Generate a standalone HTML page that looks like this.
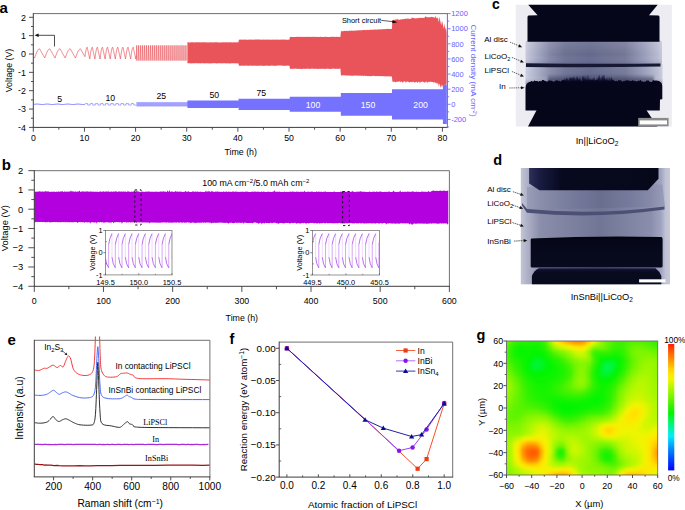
<!DOCTYPE html>
<html><head><meta charset="utf-8"><style>
html,body{margin:0;padding:0;background:#fff;}
svg{display:block;font-family:"Liberation Sans",sans-serif;}
</style></head><body>
<svg width="685" height="510" viewBox="0 0 685 510">
<rect width="685" height="510" fill="#fff"/>
<text x="-0.6" y="13.4" font-size="15" text-anchor="start" fill="#000" font-weight="bold">a</text>
<path d="M34 57.12 L34.26 57.58 L34.51 58.04 L34.77 57.32 L35.02 56.6 L35.28 55.9 L35.53 55.2 L35.79 54.53 L36.05 53.87 L36.3 53.24 L36.56 52.64 L36.81 52.08 L37.07 51.55 L37.32 51.06 L37.58 50.61 L37.84 50.21 L38.09 49.86 L38.35 49.56 L38.6 49.31 L38.86 49.12 L39.11 48.97 L39.37 48.89 L39.63 48.86 L39.88 49.32 L40.14 49.78 L40.39 50.24 L40.65 50.7 L40.9 51.16 L41.16 51.61 L41.42 52.07 L41.67 52.53 L41.93 52.99 L42.18 53.45 L42.44 53.91 L42.69 54.37 L42.95 54.83 L43.21 55.28 L43.46 55.74 L43.72 56.2 L43.97 56.66 L44.23 57.12 L44.48 57.58 L44.74 58.04 L45 57.32 L45.25 56.6 L45.51 55.9 L45.76 55.2 L46.02 54.53 L46.27 53.87 L46.53 53.24 L46.78 52.64 L47.04 52.08 L47.3 51.55 L47.55 51.06 L47.81 50.61 L48.06 50.21 L48.32 49.86 L48.57 49.56 L48.83 49.31 L49.09 49.12 L49.34 48.97 L49.6 48.89 L49.85 48.86 L50.11 49.32 L50.36 49.78 L50.62 50.24 L50.88 50.7 L51.13 51.16 L51.39 51.61 L51.64 52.07 L51.9 52.53 L52.15 52.99 L52.41 53.45 L52.67 53.91 L52.92 54.37 L53.18 54.83 L53.43 55.28 L53.69 55.74 L53.94 56.2 L54.2 56.66 L54.46 57.12 L54.71 57.58 L54.97 58.04 L55.22 57.32 L55.48 56.6 L55.73 55.9 L55.99 55.2 L56.25 54.53 L56.5 53.87 L56.76 53.24 L57.01 52.64 L57.27 52.08 L57.52 51.55 L57.78 51.06 L58.04 50.61 L58.29 50.21 L58.55 49.86 L58.8 49.56 L59.06 49.31 L59.31 49.12 L59.57 48.97 L59.83 48.89 L60.08 48.86 L60.34 49.32 L60.59 49.78 L60.85 50.24 L61.1 50.7 L61.36 51.16 L61.62 51.61 L61.87 52.07 L62.13 52.53 L62.38 52.99 L62.64 53.45 L62.89 53.91 L63.15 54.37 L63.41 54.83 L63.66 55.28 L63.92 55.74 L64.17 56.2 L64.43 56.66 L64.68 57.12 L64.94 57.58 L65.2 58.04 L65.45 57.32 L65.71 56.6 L65.96 55.9 L66.22 55.2 L66.47 54.53 L66.73 53.87 L66.99 53.24 L67.24 52.64 L67.5 52.08 L67.75 51.55 L68.01 51.06 L68.26 50.61 L68.52 50.21 L68.78 49.86 L69.03 49.56 L69.29 49.31 L69.54 49.12 L69.8 48.97 L70.05 48.89 L70.31 48.86 L70.57 49.32 L70.82 49.78 L71.08 50.24 L71.33 50.7 L71.59 51.16 L71.84 51.61 L72.1 52.07 L72.35 52.53 L72.61 52.99 L72.87 53.45 L73.12 53.91 L73.38 54.37 L73.63 54.83 L73.89 55.28 L74.14 55.74 L74.4 56.2 L74.66 56.66 L74.91 57.12 L75.17 57.58 L75.42 58.04 L75.68 57.32 L75.93 56.6 L76.19 55.9 L76.45 55.2 L76.7 54.53 L76.96 53.87 L77.21 53.24 L77.47 52.64 L77.72 52.08 L77.98 51.55 L78.24 51.06 L78.49 50.61 L78.75 50.21 L79 49.86 L79.26 49.56 L79.51 49.31 L79.77 49.12 L80.03 48.97 L80.28 48.89 L80.54 48.86 L80.79 49.32 L81.05 49.78 L81.3 50.24 L81.56 50.7 L81.82 51.16 L82.07 51.61 L82.33 52.07 L82.58 52.53 L82.84 52.99 L83.09 53.45 L83.35 53.91 L83.61 54.37 L83.86 54.83 L84.12 55.28 L84.37 55.74 L84.63 56.2 L84.88 56.66 L85.14 55.33 L85.27 54.46 L85.4 53.62 L85.52 52.82 L85.65 52.05 L85.78 51.33 L85.91 50.65 L86.03 50.02 L86.16 49.45 L86.29 48.94 L86.42 48.49 L86.55 48.1 L86.67 47.79 L86.8 47.53 L86.93 47.36 L87.06 47.25 L87.19 47.21 L87.31 47.8 L87.44 48.38 L87.57 48.97 L87.7 49.56 L87.82 50.15 L87.95 50.73 L88.08 51.32 L88.21 51.91 L88.34 52.5 L88.46 53.08 L88.59 53.67 L88.72 54.26 L88.85 54.84 L88.98 55.43 L89.1 56.02 L89.23 56.61 L89.36 57.19 L89.49 57.78 L89.61 58.37 L89.74 58.95 L89.87 58.03 L90 57.12 L90.13 56.21 L90.25 55.33 L90.38 54.46 L90.51 53.62 L90.64 52.82 L90.77 52.05 L90.89 51.33 L91.02 50.65 L91.15 50.02 L91.28 49.45 L91.4 48.94 L91.53 48.49 L91.66 48.1 L91.79 47.79 L91.92 47.53 L92.04 47.36 L92.17 47.25 L92.3 47.21 L92.43 47.8 L92.56 48.38 L92.68 48.97 L92.81 49.56 L92.94 50.15 L93.07 50.73 L93.19 51.32 L93.32 51.91 L93.45 52.5 L93.58 53.08 L93.71 53.67 L93.83 54.26 L93.96 54.84 L94.09 55.43 L94.22 56.02 L94.35 56.61 L94.47 57.19 L94.6 57.78 L94.73 58.37 L94.86 58.95 L94.98 58.03 L95.11 57.12 L95.24 56.21 L95.37 55.33 L95.5 54.46 L95.62 53.62 L95.75 52.82 L95.88 52.05 L96.01 51.33 L96.14 50.65 L96.26 50.02 L96.39 49.45 L96.52 48.94 L96.65 48.49 L96.77 48.1 L96.9 47.79 L97.03 47.53 L97.16 47.36 L97.29 47.25 L97.41 47.21 L97.54 47.8 L97.67 48.38 L97.8 48.97 L97.93 49.56 L98.05 50.15 L98.18 50.73 L98.31 51.32 L98.44 51.91 L98.56 52.5 L98.69 53.08 L98.82 53.67 L98.95 54.26 L99.08 54.84 L99.2 55.43 L99.33 56.02 L99.46 56.61 L99.59 57.19 L99.71 57.78 L99.84 58.37 L99.97 58.95 L100.1 58.03 L100.23 57.12 L100.35 56.21 L100.48 55.33 L100.61 54.46 L100.74 53.62 L100.87 52.82 L100.99 52.05 L101.12 51.33 L101.25 50.65 L101.38 50.02 L101.5 49.45 L101.63 48.94 L101.76 48.49 L101.89 48.1 L102.02 47.79 L102.14 47.53 L102.27 47.36 L102.4 47.25 L102.53 47.21 L102.66 47.8 L102.78 48.38 L102.91 48.97 L103.04 49.56 L103.17 50.15 L103.29 50.73 L103.42 51.32 L103.55 51.91 L103.68 52.5 L103.81 53.08 L103.93 53.67 L104.06 54.26 L104.19 54.84 L104.32 55.43 L104.45 56.02 L104.57 56.61 L104.7 57.19 L104.83 57.78 L104.96 58.37 L105.08 58.95 L105.21 58.03 L105.34 57.12 L105.47 56.21 L105.6 55.33 L105.72 54.46 L105.85 53.62 L105.98 52.82 L106.11 52.05 L106.24 51.33 L106.36 50.65 L106.49 50.02 L106.62 49.45 L106.75 48.94 L106.87 48.49 L107 48.1 L107.13 47.79 L107.26 47.53 L107.39 47.36 L107.51 47.25 L107.64 47.21 L107.77 47.8 L107.9 48.38 L108.03 48.97 L108.15 49.56 L108.28 50.15 L108.41 50.73 L108.54 51.32 L108.66 51.91 L108.79 52.5 L108.92 53.08 L109.05 53.67 L109.18 54.26 L109.3 54.84 L109.43 55.43 L109.56 56.02 L109.69 56.61 L109.82 57.19 L109.94 57.78 L110.07 58.37 L110.2 58.95 L110.33 58.03 L110.45 57.12 L110.58 56.21 L110.71 55.33 L110.84 54.46 L110.97 53.62 L111.09 52.82 L111.22 52.05 L111.35 51.33 L111.48 50.65 L111.6 50.02 L111.73 49.45 L111.86 48.94 L111.99 48.49 L112.12 48.1 L112.24 47.79 L112.37 47.53 L112.5 47.36 L112.63 47.25 L112.76 47.21 L112.88 47.8 L113.01 48.38 L113.14 48.97 L113.27 49.56 L113.39 50.15 L113.52 50.73 L113.65 51.32 L113.78 51.91 L113.91 52.5 L114.03 53.08 L114.16 53.67 L114.29 54.26 L114.42 54.84 L114.55 55.43 L114.67 56.02 L114.8 56.61 L114.93 57.19 L115.06 57.78 L115.18 58.37 L115.31 58.95 L115.44 58.03 L115.57 57.12 L115.7 56.21 L115.82 55.33 L115.95 54.46 L116.08 53.62 L116.21 52.82 L116.34 52.05 L116.46 51.33 L116.59 50.65 L116.72 50.02 L116.85 49.45 L116.97 48.94 L117.1 48.49 L117.23 48.1 L117.36 47.79 L117.49 47.53 L117.61 47.36 L117.74 47.25 L117.87 47.21 L118 47.8 L118.13 48.38 L118.25 48.97 L118.38 49.56 L118.51 50.15 L118.64 50.73 L118.76 51.32 L118.89 51.91 L119.02 52.5 L119.15 53.08 L119.28 53.67 L119.4 54.26 L119.53 54.84 L119.66 55.43 L119.79 56.02 L119.92 56.61 L120.04 57.19 L120.17 57.78 L120.3 58.37 L120.43 58.95 L120.55 58.03 L120.68 57.12 L120.81 56.21 L120.94 55.33 L121.07 54.46 L121.19 53.62 L121.32 52.82 L121.45 52.05 L121.58 51.33 L121.71 50.65 L121.83 50.02 L121.96 49.45 L122.09 48.94 L122.22 48.49 L122.34 48.1 L122.47 47.79 L122.6 47.53 L122.73 47.36 L122.86 47.25 L122.98 47.21 L123.11 47.8 L123.24 48.38 L123.37 48.97 L123.5 49.56 L123.62 50.15 L123.75 50.73 L123.88 51.32 L124.01 51.91 L124.13 52.5 L124.26 53.08 L124.39 53.67 L124.52 54.26 L124.65 54.84 L124.77 55.43 L124.9 56.02 L125.03 56.61 L125.16 57.19 L125.28 57.78 L125.41 58.37 L125.54 58.95 L125.67 58.03 L125.8 57.12 L125.92 56.21 L126.05 55.33 L126.18 54.46 L126.31 53.62 L126.44 52.82 L126.56 52.05 L126.69 51.33 L126.82 50.65 L126.95 50.02 L127.07 49.45 L127.2 48.94 L127.33 48.49 L127.46 48.1 L127.59 47.79 L127.71 47.53 L127.84 47.36 L127.97 47.25 L128.1 47.21 L128.23 47.8 L128.35 48.38 L128.48 48.97 L128.61 49.56 L128.74 50.15 L128.86 50.73 L128.99 51.32 L129.12 51.91 L129.25 52.5 L129.38 53.08 L129.5 53.67 L129.63 54.26 L129.76 54.84 L129.89 55.43 L130.02 56.02 L130.14 56.61 L130.27 57.19 L130.4 57.78 L130.53 58.37 L130.65 58.95 L130.78 58.03 L130.91 57.12 L131.04 56.21 L131.17 55.33 L131.29 54.46 L131.42 53.62 L131.55 52.82 L131.68 52.05 L131.81 51.33 L131.93 50.65 L132.06 50.02 L132.19 49.45 L132.32 48.94 L132.44 48.49 L132.57 48.1 L132.7 47.79 L132.83 47.53 L132.96 47.36 L133.08 47.25 L133.21 47.21 L133.34 47.8 L133.47 48.38 L133.6 48.97 L133.72 49.56 L133.85 50.15 L133.98 50.73 L134.11 51.32 L134.23 51.91 L134.36 52.5 L134.49 53.08 L134.62 53.67 L134.75 54.26 L134.87 54.84 L135 55.43 L135.13 56.02 L135.26 56.61 L135.39 57.19 L135.51 57.78 L135.64 58.37 L135.77 58.95 L135.9 58.03 L136.02 57.12 L136.15 56.21 L136.28 55.33" stroke="#e9545b" stroke-width="0.75" fill="none" stroke-linejoin="round"/>
<path d="M136.3 60.61 L136.65 45.38 L137.05 60.61 M138.27 60.61 L138.62 45.38 L139.02 60.61 M140.24 60.61 L140.59 45.38 L140.99 60.61 M142.21 60.61 L142.56 45.38 L142.96 60.61 M144.18 60.61 L144.53 45.38 L144.93 60.61 M146.15 60.61 L146.5 45.38 L146.9 60.61 M148.12 60.61 L148.47 45.38 L148.87 60.61 M150.09 60.61 L150.44 45.38 L150.84 60.61 M152.06 60.61 L152.41 45.38 L152.81 60.61 M154.03 60.61 L154.38 45.38 L154.78 60.61 M156 60.61 L156.35 45.38 L156.75 60.61 M157.97 60.61 L158.32 45.38 L158.72 60.61 M159.94 60.61 L160.29 45.38 L160.69 60.61 M161.91 60.61 L162.26 45.38 L162.66 60.61 M163.88 60.61 L164.23 45.38 L164.63 60.61 M165.85 60.61 L166.2 45.38 L166.6 60.61 M167.82 60.61 L168.17 45.38 L168.57 60.61 M169.79 60.61 L170.14 45.38 L170.54 60.61 M171.76 60.61 L172.11 45.38 L172.51 60.61 M173.73 60.61 L174.08 45.38 L174.48 60.61 M175.7 60.61 L176.05 45.38 L176.45 60.61 M177.67 60.61 L178.02 45.38 L178.42 60.61 M179.64 60.61 L179.99 45.38 L180.39 60.61 M181.61 60.61 L181.96 45.38 L182.36 60.61 M183.58 60.61 L183.93 45.38 L184.33 60.61 M185.55 60.61 L185.9 45.38 L186.3 60.61 " stroke="#e9545b" stroke-width="0.62" fill="none" opacity="0.9" stroke-linejoin="round"/>
<rect x="136.3" y="45.38" width="51.12" height="15.23" fill="#e9545b" opacity="0.12"/>
<path d="M187.42 54 L187.42 42.36 L187.92 42.25 L188.42 42.29 L188.92 42.45 L189.42 42.46 L189.92 42.45 L190.42 42.33 L190.92 42.43 L191.42 42.26 L191.92 42.27 L192.42 42.13 L192.92 42.17 L193.42 42.42 L193.92 42.37 L194.42 42.41 L194.92 42.25 L195.42 42.28 L195.92 42.45 L196.42 42.24 L196.92 42.37 L197.42 42.32 L197.92 42.2 L198.42 42.39 L198.92 42.29 L199.42 42.22 L199.92 42.13 L200.42 42.33 L200.92 42.42 L201.42 42.46 L201.92 42.21 L202.42 42.17 L202.92 42.23 L203.42 42.27 L203.92 42.18 L204.42 42.31 L204.92 42.45 L205.42 42.25 L205.92 42.19 L206.42 42.34 L206.92 42.47 L207.42 42.42 L207.92 42.45 L208.42 42.43 L208.92 42.34 L209.42 42.45 L209.92 42.28 L210.42 42.19 L210.92 42.38 L211.42 42.35 L211.92 42.14 L212.42 42.41 L212.92 42.39 L213.42 42.27 L213.92 42.47 L214.42 42.35 L214.92 42.14 L215.42 42.29 L215.92 42.24 L216.42 42.16 L216.92 42.17 L217.42 42.34 L217.92 42.44 L218.42 42.45 L218.92 42.4 L219.42 42.36 L219.92 42.47 L220.42 42.44 L220.92 42.47 L221.42 42.26 L221.92 42.39 L222.42 42.35 L222.92 42.18 L223.42 42.31 L223.92 42.44 L224.42 42.36 L224.92 42.18 L225.42 42.47 L225.92 42.29 L226.42 42.28 L226.92 42.29 L227.42 42.17 L227.92 42.38 L228.42 42.42 L228.92 42.29 L229.42 42.36 L229.92 42.19 L230.42 42.18 L230.92 42.19 L231.42 42.4 L231.92 42.35 L232.42 42.47 L232.92 42.38 L233.42 42.14 L233.92 42.15 L234.42 42.14 L234.92 42.4 L235.42 42.41 L235.92 42.26 L236.42 42.18 L236.92 42.25 L237.42 42.45 L237.92 42.16 L238.42 42.21 L238.92 39.73 L239.42 39.67 L239.92 39.41 L240.42 39.64 L240.92 39.51 L241.42 39.75 L241.92 39.44 L242.42 39.74 L242.92 39.41 L243.42 39.66 L243.92 39.75 L244.42 39.41 L244.92 39.59 L245.42 39.63 L245.92 39.47 L246.42 39.7 L246.92 39.7 L247.42 39.7 L247.92 39.75 L248.42 39.66 L248.92 39.57 L249.42 39.63 L249.92 39.6 L250.42 39.59 L250.92 39.62 L251.42 39.8 L251.92 39.73 L252.42 39.51 L252.92 39.67 L253.42 39.58 L253.92 39.76 L254.42 39.7 L254.92 39.49 L255.42 39.58 L255.92 39.44 L256.42 39.55 L256.92 39.6 L257.42 39.62 L257.92 39.61 L258.42 39.52 L258.92 39.42 L259.42 39.58 L259.92 39.46 L260.42 39.75 L260.92 39.77 L261.42 39.77 L261.92 39.49 L262.42 39.74 L262.92 39.54 L263.42 39.45 L263.92 39.71 L264.42 39.64 L264.92 39.4 L265.42 39.74 L265.92 39.59 L266.42 39.72 L266.92 39.51 L267.42 39.58 L267.92 39.79 L268.42 39.55 L268.92 39.77 L269.42 39.48 L269.92 39.76 L270.42 39.78 L270.92 39.69 L271.42 39.63 L271.92 39.47 L272.42 39.74 L272.92 39.57 L273.42 39.76 L273.92 39.52 L274.42 39.77 L274.92 39.55 L275.42 39.77 L275.92 39.77 L276.42 39.62 L276.92 39.58 L277.42 39.69 L277.92 39.59 L278.42 39.76 L278.92 39.78 L279.42 39.68 L279.92 39.5 L280.42 39.6 L280.92 39.66 L281.42 39.7 L281.92 39.51 L282.42 39.72 L282.92 39.43 L283.42 39.47 L283.92 39.6 L284.42 39.64 L284.92 39.52 L285.42 39.66 L285.92 39.52 L286.42 39.64 L286.92 39.78 L287.42 39.77 L287.92 39.7 L288.42 39.77 L288.92 39.45 L289.42 39.69 L289.92 36.99 L290.42 37.05 L290.92 37.01 L291.42 36.69 L291.92 37.01 L292.42 36.99 L292.92 37.12 L293.42 36.91 L293.92 37.03 L294.42 37.12 L294.92 37.08 L295.42 37.11 L295.92 36.99 L296.42 36.86 L296.92 36.79 L297.42 36.8 L297.92 36.95 L298.42 36.68 L298.92 36.8 L299.42 37.11 L299.92 36.72 L300.42 36.79 L300.92 37.06 L301.42 36.9 L301.92 36.76 L302.42 36.86 L302.92 36.82 L303.42 37.02 L303.92 37.07 L304.42 37.08 L304.92 36.87 L305.42 36.84 L305.92 36.9 L306.42 36.77 L306.92 36.9 L307.42 36.83 L307.92 36.79 L308.42 37.09 L308.92 36.8 L309.42 36.79 L309.92 36.9 L310.42 36.91 L310.92 36.78 L311.42 36.84 L311.92 37.06 L312.42 36.79 L312.92 36.87 L313.42 37.1 L313.92 36.82 L314.42 36.82 L314.92 36.89 L315.42 36.92 L315.92 36.72 L316.42 36.68 L316.92 37.12 L317.42 36.76 L317.92 36.92 L318.42 37.03 L318.92 37.03 L319.42 37.06 L319.92 36.7 L320.42 36.76 L320.92 36.73 L321.42 37.02 L321.92 36.91 L322.42 37.12 L322.92 36.92 L323.42 37.06 L323.92 36.98 L324.42 37.12 L324.92 36.75 L325.42 36.71 L325.92 36.72 L326.42 36.96 L326.92 36.68 L327.42 36.96 L327.92 37 L328.42 37.08 L328.92 37 L329.42 37.01 L329.92 36.9 L330.42 36.96 L330.92 36.73 L331.42 36.84 L331.92 36.7 L332.42 36.8 L332.92 36.8 L333.42 36.79 L333.92 37 L334.42 36.71 L334.92 36.91 L335.42 36.99 L335.92 36.69 L336.42 36.83 L336.92 36.87 L337.42 37.05 L337.92 37.03 L338.42 36.9 L338.92 36.72 L339.42 36.92 L339.92 37.04 L340.42 36.97 L340.92 31.33 L341.42 31.14 L341.92 31.02 L342.42 31.17 L342.92 31.16 L343.42 31.3 L343.92 30.82 L344.42 31.03 L344.92 30.83 L345.42 31.1 L345.92 31.01 L346.42 30.71 L346.92 30.73 L347.42 31.13 L347.92 30.67 L348.42 30.8 L348.92 30.88 L349.42 30.63 L349.92 30.54 L350.42 30.95 L350.92 30.72 L351.42 30.48 L351.92 30.61 L352.42 30.68 L352.92 30.86 L353.42 30.74 L353.92 30.51 L354.42 30.75 L354.92 30.47 L355.42 30.71 L355.92 30.48 L356.42 30.52 L356.92 30.39 L357.42 30.52 L357.92 30.17 L358.42 30.18 L358.92 30.48 L359.42 30.1 L359.92 30.4 L360.42 30.28 L360.92 30.3 L361.42 30.15 L361.92 30.35 L362.42 30.27 L362.92 30.07 L363.42 29.99 L363.92 30.11 L364.42 29.86 L364.92 29.91 L365.42 30.19 L365.92 30.13 L366.42 30 L366.92 30.11 L367.42 29.87 L367.92 30.11 L368.42 30.05 L368.92 30.06 L369.42 30.08 L369.92 29.64 L370.42 29.7 L370.92 29.57 L371.42 29.92 L371.92 29.62 L372.42 29.64 L372.92 29.76 L373.42 29.84 L373.92 29.76 L374.42 29.4 L374.92 29.37 L375.42 29.65 L375.92 29.39 L376.42 29.76 L376.92 29.57 L377.42 29.64 L377.92 29.26 L378.42 29.48 L378.92 29.28 L379.42 29.62 L379.92 29.16 L380.42 29.22 L380.92 29.4 L381.42 29.07 L381.92 29.39 L382.42 29.34 L382.92 29.47 L383.42 28.99 L383.92 28.96 L384.42 29.29 L384.92 28.9 L385.42 29.16 L385.92 29.12 L386.42 28.85 L386.92 28.89 L387.42 28.85 L387.92 28.94 L388.42 29.06 L388.92 28.8 L389.42 29.07 L389.92 29.02 L390.42 29.11 L390.92 28.94 L391.42 28.63 L391.92 28.92 L392.42 20.53 L392.92 20.36 L393.42 19.86 L393.92 19.73 L394.42 19.78 L394.92 20.27 L395.42 20.01 L395.92 18.74 L396.42 19.01 L396.92 20.13 L397.42 19.36 L397.92 18.85 L398.42 19.55 L398.92 19.88 L399.42 19.84 L399.92 19.82 L400.42 19.45 L400.92 19.33 L401.42 19.49 L401.92 19.54 L402.42 19 L402.92 19.08 L403.42 18.95 L403.92 19.5 L404.42 18.79 L404.92 19.11 L405.42 18.69 L405.92 18.61 L406.42 19.01 L406.92 18.58 L407.42 18.65 L407.92 18.57 L408.42 18.81 L408.92 18.42 L409.42 19.15 L409.92 18.58 L410.42 18.72 L410.92 19.04 L411.42 18.33 L411.92 17.76 L412.42 17.16 L412.92 18.2 L413.42 18 L413.92 18.15 L414.42 18.33 L414.92 18.02 L415.42 18.54 L415.92 18.51 L416.42 18.04 L416.92 18.41 L417.42 18.37 L417.92 18.15 L418.42 17.64 L418.92 18.04 L419.42 17.83 L419.92 18.15 L420.42 17.69 L420.92 17.94 L421.42 17.79 L421.92 17.94 L422.42 18 L422.92 17.53 L423.42 17.89 L423.92 17.89 L424.42 17.57 L424.92 17.57 L425.42 16.23 L425.92 16.45 L426.42 16.92 L426.92 17.27 L427.42 17.4 L427.92 17.01 L428.42 17.23 L428.92 17.56 L429.42 17.02 L429.92 17.15 L430.42 17.41 L430.92 16.86 L431.42 16.98 L431.92 16.86 L432.42 17.08 L432.92 17.23 L433.42 17.26 L433.92 17.46 L434.42 17.63 L434.92 17.52 L435.42 17.02 L435.92 15.35 L436 17.4 L437 18.6 L438 17.6 L438.8 22.5 L439.6 16.4 L440.4 21.5 L441.2 25.5 L442 20.5 L442.8 24 L443.6 28.8 L444.4 23.5 L445.2 30 L446 27 L446.6 33 L446.6 40 L446.6 84.7 L446 84.2 L445.2 85.5 L444.4 84.4 L443.6 86 L442.8 84.7 L442 87.5 L441.2 84.5 L440.4 88 L439.6 83.2 L438.8 86.5 L438 82.4 L437 84.2 L436 82.3 L435.92 82.09 L435.42 83.19 L434.92 82.76 L434.42 81.45 L433.92 83.73 L433.42 82 L432.92 82.11 L432.42 81.97 L431.92 81.65 L431.42 82.2 L430.92 81.36 L430.42 81.93 L429.92 81.74 L429.42 82.11 L428.92 82.23 L428.42 82.02 L427.92 81.36 L427.42 83.4 L426.92 81.93 L426.42 81.48 L425.92 83.12 L425.42 81.57 L424.92 81.93 L424.42 82.88 L423.92 81.92 L423.42 82.19 L422.92 81.53 L422.42 81.67 L421.92 81.94 L421.42 81.81 L420.92 81.65 L420.42 82.24 L419.92 83.66 L419.42 81.67 L418.92 82.07 L418.42 81.44 L417.92 82.14 L417.42 83.12 L416.92 82.19 L416.42 81.81 L415.92 81.8 L415.42 82.16 L414.92 82.89 L414.42 82.21 L413.92 82.08 L413.42 81.47 L412.92 82.82 L412.42 81.39 L411.92 82.31 L411.42 82.05 L410.92 81.91 L410.42 81.94 L409.92 81.63 L409.42 83.3 L408.92 81.39 L408.42 82.19 L407.92 81.51 L407.42 81.55 L406.92 81.91 L406.42 81.4 L405.92 83.41 L405.42 81.45 L404.92 81.48 L404.42 81.43 L403.92 81.36 L403.42 81.72 L402.92 83.34 L402.42 82.25 L401.92 81.86 L401.42 81.6 L400.92 81.43 L400.42 82.2 L399.92 81.63 L399.42 81.36 L398.92 81.58 L398.42 81.55 L397.92 82.05 L397.42 81.69 L396.92 81.52 L396.42 82.11 L395.92 81.94 L395.42 82.24 L394.92 82.15 L394.42 81.53 L393.92 81.61 L393.42 82.11 L392.92 81.73 L392.42 81.8 L391.92 76.19 L391.42 76.63 L390.92 76.62 L390.42 76.4 L389.92 76.14 L389.42 76.48 L388.92 76.13 L388.42 76.26 L387.92 76.23 L387.42 76.45 L386.92 76.42 L386.42 76.13 L385.92 76.28 L385.42 76.15 L384.92 76.49 L384.42 76.24 L383.92 76 L383.42 76.3 L382.92 76.35 L382.42 76.1 L381.92 76.31 L381.42 76.25 L380.92 76.07 L380.42 76.37 L379.92 76.04 L379.42 75.94 L378.92 75.91 L378.42 76.29 L377.92 75.89 L377.42 76.05 L376.92 76.32 L376.42 76.08 L375.92 76.05 L375.42 76.24 L374.92 75.92 L374.42 75.87 L373.92 75.97 L373.42 75.79 L372.92 75.94 L372.42 75.96 L371.92 75.77 L371.42 76.22 L370.92 75.9 L370.42 76.23 L369.92 76.16 L369.42 75.91 L368.92 75.73 L368.42 76.18 L367.92 75.88 L367.42 76.14 L366.92 75.87 L366.42 75.74 L365.92 76.12 L365.42 76.01 L364.92 75.74 L364.42 75.77 L363.92 75.7 L363.42 75.96 L362.92 75.68 L362.42 75.78 L361.92 75.58 L361.42 76.02 L360.92 75.67 L360.42 75.87 L359.92 75.53 L359.42 75.87 L358.92 75.63 L358.42 75.73 L357.92 75.81 L357.42 75.7 L356.92 75.47 L356.42 75.57 L355.92 75.74 L355.42 75.47 L354.92 75.77 L354.42 75.54 L353.92 75.56 L353.42 75.86 L352.92 75.78 L352.42 75.65 L351.92 75.75 L351.42 75.72 L350.92 75.69 L350.42 75.41 L349.92 75.45 L349.42 75.75 L348.92 75.77 L348.42 75.3 L347.92 75.53 L347.42 75.63 L346.92 75.28 L346.42 75.68 L345.92 75.47 L345.42 75.36 L344.92 75.34 L344.42 75.53 L343.92 75.27 L343.42 75.34 L342.92 75.36 L342.42 75.44 L341.92 75.38 L341.42 75.6 L340.92 75.28 L340.42 68.62 L339.92 68.62 L339.42 68.64 L338.92 69.02 L338.42 68.67 L337.92 68.98 L337.42 68.65 L336.92 68.75 L336.42 68.71 L335.92 68.69 L335.42 68.91 L334.92 68.73 L334.42 68.63 L333.92 68.6 L333.42 68.87 L332.92 68.78 L332.42 68.6 L331.92 68.82 L331.42 68.99 L330.92 68.94 L330.42 69.01 L329.92 68.66 L329.42 68.69 L328.92 69 L328.42 68.95 L327.92 68.6 L327.42 68.77 L326.92 68.84 L326.42 68.75 L325.92 68.71 L325.42 68.9 L324.92 68.63 L324.42 68.91 L323.92 68.95 L323.42 68.73 L322.92 68.71 L322.42 68.8 L321.92 68.59 L321.42 68.98 L320.92 68.89 L320.42 68.8 L319.92 68.63 L319.42 68.81 L318.92 68.84 L318.42 69 L317.92 68.7 L317.42 69.01 L316.92 68.78 L316.42 69 L315.92 68.66 L315.42 68.63 L314.92 68.78 L314.42 68.71 L313.92 68.89 L313.42 68.7 L312.92 68.58 L312.42 68.71 L311.92 68.69 L311.42 68.61 L310.92 68.85 L310.42 68.88 L309.92 68.75 L309.42 69.01 L308.92 68.67 L308.42 68.69 L307.92 68.69 L307.42 68.6 L306.92 68.82 L306.42 68.91 L305.92 68.58 L305.42 68.88 L304.92 68.86 L304.42 68.95 L303.92 68.74 L303.42 68.59 L302.92 68.89 L302.42 68.98 L301.92 68.95 L301.42 68.95 L300.92 68.81 L300.42 68.94 L299.92 68.86 L299.42 68.95 L298.92 68.86 L298.42 68.64 L297.92 68.72 L297.42 68.97 L296.92 68.87 L296.42 68.81 L295.92 68.68 L295.42 68.59 L294.92 68.75 L294.42 68.69 L293.92 68.8 L293.42 68.8 L292.92 68.75 L292.42 68.74 L291.92 69.01 L291.42 68.82 L290.92 69.01 L290.42 68.78 L289.92 68.78 L289.42 65.6 L288.92 65.77 L288.42 65.84 L287.92 65.57 L287.42 65.8 L286.92 65.55 L286.42 65.64 L285.92 65.75 L285.42 65.83 L284.92 65.89 L284.42 65.7 L283.92 65.83 L283.42 65.67 L282.92 65.54 L282.42 65.69 L281.92 65.72 L281.42 65.51 L280.92 65.51 L280.42 65.57 L279.92 65.62 L279.42 65.62 L278.92 65.58 L278.42 65.56 L277.92 65.6 L277.42 65.55 L276.92 65.87 L276.42 65.64 L275.92 65.85 L275.42 65.84 L274.92 65.82 L274.42 65.88 L273.92 65.67 L273.42 65.52 L272.92 65.78 L272.42 65.87 L271.92 65.6 L271.42 65.86 L270.92 65.55 L270.42 65.81 L269.92 65.61 L269.42 65.89 L268.92 65.89 L268.42 65.7 L267.92 65.63 L267.42 65.68 L266.92 65.51 L266.42 65.63 L265.92 65.64 L265.42 65.67 L264.92 65.83 L264.42 65.69 L263.92 65.88 L263.42 65.89 L262.92 65.56 L262.42 65.79 L261.92 65.86 L261.42 65.77 L260.92 65.6 L260.42 65.68 L259.92 65.55 L259.42 65.88 L258.92 65.6 L258.42 65.85 L257.92 65.88 L257.42 65.71 L256.92 65.78 L256.42 65.7 L255.92 65.68 L255.42 65.8 L254.92 65.7 L254.42 65.61 L253.92 65.72 L253.42 65.81 L252.92 65.71 L252.42 65.72 L251.92 65.69 L251.42 65.82 L250.92 65.57 L250.42 65.51 L249.92 65.71 L249.42 65.87 L248.92 65.86 L248.42 65.68 L247.92 65.86 L247.42 65.67 L246.92 65.73 L246.42 65.62 L245.92 65.58 L245.42 65.85 L244.92 65.87 L244.42 65.76 L243.92 65.51 L243.42 65.72 L242.92 65.76 L242.42 65.83 L241.92 65.82 L241.42 65.56 L240.92 65.57 L240.42 65.88 L239.92 65.66 L239.42 65.82 L238.92 65.82 L238.42 63.29 L237.92 63.4 L237.42 63.36 L236.92 63.4 L236.42 63.29 L235.92 63.44 L235.42 63.2 L234.92 63.2 L234.42 63.25 L233.92 63.47 L233.42 63.28 L232.92 63.37 L232.42 63.22 L231.92 63.14 L231.42 63.31 L230.92 63.38 L230.42 63.41 L229.92 63.47 L229.42 63.2 L228.92 63.4 L228.42 63.4 L227.92 63.25 L227.42 63.37 L226.92 63.47 L226.42 63.13 L225.92 63.18 L225.42 63.46 L224.92 63.18 L224.42 63.22 L223.92 63.16 L223.42 63.29 L222.92 63.47 L222.42 63.17 L221.92 63.25 L221.42 63.18 L220.92 63.43 L220.42 63.25 L219.92 63.18 L219.42 63.14 L218.92 63.18 L218.42 63.15 L217.92 63.35 L217.42 63.26 L216.92 63.4 L216.42 63.4 L215.92 63.14 L215.42 63.34 L214.92 63.37 L214.42 63.32 L213.92 63.27 L213.42 63.22 L212.92 63.29 L212.42 63.21 L211.92 63.18 L211.42 63.43 L210.92 63.27 L210.42 63.43 L209.92 63.43 L209.42 63.28 L208.92 63.43 L208.42 63.21 L207.92 63.39 L207.42 63.17 L206.92 63.29 L206.42 63.36 L205.92 63.22 L205.42 63.47 L204.92 63.37 L204.42 63.36 L203.92 63.46 L203.42 63.28 L202.92 63.33 L202.42 63.23 L201.92 63.33 L201.42 63.36 L200.92 63.3 L200.42 63.39 L199.92 63.17 L199.42 63.23 L198.92 63.43 L198.42 63.33 L197.92 63.37 L197.42 63.23 L196.92 63.33 L196.42 63.27 L195.92 63.2 L195.42 63.15 L194.92 63.26 L194.42 63.33 L193.92 63.41 L193.42 63.17 L192.92 63.23 L192.42 63.14 L191.92 63.26 L191.42 63.46 L190.92 63.2 L190.42 63.41 L189.92 63.16 L189.42 63.28 L188.92 63.3 L188.42 63.25 L187.92 63.15 L187.42 63.18Z" stroke="none" stroke-width="1" fill="#e9545b"/>
<path d="M34 104.37 L34.51 104.3 L35.02 104.23 L35.53 104.17 L36.05 104.12 L36.56 104.08 L37.07 104.07 L37.58 104.08 L38.09 104.12 L38.6 104.17 L39.11 104.23 L39.63 104.3 L40.14 104.37 L40.65 104.43 L41.16 104.48 L41.67 104.52 L42.18 104.53 L42.69 104.52 L43.21 104.48 L43.72 104.43 L44.23 104.37 L44.74 104.3 L45.25 104.23 L45.76 104.17 L46.27 104.12 L46.79 104.08 L47.3 104.07 L47.81 104.08 L48.32 104.12 L48.83 104.17 L49.34 104.23 L49.85 104.3 L50.36 104.37 L50.88 104.43 L51.39 104.48 L51.9 104.52 L52.41 104.53 L52.92 104.52 L53.43 104.48 L53.94 104.43 L54.46 104.37 L54.97 104.3 L55.48 104.23 L55.99 104.17 L56.5 104.12 L57.01 104.08 L57.52 104.07 L58.04 104.08 L58.55 104.12 L59.06 104.17 L59.57 104.23 L60.08 104.3 L60.59 104.37 L61.1 104.43 L61.62 104.48 L62.13 104.52 L62.64 104.53 L63.15 104.52 L63.66 104.48 L64.17 104.43 L64.68 104.37 L65.2 104.3 L65.71 104.23 L66.22 104.17 L66.73 104.12 L67.24 104.08 L67.75 104.07 L68.26 104.08 L68.78 104.12 L69.29 104.17 L69.8 104.23 L70.31 104.3 L70.82 104.37 L71.33 104.43 L71.84 104.48 L72.35 104.52 L72.87 104.53 L73.38 104.52 L73.89 104.48 L74.4 104.43 L74.91 104.37 L75.42 104.3 L75.93 104.23 L76.45 104.17 L76.96 104.12 L77.47 104.08 L77.98 104.07 L78.49 104.08 L79 104.12 L79.51 104.17 L80.03 104.23 L80.54 104.3 L81.05 104.37 L81.56 104.43 L82.07 104.48 L82.58 104.52 L83.09 104.53 L83.61 104.52 L84.12 104.48 L84.63 104.43 L85.14 104.37" stroke="#6a6aff" stroke-width="0.9" fill="none"/>
<path d="M85.14 103.54 L87.7 103.54 L87.7 105.06 L90.25 105.06 L90.25 103.54 L92.81 103.54 L92.81 105.06 L95.37 105.06 L95.37 103.54 L97.92 103.54 L97.92 105.06 L100.48 105.06 L100.48 103.54 L103.04 103.54 L103.04 105.06 L105.6 105.06 L105.6 103.54 L108.15 103.54 L108.15 105.06 L110.71 105.06 L110.71 103.54 L113.27 103.54 L113.27 105.06 L115.82 105.06 L115.82 103.54 L118.38 103.54 L118.38 105.06 L120.94 105.06 L120.94 103.54 L123.5 103.54 L123.5 105.06 L126.05 105.06 L126.05 103.54 L128.61 103.54 L128.61 105.06 L131.17 105.06 L131.17 103.54 L133.72 103.54 L133.72 105.06 L136.28 105.06" stroke="#7472ff" stroke-width="0.7" fill="none" opacity="0.85"/>
<path d="M136.28 102.41 L136.79 102.41 L136.79 106.19 L137.3 106.19 L137.3 102.41 L137.81 102.41 L137.81 106.19 L138.33 106.19 L138.33 102.41 L138.84 102.41 L138.84 106.19 L139.35 106.19 L139.35 102.41 L139.86 102.41 L139.86 106.19 L140.37 106.19 L140.37 102.41 L140.88 102.41 L140.88 106.19 L141.39 106.19 L141.39 102.41 L141.91 102.41 L141.91 106.19 L142.42 106.19 L142.42 102.41 L142.93 102.41 L142.93 106.19 L143.44 106.19 L143.44 102.41 L143.95 102.41 L143.95 106.19 L144.46 106.19 L144.46 102.41 L144.97 102.41 L144.97 106.19 L145.49 106.19 L145.49 102.41 L146 102.41 L146 106.19 L146.51 106.19 L146.51 102.41 L147.02 102.41 L147.02 106.19 L147.53 106.19 L147.53 102.41 L148.04 102.41 L148.04 106.19 L148.55 106.19 L148.55 102.41 L149.06 102.41 L149.06 106.19 L149.58 106.19 L149.58 102.41 L150.09 102.41 L150.09 106.19 L150.6 106.19 L150.6 102.41 L151.11 102.41 L151.11 106.19 L151.62 106.19 L151.62 102.41 L152.13 102.41 L152.13 106.19 L152.64 106.19 L152.64 102.41 L153.16 102.41 L153.16 106.19 L153.67 106.19 L153.67 102.41 L154.18 102.41 L154.18 106.19 L154.69 106.19 L154.69 102.41 L155.2 102.41 L155.2 106.19 L155.71 106.19 L155.71 102.41 L156.22 102.41 L156.22 106.19 L156.74 106.19 L156.74 102.41 L157.25 102.41 L157.25 106.19 L157.76 106.19 L157.76 102.41 L158.27 102.41 L158.27 106.19 L158.78 106.19 L158.78 102.41 L159.29 102.41 L159.29 106.19 L159.8 106.19 L159.8 102.41 L160.32 102.41 L160.32 106.19 L160.83 106.19 L160.83 102.41 L161.34 102.41 L161.34 106.19 L161.85 106.19 L161.85 102.41 L162.36 102.41 L162.36 106.19 L162.87 106.19 L162.87 102.41 L163.38 102.41 L163.38 106.19 L163.9 106.19 L163.9 102.41 L164.41 102.41 L164.41 106.19 L164.92 106.19 L164.92 102.41 L165.43 102.41 L165.43 106.19 L165.94 106.19 L165.94 102.41 L166.45 102.41 L166.45 106.19 L166.96 106.19 L166.96 102.41 L167.48 102.41 L167.48 106.19 L167.99 106.19 L167.99 102.41 L168.5 102.41 L168.5 106.19 L169.01 106.19 L169.01 102.41 L169.52 102.41 L169.52 106.19 L170.03 106.19 L170.03 102.41 L170.54 102.41 L170.54 106.19 L171.06 106.19 L171.06 102.41 L171.57 102.41 L171.57 106.19 L172.08 106.19 L172.08 102.41 L172.59 102.41 L172.59 106.19 L173.1 106.19 L173.1 102.41 L173.61 102.41 L173.61 106.19 L174.12 106.19 L174.12 102.41 L174.63 102.41 L174.63 106.19 L175.15 106.19 L175.15 102.41 L175.66 102.41 L175.66 106.19 L176.17 106.19 L176.17 102.41 L176.68 102.41 L176.68 106.19 L177.19 106.19 L177.19 102.41 L177.7 102.41 L177.7 106.19 L178.21 106.19 L178.21 102.41 L178.73 102.41 L178.73 106.19 L179.24 106.19 L179.24 102.41 L179.75 102.41 L179.75 106.19 L180.26 106.19 L180.26 102.41 L180.77 102.41 L180.77 106.19 L181.28 106.19 L181.28 102.41 L181.79 102.41 L181.79 106.19 L182.31 106.19 L182.31 102.41 L182.82 102.41 L182.82 106.19 L183.33 106.19 L183.33 102.41 L183.84 102.41 L183.84 106.19 L184.35 106.19 L184.35 102.41 L184.86 102.41 L184.86 106.19 L185.37 106.19 L185.37 102.41 L185.89 102.41 L185.89 106.19 L186.4 106.19 L186.4 102.41 L186.91 102.41 L186.91 106.19 L187.42 106.19 L187.42 102.41 L187.93 102.41 L187.93 106.19 L188.44 106.19" stroke="#7472ff" stroke-width="0.5" fill="none" opacity="0.9"/>
<path d="M187.42 100.52 H238.56 V108.08 H187.42 Z M238.56 98.63 H289.7 V109.97 H238.56 Z M289.7 96.74 H340.84 V111.86 H289.7 Z M340.84 92.96 H391.98 V115.64 H340.84 Z M391.98 89.18 H445.17 V119.42 H391.98 Z M442.9 84.7 H446.8 V124 H442.9 Z" stroke="none" stroke-width="1" fill="#7472ff"/>
<text x="59.7" y="101.5" font-size="8.7" text-anchor="middle" fill="#000">5</text>
<text x="110.3" y="101.2" font-size="8.7" text-anchor="middle" fill="#000">10</text>
<text x="161.3" y="99" font-size="8.7" text-anchor="middle" fill="#000">25</text>
<text x="214.3" y="98.2" font-size="8.7" text-anchor="middle" fill="#000">50</text>
<text x="261.3" y="96.3" font-size="8.7" text-anchor="middle" fill="#000">75</text>
<text x="313" y="107.6" font-size="8.7" text-anchor="middle" fill="#ffffff">100</text>
<text x="368" y="107.6" font-size="8.7" text-anchor="middle" fill="#ffffff">150</text>
<text x="420.6" y="107.6" font-size="8.7" text-anchor="middle" fill="#ffffff">200</text>
<text x="341.9" y="22.6" font-size="7.45" text-anchor="start" fill="#000">Short circuit</text>
<line x1="381.3" y1="20.4" x2="393.5" y2="21.7" stroke="#000" stroke-width="0.65"/>
<path d="M397.4 22.2 L392.6 20.3 L392.3 23.3 Z" stroke="none" stroke-width="1" fill="#000"/>
<path d="M54.5 46.5 V35.3 H37.5" stroke="#222" stroke-width="0.8" fill="none"/>
<path d="M34.5 35.3 L38.6 33.6 L38.6 37.0 Z" stroke="none" stroke-width="1" fill="#111"/>
<path d="M33.3 13.6 H447.4" stroke="#707070" stroke-width="1.0" fill="none"/>
<line x1="33.3" y1="13.1" x2="33.3" y2="127.4" stroke="#3c3c3c" stroke-width="1.0"/>
<line x1="32.8" y1="127.4" x2="447.4" y2="127.4" stroke="#3c3c3c" stroke-width="1.0"/>
<line x1="447.4" y1="13.1" x2="447.4" y2="127.9" stroke="#6262ff" stroke-width="1.0"/>
<line x1="29" y1="127.4" x2="33.3" y2="127.4" stroke="#3c3c3c" stroke-width="0.9"/>
<text x="26" y="130.6" font-size="8.9" text-anchor="end" fill="#000"><tspan dy="-0.5">-</tspan><tspan dy="0.5">4</tspan></text>
<line x1="29" y1="109.05" x2="33.3" y2="109.05" stroke="#3c3c3c" stroke-width="0.9"/>
<text x="26" y="112.25" font-size="8.9" text-anchor="end" fill="#000"><tspan dy="-0.5">-</tspan><tspan dy="0.5">3</tspan></text>
<line x1="29" y1="90.7" x2="33.3" y2="90.7" stroke="#3c3c3c" stroke-width="0.9"/>
<text x="26" y="93.9" font-size="8.9" text-anchor="end" fill="#000"><tspan dy="-0.5">-</tspan><tspan dy="0.5">2</tspan></text>
<line x1="29" y1="72.35" x2="33.3" y2="72.35" stroke="#3c3c3c" stroke-width="0.9"/>
<text x="26" y="75.55" font-size="8.9" text-anchor="end" fill="#000"><tspan dy="-0.5">-</tspan><tspan dy="0.5">1</tspan></text>
<line x1="29" y1="54" x2="33.3" y2="54" stroke="#3c3c3c" stroke-width="0.9"/>
<text x="26" y="57.2" font-size="8.9" text-anchor="end" fill="#000">0</text>
<line x1="29" y1="35.65" x2="33.3" y2="35.65" stroke="#3c3c3c" stroke-width="0.9"/>
<text x="26" y="38.85" font-size="8.9" text-anchor="end" fill="#000">1</text>
<line x1="29" y1="17.3" x2="33.3" y2="17.3" stroke="#3c3c3c" stroke-width="0.9"/>
<text x="26" y="20.5" font-size="8.9" text-anchor="end" fill="#000">2</text>
<line x1="31" y1="118.23" x2="33.3" y2="118.23" stroke="#3c3c3c" stroke-width="0.9"/>
<line x1="31" y1="99.88" x2="33.3" y2="99.88" stroke="#3c3c3c" stroke-width="0.9"/>
<line x1="31" y1="81.53" x2="33.3" y2="81.53" stroke="#3c3c3c" stroke-width="0.9"/>
<line x1="31" y1="63.17" x2="33.3" y2="63.17" stroke="#3c3c3c" stroke-width="0.9"/>
<line x1="31" y1="44.83" x2="33.3" y2="44.83" stroke="#3c3c3c" stroke-width="0.9"/>
<line x1="31" y1="26.47" x2="33.3" y2="26.47" stroke="#3c3c3c" stroke-width="0.9"/>
<line x1="33.3" y1="127.4" x2="33.3" y2="131.7" stroke="#3c3c3c" stroke-width="0.9"/>
<text x="33.3" y="141.4" font-size="8.7" text-anchor="middle" fill="#000">0</text>
<line x1="84.44" y1="127.4" x2="84.44" y2="131.7" stroke="#3c3c3c" stroke-width="0.9"/>
<text x="84.44" y="141.4" font-size="8.7" text-anchor="middle" fill="#000">10</text>
<line x1="135.58" y1="127.4" x2="135.58" y2="131.7" stroke="#3c3c3c" stroke-width="0.9"/>
<text x="135.58" y="141.4" font-size="8.7" text-anchor="middle" fill="#000">20</text>
<line x1="186.72" y1="127.4" x2="186.72" y2="131.7" stroke="#3c3c3c" stroke-width="0.9"/>
<text x="186.72" y="141.4" font-size="8.7" text-anchor="middle" fill="#000">30</text>
<line x1="237.86" y1="127.4" x2="237.86" y2="131.7" stroke="#3c3c3c" stroke-width="0.9"/>
<text x="237.86" y="141.4" font-size="8.7" text-anchor="middle" fill="#000">40</text>
<line x1="289" y1="127.4" x2="289" y2="131.7" stroke="#3c3c3c" stroke-width="0.9"/>
<text x="289" y="141.4" font-size="8.7" text-anchor="middle" fill="#000">50</text>
<line x1="340.14" y1="127.4" x2="340.14" y2="131.7" stroke="#3c3c3c" stroke-width="0.9"/>
<text x="340.14" y="141.4" font-size="8.7" text-anchor="middle" fill="#000">60</text>
<line x1="391.28" y1="127.4" x2="391.28" y2="131.7" stroke="#3c3c3c" stroke-width="0.9"/>
<text x="391.28" y="141.4" font-size="8.7" text-anchor="middle" fill="#000">70</text>
<line x1="442.42" y1="127.4" x2="442.42" y2="131.7" stroke="#3c3c3c" stroke-width="0.9"/>
<text x="442.42" y="141.4" font-size="8.7" text-anchor="middle" fill="#000">80</text>
<line x1="58.87" y1="127.4" x2="58.87" y2="129.7" stroke="#3c3c3c" stroke-width="0.9"/>
<line x1="110.01" y1="127.4" x2="110.01" y2="129.7" stroke="#3c3c3c" stroke-width="0.9"/>
<line x1="161.15" y1="127.4" x2="161.15" y2="129.7" stroke="#3c3c3c" stroke-width="0.9"/>
<line x1="212.29" y1="127.4" x2="212.29" y2="129.7" stroke="#3c3c3c" stroke-width="0.9"/>
<line x1="263.43" y1="127.4" x2="263.43" y2="129.7" stroke="#3c3c3c" stroke-width="0.9"/>
<line x1="314.57" y1="127.4" x2="314.57" y2="129.7" stroke="#3c3c3c" stroke-width="0.9"/>
<line x1="365.71" y1="127.4" x2="365.71" y2="129.7" stroke="#3c3c3c" stroke-width="0.9"/>
<line x1="416.85" y1="127.4" x2="416.85" y2="129.7" stroke="#3c3c3c" stroke-width="0.9"/>
<text x="240.7" y="154.6" font-size="8.8" text-anchor="middle" fill="#000">Time (h)</text>
<line x1="447.4" y1="119.42" x2="450.6" y2="119.42" stroke="#6262ff" stroke-width="0.8"/>
<text x="451.2" y="122.12" font-size="7.5" text-anchor="start" fill="#6262ff"><tspan dy="-0.5">-</tspan><tspan dy="0.5">200</tspan></text>
<line x1="447.4" y1="104.3" x2="450.6" y2="104.3" stroke="#6262ff" stroke-width="0.8"/>
<text x="451.2" y="107" font-size="7.5" text-anchor="start" fill="#6262ff">0</text>
<line x1="447.4" y1="89.18" x2="450.6" y2="89.18" stroke="#6262ff" stroke-width="0.8"/>
<text x="451.2" y="91.88" font-size="7.5" text-anchor="start" fill="#6262ff">200</text>
<line x1="447.4" y1="74.06" x2="450.6" y2="74.06" stroke="#6262ff" stroke-width="0.8"/>
<text x="451.2" y="76.76" font-size="7.5" text-anchor="start" fill="#6262ff">400</text>
<line x1="447.4" y1="58.94" x2="450.6" y2="58.94" stroke="#6262ff" stroke-width="0.8"/>
<text x="451.2" y="61.64" font-size="7.5" text-anchor="start" fill="#6262ff">600</text>
<line x1="447.4" y1="43.82" x2="450.6" y2="43.82" stroke="#6262ff" stroke-width="0.8"/>
<text x="451.2" y="46.52" font-size="7.5" text-anchor="start" fill="#6262ff">800</text>
<line x1="447.4" y1="28.7" x2="450.6" y2="28.7" stroke="#6262ff" stroke-width="0.8"/>
<text x="451.2" y="31.4" font-size="7.5" text-anchor="start" fill="#6262ff">1000</text>
<line x1="447.4" y1="13.58" x2="450.6" y2="13.58" stroke="#6262ff" stroke-width="0.8"/>
<text x="451.2" y="16.28" font-size="7.5" text-anchor="start" fill="#6262ff">1200</text>
<line x1="447.4" y1="126.98" x2="449.2" y2="126.98" stroke="#6262ff" stroke-width="0.8"/>
<line x1="447.4" y1="111.86" x2="449.2" y2="111.86" stroke="#6262ff" stroke-width="0.8"/>
<line x1="447.4" y1="96.74" x2="449.2" y2="96.74" stroke="#6262ff" stroke-width="0.8"/>
<line x1="447.4" y1="81.62" x2="449.2" y2="81.62" stroke="#6262ff" stroke-width="0.8"/>
<line x1="447.4" y1="66.5" x2="449.2" y2="66.5" stroke="#6262ff" stroke-width="0.8"/>
<line x1="447.4" y1="51.38" x2="449.2" y2="51.38" stroke="#6262ff" stroke-width="0.8"/>
<line x1="447.4" y1="36.26" x2="449.2" y2="36.26" stroke="#6262ff" stroke-width="0.8"/>
<line x1="447.4" y1="21.14" x2="449.2" y2="21.14" stroke="#6262ff" stroke-width="0.8"/>
<text transform="translate(11.9 70.5) rotate(-90)" font-size="8.8" text-anchor="middle">Voltage (V)</text>
<text transform="translate(470.6 70.5) rotate(90)" font-size="8.1" text-anchor="middle" fill="#6262ff">Current density (mA cm<tspan font-size="5.5" dy="-2.8">-2</tspan><tspan dy="2.8">)</tspan></text>
<text x="1.8" y="169.6" font-size="15" text-anchor="start" fill="#000" font-weight="bold">b</text>
<path d="M34.3 191.64 L34.9 191.62 L35.5 191.72 L36.1 191.81 L36.7 191.81 L37.3 191.46 L37.9 191.67 L38.5 191.64 L39.1 191.06 L39.7 191.49 L40.3 191.82 L40.9 191.36 L41.5 191.65 L42.1 191.44 L42.7 191.52 L43.3 191.85 L43.9 191.53 L44.5 191.53 L45.1 191.8 L45.7 190.64 L46.3 191.44 L46.9 191.56 L47.5 191.53 L48.1 191.34 L48.7 191.45 L49.3 191.88 L49.9 191.66 L50.5 191.78 L51.1 191.78 L51.7 191.84 L52.3 191.63 L52.9 191.7 L53.5 191.63 L54.1 191.41 L54.7 191.69 L55.3 191.91 L55.9 191.73 L56.5 191.52 L57.1 191.88 L57.7 191.83 L58.3 191.35 L58.9 191.83 L59.5 191.83 L60.1 191.38 L60.7 191.38 L61.3 191.5 L61.9 191.39 L62.5 191 L63.1 191.63 L63.7 191.92 L64.3 191.52 L64.9 191.35 L65.5 191.91 L66.1 191.72 L66.7 191.38 L67.3 191.72 L67.9 191.61 L68.5 191.67 L69.1 191.43 L69.7 191.62 L70.3 191.73 L70.9 190.24 L71.5 191.6 L72.1 191.37 L72.7 191.38 L73.3 191.51 L73.9 191.53 L74.5 191.82 L75.1 191.54 L75.7 191.59 L76.3 191.74 L76.9 191.68 L77.5 191.59 L78.1 191.58 L78.7 191.68 L79.3 190.61 L79.9 191.35 L80.5 191.92 L81.1 191.82 L81.7 191.42 L82.3 191.51 L82.9 191.33 L83.5 191.45 L84.1 191.84 L84.7 191.59 L85.3 191.46 L85.9 191.69 L86.5 191.47 L87.1 191.35 L87.7 191.58 L88.3 191.75 L88.9 191.53 L89.5 191.77 L90.1 191.59 L90.7 191.45 L91.3 191.43 L91.9 191.73 L92.5 191.82 L93.1 191.58 L93.7 191.79 L94.3 191.89 L94.9 191.6 L95.5 191.66 L96.1 191.84 L96.7 191.7 L97.3 191.72 L97.9 191.85 L98.5 191.93 L99.1 191.66 L99.7 191.69 L100.3 191.01 L100.9 191.9 L101.5 191.67 L102.1 191.59 L102.7 191.8 L103.3 191.55 L103.9 191.37 L104.5 191.74 L105.1 191.92 L105.7 191.36 L106.3 191.39 L106.9 191.5 L107.5 191.88 L108.1 190.58 L108.7 191.93 L109.3 191.43 L109.9 191.9 L110.5 191.68 L111.1 191.58 L111.7 191.62 L112.3 191.71 L112.9 191.76 L113.5 191.42 L114.1 191.56 L114.7 191.8 L115.3 191.36 L115.9 191.42 L116.5 191.37 L117.1 191.88 L117.7 191.85 L118.3 191.62 L118.9 191.53 L119.5 191.6 L120.1 191.59 L120.7 191.84 L121.3 191.53 L121.9 191.46 L122.5 191.68 L123.1 191.47 L123.7 191.61 L124.3 191.66 L124.9 191.45 L125.5 191.52 L126.1 191.67 L126.7 191.95 L127.3 191.91 L127.9 190.47 L128.5 191.65 L129.1 191.54 L129.7 191.67 L130.3 191.89 L130.9 191.63 L131.5 191.41 L132.1 191.66 L132.7 191.77 L133.3 191.38 L133.9 191.46 L134.5 191.41 L135.1 191.75 L135.7 191.67 L136.3 191.51 L136.9 190.29 L137.5 191.57 L138.1 191.6 L138.7 191.41 L139.3 191.9 L139.9 191.82 L140.5 191.9 L141.1 191.8 L141.7 191.47 L142.3 191.86 L142.9 191.61 L143.5 191.85 L144.1 191.97 L144.7 191.65 L145.3 191.8 L145.9 191.46 L146.5 191.72 L147.1 191.41 L147.7 191.77 L148.3 191.49 L148.9 191.53 L149.5 191.43 L150.1 191.63 L150.7 191.73 L151.3 191.76 L151.9 191.81 L152.5 191.79 L153.1 191.72 L153.7 191.64 L154.3 191.79 L154.9 191.86 L155.5 191.65 L156.1 191.67 L156.7 191.58 L157.3 191.78 L157.9 191.93 L158.5 191.65 L159.1 191.73 L159.7 191.67 L160.3 191.4 L160.9 191.45 L161.5 191.46 L162.1 191.69 L162.7 191.61 L163.3 191.61 L163.9 191.26 L164.5 191.64 L165.1 191.66 L165.7 191.4 L166.3 191.9 L166.9 191.89 L167.5 190.13 L168.1 191.57 L168.7 191.94 L169.3 190.12 L169.9 191.42 L170.5 191.97 L171.1 191.46 L171.7 191.42 L172.3 191.77 L172.9 191.48 L173.5 191.9 L174.1 191.83 L174.7 191.77 L175.3 191.51 L175.9 190.64 L176.5 191.91 L177.1 191.5 L177.7 191.52 L178.3 191.78 L178.9 191.7 L179.5 191.58 L180.1 191.78 L180.7 191.48 L181.3 191.84 L181.9 191.67 L182.5 191.9 L183.1 191.94 L183.7 191.83 L184.3 191.93 L184.9 191.46 L185.5 190.71 L186.1 191.8 L186.7 191.86 L187.3 191.9 L187.9 191.29 L188.5 191.27 L189.1 191.9 L189.7 191.86 L190.3 192.01 L190.9 191.99 L191.5 191.95 L192.1 191.56 L192.7 191.57 L193.3 191.45 L193.9 191.57 L194.5 191.98 L195.1 191.46 L195.7 191.53 L196.3 191.63 L196.9 191.77 L197.5 191.59 L198.1 191.71 L198.7 191.84 L199.3 191.82 L199.9 191.92 L200.5 191.56 L201.1 191.8 L201.7 191.9 L202.3 191.83 L202.9 191.98 L203.5 191.97 L204.1 191.96 L204.7 191.7 L205.3 191.65 L205.9 190.48 L206.5 191.85 L207.1 191.47 L207.7 191.58 L208.3 191.83 L208.9 190.51 L209.5 191.53 L210.1 191.73 L210.7 191.68 L211.3 191.76 L211.9 190.4 L212.5 191.56 L213.1 191.72 L213.7 191.63 L214.3 191.85 L214.9 191.91 L215.5 191.45 L216.1 191.45 L216.7 191.63 L217.3 191.46 L217.9 191.49 L218.5 191.76 L219.1 191.69 L219.7 191.8 L220.3 191.71 L220.9 191.98 L221.5 191.7 L222.1 191.73 L222.7 191.99 L223.3 191.61 L223.9 191.6 L224.5 191.93 L225.1 191.53 L225.7 192.03 L226.3 191.61 L226.9 191.52 L227.5 191.94 L228.1 191.63 L228.7 191.6 L229.3 191.98 L229.9 191.49 L230.5 191.77 L231.1 192.03 L231.7 191.71 L232.3 191.96 L232.9 190.94 L233.5 191.74 L234.1 191.55 L234.7 191.95 L235.3 191.68 L235.9 191.2 L236.5 191.77 L237.1 192.04 L237.7 191.46 L238.3 191.88 L238.9 191.71 L239.5 192.03 L240.1 191.58 L240.7 191.88 L241.3 191.64 L241.9 191.74 L242.5 191.81 L243.1 191.46 L243.7 191.91 L244.3 191.78 L244.9 191.95 L245.5 191.62 L246.1 191.5 L246.7 191.71 L247.3 191.8 L247.9 191.52 L248.5 191.89 L249.1 191.94 L249.7 191.94 L250.3 192.01 L250.9 191.97 L251.5 191.67 L252.1 191.61 L252.7 191.86 L253.3 191.86 L253.9 191.78 L254.5 191.47 L255.1 191.86 L255.7 191.6 L256.3 191.74 L256.9 191.7 L257.5 191.63 L258.1 191.6 L258.7 191.75 L259.3 191.67 L259.9 191.93 L260.5 192.03 L261.1 191.5 L261.7 191.62 L262.3 191.92 L262.9 191.86 L263.5 191.52 L264.1 191.68 L264.7 191.82 L265.3 191.93 L265.9 191.93 L266.5 191.89 L267.1 191.97 L267.7 191.62 L268.3 191.78 L268.9 191.71 L269.5 191.94 L270.1 191.55 L270.7 191.89 L271.3 192.07 L271.9 192.01 L272.5 191.87 L273.1 191.49 L273.7 191.66 L274.3 190.03 L274.9 191.55 L275.5 191.82 L276.1 191.63 L276.7 191.78 L277.3 191.5 L277.9 191.97 L278.5 191.83 L279.1 191.69 L279.7 191.49 L280.3 191.89 L280.9 191.85 L281.5 192.08 L282.1 191.71 L282.7 192.01 L283.3 192.05 L283.9 191.75 L284.5 191.57 L285.1 191.94 L285.7 191.65 L286.3 191.68 L286.9 191.95 L287.5 191.8 L288.1 191.95 L288.7 191.77 L289.3 191.98 L289.9 191.59 L290.5 191.59 L291.1 191.93 L291.7 191.77 L292.3 191.49 L292.9 191.61 L293.5 191.87 L294.1 191.52 L294.7 192.05 L295.3 191.89 L295.9 191.71 L296.5 191.61 L297.1 191.87 L297.7 191.7 L298.3 191.74 L298.9 191.66 L299.5 192.05 L300.1 191.79 L300.7 191.82 L301.3 191.81 L301.9 191.79 L302.5 191.85 L303.1 191.63 L303.7 192.05 L304.3 190.42 L304.9 191.81 L305.5 191.75 L306.1 192.01 L306.7 191.93 L307.3 191.58 L307.9 192.07 L308.5 191.58 L309.1 191.87 L309.7 191.88 L310.3 191.77 L310.9 191.85 L311.5 191.62 L312.1 191.75 L312.7 191.57 L313.3 192.07 L313.9 191.99 L314.5 191.8 L315.1 191.98 L315.7 191.98 L316.3 191.53 L316.9 191.56 L317.5 192.08 L318.1 191.76 L318.7 191.56 L319.3 191.63 L319.9 191.72 L320.5 191.83 L321.1 192.04 L321.7 191.51 L322.3 191.9 L322.9 192.05 L323.5 191.78 L324.1 191.57 L324.7 192.09 L325.3 190.94 L325.9 191.96 L326.5 191.93 L327.1 191.78 L327.7 192.09 L328.3 192.03 L328.9 191.72 L329.5 191.91 L330.1 192.02 L330.7 191.82 L331.3 192.02 L331.9 192 L332.5 191.97 L333.1 192.11 L333.7 191.77 L334.3 191.32 L334.9 191.94 L335.5 191.98 L336.1 192.08 L336.7 192.09 L337.3 191.91 L337.9 192.11 L338.5 192.07 L339.1 192.03 L339.7 191.99 L340.3 191.65 L340.9 191.58 L341.5 191.75 L342.1 191.69 L342.7 191.72 L343.3 191.56 L343.9 191.64 L344.5 191.65 L345.1 191.81 L345.7 191.65 L346.3 192.01 L346.9 191.58 L347.5 191.66 L348.1 191.63 L348.7 191.63 L349.3 191.65 L349.9 191.64 L350.5 191.93 L351.1 191.76 L351.7 191.71 L352.3 190.58 L352.9 191.97 L353.5 191.6 L354.1 191.83 L354.7 192.02 L355.3 192.13 L355.9 191.65 L356.5 191.8 L357.1 191.58 L357.7 191.76 L358.3 191.74 L358.9 191.73 L359.5 191.55 L360.1 191.8 L360.7 191.11 L361.3 191.56 L361.9 191.79 L362.5 191.75 L363.1 191.81 L363.7 191.66 L364.3 191.71 L364.9 191.79 L365.5 192.06 L366.1 191.7 L366.7 191.91 L367.3 191.96 L367.9 191.88 L368.5 191.91 L369.1 191.6 L369.7 191.68 L370.3 191.86 L370.9 191.98 L371.5 191.97 L372.1 192.12 L372.7 191.58 L373.3 191.82 L373.9 191.66 L374.5 191.57 L375.1 191.91 L375.7 191.91 L376.3 191.62 L376.9 191.61 L377.5 191.9 L378.1 191.8 L378.7 191.64 L379.3 191.75 L379.9 191.61 L380.5 191.62 L381.1 191.78 L381.7 191.66 L382.3 192.1 L382.9 191.94 L383.5 191.96 L384.1 191.99 L384.7 191.67 L385.3 192.02 L385.9 191.81 L386.5 191.65 L387.1 192.14 L387.7 191.78 L388.3 191.85 L388.9 191.56 L389.5 191.57 L390.1 191.89 L390.7 191.95 L391.3 192.04 L391.9 192.04 L392.5 191.82 L393.1 191.59 L393.7 190.57 L394.3 191.78 L394.9 191.78 L395.5 191.95 L396.1 192.1 L396.7 191.88 L397.3 191.88 L397.9 191.83 L398.5 192.15 L399.1 191.58 L399.7 191.68 L400.3 190.32 L400.9 191.89 L401.5 192.12 L402.1 191.88 L402.7 191.62 L403.3 192.09 L403.9 191.79 L404.5 191.73 L405.1 191.76 L405.7 191.75 L406.3 191.81 L406.9 192.03 L407.5 191.62 L408.1 191.26 L408.7 192.04 L409.3 191.62 L409.9 192.11 L410.5 191.69 L411.1 191.7 L411.7 191.84 L412.3 191.82 L412.9 190.66 L413.5 191.69 L414.1 192.05 L414.7 191.85 L415.3 191.67 L415.9 191.99 L416.5 191.45 L417.1 191.76 L417.7 191.93 L418.3 191.74 L418.9 191.75 L419.5 191.92 L420.1 191.91 L420.7 191.97 L421.3 191.59 L421.9 191.68 L422.5 191.62 L423.1 191.63 L423.7 191.65 L424.3 191.69 L424.9 191.86 L425.5 191.79 L426.1 191.64 L426.7 192.06 L427.3 191.75 L427.9 191.77 L428.5 190.79 L429.1 192.03 L429.7 191.79 L430.3 191.5 L430.9 192.12 L431.5 190.92 L432.1 190.91 L432.7 190.65 L433.3 190.59 L433.9 190.58 L434.5 191.08 L435.1 190.69 L435.7 191 L436.3 190.7 L436.9 191.08 L437.5 190.87 L438.1 190.94 L438.7 190.94 L439.3 190.63 L439.9 190.86 L440.5 190.57 L441.1 190.95 L441.7 190.82 L442.3 190.81 L442.9 191.02 L443.5 190.53 L444.1 190.65 L444.7 190.58 L445.3 190.95 L445.9 191.05 L446.5 190.66 L447.1 190.98 L447.7 190.51 L448.3 190.79 L448.3 223.31 L447.7 224.63 L447.1 223.69 L446.5 223.34 L445.9 223.45 L445.3 223.39 L444.7 223.35 L444.1 223.62 L443.5 223.61 L442.9 223.32 L442.3 223.38 L441.7 223.7 L441.1 223.29 L440.5 223.3 L439.9 223.48 L439.3 223.4 L438.7 223.74 L438.1 223.48 L437.5 223.69 L436.9 223.77 L436.3 223.59 L435.7 223.31 L435.1 223.6 L434.5 223.36 L433.9 223.72 L433.3 223.26 L432.7 223.29 L432.1 223.48 L431.5 223.69 L430.9 223.53 L430.3 223.27 L429.7 223.58 L429.1 223.8 L428.5 223.38 L427.9 223.63 L427.3 223.81 L426.7 223.8 L426.1 223.63 L425.5 223.53 L424.9 223.79 L424.3 223.39 L423.7 223.68 L423.1 223.4 L422.5 223.45 L421.9 223.79 L421.3 223.59 L420.7 223.39 L420.1 223.61 L419.5 223.71 L418.9 223.2 L418.3 223.66 L417.7 223.55 L417.1 223.54 L416.5 223.64 L415.9 223.63 L415.3 223.68 L414.7 223.38 L414.1 223.42 L413.5 223.44 L412.9 224.73 L412.3 224.51 L411.7 223.65 L411.1 225.05 L410.5 223.25 L409.9 223.73 L409.3 224.52 L408.7 223.55 L408.1 223.17 L407.5 223.59 L406.9 223.37 L406.3 223.17 L405.7 223.42 L405.1 223.56 L404.5 223.16 L403.9 223.55 L403.3 223.24 L402.7 223.35 L402.1 223.5 L401.5 223.31 L400.9 223.14 L400.3 223.34 L399.7 223.96 L399.1 223.37 L398.5 223.65 L397.9 223.41 L397.3 223.59 L396.7 223.69 L396.1 223.16 L395.5 223.63 L394.9 223.97 L394.3 223.25 L393.7 223.21 L393.1 223.64 L392.5 223.5 L391.9 223.5 L391.3 223.52 L390.7 223.19 L390.1 223.48 L389.5 223.11 L388.9 223.55 L388.3 223.42 L387.7 223.5 L387.1 223.36 L386.5 224.79 L385.9 223.19 L385.3 223.43 L384.7 223.08 L384.1 223.09 L383.5 223.05 L382.9 223.47 L382.3 223.45 L381.7 223.2 L381.1 223.2 L380.5 223.12 L379.9 223.48 L379.3 223.48 L378.7 223.5 L378.1 223.27 L377.5 223.33 L376.9 223.1 L376.3 223.34 L375.7 223.5 L375.1 223.58 L374.5 223.39 L373.9 223.08 L373.3 223.46 L372.7 223.17 L372.1 223.5 L371.5 223.38 L370.9 223.22 L370.3 223.33 L369.7 223.18 L369.1 223.26 L368.5 223.57 L367.9 223.05 L367.3 223.55 L366.7 223.56 L366.1 223.56 L365.5 223.29 L364.9 223.47 L364.3 223.39 L363.7 223.38 L363.1 223.22 L362.5 223.14 L361.9 222.99 L361.3 223.5 L360.7 223.41 L360.1 223.23 L359.5 222.99 L358.9 223.5 L358.3 223.33 L357.7 223.21 L357.1 223.48 L356.5 223.46 L355.9 223.09 L355.3 223.04 L354.7 223.44 L354.1 223.51 L353.5 223.3 L352.9 223.5 L352.3 223.34 L351.7 223.19 L351.1 223.1 L350.5 223.05 L349.9 223.17 L349.3 223.1 L348.7 223.12 L348.1 223.16 L347.5 223.39 L346.9 223.32 L346.3 223.18 L345.7 223.05 L345.1 223.47 L344.5 223.42 L343.9 223.25 L343.3 223.44 L342.7 223.34 L342.1 223.1 L341.5 223.39 L340.9 223.33 L340.3 223.17 L339.7 223.08 L339.1 223.08 L338.5 223.02 L337.9 223.44 L337.3 223.36 L336.7 223.24 L336.1 223.01 L335.5 223.22 L334.9 223.39 L334.3 223.02 L333.7 223.27 L333.1 223.42 L332.5 223.37 L331.9 223.09 L331.3 223.17 L330.7 223.17 L330.1 222.9 L329.5 223.34 L328.9 222.94 L328.3 223.18 L327.7 223.14 L327.1 223.3 L326.5 222.87 L325.9 223.27 L325.3 223.22 L324.7 223.18 L324.1 223.33 L323.5 222.87 L322.9 223.1 L322.3 223.26 L321.7 223.37 L321.1 223.3 L320.5 223.24 L319.9 222.94 L319.3 224 L318.7 222.99 L318.1 222.99 L317.5 223.29 L316.9 224.32 L316.3 223.04 L315.7 222.85 L315.1 223.29 L314.5 223.19 L313.9 223.33 L313.3 223.29 L312.7 222.81 L312.1 223.05 L311.5 222.94 L310.9 223.11 L310.3 222.8 L309.7 223.24 L309.1 223.04 L308.5 223.77 L307.9 222.94 L307.3 223.09 L306.7 222.91 L306.1 224.53 L305.5 223.35 L304.9 222.78 L304.3 223.08 L303.7 223.23 L303.1 223.2 L302.5 222.76 L301.9 223.23 L301.3 223.26 L300.7 223.01 L300.1 224.22 L299.5 223.18 L298.9 222.94 L298.3 223.27 L297.7 223.2 L297.1 223.14 L296.5 223.79 L295.9 223.23 L295.3 222.85 L294.7 222.81 L294.1 222.93 L293.5 223.01 L292.9 223.15 L292.3 223.11 L291.7 222.97 L291.1 222.75 L290.5 223.18 L289.9 223.83 L289.3 223.18 L288.7 223 L288.1 222.76 L287.5 223.11 L286.9 223.04 L286.3 222.87 L285.7 222.91 L285.1 223.05 L284.5 222.97 L283.9 224.05 L283.3 223.08 L282.7 223.16 L282.1 222.88 L281.5 223.02 L280.9 222.9 L280.3 222.9 L279.7 223.17 L279.1 222.97 L278.5 224.08 L277.9 223.61 L277.3 223.17 L276.7 223.19 L276.1 222.93 L275.5 222.74 L274.9 222.7 L274.3 222.69 L273.7 222.65 L273.1 222.64 L272.5 223.17 L271.9 222.72 L271.3 223.16 L270.7 222.63 L270.1 222.72 L269.5 223.14 L268.9 222.88 L268.3 223.14 L267.7 223.09 L267.1 223.12 L266.5 223.19 L265.9 222.72 L265.3 222.74 L264.7 223.14 L264.1 223.73 L263.5 222.65 L262.9 223.06 L262.3 223.17 L261.7 224.38 L261.1 222.79 L260.5 222.87 L259.9 223.24 L259.3 223.03 L258.7 223.89 L258.1 223.15 L257.5 223.02 L256.9 222.76 L256.3 222.91 L255.7 222.61 L255.1 222.61 L254.5 222.58 L253.9 222.56 L253.3 222.84 L252.7 223.58 L252.1 222.93 L251.5 223.09 L250.9 222.65 L250.3 223.02 L249.7 222.97 L249.1 222.89 L248.5 222.95 L247.9 222.95 L247.3 223.04 L246.7 223.11 L246.1 222.87 L245.5 222.85 L244.9 222.55 L244.3 222.78 L243.7 224.11 L243.1 222.79 L242.5 222.54 L241.9 222.88 L241.3 222.68 L240.7 222.97 L240.1 222.87 L239.5 222.83 L238.9 222.81 L238.3 222.65 L237.7 222.51 L237.1 223.57 L236.5 222.83 L235.9 222.83 L235.3 222.52 L234.7 222.98 L234.1 222.88 L233.5 223.28 L232.9 223.04 L232.3 222.99 L231.7 222.64 L231.1 222.53 L230.5 222.96 L229.9 222.86 L229.3 222.78 L228.7 223.99 L228.1 222.94 L227.5 222.89 L226.9 222.78 L226.3 222.7 L225.7 222.8 L225.1 222.9 L224.5 223.01 L223.9 222.49 L223.3 222.88 L222.7 222.69 L222.1 222.78 L221.5 222.56 L220.9 222.74 L220.3 222.49 L219.7 222.48 L219.1 222.66 L218.5 222.46 L217.9 222.94 L217.3 222.69 L216.7 222.77 L216.1 222.77 L215.5 222.94 L214.9 222.45 L214.3 222.66 L213.7 222.89 L213.1 222.64 L212.5 222.64 L211.9 222.82 L211.3 223.67 L210.7 222.43 L210.1 222.68 L209.5 222.8 L208.9 222.52 L208.3 222.59 L207.7 222.57 L207.1 222.47 L206.5 222.48 L205.9 222.45 L205.3 222.92 L204.7 222.36 L204.1 222.65 L203.5 222.78 L202.9 222.36 L202.3 222.63 L201.7 222.77 L201.1 222.47 L200.5 222.84 L199.9 222.74 L199.3 222.83 L198.7 222.87 L198.1 222.6 L197.5 222.73 L196.9 222.45 L196.3 223.22 L195.7 222.48 L195.1 223.52 L194.5 222.74 L193.9 222.81 L193.3 222.57 L192.7 222.81 L192.1 222.36 L191.5 222.78 L190.9 223.21 L190.3 222.8 L189.7 222.56 L189.1 222.8 L188.5 222.52 L187.9 222.32 L187.3 222.36 L186.7 222.8 L186.1 222.53 L185.5 222.45 L184.9 222.75 L184.3 222.71 L183.7 222.32 L183.1 222.61 L182.5 222.78 L181.9 222.46 L181.3 222.73 L180.7 222.34 L180.1 222.41 L179.5 222.42 L178.9 222.39 L178.3 222.83 L177.7 222.35 L177.1 222.33 L176.5 222.67 L175.9 222.39 L175.3 222.46 L174.7 222.48 L174.1 222.58 L173.5 222.45 L172.9 222.53 L172.3 222.66 L171.7 222.53 L171.1 222.72 L170.5 222.78 L169.9 222.49 L169.3 222.45 L168.7 222.76 L168.1 222.43 L167.5 222.25 L166.9 222.53 L166.3 222.67 L165.7 222.55 L165.1 222.36 L164.5 222.6 L163.9 222.61 L163.3 222.22 L162.7 222.56 L162.1 222.5 L161.5 222.44 L160.9 222.6 L160.3 222.68 L159.7 222.67 L159.1 222.56 L158.5 222.71 L157.9 222.4 L157.3 222.74 L156.7 222.41 L156.1 222.77 L155.5 222.47 L154.9 222.5 L154.3 222.67 L153.7 222.51 L153.1 222.27 L152.5 222.63 L151.9 222.39 L151.3 222.42 L150.7 222.62 L150.1 222.45 L149.5 223.45 L148.9 222.43 L148.3 222.45 L147.7 222.54 L147.1 222.58 L146.5 222.57 L145.9 222.39 L145.3 222.59 L144.7 222.42 L144.1 222.34 L143.5 222.43 L142.9 222.4 L142.3 222.54 L141.7 222.48 L141.1 222.26 L140.5 222.19 L139.9 222.39 L139.3 222.46 L138.7 222.28 L138.1 222.25 L137.5 222.26 L136.9 222.63 L136.3 222.66 L135.7 222.1 L135.1 222.41 L134.5 222.24 L133.9 222.12 L133.3 222.56 L132.7 222.22 L132.1 222.31 L131.5 222.31 L130.9 222.52 L130.3 222.43 L129.7 222.24 L129.1 222.09 L128.5 222.49 L127.9 222.18 L127.3 222.36 L126.7 222.64 L126.1 222.36 L125.5 222.09 L124.9 222.24 L124.3 222.12 L123.7 222.05 L123.1 222.26 L122.5 222.56 L121.9 224.01 L121.3 222.07 L120.7 222.07 L120.1 222.46 L119.5 222.33 L118.9 222.14 L118.3 222.11 L117.7 222.28 L117.1 222.02 L116.5 222.03 L115.9 222.05 L115.3 222.57 L114.7 222.13 L114.1 222.13 L113.5 223.51 L112.9 222.1 L112.3 222.09 L111.7 222.09 L111.1 223.22 L110.5 222.2 L109.9 222.55 L109.3 222.52 L108.7 222.54 L108.1 222.39 L107.5 222.27 L106.9 222.04 L106.3 222.38 L105.7 222.01 L105.1 222.45 L104.5 222.51 L103.9 222.97 L103.3 222.2 L102.7 222.3 L102.1 222.2 L101.5 222.53 L100.9 221.99 L100.3 222.11 L99.7 222.52 L99.1 222.29 L98.5 221.97 L97.9 222.3 L97.3 222.01 L96.7 223.85 L96.1 222.36 L95.5 222.29 L94.9 222.47 L94.3 222.42 L93.7 222.38 L93.1 222.33 L92.5 222.37 L91.9 221.97 L91.3 222.4 L90.7 222.44 L90.1 223.74 L89.5 221.91 L88.9 222.27 L88.3 222.17 L87.7 222.49 L87.1 222.33 L86.5 222.24 L85.9 222.13 L85.3 222.11 L84.7 222.16 L84.1 223 L83.5 221.94 L82.9 222.32 L82.3 222.16 L81.7 222.32 L81.1 221.91 L80.5 222.31 L79.9 221.93 L79.3 221.88 L78.7 221.93 L78.1 222.43 L77.5 223.04 L76.9 222.2 L76.3 222.12 L75.7 222.01 L75.1 222.08 L74.5 221.88 L73.9 222.13 L73.3 222.21 L72.7 222.22 L72.1 222.21 L71.5 222.18 L70.9 222.31 L70.3 222.03 L69.7 222.42 L69.1 222.08 L68.5 222.16 L67.9 222.29 L67.3 222.34 L66.7 221.85 L66.1 222.41 L65.5 222.19 L64.9 221.86 L64.3 222.32 L63.7 222.32 L63.1 222.11 L62.5 222.1 L61.9 222.14 L61.3 222.12 L60.7 222.27 L60.1 222.16 L59.5 222.34 L58.9 221.94 L58.3 222.19 L57.7 222.31 L57.1 222.28 L56.5 222 L55.9 222.07 L55.3 222.21 L54.7 221.93 L54.1 221.99 L53.5 221.95 L52.9 222.16 L52.3 222.11 L51.7 222.23 L51.1 222.25 L50.5 222.21 L49.9 222.18 L49.3 222.59 L48.7 221.83 L48.1 221.88 L47.5 222.25 L46.9 222.07 L46.3 222.31 L45.7 222.33 L45.1 222.13 L44.5 221.98 L43.9 221.89 L43.3 221.99 L42.7 222 L42.1 222.15 L41.5 221.86 L40.9 221.98 L40.3 222.09 L39.7 222.02 L39.1 221.95 L38.5 221.83 L37.9 222.3 L37.3 221.77 L36.7 221.91 L36.1 221.86 L35.5 222.13 L34.9 222.23 L34.3 222.16Z" stroke="none" stroke-width="1" fill="#b200de"/>
<rect x="134.8" y="189.9" width="6.3" height="35.1" fill="none" stroke="#1a1a1a" stroke-width="1.0" stroke-dasharray="2.3 2.7"/>
<rect x="342.6" y="191.5" width="6.8" height="34.1" fill="none" stroke="#1a1a1a" stroke-width="1.0" stroke-dasharray="2.3 2.7"/>
<clipPath id="clip105"><rect x="105.5" y="228.5" width="66.5" height="48.4"/></clipPath>
<rect x="105.5" y="230.5" width="66.5" height="44.4" fill="#fff"/>
<g clip-path="url(#clip105)">
<path d="M91.94 233.61 V257.14 M98.62 233.61 V257.14 M105.3 233.61 V257.14 M111.98 233.61 V257.14 M118.66 233.61 V257.14 M125.34 233.61 V257.14 M132.02 233.61 V257.14 M138.7 233.61 V257.14 M145.38 233.61 V257.14 M152.06 233.61 V257.14 M158.74 233.61 V257.14 M165.42 233.61 V257.14 M172.1 233.61 V257.14 " stroke="#d9a6f6" stroke-width="0.7" fill="none" opacity="0.6"/>
<path d="M95.29 267.8 V244.49 M101.97 267.8 V244.49 M108.65 267.8 V244.49 M115.33 267.8 V244.49 M122.01 267.8 V244.49 M128.69 267.8 V244.49 M135.37 267.8 V244.49 M142.05 267.8 V244.49 M148.73 267.8 V244.49 M155.41 267.8 V244.49 M162.09 267.8 V244.49 M168.77 267.8 V244.49 M175.45 267.8 V244.49 " stroke="#b868f0" stroke-width="0.7" fill="none" opacity="0.85"/>
<path d="M91.94 257.14 Q92.84 264.91 95.29 267.8 M95.29 244.49 Q96.29 237.6 98.62 233.61 M98.62 257.14 Q99.52 264.91 101.97 267.8 M101.97 244.49 Q102.97 237.6 105.3 233.61 M105.3 257.14 Q106.2 264.91 108.65 267.8 M108.65 244.49 Q109.65 237.6 111.98 233.61 M111.98 257.14 Q112.88 264.91 115.33 267.8 M115.33 244.49 Q116.33 237.6 118.66 233.61 M118.66 257.14 Q119.56 264.91 122.01 267.8 M122.01 244.49 Q123.01 237.6 125.34 233.61 M125.34 257.14 Q126.24 264.91 128.69 267.8 M128.69 244.49 Q129.69 237.6 132.02 233.61 M132.02 257.14 Q132.92 264.91 135.37 267.8 M135.37 244.49 Q136.37 237.6 138.7 233.61 M138.7 257.14 Q139.6 264.91 142.05 267.8 M142.05 244.49 Q143.05 237.6 145.38 233.61 M145.38 257.14 Q146.28 264.91 148.73 267.8 M148.73 244.49 Q149.73 237.6 152.06 233.61 M152.06 257.14 Q152.96 264.91 155.41 267.8 M155.41 244.49 Q156.41 237.6 158.74 233.61 M158.74 257.14 Q159.64 264.91 162.09 267.8 M162.09 244.49 Q163.09 237.6 165.42 233.61 M165.42 257.14 Q166.32 264.91 168.77 267.8 M168.77 244.49 Q169.77 237.6 172.1 233.61 M172.1 257.14 Q173 264.91 175.45 267.8 M175.45 244.49 Q176.45 237.6 178.78 233.61 " stroke="#a43ee8" stroke-width="0.75" fill="none"/>
</g>
<rect x="105.5" y="230.5" width="66.5" height="44.4" fill="none" stroke="#7a7a7a" stroke-width="0.8"/>
<line x1="103.3" y1="230.5" x2="105.5" y2="230.5" stroke="#555" stroke-width="0.7"/>
<text x="102.5" y="233.1" font-size="7.4" text-anchor="end" fill="#000">1</text>
<line x1="103.3" y1="252.7" x2="105.5" y2="252.7" stroke="#555" stroke-width="0.7"/>
<text x="102.5" y="255.3" font-size="7.4" text-anchor="end" fill="#000">0</text>
<line x1="103.3" y1="274.9" x2="105.5" y2="274.9" stroke="#555" stroke-width="0.7"/>
<text x="102.5" y="277.5" font-size="7.4" text-anchor="end" fill="#000"><tspan dy="-0.5">-</tspan><tspan dy="0.5">1</tspan></text>
<line x1="105.5" y1="241.6" x2="107" y2="241.6" stroke="#555" stroke-width="0.6"/>
<line x1="105.5" y1="263.8" x2="107" y2="263.8" stroke="#555" stroke-width="0.6"/>
<line x1="105.5" y1="274.9" x2="105.5" y2="273.1" stroke="#555" stroke-width="0.6"/>
<text x="105.5" y="284.6" font-size="7.4" text-anchor="middle" fill="#000">149.5</text>
<line x1="138.75" y1="274.9" x2="138.75" y2="273.1" stroke="#555" stroke-width="0.6"/>
<text x="138.75" y="284.6" font-size="7.4" text-anchor="middle" fill="#000">150.0</text>
<line x1="172" y1="274.9" x2="172" y2="273.1" stroke="#555" stroke-width="0.6"/>
<text x="172" y="284.6" font-size="7.4" text-anchor="middle" fill="#000">150.5</text>
<line x1="122.12" y1="274.9" x2="122.12" y2="273.7" stroke="#555" stroke-width="0.6"/>
<line x1="155.38" y1="274.9" x2="155.38" y2="273.7" stroke="#555" stroke-width="0.6"/>
<text transform="translate(95 252.7) rotate(-90)" font-size="7.3" text-anchor="middle">Voltage (V)</text>
<clipPath id="clip312"><rect x="312.4" y="228.5" width="67.1" height="48.5"/></clipPath>
<rect x="312.4" y="230.5" width="67.1" height="44.5" fill="#fff"/>
<g clip-path="url(#clip312)">
<path d="M295.56 233.62 V257.2 M302.24 233.62 V257.2 M308.92 233.62 V257.2 M315.6 233.62 V257.2 M322.28 233.62 V257.2 M328.96 233.62 V257.2 M335.64 233.62 V257.2 M342.32 233.62 V257.2 M349 233.62 V257.2 M355.68 233.62 V257.2 M362.36 233.62 V257.2 M369.04 233.62 V257.2 M375.72 233.62 V257.2 " stroke="#d9a6f6" stroke-width="0.7" fill="none" opacity="0.6"/>
<path d="M298.76 267.88 V244.52 M305.44 267.88 V244.52 M312.12 267.88 V244.52 M318.8 267.88 V244.52 M325.48 267.88 V244.52 M332.16 267.88 V244.52 M338.84 267.88 V244.52 M345.52 267.88 V244.52 M352.2 267.88 V244.52 M358.88 267.88 V244.52 M365.56 267.88 V244.52 M372.24 267.88 V244.52 M378.92 267.88 V244.52 " stroke="#b868f0" stroke-width="0.7" fill="none" opacity="0.85"/>
<path d="M295.56 257.2 Q296.46 264.99 298.76 267.88 M298.76 244.52 Q299.76 237.62 302.24 233.62 M302.24 257.2 Q303.14 264.99 305.44 267.88 M305.44 244.52 Q306.44 237.62 308.92 233.62 M308.92 257.2 Q309.82 264.99 312.12 267.88 M312.12 244.52 Q313.12 237.62 315.6 233.62 M315.6 257.2 Q316.5 264.99 318.8 267.88 M318.8 244.52 Q319.8 237.62 322.28 233.62 M322.28 257.2 Q323.18 264.99 325.48 267.88 M325.48 244.52 Q326.48 237.62 328.96 233.62 M328.96 257.2 Q329.86 264.99 332.16 267.88 M332.16 244.52 Q333.16 237.62 335.64 233.62 M335.64 257.2 Q336.54 264.99 338.84 267.88 M338.84 244.52 Q339.84 237.62 342.32 233.62 M342.32 257.2 Q343.22 264.99 345.52 267.88 M345.52 244.52 Q346.52 237.62 349 233.62 M349 257.2 Q349.9 264.99 352.2 267.88 M352.2 244.52 Q353.2 237.62 355.68 233.62 M355.68 257.2 Q356.58 264.99 358.88 267.88 M358.88 244.52 Q359.88 237.62 362.36 233.62 M362.36 257.2 Q363.26 264.99 365.56 267.88 M365.56 244.52 Q366.56 237.62 369.04 233.62 M369.04 257.2 Q369.94 264.99 372.24 267.88 M372.24 244.52 Q373.24 237.62 375.72 233.62 M375.72 257.2 Q376.62 264.99 378.92 267.88 M378.92 244.52 Q379.92 237.62 382.4 233.62 " stroke="#a43ee8" stroke-width="0.75" fill="none"/>
</g>
<rect x="312.4" y="230.5" width="67.1" height="44.5" fill="none" stroke="#7a7a7a" stroke-width="0.8"/>
<line x1="310.2" y1="230.5" x2="312.4" y2="230.5" stroke="#555" stroke-width="0.7"/>
<text x="309.4" y="233.1" font-size="7.4" text-anchor="end" fill="#000">1</text>
<line x1="310.2" y1="252.75" x2="312.4" y2="252.75" stroke="#555" stroke-width="0.7"/>
<text x="309.4" y="255.35" font-size="7.4" text-anchor="end" fill="#000">0</text>
<line x1="310.2" y1="275" x2="312.4" y2="275" stroke="#555" stroke-width="0.7"/>
<text x="309.4" y="277.6" font-size="7.4" text-anchor="end" fill="#000"><tspan dy="-0.5">-</tspan><tspan dy="0.5">1</tspan></text>
<line x1="312.4" y1="241.62" x2="313.9" y2="241.62" stroke="#555" stroke-width="0.6"/>
<line x1="312.4" y1="263.88" x2="313.9" y2="263.88" stroke="#555" stroke-width="0.6"/>
<line x1="312.4" y1="275" x2="312.4" y2="273.2" stroke="#555" stroke-width="0.6"/>
<text x="312.4" y="284.7" font-size="7.4" text-anchor="middle" fill="#000">449.5</text>
<line x1="345.95" y1="275" x2="345.95" y2="273.2" stroke="#555" stroke-width="0.6"/>
<text x="345.95" y="284.7" font-size="7.4" text-anchor="middle" fill="#000">450.0</text>
<line x1="379.5" y1="275" x2="379.5" y2="273.2" stroke="#555" stroke-width="0.6"/>
<text x="379.5" y="284.7" font-size="7.4" text-anchor="middle" fill="#000">450.5</text>
<line x1="329.17" y1="275" x2="329.17" y2="273.8" stroke="#555" stroke-width="0.6"/>
<line x1="362.73" y1="275" x2="362.73" y2="273.8" stroke="#555" stroke-width="0.6"/>
<text transform="translate(301.8 252.75) rotate(-90)" font-size="7.3" text-anchor="middle">Voltage (V)</text>
<text x="202.3" y="186.2" font-size="8.8">100 mA cm<tspan font-size="6" dy="-3.2">−2</tspan><tspan dy="3.2">/5.0 mAh cm</tspan><tspan font-size="6" dy="-3.2">−2</tspan></text>
<path d="M34.3 170.7 H449.4 V286.3" stroke="#707070" stroke-width="1.0" fill="none"/>
<line x1="34.3" y1="170.2" x2="34.3" y2="286.3" stroke="#3c3c3c" stroke-width="1.0"/>
<line x1="33.8" y1="286.3" x2="449.9" y2="286.3" stroke="#3c3c3c" stroke-width="1.0"/>
<line x1="28.3" y1="286.28" x2="34.3" y2="286.28" stroke="#3c3c3c" stroke-width="0.9"/>
<text x="23.2" y="289.68" font-size="9.4" text-anchor="end" fill="#000">−4</text>
<line x1="28.3" y1="267.01" x2="34.3" y2="267.01" stroke="#3c3c3c" stroke-width="0.9"/>
<text x="23.2" y="270.41" font-size="9.4" text-anchor="end" fill="#000">−3</text>
<line x1="28.3" y1="247.74" x2="34.3" y2="247.74" stroke="#3c3c3c" stroke-width="0.9"/>
<text x="23.2" y="251.14" font-size="9.4" text-anchor="end" fill="#000">−2</text>
<line x1="28.3" y1="228.47" x2="34.3" y2="228.47" stroke="#3c3c3c" stroke-width="0.9"/>
<text x="23.2" y="231.87" font-size="9.4" text-anchor="end" fill="#000">−1</text>
<line x1="28.3" y1="209.2" x2="34.3" y2="209.2" stroke="#3c3c3c" stroke-width="0.9"/>
<text x="23.2" y="212.6" font-size="9.4" text-anchor="end" fill="#000">0</text>
<line x1="28.3" y1="189.93" x2="34.3" y2="189.93" stroke="#3c3c3c" stroke-width="0.9"/>
<text x="23.2" y="193.33" font-size="9.4" text-anchor="end" fill="#000">1</text>
<line x1="28.3" y1="170.66" x2="34.3" y2="170.66" stroke="#3c3c3c" stroke-width="0.9"/>
<text x="23.2" y="174.06" font-size="9.4" text-anchor="end" fill="#000">2</text>
<line x1="31.3" y1="276.64" x2="34.3" y2="276.64" stroke="#3c3c3c" stroke-width="0.9"/>
<line x1="31.3" y1="257.38" x2="34.3" y2="257.38" stroke="#3c3c3c" stroke-width="0.9"/>
<line x1="31.3" y1="238.1" x2="34.3" y2="238.1" stroke="#3c3c3c" stroke-width="0.9"/>
<line x1="31.3" y1="218.83" x2="34.3" y2="218.83" stroke="#3c3c3c" stroke-width="0.9"/>
<line x1="31.3" y1="199.56" x2="34.3" y2="199.56" stroke="#3c3c3c" stroke-width="0.9"/>
<line x1="31.3" y1="180.29" x2="34.3" y2="180.29" stroke="#3c3c3c" stroke-width="0.9"/>
<line x1="34.3" y1="286.3" x2="34.3" y2="291.9" stroke="#3c3c3c" stroke-width="0.9"/>
<text x="34.3" y="304.3" font-size="8.8" text-anchor="middle" fill="#000">0</text>
<line x1="103.48" y1="286.3" x2="103.48" y2="291.9" stroke="#3c3c3c" stroke-width="0.9"/>
<text x="103.48" y="304.3" font-size="8.8" text-anchor="middle" fill="#000">100</text>
<line x1="172.66" y1="286.3" x2="172.66" y2="291.9" stroke="#3c3c3c" stroke-width="0.9"/>
<text x="172.66" y="304.3" font-size="8.8" text-anchor="middle" fill="#000">200</text>
<line x1="241.84" y1="286.3" x2="241.84" y2="291.9" stroke="#3c3c3c" stroke-width="0.9"/>
<text x="241.84" y="304.3" font-size="8.8" text-anchor="middle" fill="#000">300</text>
<line x1="311.02" y1="286.3" x2="311.02" y2="291.9" stroke="#3c3c3c" stroke-width="0.9"/>
<text x="311.02" y="304.3" font-size="8.8" text-anchor="middle" fill="#000">400</text>
<line x1="380.2" y1="286.3" x2="380.2" y2="291.9" stroke="#3c3c3c" stroke-width="0.9"/>
<text x="380.2" y="304.3" font-size="8.8" text-anchor="middle" fill="#000">500</text>
<line x1="449.38" y1="286.3" x2="449.38" y2="291.9" stroke="#3c3c3c" stroke-width="0.9"/>
<text x="449.38" y="304.3" font-size="8.8" text-anchor="middle" fill="#000">600</text>
<line x1="68.89" y1="286.3" x2="68.89" y2="289.2" stroke="#3c3c3c" stroke-width="0.9"/>
<line x1="138.07" y1="286.3" x2="138.07" y2="289.2" stroke="#3c3c3c" stroke-width="0.9"/>
<line x1="207.25" y1="286.3" x2="207.25" y2="289.2" stroke="#3c3c3c" stroke-width="0.9"/>
<line x1="276.43" y1="286.3" x2="276.43" y2="289.2" stroke="#3c3c3c" stroke-width="0.9"/>
<line x1="345.61" y1="286.3" x2="345.61" y2="289.2" stroke="#3c3c3c" stroke-width="0.9"/>
<line x1="414.79" y1="286.3" x2="414.79" y2="289.2" stroke="#3c3c3c" stroke-width="0.9"/>
<text x="241.8" y="320.6" font-size="8.8" text-anchor="middle" fill="#000">Time (h)</text>
<text transform="translate(8.3 228.2) rotate(-90)" font-size="9.3" text-anchor="middle">Voltage (V)</text>
<defs>
<linearGradient id="cal" x1="0" x2="1" y1="0" y2="0">
 <stop offset="0" stop-color="#c8cadc"/><stop offset="0.07" stop-color="#aaaec8"/><stop offset="0.18" stop-color="#8286a5"/><stop offset="0.29" stop-color="#6c7091"/><stop offset="0.47" stop-color="#64688c"/><stop offset="0.73" stop-color="#747896"/><stop offset="0.87" stop-color="#989cb8"/><stop offset="0.97" stop-color="#b9bbd0"/><stop offset="1" stop-color="#c8c8dc"/></linearGradient>
<linearGradient id="cps" x1="0" x2="1" y1="0" y2="0">
 <stop offset="0" stop-color="#ccceE0"/><stop offset="0.07" stop-color="#b0b4cc"/><stop offset="0.18" stop-color="#888caa"/><stop offset="0.29" stop-color="#707494"/><stop offset="0.47" stop-color="#64688c"/><stop offset="0.73" stop-color="#767a98"/><stop offset="0.87" stop-color="#9a9eba"/><stop offset="0.97" stop-color="#bcbed2"/><stop offset="1" stop-color="#ccccde"/></linearGradient>
<linearGradient id="cvert" x1="0" x2="0" y1="0" y2="1">
 <stop offset="0" stop-color="#ffffff" stop-opacity="0.12"/><stop offset="0.6" stop-color="#ffffff" stop-opacity="0"/><stop offset="1" stop-color="#404078" stop-opacity="0.18"/></linearGradient>
<linearGradient id="cvert2" x1="0" x2="0" y1="0" y2="1">
 <stop offset="0" stop-color="#ffffff" stop-opacity="0.05"/><stop offset="0.55" stop-color="#ffffff" stop-opacity="0"/><stop offset="1" stop-color="#30305e" stop-opacity="0.35"/></linearGradient>
<filter id="soft" x="-5%" y="-5%" width="110%" height="110%" color-interpolation-filters="sRGB"><feGaussianBlur stdDeviation="0.45"/></filter>
<filter id="soft2" x="-5%" y="-5%" width="110%" height="110%" color-interpolation-filters="sRGB"><feGaussianBlur stdDeviation="0.9"/></filter>
</defs>
<g filter="url(#soft)">
<rect x="515.8" y="4.8" width="156" height="121.7" fill="#ececf2"/>
<rect x="525.5" y="40.5" width="136.5" height="24" rx="2" fill="url(#cal)"/>
<rect x="525.5" y="40.5" width="136.5" height="24" rx="2" fill="url(#cvert)"/>
<rect x="525.5" y="64" width="137" height="22" fill="url(#cps)"/>
<rect x="525.5" y="66" width="137" height="18" fill="url(#cvert2)"/>
<path d="M526 63.2 Q595 64.2 660.5 63.6 L660.5 66.6 Q595 67.6 526 67.0 Z" fill="#161834"/>
<path d="M528.2 4.8 H657.7 L649 15.2 L658.4 15.6 Q659.5 15.8 659.5 17.2 V41.8 H527.5 V17.2 Q527.5 15.8 528.6 15.6 L537.6 15.2 Z" fill="#05061a"/>
<path d="M525.5 110.5 L525.5 87.5 Q525.6 82.6 531 81.6 L531 81.22 L531.7 81.06 L532.4 81.48 L533.1 81.5 L533.8 81.3 L534.5 80.33 L535.2 80.94 L535.9 81.05 L536.6 80.9 L537.3 81.31 L538 80.98 L538.7 81.91 L539.4 81.04 L540.1 80.97 L540.8 81.19 L541.5 81.27 L542.2 79.96 L542.9 80.06 L543.6 79.94 L544.3 80.73 L545 80.64 L545.7 80.93 L546.4 81.71 L547.1 81.37 L547.8 81.55 L548.5 80.54 L549.2 80.66 L549.9 79.72 L550.6 81.05 L551.3 80.38 L552 80.99 L552.7 81.25 L553.4 81.86 L554.1 81.12 L554.8 81.49 L555.5 80.68 L556.2 79.91 L556.9 80.64 L557.6 79.93 L558.3 81.22 L559 80.81 L559.7 80.71 L560.4 81.7 L561.1 80.72 L561.8 80.53 L562.5 80.12 L563.2 80.3 L563.9 79.38 L564.6 79.95 L565.3 79.93 L566 81.07 L566.7 80.19 L567.4 81.01 L568.1 80.39 L568.8 80.34 L569.5 80.15 L570.2 80.1 L570.9 79.28 L571.6 79.53 L572.3 79.63 L573 81 L573.7 80.14 L574.4 80.14 L575.1 80.47 L575.8 80.25 L576.5 80.32 L577.2 79 L577.9 79.17 L578.6 79.21 L579.3 80.01 L580 80.12 L580.7 80.26 L581.4 80.9 L582.1 80.45 L582.8 80.41 L583.5 80.22 L584.2 79.1 L584.9 79.92 L585.6 79.37 L586.3 79.18 L587 80.6 L587.7 79.75 L588.4 79.67 L589.1 79.86 L589.8 79.58 L590.5 80.16 L591.2 79.83 L591.9 79.21 L592.6 79.51 L593.3 80.22 L594 80.48 L594.7 80.49 L595.4 80.35 L596.1 79.69 L596.8 79.58 L597.5 79.83 L598.2 79.55 L598.9 79.82 L599.6 80.12 L600.3 80.51 L601 79.83 L601.7 79.9 L602.4 81.02 L603.1 80.45 L603.8 79.68 L604.5 80.07 L605.2 79.33 L605.9 79.3 L606.6 79.66 L607.3 80.18 L608 80.7 L608.7 80.14 L609.4 81.06 L610.1 80.76 L610.8 80.3 L611.5 80.29 L612.2 80.28 L612.9 79.26 L613.6 80.06 L614.3 80.64 L615 81.01 L615.7 81.14 L616.4 80.57 L617.1 81.44 L617.8 80.94 L618.5 79.95 L619.2 80.04 L619.9 80.73 L620.6 79.95 L621.3 80.52 L622 81.56 L622.7 81.68 L623.4 80.84 L624.1 81.34 L624.8 80.57 L625.5 80.69 L626.2 80.65 L626.9 79.83 L627.6 80.14 L628.3 80.44 L629 80.81 L629.7 80.71 L630.4 80.85 L631.1 81.04 L631.8 80.77 L632.5 80.04 L633.2 80.52 L633.9 81 L634.6 80.71 L635.3 80.72 L636 81.48 L636.7 81.32 L637.4 80.98 L638.1 81.2 L638.8 80.31 L639.5 80.88 L640.2 80.03 L640.9 80.31 L641.6 81.27 L642.3 81.32 L643 81.7 L643.7 81.63 L644.4 81.62 L645.1 81.53 L645.8 81.57 L646.5 80.28 L647.2 80.85 L647.9 80.25 L648.6 80.39 L649.3 81.42 L650 81.43 L650.7 81.92 L651.4 81.95 L652.1 81.38 L652.8 80.58 L653.5 80.05 L654.2 80.56 L654.9 80.82 L655.6 80.43 L656.3 80.46 Q662.3 81.2 662.3 86 L662.3 99.3 L660 99.6 L659.8 110.5 Z" stroke="none" stroke-width="1" fill="#05061a"/>
<linearGradient id="dendg" x1="0" x2="0" y1="0" y2="1"><stop offset="0" stop-color="#202244" stop-opacity="0.1"/><stop offset="0.5" stop-color="#14163a" stop-opacity="0.6"/><stop offset="1" stop-color="#0a0c24" stop-opacity="0.9"/></linearGradient>
<rect x="548" y="75" width="106" height="6.5" fill="url(#dendg)" opacity="0.6" filter="url(#soft2)"/>
<g>
<rect x="564.23" y="78.31" width="1.4" height="2.69" fill="url(#dendg)"/>
<rect x="564.19" y="78.24" width="0.97" height="2.76" fill="url(#dendg)"/>
<rect x="598.84" y="73.57" width="0.72" height="7.43" fill="url(#dendg)"/>
<rect x="569.6" y="76.68" width="1.67" height="4.32" fill="url(#dendg)"/>
<rect x="571.28" y="77.74" width="1.22" height="3.26" fill="url(#dendg)"/>
<rect x="579.69" y="76.82" width="1.18" height="4.18" fill="url(#dendg)"/>
<rect x="576.67" y="78.31" width="0.78" height="2.69" fill="url(#dendg)"/>
<rect x="571.96" y="78.28" width="1.32" height="2.72" fill="url(#dendg)"/>
<rect x="598.13" y="77.16" width="1.49" height="3.84" fill="url(#dendg)"/>
<rect x="599.71" y="76.84" width="1.19" height="4.16" fill="url(#dendg)"/>
<rect x="573.23" y="76.03" width="1.26" height="4.97" fill="url(#dendg)"/>
<rect x="566.51" y="78.28" width="1.39" height="2.72" fill="url(#dendg)"/>
<rect x="582.88" y="75.18" width="0.93" height="5.82" fill="url(#dendg)"/>
<rect x="603.06" y="75.07" width="0.79" height="5.93" fill="url(#dendg)"/>
<rect x="592.72" y="77.45" width="1.41" height="3.55" fill="url(#dendg)"/>
<rect x="603.4" y="75.17" width="0.93" height="5.83" fill="url(#dendg)"/>
<rect x="568.57" y="77.33" width="1.27" height="3.67" fill="url(#dendg)"/>
<rect x="570.77" y="78.08" width="1.28" height="2.92" fill="url(#dendg)"/>
<rect x="569.29" y="77.3" width="0.94" height="3.7" fill="url(#dendg)"/>
<rect x="576.67" y="77.07" width="1.23" height="3.93" fill="url(#dendg)"/>
<rect x="599.5" y="78.35" width="1.42" height="2.65" fill="url(#dendg)"/>
<rect x="574.83" y="77.63" width="1.34" height="3.37" fill="url(#dendg)"/>
<rect x="597.87" y="75.35" width="1.6" height="5.65" fill="url(#dendg)"/>
<rect x="574.03" y="77.62" width="1.36" height="3.38" fill="url(#dendg)"/>
<rect x="576.78" y="77.96" width="0.93" height="3.04" fill="url(#dendg)"/>
<rect x="601.79" y="74.77" width="1.42" height="6.23" fill="url(#dendg)"/>
<rect x="610.98" y="76.42" width="1.01" height="4.58" fill="url(#dendg)"/>
<rect x="579.46" y="75.63" width="0.76" height="5.37" fill="url(#dendg)"/>
<rect x="593.85" y="78.01" width="0.75" height="2.99" fill="url(#dendg)"/>
<rect x="589.17" y="77.68" width="1.63" height="3.32" fill="url(#dendg)"/>
<rect x="606.99" y="76.9" width="0.9" height="4.1" fill="url(#dendg)"/>
<rect x="569.86" y="77.49" width="1.22" height="3.51" fill="url(#dendg)"/>
<rect x="581.78" y="75.33" width="1.23" height="5.67" fill="url(#dendg)"/>
<rect x="602" y="78.02" width="0.77" height="2.98" fill="url(#dendg)"/>
<rect x="582.96" y="76.25" width="0.95" height="4.75" fill="url(#dendg)"/>
<rect x="596.76" y="77.34" width="1.02" height="3.66" fill="url(#dendg)"/>
<rect x="587.37" y="74.75" width="1.47" height="6.25" fill="url(#dendg)"/>
<rect x="582.21" y="76.48" width="1.63" height="4.52" fill="url(#dendg)"/>
<rect x="609.76" y="76.73" width="0.8" height="4.27" fill="url(#dendg)"/>
<rect x="586.33" y="75.22" width="0.98" height="5.78" fill="url(#dendg)"/>
<rect x="565.83" y="77.19" width="1.61" height="3.81" fill="url(#dendg)"/>
<rect x="570.32" y="77.53" width="1.32" height="3.47" fill="url(#dendg)"/>
<rect x="578.7" y="78.24" width="1.45" height="2.76" fill="url(#dendg)"/>
<rect x="601.77" y="76.52" width="0.79" height="4.48" fill="url(#dendg)"/>
<rect x="583.3" y="78.06" width="1.66" height="2.94" fill="url(#dendg)"/>
<rect x="566.51" y="78.09" width="1.47" height="2.91" fill="url(#dendg)"/>
<rect x="570.62" y="78.27" width="0.77" height="2.73" fill="url(#dendg)"/>
<rect x="572.04" y="77.22" width="1.53" height="3.78" fill="url(#dendg)"/>
<rect x="572.29" y="78.07" width="1.46" height="2.93" fill="url(#dendg)"/>
<rect x="584.86" y="76.83" width="0.82" height="4.17" fill="url(#dendg)"/>
<rect x="575.9" y="75.37" width="0.82" height="5.63" fill="url(#dendg)"/>
<rect x="576.72" y="75.99" width="1.59" height="5.01" fill="url(#dendg)"/>
<rect x="608.31" y="77" width="1.66" height="4" fill="url(#dendg)"/>
<rect x="593.6" y="76.92" width="1.17" height="4.08" fill="url(#dendg)"/>
<rect x="599.09" y="74.86" width="0.83" height="6.14" fill="url(#dendg)"/>
<rect x="573.49" y="75.9" width="0.81" height="5.1" fill="url(#dendg)"/>
<rect x="603.86" y="77.11" width="0.95" height="3.89" fill="url(#dendg)"/>
<rect x="576.5" y="76.93" width="1.69" height="4.07" fill="url(#dendg)"/>
<rect x="571.28" y="76.56" width="1.02" height="4.44" fill="url(#dendg)"/>
<rect x="572.47" y="76.64" width="1.04" height="4.36" fill="url(#dendg)"/>
<rect x="573.19" y="77.39" width="1.52" height="3.61" fill="url(#dendg)"/>
<rect x="606.29" y="76.43" width="0.71" height="4.57" fill="url(#dendg)"/>
<rect x="601.41" y="75.72" width="1.6" height="5.28" fill="url(#dendg)"/>
<rect x="610.65" y="77.62" width="1.55" height="3.38" fill="url(#dendg)"/>
<rect x="604.13" y="77.42" width="1.07" height="3.58" fill="url(#dendg)"/>
<rect x="582.36" y="76.9" width="1.08" height="4.1" fill="url(#dendg)"/>
<rect x="569.4" y="78.07" width="1.61" height="2.93" fill="url(#dendg)"/>
<rect x="584.12" y="75.42" width="1.59" height="5.58" fill="url(#dendg)"/>
<rect x="601.02" y="77.36" width="1.62" height="3.64" fill="url(#dendg)"/>
<rect x="603.4" y="74.34" width="1.43" height="6.66" fill="url(#dendg)"/>
</g>
<path d="M536.7 110 H646.3 L657.4 126.5 H528.0 Z" fill="#05061a"/>
</g>
<rect x="638.2" y="117.9" width="30.4" height="8.4" fill="#8a8a8a"/>
<rect x="639.7" y="120.4" width="27.3" height="4.0" fill="#ffffff"/>
<text x="492" y="8.6" font-size="14" text-anchor="start" fill="#000" font-weight="bold">c</text>
<text x="484.2" y="42.2" font-size="8.0" text-anchor="start" fill="#000">Al disc</text>
<line x1="510" y1="42.1" x2="518.78" y2="45.8" stroke="#111" stroke-width="0.65" stroke-dasharray="1.3 0.8"/>
<path d="M522.1 47.2 L518.16 47.28 L519.4 44.33 Z" stroke="none" stroke-width="1" fill="#111"/>
<text x="484.6" y="59.1" font-size="8.0">LiCoO<tspan font-size="5.6" dy="1.8">2</tspan></text>
<line x1="511.9" y1="57.4" x2="520.68" y2="61.1" stroke="#111" stroke-width="0.65" stroke-dasharray="1.3 0.8"/>
<path d="M524 62.5 L520.06 62.58 L521.3 59.63 Z" stroke="none" stroke-width="1" fill="#111"/>
<text x="484.6" y="72.7" font-size="8.0" text-anchor="start" fill="#000">LiPSCl</text>
<line x1="511.9" y1="71.5" x2="520.68" y2="75.2" stroke="#111" stroke-width="0.65" stroke-dasharray="1.3 0.8"/>
<path d="M524 76.6 L520.06 76.68 L521.3 73.73 Z" stroke="none" stroke-width="1" fill="#111"/>
<text x="499" y="89.3" font-size="8.0" text-anchor="start" fill="#000">In</text>
<line x1="509.3" y1="88" x2="521" y2="87.77" stroke="#111" stroke-width="0.65" stroke-dasharray="1.3 0.8"/>
<path d="M524.6 87.7 L521.03 89.37 L520.97 86.17 Z" stroke="none" stroke-width="1" fill="#111"/>
<text x="597" y="144" font-size="9.3" text-anchor="middle">In||LiCoO<tspan font-size="6.5" dy="2">2</tspan></text>
<defs>
<linearGradient id="dbg" x1="0" x2="1" y1="0" y2="0">
 <stop offset="0" stop-color="#c4c6d6"/><stop offset="0.04" stop-color="#b0b2c8"/><stop offset="0.13" stop-color="#8a8eaa"/><stop offset="0.53" stop-color="#727696"/><stop offset="0.87" stop-color="#8a8eac"/><stop offset="0.94" stop-color="#a0a4c0"/><stop offset="0.97" stop-color="#c0c2d4"/><stop offset="1" stop-color="#c8c8da"/></linearGradient>
<linearGradient id="dal" x1="0" x2="1" y1="0" y2="0">
 <stop offset="0" stop-color="#9a9eb8"/><stop offset="0.1" stop-color="#8a8eaa"/><stop offset="0.35" stop-color="#74789a"/><stop offset="0.53" stop-color="#6a6e8e"/><stop offset="0.75" stop-color="#767a9c"/><stop offset="0.89" stop-color="#868aa8"/><stop offset="1" stop-color="#9a9eba"/></linearGradient>
<linearGradient id="dtop" x1="0" x2="1" y1="0" y2="0">
 <stop offset="0" stop-color="#2e3058"/><stop offset="0.08" stop-color="#1a1c42"/><stop offset="0.25" stop-color="#07091e"/><stop offset="1" stop-color="#06081a"/></linearGradient>
<linearGradient id="dblk" x1="0" x2="0" y1="0" y2="1">
 <stop offset="0" stop-color="#030410"/><stop offset="0.15" stop-color="#06081a"/><stop offset="1" stop-color="#080a1e"/></linearGradient>
<linearGradient id="dbot" x1="0" x2="0" y1="0" y2="1">
 <stop offset="0" stop-color="#14163a"/><stop offset="0.25" stop-color="#080a1e"/><stop offset="1" stop-color="#080a1c"/></linearGradient>
</defs>
<g filter="url(#soft)">
<rect x="520.8" y="168" width="149.2" height="116.3" fill="url(#dbg)"/>
<path d="M527 187 L662.3 184.6 L665 206.5 L527 210 Z" fill="url(#dal)"/>
<path d="M522 203 L527 209.0 Q595 215.4 664.5 206.4 L664.5 209.6 Q595 219.4 527 212.8 L522 205.5 Z" fill="#4c5074"/>
<path d="M529.1 168 H658.5 V178.8 L647.8 190.3 H539.5 L529.1 183.4 Z" fill="url(#dtop)"/>
<path d="M531.5 238.5 Q597 235.5 661.5 237 Q662.8 237.5 662.6 240 V266.3 Q662.6 267.6 661 267.6 H532 Q530.7 267.6 530.7 266.3 V240 Q530.7 238.6 531.5 238.5 Z" fill="url(#dblk)"/>
<path d="M539 268.2 H655.5 Q659.5 271 661.3 276 V284.3 H531.9 V276 Q534 270.5 539 268.2 Z" fill="url(#dbot)"/>
</g>
<rect x="639.1" y="279.3" width="26.4" height="3.1" fill="#ffffff"/>
<text x="493.2" y="165.4" font-size="14.5" text-anchor="start" fill="#000" font-weight="bold">d</text>
<text x="487.2" y="192.1" font-size="8.0" text-anchor="start" fill="#000">Al disc</text>
<line x1="512.9" y1="191.7" x2="520.49" y2="194.25" stroke="#111" stroke-width="0.65" stroke-dasharray="1.6 0.6"/>
<path d="M523.9 195.4 L519.98 195.77 L521 192.74 Z" stroke="none" stroke-width="1" fill="#111"/>
<text x="487.2" y="205.8" font-size="8.0">LiCoO<tspan font-size="5.6" dy="1.8">2</tspan></text>
<line x1="512.5" y1="205" x2="519.81" y2="207.6" stroke="#111" stroke-width="0.65" stroke-dasharray="1.6 0.6"/>
<path d="M523.2 208.8 L519.27 209.1 L520.34 206.09 Z" stroke="none" stroke-width="1" fill="#111"/>
<text x="487.2" y="223.7" font-size="8.0" text-anchor="start" fill="#000">LiPSCl</text>
<line x1="512.5" y1="222.6" x2="520.48" y2="225.26" stroke="#111" stroke-width="0.65" stroke-dasharray="1.6 0.6"/>
<path d="M523.9 226.4 L519.98 226.78 L520.99 223.74 Z" stroke="none" stroke-width="1" fill="#111"/>
<text x="487.2" y="243.5" font-size="8.0" text-anchor="start" fill="#000">InSnBi</text>
<line x1="513.9" y1="241.1" x2="523.7" y2="240.59" stroke="#111" stroke-width="0.65" stroke-dasharray="1.6 0.6"/>
<path d="M527.3 240.4 L523.79 242.19 L523.62 238.99 Z" stroke="none" stroke-width="1" fill="#111"/>
<text x="601.8" y="300.3" font-size="9.3" text-anchor="middle">InSnBi||LiCoO<tspan font-size="6.5" dy="2">2</tspan></text>
<text x="7.6" y="345.4" font-size="15" text-anchor="start" fill="#000" font-weight="bold">e</text>
<clipPath id="eclip"><rect x="34.3" y="336.6" width="175.6" height="140.3"/></clipPath>
<g clip-path="url(#eclip)">
<path d="M34.4 444.48 L35.9 444.49 L37.4 444.33 L38.9 444.45 L40.4 444.36 L41.9 444.5 L43.4 444.29 L44.9 444.41 L46.4 444.35 L47.9 444.5 L49.4 444.35 L50.9 444.5 L52.4 444.5 L53.9 444.51 L55.4 444.29 L56.9 444.53 L58.4 444.47 L59.9 444.45 L61.4 444.45 L62.9 444.26 L64.4 444.51 L65.9 444.41 L67.4 444.39 L68.9 444.35 L70.4 444.48 L71.9 444.48 L73.4 444.51 L74.9 444.31 L76.4 444.35 L77.9 444.32 L79.4 444.28 L80.9 444.35 L82.4 444.26 L83.9 444.49 L85.4 444.32 L86.9 444.27 L88.4 444.27 L89.9 444.47 L91.4 444.31 L92.9 444.39 L94.4 444.37 L95.9 444.49 L97.4 444.54 L98.9 444.34 L100.4 444.44 L101.9 444.52 L103.4 444.39 L104.9 444.52 L106.4 444.47 L107.9 444.34 L109.4 444.51 L110.9 444.42 L112.4 444.28 L113.9 444.43 L115.4 444.5 L116.9 444.41 L118.4 444.4 L119.9 444.37 L121.4 444.51 L122.9 444.45 L124.4 444.31 L125.9 444.36 L127.4 444.36 L128.9 444.54 L130.4 444.46 L131.9 444.29 L133.4 444.52 L134.9 444.26 L136.4 444.43 L137.9 444.38 L139.4 444.47 L140.9 444.38 L142.4 444.28 L143.9 444.41 L145.4 444.5 L146.9 444.49 L148.4 444.36 L149.9 444.32 L151.4 444.47 L152.9 444.49 L154.4 444.32 L155.9 444.51 L157.4 444.55 L158.9 444.38 L160.4 444.36 L161.9 444.46 L163.4 444.53 L164.9 444.31 L166.4 444.34 L167.9 444.35 L169.4 444.47 L170.9 444.31 L172.4 444.41 L173.9 444.4 L175.4 444.45 L176.9 444.29 L178.4 444.54 L179.9 444.55 L181.4 444.42 L182.9 444.49 L184.4 444.31 L185.9 444.52 L187.4 444.42 L188.9 444.48 L190.4 444.51 L191.9 444.36 L193.4 444.53 L194.9 444.31 L196.4 444.26 L197.9 444.4 L199.4 444.52 L200.9 444.52 L202.4 444.54 L203.9 444.4 L205.4 444.53 L206.9 444.42 L208.4 444.29" stroke="#a82ad8" stroke-width="1.25" fill="none"/>
<path d="M34.4 464.04 L34.9 464.15 L35.56 464.11 L36.34 464.25 L37.22 464.25 L38.15 464.35 L39.12 464.5 L40.08 464.62 L41 464.69 L41.82 464.65 L42.53 464.69 L43.21 464.85 L43.93 465.02 L44.77 465.09 L45.79 464.99 L47.08 465.06 L48.7 465.21 L50.52 465.18 L52.4 465.39 L54.43 465.58 L56.71 465.46 L59.31 465.66 L62.34 465.78 L65.87 465.84 L70 465.86 L74.6 465.87 L79.55 465.72 L84.9 465.86 L90.72 465.84 L97.07 465.53 L104.03 465.74 L111.65 465.53 L120 465.38 L129.93 465.32 L141.76 465.49 L154.71 465.39 L168.03 465.17 L180.95 465.21 L192.73 465.22 L202.6 465.28 L209.8 465.05" stroke="#9a1414" stroke-width="1.25" fill="none"/>
<path d="M34.4 395.1 L35.15 395.15 L36.21 395.23 L37.46 395.32 L38.78 395.39 L40.06 395.43 L41.2 395.4 L42.21 395.31 L43.19 395.18 L44.14 395.01 L45.04 394.81 L45.9 394.57 L46.7 394.3 L47.44 393.98 L48.12 393.6 L48.75 393.19 L49.35 392.77 L49.93 392.36 L50.5 392 L51.06 391.64 L51.59 391.24 L52.11 390.87 L52.61 390.56 L53.1 390.35 L53.6 390.3 L54.1 390.45 L54.59 390.76 L55.08 391.18 L55.56 391.65 L56.04 392.11 L56.5 392.5 L56.94 392.86 L57.36 393.25 L57.77 393.63 L58.19 393.96 L58.62 394.2 L59.1 394.3 L59.62 394.23 L60.17 394.02 L60.75 393.72 L61.34 393.38 L61.92 393.05 L62.5 392.8 L63.06 392.59 L63.63 392.36 L64.19 392.16 L64.75 391.99 L65.32 391.9 L65.9 391.9 L66.49 392.02 L67.1 392.24 L67.71 392.52 L68.31 392.85 L68.92 393.19 L69.5 393.5 L70.01 393.79 L70.44 394.09 L70.86 394.4 L71.35 394.72 L71.97 395.05 L72.8 395.4 L73.87 395.8 L75.12 396.27 L76.51 396.74 L77.98 397.19 L79.5 397.56 L81 397.8 L82.59 397.93 L84.33 397.99 L86.1 397.96 L87.81 397.86 L89.34 397.67 L90.6 397.4 L91.55 397.07 L92.26 396.7 L92.8 396.24 L93.23 395.66 L93.61 394.93 L94 394 L94.38 392.99 L94.69 391.93 L94.94 390.73 L95.17 389.24 L95.38 387.38 L95.6 385 L95.81 381.89 L96 378.09 L96.18 373.89 L96.35 369.61 L96.52 365.55 L96.7 362 L96.88 358.65 L97.07 355.2 L97.25 351.96 L97.43 349.25 L97.62 347.39 L97.8 346.7 L97.98 347.39 L98.17 349.25 L98.35 351.96 L98.53 355.2 L98.72 358.65 L98.9 362 L99.08 365.53 L99.25 369.56 L99.42 373.81 L99.6 377.98 L99.79 381.81 L100 385 L100.19 387.55 L100.35 389.67 L100.53 391.45 L100.76 392.95 L101.1 394.24 L101.6 395.4 L102.23 396.36 L102.94 397.04 L103.77 397.52 L104.72 397.87 L105.83 398.14 L107.1 398.4 L108.68 398.63 L110.59 398.77 L112.64 398.84 L114.68 398.85 L116.52 398.83 L118 398.8 L119.08 398.74 L119.9 398.65 L120.53 398.52 L121.03 398.36 L121.5 398.19 L122 398 L122.5 397.79 L122.94 397.55 L123.34 397.29 L123.72 397.02 L124.1 396.75 L124.5 396.5 L124.92 396.23 L125.35 395.92 L125.78 395.61 L126.2 395.35 L126.61 395.16 L127 395.1 L127.36 395.19 L127.7 395.42 L128.03 395.73 L128.34 396.06 L128.67 396.37 L129 396.6 L129.32 396.74 L129.62 396.82 L129.92 396.88 L130.25 396.94 L130.63 397.04 L131.1 397.2 L131.56 397.46 L131.96 397.79 L132.42 398.16 L133.04 398.53 L133.93 398.86 L135.2 399.1 L136.39 399.26 L137.34 399.36 L138.56 399.41 L140.56 399.44 L143.87 399.47 L149 399.5 L157.12 399.54 L168.04 399.56 L180.26 399.57 L192.3 399.59 L202.64 399.59 L209.8 399.6" stroke="#3a5cf0" stroke-width="0.9" fill="none" stroke-linejoin="round"/>
<path d="M34.6 422.7 L35.27 422.77 L36.2 422.89 L37.31 423.03 L38.5 423.14 L39.69 423.21 L40.8 423.2 L41.88 423.12 L43 422.99 L44.12 422.82 L45.21 422.6 L46.22 422.32 L47.1 422 L47.84 421.6 L48.48 421.11 L49.03 420.58 L49.53 420.03 L50.01 419.49 L50.5 419 L50.98 418.49 L51.42 417.92 L51.84 417.37 L52.26 416.9 L52.67 416.59 L53.1 416.5 L53.54 416.71 L53.98 417.16 L54.42 417.77 L54.87 418.45 L55.33 419.09 L55.8 419.6 L56.29 420.03 L56.79 420.46 L57.29 420.85 L57.81 421.18 L58.35 421.41 L58.9 421.5 L59.47 421.42 L60.07 421.17 L60.68 420.83 L61.3 420.45 L61.91 420.08 L62.5 419.8 L63.07 419.56 L63.63 419.31 L64.18 419.09 L64.74 418.91 L65.31 418.8 L65.9 418.8 L66.52 418.92 L67.16 419.15 L67.81 419.45 L68.47 419.8 L69.14 420.16 L69.8 420.5 L70.44 420.84 L71.04 421.2 L71.66 421.58 L72.3 421.96 L73 422.33 L73.8 422.7 L74.65 423.08 L75.53 423.47 L76.46 423.87 L77.5 424.24 L78.66 424.56 L80 424.8 L81.65 424.99 L83.6 425.13 L85.69 425.23 L87.74 425.27 L89.57 425.23 L91 425.1 L91.99 424.95 L92.68 424.81 L93.14 424.59 L93.48 424.21 L93.77 423.61 L94.1 422.7 L94.45 421.59 L94.73 420.35 L94.97 418.89 L95.18 417.08 L95.39 414.82 L95.6 412 L95.82 408.39 L96.03 404.04 L96.23 399.24 L96.43 394.28 L96.62 389.43 L96.8 385 L96.98 380.46 L97.15 375.47 L97.31 370.6 L97.47 366.42 L97.64 363.5 L97.8 362.4 L97.96 363.5 L98.13 366.42 L98.29 370.6 L98.45 375.47 L98.62 380.46 L98.8 385 L98.98 389.42 L99.16 394.25 L99.34 399.19 L99.53 403.99 L99.75 408.35 L100 412 L100.2 414.92 L100.33 417.32 L100.49 419.29 L100.76 420.91 L101.23 422.29 L102 423.5 L103.16 424.44 L104.64 425.01 L106.34 425.32 L108.11 425.5 L109.84 425.66 L111.4 425.9 L112.85 426.24 L114.3 426.57 L115.71 426.89 L117.03 427.15 L118.21 427.33 L119.2 427.4 L119.96 427.34 L120.51 427.18 L120.93 426.94 L121.27 426.64 L121.61 426.32 L122 426 L122.43 425.67 L122.84 425.29 L123.24 424.89 L123.64 424.48 L124.06 424.08 L124.5 423.7 L124.98 423.3 L125.5 422.86 L126.04 422.43 L126.56 422.06 L127.06 421.8 L127.5 421.7 L127.87 421.82 L128.19 422.11 L128.48 422.53 L128.76 422.97 L129.06 423.39 L129.4 423.7 L129.79 423.9 L130.22 424.04 L130.67 424.16 L131.11 424.26 L131.53 424.36 L131.9 424.5 L132.22 424.66 L132.5 424.84 L132.75 425.02 L132.99 425.21 L133.24 425.4 L133.5 425.6 L133.63 425.81 L133.57 426.04 L133.52 426.28 L133.66 426.51 L134.16 426.72 L135.2 426.9 L136.39 427.04 L137.5 427.16 L138.97 427.26 L141.25 427.35 L144.78 427.43 L150 427.5 L158.05 427.57 L168.81 427.63 L180.82 427.69 L192.63 427.73 L202.77 427.77 L209.8 427.8" stroke="#1a1a1a" stroke-width="0.9" fill="none" stroke-linejoin="round"/>
<path d="M34.4 370 L34.92 370.07 L35.64 370.2 L36.5 370.33 L37.42 370.44 L38.34 370.47 L39.2 370.4 L40.02 370.17 L40.85 369.81 L41.69 369.38 L42.5 368.94 L43.28 368.56 L44 368.3 L44.62 368.2 L45.16 368.23 L45.66 368.31 L46.16 368.37 L46.73 368.36 L47.4 368.2 L48.21 367.81 L49.13 367.22 L50.11 366.55 L51.09 365.91 L52.04 365.43 L52.9 365.2 L53.67 365.33 L54.4 365.73 L55.08 366.29 L55.74 366.86 L56.37 367.3 L57 367.5 L57.61 367.38 L58.21 367.03 L58.78 366.56 L59.34 366.08 L59.88 365.69 L60.4 365.5 L60.9 365.61 L61.38 365.97 L61.84 366.43 L62.3 366.81 L62.75 366.99 L63.2 366.8 L63.66 366.16 L64.11 365.17 L64.57 363.96 L65.02 362.68 L65.46 361.45 L65.9 360.4 L66.33 359.45 L66.76 358.48 L67.18 357.56 L67.59 356.77 L68 356.19 L68.4 355.9 L68.79 355.89 L69.16 356.1 L69.53 356.52 L69.9 357.15 L70.29 357.98 L70.7 359 L71.11 360.36 L71.52 362.1 L71.94 364.04 L72.4 366.01 L72.91 367.82 L73.5 369.3 L74.16 370.46 L74.88 371.43 L75.65 372.26 L76.48 372.96 L77.36 373.56 L78.3 374.1 L79.33 374.56 L80.47 374.92 L81.66 375.19 L82.86 375.37 L84.02 375.47 L85.1 375.5 L86.12 375.47 L87.13 375.37 L88.1 375.19 L89.01 374.92 L89.85 374.56 L90.6 374.1 L91.24 373.57 L91.79 372.99 L92.27 372.32 L92.69 371.51 L93.06 370.52 L93.4 369.3 L93.7 367.92 L93.93 366.41 L94.12 364.72 L94.29 362.8 L94.44 360.58 L94.6 358 L94.76 355.11 L94.89 351.98 L95.02 348.54 L95.14 344.77 L95.27 340.6 L95.4 336 L95.54 330.63 L95.68 324.44 L95.83 317.88 L95.97 311.33 L96.13 305.24 L96.3 300 L96.48 295.28 L96.68 290.67 L96.88 286.5 L97.09 283.11 L97.3 280.83 L97.5 280 L97.7 280.83 L97.91 283.11 L98.12 286.5 L98.32 290.67 L98.52 295.28 L98.7 300 L98.87 305.24 L99.03 311.33 L99.18 317.88 L99.33 324.44 L99.47 330.62 L99.6 336 L99.73 340.6 L99.84 344.77 L99.95 348.54 L100.06 351.98 L100.17 355.11 L100.3 358 L100.41 360.56 L100.5 362.75 L100.6 364.64 L100.73 366.31 L100.92 367.84 L101.2 369.3 L101.58 370.68 L102.04 371.91 L102.56 373.01 L103.13 373.96 L103.71 374.79 L104.3 375.5 L104.85 376.06 L105.38 376.45 L105.93 376.71 L106.55 376.89 L107.29 377 L108.2 377.1 L109.37 377.18 L110.77 377.21 L112.29 377.18 L113.82 377.09 L115.23 376.93 L116.4 376.7 L117.33 376.33 L118.1 375.83 L118.76 375.26 L119.33 374.68 L119.87 374.17 L120.4 373.8 L120.88 373.58 L121.29 373.45 L121.64 373.39 L122 373.36 L122.41 373.34 L122.9 373.3 L123.5 373.22 L124.18 373.13 L124.91 373.04 L125.64 372.97 L126.35 372.96 L127 373 L127.58 373.13 L128.13 373.32 L128.65 373.56 L129.16 373.82 L129.67 374.08 L130.2 374.3 L130.76 374.48 L131.35 374.64 L131.94 374.79 L132.51 374.96 L133.04 375.16 L133.5 375.4 L133.81 375.72 L133.98 376.09 L134.1 376.5 L134.28 376.91 L134.61 377.28 L135.2 377.6 L135.91 377.86 L136.64 378.09 L137.52 378.29 L138.7 378.46 L140.32 378.59 L142.5 378.7 L145.49 378.76 L149.22 378.76 L153.38 378.74 L157.67 378.7 L161.78 378.68 L165.4 378.7 L168.38 378.75 L170.92 378.82 L173.28 378.9 L175.71 378.99 L178.47 379.09 L181.8 379.2 L186.12 379.33 L191.31 379.47 L196.83 379.63 L202.11 379.78 L206.62 379.91 L209.8 380" stroke="#f52222" stroke-width="0.9" fill="none" stroke-linejoin="round"/>
</g>
<text x="44.2" y="350.4" font-size="8.4">In<tspan font-size="5.8" dy="1.8">2</tspan><tspan dy="-1.8">S</tspan><tspan font-size="5.8" dy="1.8">3</tspan></text>
<line x1="62.3" y1="350.8" x2="65.45" y2="353.58" stroke="#000" stroke-width="0.6"/>
<path d="M67.4 355.3 L64.59 354.55 L66.31 352.6 Z" stroke="none" stroke-width="1" fill="#000"/>
<text x="115.4" y="368.9" font-size="8.35" text-anchor="start" fill="#000">In contacting LiPSCl</text>
<text x="108.5" y="392.9" font-size="8.35" text-anchor="start" fill="#000">InSnBi contacting LiPSCl</text>
<text x="143.3" y="425.4" font-size="8.1" text-anchor="start" fill="#000" font-family="Liberation Serif">LiPSCl</text>
<text x="152.2" y="441.7" font-size="8.2" text-anchor="start" fill="#000" font-family="Liberation Serif">In</text>
<text x="145.1" y="461.4" font-size="8.2" text-anchor="start" fill="#000" font-family="Liberation Serif">InSnBi</text>
<path d="M34.3 340.3 H209.9 V476.9" stroke="#707070" stroke-width="1.0" fill="none"/>
<line x1="34.3" y1="339.8" x2="34.3" y2="476.9" stroke="#3c3c3c" stroke-width="1.0"/>
<line x1="33.8" y1="476.9" x2="210.4" y2="476.9" stroke="#3c3c3c" stroke-width="1.0"/>
<line x1="53.59" y1="476.9" x2="53.59" y2="480.4" stroke="#3c3c3c" stroke-width="0.9"/>
<text x="53.59" y="490.3" font-size="10.1" text-anchor="middle" fill="#000">200</text>
<line x1="92.65" y1="476.9" x2="92.65" y2="480.4" stroke="#3c3c3c" stroke-width="0.9"/>
<text x="92.65" y="490.3" font-size="10.1" text-anchor="middle" fill="#000">400</text>
<line x1="131.69" y1="476.9" x2="131.69" y2="480.4" stroke="#3c3c3c" stroke-width="0.9"/>
<text x="131.69" y="490.3" font-size="10.1" text-anchor="middle" fill="#000">600</text>
<line x1="170.75" y1="476.9" x2="170.75" y2="480.4" stroke="#3c3c3c" stroke-width="0.9"/>
<text x="170.75" y="490.3" font-size="10.1" text-anchor="middle" fill="#000">800</text>
<line x1="209.79" y1="476.9" x2="209.79" y2="480.4" stroke="#3c3c3c" stroke-width="0.9"/>
<text x="209.79" y="490.3" font-size="10.1" text-anchor="middle" fill="#000">1000</text>
<line x1="73.12" y1="476.9" x2="73.12" y2="478.9" stroke="#3c3c3c" stroke-width="0.9"/>
<line x1="112.17" y1="476.9" x2="112.17" y2="478.9" stroke="#3c3c3c" stroke-width="0.9"/>
<line x1="151.22" y1="476.9" x2="151.22" y2="478.9" stroke="#3c3c3c" stroke-width="0.9"/>
<line x1="190.27" y1="476.9" x2="190.27" y2="478.9" stroke="#3c3c3c" stroke-width="0.9"/>
<text x="120.2" y="507.4" font-size="10.2" text-anchor="middle">Raman shift (cm<tspan font-size="7" dy="-3.6">−1</tspan><tspan dy="3.6">)</tspan></text>
<text transform="translate(22.6 408) rotate(-90)" font-size="10.5" text-anchor="middle">Intensity (a.u)</text>
<text x="229.6" y="343.7" font-size="14.5" text-anchor="start" fill="#000" font-weight="bold">f</text>
<path d="M286.9 348.3 L365.55 419.78 L398.58 450.7 L417.62 468.73 L426.58 459.07 L444.2 403.68" stroke="#f4502a" stroke-width="1.0" fill="none"/>
<rect x="284.8" y="346.2" width="4.2" height="4.2" fill="#f03a10"/>
<rect x="415.52" y="466.63" width="4.2" height="4.2" fill="#f03a10"/>
<rect x="424.48" y="456.97" width="4.2" height="4.2" fill="#f03a10"/>
<rect x="442.1" y="401.58" width="4.2" height="4.2" fill="#f03a10"/>
<path d="M286.9 348.3 L365.55 419.78 L399.05 450.7 L412.58 447.48 L426.58 429.44 L444.2 403.04" stroke="#9b3cf5" stroke-width="1.0" fill="none"/>
<circle cx="286.9" cy="348.3" r="2.2" fill="#8a10f0"/>
<circle cx="399.05" cy="450.7" r="2.2" fill="#8a10f0"/>
<circle cx="412.58" cy="447.48" r="2.2" fill="#8a10f0"/>
<circle cx="426.58" cy="429.44" r="2.2" fill="#8a10f0"/>
<circle cx="444.2" cy="403.04" r="2.2" fill="#8a10f0"/>
<path d="M286.9 348.3 L365.08 419.78 L383.32 428.16 L411.64 436.53 L421.55 434.6 L444.2 403.68" stroke="#2020a8" stroke-width="1.0" fill="none"/>
<path d="M286.9 345.7 L289.5 350.2 L284.3 350.2 Z" fill="#0c0c8c"/>
<path d="M365.08 417.18 L367.68 421.68 L362.48 421.68 Z" fill="#0c0c8c"/>
<path d="M383.32 425.56 L385.92 430.06 L380.72 430.06 Z" fill="#0c0c8c"/>
<path d="M411.64 433.93 L414.24 438.43 L409.04 438.43 Z" fill="#0c0c8c"/>
<path d="M421.55 432 L424.15 436.5 L418.95 436.5 Z" fill="#0c0c8c"/>
<path d="M444.2 401.08 L446.8 405.58 L441.6 405.58 Z" fill="#0c0c8c"/>
<line x1="396" y1="350.5" x2="415.4" y2="350.5" stroke="#f4502a" stroke-width="0.9"/>
<rect x="403.5" y="348.4" width="4.2" height="4.2" fill="#f03a10"/>
<line x1="396" y1="360.8" x2="415.4" y2="360.8" stroke="#a860ff" stroke-width="0.9"/>
<circle cx="405.6" cy="360.8" r="2.2" fill="#8a10f0"/>
<line x1="396" y1="371.1" x2="415.4" y2="371.1" stroke="#2020a8" stroke-width="0.9"/>
<path d="M405.6 368.6 L408.2 373 L403 373 Z" fill="#0c0c8c"/>
<text x="417.6" y="353.7" font-size="8.6" text-anchor="start" fill="#000">In</text>
<text x="417.6" y="364" font-size="8.6" text-anchor="start" fill="#000">InBi</text>
<text x="417.6" y="374.3" font-size="8.6">InSn<tspan font-size="6" dy="2">4</tspan></text>
<path d="M279.2 342.1 H452.7 V477.1" stroke="#707070" stroke-width="1.0" fill="none"/>
<line x1="279.2" y1="341.6" x2="279.2" y2="477.1" stroke="#3c3c3c" stroke-width="1.0"/>
<line x1="278.7" y1="477.1" x2="453.2" y2="477.1" stroke="#3c3c3c" stroke-width="1.0"/>
<line x1="275.9" y1="348.3" x2="279.2" y2="348.3" stroke="#3c3c3c" stroke-width="0.9"/>
<text x="275.6" y="351.8" font-size="9.8" text-anchor="end" fill="#000">0.00</text>
<line x1="275.9" y1="380.5" x2="279.2" y2="380.5" stroke="#3c3c3c" stroke-width="0.9"/>
<text x="275.6" y="384" font-size="9.8" text-anchor="end" fill="#000">−0.05</text>
<line x1="275.9" y1="412.7" x2="279.2" y2="412.7" stroke="#3c3c3c" stroke-width="0.9"/>
<text x="275.6" y="416.2" font-size="9.8" text-anchor="end" fill="#000">−0.10</text>
<line x1="275.9" y1="444.9" x2="279.2" y2="444.9" stroke="#3c3c3c" stroke-width="0.9"/>
<text x="275.6" y="448.4" font-size="9.8" text-anchor="end" fill="#000">−0.15</text>
<line x1="275.9" y1="477.1" x2="279.2" y2="477.1" stroke="#3c3c3c" stroke-width="0.9"/>
<text x="275.6" y="480.6" font-size="9.8" text-anchor="end" fill="#000">−0.20</text>
<line x1="279.2" y1="364.4" x2="281.2" y2="364.4" stroke="#3c3c3c" stroke-width="0.8"/>
<line x1="279.2" y1="396.6" x2="281.2" y2="396.6" stroke="#3c3c3c" stroke-width="0.8"/>
<line x1="279.2" y1="428.8" x2="281.2" y2="428.8" stroke="#3c3c3c" stroke-width="0.8"/>
<line x1="279.2" y1="461" x2="281.2" y2="461" stroke="#3c3c3c" stroke-width="0.8"/>
<line x1="286.9" y1="477.1" x2="286.9" y2="474.3" stroke="#3c3c3c" stroke-width="0.9"/>
<text x="286.9" y="489.4" font-size="10.0" text-anchor="middle" fill="#000">0.0</text>
<line x1="318.36" y1="477.1" x2="318.36" y2="474.3" stroke="#3c3c3c" stroke-width="0.9"/>
<text x="318.36" y="489.4" font-size="10.0" text-anchor="middle" fill="#000">0.2</text>
<line x1="349.82" y1="477.1" x2="349.82" y2="474.3" stroke="#3c3c3c" stroke-width="0.9"/>
<text x="349.82" y="489.4" font-size="10.0" text-anchor="middle" fill="#000">0.4</text>
<line x1="381.28" y1="477.1" x2="381.28" y2="474.3" stroke="#3c3c3c" stroke-width="0.9"/>
<text x="381.28" y="489.4" font-size="10.0" text-anchor="middle" fill="#000">0.6</text>
<line x1="412.74" y1="477.1" x2="412.74" y2="474.3" stroke="#3c3c3c" stroke-width="0.9"/>
<text x="412.74" y="489.4" font-size="10.0" text-anchor="middle" fill="#000">0.8</text>
<line x1="444.2" y1="477.1" x2="444.2" y2="474.3" stroke="#3c3c3c" stroke-width="0.9"/>
<text x="444.2" y="489.4" font-size="10.0" text-anchor="middle" fill="#000">1.0</text>
<line x1="302.63" y1="477.1" x2="302.63" y2="475.3" stroke="#3c3c3c" stroke-width="0.8"/>
<line x1="334.09" y1="477.1" x2="334.09" y2="475.3" stroke="#3c3c3c" stroke-width="0.8"/>
<line x1="365.55" y1="477.1" x2="365.55" y2="475.3" stroke="#3c3c3c" stroke-width="0.8"/>
<line x1="397.01" y1="477.1" x2="397.01" y2="475.3" stroke="#3c3c3c" stroke-width="0.8"/>
<line x1="428.47" y1="477.1" x2="428.47" y2="475.3" stroke="#3c3c3c" stroke-width="0.8"/>
<text x="362.6" y="508" font-size="9.9" text-anchor="middle" fill="#000">Atomic fraction of LiPSCl</text>
<text transform="translate(246.9 409.5) rotate(-90)" font-size="9.7" text-anchor="middle">Reaction energy (eV atom<tspan font-size="6.8" dy="-3.4">−1</tspan><tspan dy="3.4">)</tspan></text>
<text x="476.6" y="340.3" font-size="14.5" text-anchor="start" fill="#000" font-weight="bold">g</text>
<clipPath id="gclip"><rect x="506.5" y="341.0" width="151.2" height="134"/></clipPath>
<filter id="gblur" x="-10%" y="-10%" width="120%" height="120%" color-interpolation-filters="sRGB"><feGaussianBlur stdDeviation="1.3"/></filter>
<g clip-path="url(#gclip)"><g filter="url(#gblur)" shape-rendering="crispEdges">
<path d="M498.7 333.2h2.9v2.9h-2.9z" fill="#8cf600"/>
<path d="M501.3 333.2h2.9v2.9h-2.9z" fill="#88f600"/>
<path d="M503.9 333.2h2.9v2.9h-2.9z" fill="#83f600"/>
<path d="M506.5 333.2h2.9v2.9h-2.9z" fill="#7cf500"/>
<path d="M509.1 333.2h2.9v2.9h-2.9z" fill="#74f500"/>
<path d="M511.7 333.2h2.9v2.9h-2.9z" fill="#6af400"/>
<path d="M514.3 333.2h2.9v2.9h-2.9z" fill="#61f400"/>
<path d="M516.9 333.2h2.9v2.9h-2.9z" fill="#59f300"/>
<path d="M519.5 333.2h2.9v2.9h-2.9z" fill="#53f300"/>
<path d="M522.1 333.2h2.9v2.9h-2.9z" fill="#4ef300"/>
<path d="M524.7 333.2h2.9v2.9h-2.9z" fill="#4af300"/>
<path d="M527.3 333.2h2.9v2.9h-2.9z" fill="#48f300"/>
<path d="M529.9 333.2h2.9v2.9h-2.9z" fill="#47f300"/>
<path d="M532.5 333.2h2.9v2.9h-2.9z" fill="#48f300"/>
<path d="M535.1 333.2h2.9v2.9h-2.9z" fill="#4df300"/>
<path d="M537.7 333.2h2.9v2.9h-2.9z" fill="#56f300"/>
<path d="M540.3 333.2h2.9v2.9h-2.9z" fill="#67f400"/>
<path d="M542.9 333.2h2.9v2.9h-2.9z" fill="#7ef500"/>
<path d="M545.5 333.2h2.9v2.9h-2.9z" fill="#99f700"/>
<path d="M548.1 333.2h2.9v2.9h-2.9z" fill="#baf800"/>
<path d="M550.7 333.2h2.9v2.9h-2.9z" fill="#e2f600"/>
<path d="M553.3 333.2h2.9v2.9h-2.9z" fill="#fbea00"/>
<path d="M555.9 333.2h2.9v2.9h-2.9z" fill="#ffd600"/>
<path d="M558.5 333.2h2.9v2.9h-2.9z" fill="#ffb800"/>
<path d="M561.1 333.2h2.9v2.9h-2.9z" fill="#ff9b00"/>
<path d="M563.7 333.2h2.9v2.9h-2.9z" fill="#ff8400"/>
<path d="M566.3 333.2h2.9v2.9h-2.9z" fill="#ff7200"/>
<path d="M568.9 333.2h2.9v2.9h-2.9z" fill="#ff6500"/>
<path d="M571.5 333.2h2.9v2.9h-2.9z" fill="#ff5a00"/>
<path d="M574.1 333.2h2.9v2.9h-2.9z" fill="#ff5500"/>
<path d="M576.7 333.2h2.9v2.9h-2.9z" fill="#ff5800"/>
<path d="M579.3 333.2h2.9v2.9h-2.9z" fill="#ff6300"/>
<path d="M581.9 333.2h2.9v2.9h-2.9z" fill="#ff7300"/>
<path d="M584.5 333.2h2.9v2.9h-2.9z" fill="#ff8900"/>
<path d="M587.1 333.2h2.9v2.9h-2.9z" fill="#ffa800"/>
<path d="M589.7 333.2h2.9v2.9h-2.9z" fill="#ffcd00"/>
<path d="M592.3 333.2h2.9v2.9h-2.9z" fill="#ffe600"/>
<path d="M594.9 333.2h2.9v2.9h-2.9z" fill="#e9f500"/>
<path d="M597.5 333.2h2.9v2.9h-2.9z" fill="#c1f700"/>
<path d="M600.1 333.2h2.9v2.9h-2.9z" fill="#a1f700"/>
<path d="M602.7 333.2h2.9v2.9h-2.9z" fill="#89f600"/>
<path d="M605.3 333.2h2.9v2.9h-2.9z" fill="#78f500"/>
<path d="M607.9 333.2h2.9v2.9h-2.9z" fill="#68f400"/>
<path d="M610.5 333.2h2.9v2.9h-2.9z" fill="#5bf400"/>
<path d="M613.1 333.2h2.9v2.9h-2.9z" fill="#52f300"/>
<path d="M615.7 333.2h2.9v2.9h-2.9z" fill="#4bf300"/>
<path d="M618.3 333.2h2.9v2.9h-2.9z" fill="#47f300"/>
<path d="M620.9 333.2h2.9v2.9h-2.9z" fill="#44f200"/>
<path d="M623.5 333.2h2.9v2.9h-2.9z" fill="#44f200"/>
<path d="M626.1 333.2h2.9v2.9h-2.9z" fill="#44f200"/>
<path d="M628.7 333.2h2.9v2.9h-2.9z" fill="#45f200"/>
<path d="M631.3 333.2h2.9v2.9h-2.9z" fill="#45f200"/>
<path d="M633.9 333.2h2.9v2.9h-2.9z" fill="#45f200"/>
<path d="M636.5 333.2h2.9v2.9h-2.9z" fill="#43f200"/>
<path d="M639.1 333.2h2.9v2.9h-2.9z" fill="#40f200"/>
<path d="M641.7 333.2h2.9v2.9h-2.9z" fill="#3cf200"/>
<path d="M644.3 333.2h2.9v2.9h-2.9z" fill="#37f200"/>
<path d="M646.9 333.2h2.9v2.9h-2.9z" fill="#32f300"/>
<path d="M649.5 333.2h2.9v2.9h-2.9z" fill="#2cf300"/>
<path d="M652.1 333.2h2.9v2.9h-2.9z" fill="#27f300"/>
<path d="M654.7 333.2h2.9v2.9h-2.9z" fill="#23f300"/>
<path d="M657.3 333.2h2.9v2.9h-2.9z" fill="#1ff300"/>
<path d="M659.9 333.2h2.9v2.9h-2.9z" fill="#1ef400"/>
<path d="M662.5 333.2h2.9v2.9h-2.9z" fill="#1df400"/>
<path d="M665.1 333.2h2.9v2.9h-2.9z" fill="#1ef400"/>
<path d="M498.7 335.8h2.9v2.9h-2.9z" fill="#89f600"/>
<path d="M501.3 335.8h2.9v2.9h-2.9z" fill="#85f600"/>
<path d="M503.9 335.8h2.9v2.9h-2.9z" fill="#7ef500"/>
<path d="M506.5 335.8h2.9v2.9h-2.9z" fill="#76f500"/>
<path d="M509.1 335.8h2.9v2.9h-2.9z" fill="#6bf400"/>
<path d="M511.7 335.8h2.9v2.9h-2.9z" fill="#5ff400"/>
<path d="M514.3 335.8h2.9v2.9h-2.9z" fill="#54f300"/>
<path d="M516.9 335.8h2.9v2.9h-2.9z" fill="#4bf300"/>
<path d="M519.5 335.8h2.9v2.9h-2.9z" fill="#44f200"/>
<path d="M522.1 335.8h2.9v2.9h-2.9z" fill="#3ef200"/>
<path d="M524.7 335.8h2.9v2.9h-2.9z" fill="#3bf200"/>
<path d="M527.3 335.8h2.9v2.9h-2.9z" fill="#38f200"/>
<path d="M529.9 335.8h2.9v2.9h-2.9z" fill="#36f200"/>
<path d="M532.5 335.8h2.9v2.9h-2.9z" fill="#36f200"/>
<path d="M535.1 335.8h2.9v2.9h-2.9z" fill="#38f200"/>
<path d="M537.7 335.8h2.9v2.9h-2.9z" fill="#3ef200"/>
<path d="M540.3 335.8h2.9v2.9h-2.9z" fill="#4df300"/>
<path d="M542.9 335.8h2.9v2.9h-2.9z" fill="#66f400"/>
<path d="M545.5 335.8h2.9v2.9h-2.9z" fill="#86f600"/>
<path d="M548.1 335.8h2.9v2.9h-2.9z" fill="#a9f800"/>
<path d="M550.7 335.8h2.9v2.9h-2.9z" fill="#d4f600"/>
<path d="M553.3 335.8h2.9v2.9h-2.9z" fill="#f6ef00"/>
<path d="M555.9 335.8h2.9v2.9h-2.9z" fill="#ffdb00"/>
<path d="M558.5 335.8h2.9v2.9h-2.9z" fill="#ffc000"/>
<path d="M561.1 335.8h2.9v2.9h-2.9z" fill="#ffa400"/>
<path d="M563.7 335.8h2.9v2.9h-2.9z" fill="#ff8d00"/>
<path d="M566.3 335.8h2.9v2.9h-2.9z" fill="#ff7b00"/>
<path d="M568.9 335.8h2.9v2.9h-2.9z" fill="#ff6e00"/>
<path d="M571.5 335.8h2.9v2.9h-2.9z" fill="#ff6500"/>
<path d="M574.1 335.8h2.9v2.9h-2.9z" fill="#ff5f00"/>
<path d="M576.7 335.8h2.9v2.9h-2.9z" fill="#ff6000"/>
<path d="M579.3 335.8h2.9v2.9h-2.9z" fill="#ff6800"/>
<path d="M581.9 335.8h2.9v2.9h-2.9z" fill="#ff7600"/>
<path d="M584.5 335.8h2.9v2.9h-2.9z" fill="#ff8c00"/>
<path d="M587.1 335.8h2.9v2.9h-2.9z" fill="#ffac00"/>
<path d="M589.7 335.8h2.9v2.9h-2.9z" fill="#ffd200"/>
<path d="M592.3 335.8h2.9v2.9h-2.9z" fill="#fce900"/>
<path d="M594.9 335.8h2.9v2.9h-2.9z" fill="#e0f600"/>
<path d="M597.5 335.8h2.9v2.9h-2.9z" fill="#b7f800"/>
<path d="M600.1 335.8h2.9v2.9h-2.9z" fill="#98f700"/>
<path d="M602.7 335.8h2.9v2.9h-2.9z" fill="#81f500"/>
<path d="M605.3 335.8h2.9v2.9h-2.9z" fill="#6ff500"/>
<path d="M607.9 335.8h2.9v2.9h-2.9z" fill="#5ff400"/>
<path d="M610.5 335.8h2.9v2.9h-2.9z" fill="#54f300"/>
<path d="M613.1 335.8h2.9v2.9h-2.9z" fill="#4bf300"/>
<path d="M615.7 335.8h2.9v2.9h-2.9z" fill="#45f200"/>
<path d="M618.3 335.8h2.9v2.9h-2.9z" fill="#41f200"/>
<path d="M620.9 335.8h2.9v2.9h-2.9z" fill="#40f200"/>
<path d="M623.5 335.8h2.9v2.9h-2.9z" fill="#42f200"/>
<path d="M626.1 335.8h2.9v2.9h-2.9z" fill="#44f200"/>
<path d="M628.7 335.8h2.9v2.9h-2.9z" fill="#47f300"/>
<path d="M631.3 335.8h2.9v2.9h-2.9z" fill="#49f300"/>
<path d="M633.9 335.8h2.9v2.9h-2.9z" fill="#4af300"/>
<path d="M636.5 335.8h2.9v2.9h-2.9z" fill="#49f300"/>
<path d="M639.1 335.8h2.9v2.9h-2.9z" fill="#46f200"/>
<path d="M641.7 335.8h2.9v2.9h-2.9z" fill="#41f200"/>
<path d="M644.3 335.8h2.9v2.9h-2.9z" fill="#3cf200"/>
<path d="M646.9 335.8h2.9v2.9h-2.9z" fill="#36f200"/>
<path d="M649.5 335.8h2.9v2.9h-2.9z" fill="#30f300"/>
<path d="M652.1 335.8h2.9v2.9h-2.9z" fill="#2af300"/>
<path d="M654.7 335.8h2.9v2.9h-2.9z" fill="#25f300"/>
<path d="M657.3 335.8h2.9v2.9h-2.9z" fill="#22f300"/>
<path d="M659.9 335.8h2.9v2.9h-2.9z" fill="#20f300"/>
<path d="M662.5 335.8h2.9v2.9h-2.9z" fill="#20f300"/>
<path d="M665.1 335.8h2.9v2.9h-2.9z" fill="#20f300"/>
<path d="M498.7 338.4h2.9v2.9h-2.9z" fill="#85f600"/>
<path d="M501.3 338.4h2.9v2.9h-2.9z" fill="#80f500"/>
<path d="M503.9 338.4h2.9v2.9h-2.9z" fill="#78f500"/>
<path d="M506.5 338.4h2.9v2.9h-2.9z" fill="#6df400"/>
<path d="M509.1 338.4h2.9v2.9h-2.9z" fill="#5ff400"/>
<path d="M511.7 338.4h2.9v2.9h-2.9z" fill="#52f300"/>
<path d="M514.3 338.4h2.9v2.9h-2.9z" fill="#45f200"/>
<path d="M516.9 338.4h2.9v2.9h-2.9z" fill="#3bf200"/>
<path d="M519.5 338.4h2.9v2.9h-2.9z" fill="#35f200"/>
<path d="M522.1 338.4h2.9v2.9h-2.9z" fill="#31f300"/>
<path d="M524.7 338.4h2.9v2.9h-2.9z" fill="#2ef300"/>
<path d="M527.3 338.4h2.9v2.9h-2.9z" fill="#2bf300"/>
<path d="M529.9 338.4h2.9v2.9h-2.9z" fill="#29f300"/>
<path d="M532.5 338.4h2.9v2.9h-2.9z" fill="#27f300"/>
<path d="M535.1 338.4h2.9v2.9h-2.9z" fill="#28f300"/>
<path d="M537.7 338.4h2.9v2.9h-2.9z" fill="#2cf300"/>
<path d="M540.3 338.4h2.9v2.9h-2.9z" fill="#37f200"/>
<path d="M542.9 338.4h2.9v2.9h-2.9z" fill="#4ff300"/>
<path d="M545.5 338.4h2.9v2.9h-2.9z" fill="#73f500"/>
<path d="M548.1 338.4h2.9v2.9h-2.9z" fill="#98f700"/>
<path d="M550.7 338.4h2.9v2.9h-2.9z" fill="#c3f700"/>
<path d="M553.3 338.4h2.9v2.9h-2.9z" fill="#f0f500"/>
<path d="M555.9 338.4h2.9v2.9h-2.9z" fill="#ffe400"/>
<path d="M558.5 338.4h2.9v2.9h-2.9z" fill="#ffd100"/>
<path d="M561.1 338.4h2.9v2.9h-2.9z" fill="#ffb700"/>
<path d="M563.7 338.4h2.9v2.9h-2.9z" fill="#ffa200"/>
<path d="M566.3 338.4h2.9v2.9h-2.9z" fill="#ff9100"/>
<path d="M568.9 338.4h2.9v2.9h-2.9z" fill="#ff8500"/>
<path d="M571.5 338.4h2.9v2.9h-2.9z" fill="#ff7c00"/>
<path d="M574.1 338.4h2.9v2.9h-2.9z" fill="#ff7600"/>
<path d="M576.7 338.4h2.9v2.9h-2.9z" fill="#ff7500"/>
<path d="M579.3 338.4h2.9v2.9h-2.9z" fill="#ff7a00"/>
<path d="M581.9 338.4h2.9v2.9h-2.9z" fill="#ff8600"/>
<path d="M584.5 338.4h2.9v2.9h-2.9z" fill="#ff9b00"/>
<path d="M587.1 338.4h2.9v2.9h-2.9z" fill="#ffba00"/>
<path d="M589.7 338.4h2.9v2.9h-2.9z" fill="#ffda00"/>
<path d="M592.3 338.4h2.9v2.9h-2.9z" fill="#f7ee00"/>
<path d="M594.9 338.4h2.9v2.9h-2.9z" fill="#d5f600"/>
<path d="M597.5 338.4h2.9v2.9h-2.9z" fill="#aff800"/>
<path d="M600.1 338.4h2.9v2.9h-2.9z" fill="#92f600"/>
<path d="M602.7 338.4h2.9v2.9h-2.9z" fill="#7df500"/>
<path d="M605.3 338.4h2.9v2.9h-2.9z" fill="#6bf400"/>
<path d="M607.9 338.4h2.9v2.9h-2.9z" fill="#5cf400"/>
<path d="M610.5 338.4h2.9v2.9h-2.9z" fill="#4ff300"/>
<path d="M613.1 338.4h2.9v2.9h-2.9z" fill="#46f300"/>
<path d="M615.7 338.4h2.9v2.9h-2.9z" fill="#40f200"/>
<path d="M618.3 338.4h2.9v2.9h-2.9z" fill="#3df200"/>
<path d="M620.9 338.4h2.9v2.9h-2.9z" fill="#3ef200"/>
<path d="M623.5 338.4h2.9v2.9h-2.9z" fill="#41f200"/>
<path d="M626.1 338.4h2.9v2.9h-2.9z" fill="#46f200"/>
<path d="M628.7 338.4h2.9v2.9h-2.9z" fill="#4bf300"/>
<path d="M631.3 338.4h2.9v2.9h-2.9z" fill="#4ff300"/>
<path d="M633.9 338.4h2.9v2.9h-2.9z" fill="#51f300"/>
<path d="M636.5 338.4h2.9v2.9h-2.9z" fill="#50f300"/>
<path d="M639.1 338.4h2.9v2.9h-2.9z" fill="#4ef300"/>
<path d="M641.7 338.4h2.9v2.9h-2.9z" fill="#4af300"/>
<path d="M644.3 338.4h2.9v2.9h-2.9z" fill="#44f200"/>
<path d="M646.9 338.4h2.9v2.9h-2.9z" fill="#3df200"/>
<path d="M649.5 338.4h2.9v2.9h-2.9z" fill="#36f200"/>
<path d="M652.1 338.4h2.9v2.9h-2.9z" fill="#2ff300"/>
<path d="M654.7 338.4h2.9v2.9h-2.9z" fill="#2af300"/>
<path d="M657.3 338.4h2.9v2.9h-2.9z" fill="#26f300"/>
<path d="M659.9 338.4h2.9v2.9h-2.9z" fill="#24f300"/>
<path d="M662.5 338.4h2.9v2.9h-2.9z" fill="#24f300"/>
<path d="M665.1 338.4h2.9v2.9h-2.9z" fill="#25f300"/>
<path d="M498.7 341h2.9v2.9h-2.9z" fill="#80f500"/>
<path d="M501.3 341h2.9v2.9h-2.9z" fill="#79f500"/>
<path d="M503.9 341h2.9v2.9h-2.9z" fill="#6ff500"/>
<path d="M506.5 341h2.9v2.9h-2.9z" fill="#61f400"/>
<path d="M509.1 341h2.9v2.9h-2.9z" fill="#52f300"/>
<path d="M511.7 341h2.9v2.9h-2.9z" fill="#42f200"/>
<path d="M514.3 341h2.9v2.9h-2.9z" fill="#35f200"/>
<path d="M516.9 341h2.9v2.9h-2.9z" fill="#2cf300"/>
<path d="M519.5 341h2.9v2.9h-2.9z" fill="#27f300"/>
<path d="M522.1 341h2.9v2.9h-2.9z" fill="#24f300"/>
<path d="M524.7 341h2.9v2.9h-2.9z" fill="#22f300"/>
<path d="M527.3 341h2.9v2.9h-2.9z" fill="#21f300"/>
<path d="M529.9 341h2.9v2.9h-2.9z" fill="#1ef300"/>
<path d="M532.5 341h2.9v2.9h-2.9z" fill="#1cf400"/>
<path d="M535.1 341h2.9v2.9h-2.9z" fill="#1bf400"/>
<path d="M537.7 341h2.9v2.9h-2.9z" fill="#1ff300"/>
<path d="M540.3 341h2.9v2.9h-2.9z" fill="#29f300"/>
<path d="M542.9 341h2.9v2.9h-2.9z" fill="#3cf200"/>
<path d="M545.5 341h2.9v2.9h-2.9z" fill="#5ff400"/>
<path d="M548.1 341h2.9v2.9h-2.9z" fill="#88f600"/>
<path d="M550.7 341h2.9v2.9h-2.9z" fill="#aff800"/>
<path d="M553.3 341h2.9v2.9h-2.9z" fill="#daf600"/>
<path d="M555.9 341h2.9v2.9h-2.9z" fill="#f6ef00"/>
<path d="M558.5 341h2.9v2.9h-2.9z" fill="#ffe100"/>
<path d="M561.1 341h2.9v2.9h-2.9z" fill="#ffd500"/>
<path d="M563.7 341h2.9v2.9h-2.9z" fill="#ffc600"/>
<path d="M566.3 341h2.9v2.9h-2.9z" fill="#ffb800"/>
<path d="M568.9 341h2.9v2.9h-2.9z" fill="#ffac00"/>
<path d="M571.5 341h2.9v2.9h-2.9z" fill="#ffa200"/>
<path d="M574.1 341h2.9v2.9h-2.9z" fill="#ff9a00"/>
<path d="M576.7 341h2.9v2.9h-2.9z" fill="#ff9700"/>
<path d="M579.3 341h2.9v2.9h-2.9z" fill="#ff9900"/>
<path d="M581.9 341h2.9v2.9h-2.9z" fill="#ffa400"/>
<path d="M584.5 341h2.9v2.9h-2.9z" fill="#ffb900"/>
<path d="M587.1 341h2.9v2.9h-2.9z" fill="#ffd500"/>
<path d="M589.7 341h2.9v2.9h-2.9z" fill="#fde800"/>
<path d="M592.3 341h2.9v2.9h-2.9z" fill="#e8f500"/>
<path d="M594.9 341h2.9v2.9h-2.9z" fill="#c4f700"/>
<path d="M597.5 341h2.9v2.9h-2.9z" fill="#a6f700"/>
<path d="M600.1 341h2.9v2.9h-2.9z" fill="#8ff600"/>
<path d="M602.7 341h2.9v2.9h-2.9z" fill="#7df500"/>
<path d="M605.3 341h2.9v2.9h-2.9z" fill="#6bf400"/>
<path d="M607.9 341h2.9v2.9h-2.9z" fill="#5bf400"/>
<path d="M610.5 341h2.9v2.9h-2.9z" fill="#4df300"/>
<path d="M613.1 341h2.9v2.9h-2.9z" fill="#43f200"/>
<path d="M615.7 341h2.9v2.9h-2.9z" fill="#3df200"/>
<path d="M618.3 341h2.9v2.9h-2.9z" fill="#3bf200"/>
<path d="M620.9 341h2.9v2.9h-2.9z" fill="#3df200"/>
<path d="M623.5 341h2.9v2.9h-2.9z" fill="#42f200"/>
<path d="M626.1 341h2.9v2.9h-2.9z" fill="#49f300"/>
<path d="M628.7 341h2.9v2.9h-2.9z" fill="#50f300"/>
<path d="M631.3 341h2.9v2.9h-2.9z" fill="#56f300"/>
<path d="M633.9 341h2.9v2.9h-2.9z" fill="#59f300"/>
<path d="M636.5 341h2.9v2.9h-2.9z" fill="#5af400"/>
<path d="M639.1 341h2.9v2.9h-2.9z" fill="#58f300"/>
<path d="M641.7 341h2.9v2.9h-2.9z" fill="#54f300"/>
<path d="M644.3 341h2.9v2.9h-2.9z" fill="#4ef300"/>
<path d="M646.9 341h2.9v2.9h-2.9z" fill="#47f300"/>
<path d="M649.5 341h2.9v2.9h-2.9z" fill="#3ff200"/>
<path d="M652.1 341h2.9v2.9h-2.9z" fill="#38f200"/>
<path d="M654.7 341h2.9v2.9h-2.9z" fill="#32f200"/>
<path d="M657.3 341h2.9v2.9h-2.9z" fill="#2ef300"/>
<path d="M659.9 341h2.9v2.9h-2.9z" fill="#2cf300"/>
<path d="M662.5 341h2.9v2.9h-2.9z" fill="#2bf300"/>
<path d="M665.1 341h2.9v2.9h-2.9z" fill="#2bf300"/>
<path d="M498.7 343.6h2.9v2.9h-2.9z" fill="#7af500"/>
<path d="M501.3 343.6h2.9v2.9h-2.9z" fill="#71f500"/>
<path d="M503.9 343.6h2.9v2.9h-2.9z" fill="#64f400"/>
<path d="M506.5 343.6h2.9v2.9h-2.9z" fill="#55f300"/>
<path d="M509.1 343.6h2.9v2.9h-2.9z" fill="#44f200"/>
<path d="M511.7 343.6h2.9v2.9h-2.9z" fill="#34f200"/>
<path d="M514.3 343.6h2.9v2.9h-2.9z" fill="#26f300"/>
<path d="M516.9 343.6h2.9v2.9h-2.9z" fill="#1df400"/>
<path d="M519.5 343.6h2.9v2.9h-2.9z" fill="#18f400"/>
<path d="M522.1 343.6h2.9v2.9h-2.9z" fill="#17f400"/>
<path d="M524.7 343.6h2.9v2.9h-2.9z" fill="#18f400"/>
<path d="M527.3 343.6h2.9v2.9h-2.9z" fill="#17f400"/>
<path d="M529.9 343.6h2.9v2.9h-2.9z" fill="#16f400"/>
<path d="M532.5 343.6h2.9v2.9h-2.9z" fill="#13f400"/>
<path d="M535.1 343.6h2.9v2.9h-2.9z" fill="#13f400"/>
<path d="M537.7 343.6h2.9v2.9h-2.9z" fill="#16f400"/>
<path d="M540.3 343.6h2.9v2.9h-2.9z" fill="#1ff300"/>
<path d="M542.9 343.6h2.9v2.9h-2.9z" fill="#31f300"/>
<path d="M545.5 343.6h2.9v2.9h-2.9z" fill="#4ff300"/>
<path d="M548.1 343.6h2.9v2.9h-2.9z" fill="#76f500"/>
<path d="M550.7 343.6h2.9v2.9h-2.9z" fill="#99f700"/>
<path d="M553.3 343.6h2.9v2.9h-2.9z" fill="#bcf700"/>
<path d="M555.9 343.6h2.9v2.9h-2.9z" fill="#dcf600"/>
<path d="M558.5 343.6h2.9v2.9h-2.9z" fill="#f2f300"/>
<path d="M561.1 343.6h2.9v2.9h-2.9z" fill="#f9ec00"/>
<path d="M563.7 343.6h2.9v2.9h-2.9z" fill="#ffe600"/>
<path d="M566.3 343.6h2.9v2.9h-2.9z" fill="#ffdf00"/>
<path d="M568.9 343.6h2.9v2.9h-2.9z" fill="#ffd900"/>
<path d="M571.5 343.6h2.9v2.9h-2.9z" fill="#ffd200"/>
<path d="M574.1 343.6h2.9v2.9h-2.9z" fill="#ffc900"/>
<path d="M576.7 343.6h2.9v2.9h-2.9z" fill="#ffc300"/>
<path d="M579.3 343.6h2.9v2.9h-2.9z" fill="#ffc400"/>
<path d="M581.9 343.6h2.9v2.9h-2.9z" fill="#ffce00"/>
<path d="M584.5 343.6h2.9v2.9h-2.9z" fill="#ffdc00"/>
<path d="M587.1 343.6h2.9v2.9h-2.9z" fill="#faeb00"/>
<path d="M589.7 343.6h2.9v2.9h-2.9z" fill="#e3f600"/>
<path d="M592.3 343.6h2.9v2.9h-2.9z" fill="#c1f700"/>
<path d="M594.9 343.6h2.9v2.9h-2.9z" fill="#a7f800"/>
<path d="M597.5 343.6h2.9v2.9h-2.9z" fill="#96f700"/>
<path d="M600.1 343.6h2.9v2.9h-2.9z" fill="#88f600"/>
<path d="M602.7 343.6h2.9v2.9h-2.9z" fill="#7bf500"/>
<path d="M605.3 343.6h2.9v2.9h-2.9z" fill="#6af400"/>
<path d="M607.9 343.6h2.9v2.9h-2.9z" fill="#59f300"/>
<path d="M610.5 343.6h2.9v2.9h-2.9z" fill="#4bf300"/>
<path d="M613.1 343.6h2.9v2.9h-2.9z" fill="#40f200"/>
<path d="M615.7 343.6h2.9v2.9h-2.9z" fill="#3af200"/>
<path d="M618.3 343.6h2.9v2.9h-2.9z" fill="#39f200"/>
<path d="M620.9 343.6h2.9v2.9h-2.9z" fill="#3df200"/>
<path d="M623.5 343.6h2.9v2.9h-2.9z" fill="#44f200"/>
<path d="M626.1 343.6h2.9v2.9h-2.9z" fill="#4ef300"/>
<path d="M628.7 343.6h2.9v2.9h-2.9z" fill="#57f300"/>
<path d="M631.3 343.6h2.9v2.9h-2.9z" fill="#5ff400"/>
<path d="M633.9 343.6h2.9v2.9h-2.9z" fill="#63f400"/>
<path d="M636.5 343.6h2.9v2.9h-2.9z" fill="#65f400"/>
<path d="M639.1 343.6h2.9v2.9h-2.9z" fill="#64f400"/>
<path d="M641.7 343.6h2.9v2.9h-2.9z" fill="#60f400"/>
<path d="M644.3 343.6h2.9v2.9h-2.9z" fill="#5af400"/>
<path d="M646.9 343.6h2.9v2.9h-2.9z" fill="#53f300"/>
<path d="M649.5 343.6h2.9v2.9h-2.9z" fill="#4cf300"/>
<path d="M652.1 343.6h2.9v2.9h-2.9z" fill="#44f200"/>
<path d="M654.7 343.6h2.9v2.9h-2.9z" fill="#3ef200"/>
<path d="M657.3 343.6h2.9v2.9h-2.9z" fill="#39f200"/>
<path d="M659.9 343.6h2.9v2.9h-2.9z" fill="#36f200"/>
<path d="M662.5 343.6h2.9v2.9h-2.9z" fill="#35f200"/>
<path d="M665.1 343.6h2.9v2.9h-2.9z" fill="#34f200"/>
<path d="M498.7 346.2h2.9v2.9h-2.9z" fill="#74f500"/>
<path d="M501.3 346.2h2.9v2.9h-2.9z" fill="#68f400"/>
<path d="M503.9 346.2h2.9v2.9h-2.9z" fill="#5af400"/>
<path d="M506.5 346.2h2.9v2.9h-2.9z" fill="#49f300"/>
<path d="M509.1 346.2h2.9v2.9h-2.9z" fill="#38f200"/>
<path d="M511.7 346.2h2.9v2.9h-2.9z" fill="#28f300"/>
<path d="M514.3 346.2h2.9v2.9h-2.9z" fill="#19f400"/>
<path d="M516.9 346.2h2.9v2.9h-2.9z" fill="#0ff400"/>
<path d="M519.5 346.2h2.9v2.9h-2.9z" fill="#0bf400"/>
<path d="M522.1 346.2h2.9v2.9h-2.9z" fill="#0cf400"/>
<path d="M524.7 346.2h2.9v2.9h-2.9z" fill="#0ff400"/>
<path d="M527.3 346.2h2.9v2.9h-2.9z" fill="#10f400"/>
<path d="M529.9 346.2h2.9v2.9h-2.9z" fill="#0ff400"/>
<path d="M532.5 346.2h2.9v2.9h-2.9z" fill="#0df400"/>
<path d="M535.1 346.2h2.9v2.9h-2.9z" fill="#0df400"/>
<path d="M537.7 346.2h2.9v2.9h-2.9z" fill="#10f400"/>
<path d="M540.3 346.2h2.9v2.9h-2.9z" fill="#18f400"/>
<path d="M542.9 346.2h2.9v2.9h-2.9z" fill="#28f300"/>
<path d="M545.5 346.2h2.9v2.9h-2.9z" fill="#3ff200"/>
<path d="M548.1 346.2h2.9v2.9h-2.9z" fill="#60f400"/>
<path d="M550.7 346.2h2.9v2.9h-2.9z" fill="#81f500"/>
<path d="M553.3 346.2h2.9v2.9h-2.9z" fill="#9cf700"/>
<path d="M555.9 346.2h2.9v2.9h-2.9z" fill="#b2f800"/>
<path d="M558.5 346.2h2.9v2.9h-2.9z" fill="#c5f700"/>
<path d="M561.1 346.2h2.9v2.9h-2.9z" fill="#d3f600"/>
<path d="M563.7 346.2h2.9v2.9h-2.9z" fill="#def600"/>
<path d="M566.3 346.2h2.9v2.9h-2.9z" fill="#eaf500"/>
<path d="M568.9 346.2h2.9v2.9h-2.9z" fill="#f3f200"/>
<path d="M571.5 346.2h2.9v2.9h-2.9z" fill="#f9ec00"/>
<path d="M574.1 346.2h2.9v2.9h-2.9z" fill="#fee700"/>
<path d="M576.7 346.2h2.9v2.9h-2.9z" fill="#ffe300"/>
<path d="M579.3 346.2h2.9v2.9h-2.9z" fill="#ffe300"/>
<path d="M581.9 346.2h2.9v2.9h-2.9z" fill="#fde800"/>
<path d="M584.5 346.2h2.9v2.9h-2.9z" fill="#f3f200"/>
<path d="M587.1 346.2h2.9v2.9h-2.9z" fill="#d5f600"/>
<path d="M589.7 346.2h2.9v2.9h-2.9z" fill="#aff800"/>
<path d="M592.3 346.2h2.9v2.9h-2.9z" fill="#92f600"/>
<path d="M594.9 346.2h2.9v2.9h-2.9z" fill="#82f600"/>
<path d="M597.5 346.2h2.9v2.9h-2.9z" fill="#7df500"/>
<path d="M600.1 346.2h2.9v2.9h-2.9z" fill="#79f500"/>
<path d="M602.7 346.2h2.9v2.9h-2.9z" fill="#71f500"/>
<path d="M605.3 346.2h2.9v2.9h-2.9z" fill="#62f400"/>
<path d="M607.9 346.2h2.9v2.9h-2.9z" fill="#52f300"/>
<path d="M610.5 346.2h2.9v2.9h-2.9z" fill="#44f200"/>
<path d="M613.1 346.2h2.9v2.9h-2.9z" fill="#3af200"/>
<path d="M615.7 346.2h2.9v2.9h-2.9z" fill="#36f200"/>
<path d="M618.3 346.2h2.9v2.9h-2.9z" fill="#36f200"/>
<path d="M620.9 346.2h2.9v2.9h-2.9z" fill="#3bf200"/>
<path d="M623.5 346.2h2.9v2.9h-2.9z" fill="#45f200"/>
<path d="M626.1 346.2h2.9v2.9h-2.9z" fill="#51f300"/>
<path d="M628.7 346.2h2.9v2.9h-2.9z" fill="#5df400"/>
<path d="M631.3 346.2h2.9v2.9h-2.9z" fill="#67f400"/>
<path d="M633.9 346.2h2.9v2.9h-2.9z" fill="#6df400"/>
<path d="M636.5 346.2h2.9v2.9h-2.9z" fill="#70f500"/>
<path d="M639.1 346.2h2.9v2.9h-2.9z" fill="#6ff500"/>
<path d="M641.7 346.2h2.9v2.9h-2.9z" fill="#6cf400"/>
<path d="M644.3 346.2h2.9v2.9h-2.9z" fill="#67f400"/>
<path d="M646.9 346.2h2.9v2.9h-2.9z" fill="#61f400"/>
<path d="M649.5 346.2h2.9v2.9h-2.9z" fill="#5af400"/>
<path d="M652.1 346.2h2.9v2.9h-2.9z" fill="#53f300"/>
<path d="M654.7 346.2h2.9v2.9h-2.9z" fill="#4df300"/>
<path d="M657.3 346.2h2.9v2.9h-2.9z" fill="#48f300"/>
<path d="M659.9 346.2h2.9v2.9h-2.9z" fill="#43f200"/>
<path d="M662.5 346.2h2.9v2.9h-2.9z" fill="#40f200"/>
<path d="M665.1 346.2h2.9v2.9h-2.9z" fill="#3ef200"/>
<path d="M498.7 348.8h2.9v2.9h-2.9z" fill="#6ff500"/>
<path d="M501.3 348.8h2.9v2.9h-2.9z" fill="#62f400"/>
<path d="M503.9 348.8h2.9v2.9h-2.9z" fill="#53f300"/>
<path d="M506.5 348.8h2.9v2.9h-2.9z" fill="#41f200"/>
<path d="M509.1 348.8h2.9v2.9h-2.9z" fill="#30f300"/>
<path d="M511.7 348.8h2.9v2.9h-2.9z" fill="#20f300"/>
<path d="M514.3 348.8h2.9v2.9h-2.9z" fill="#12f400"/>
<path d="M516.9 348.8h2.9v2.9h-2.9z" fill="#08f500"/>
<path d="M519.5 348.8h2.9v2.9h-2.9z" fill="#04f500"/>
<path d="M522.1 348.8h2.9v2.9h-2.9z" fill="#05f500"/>
<path d="M524.7 348.8h2.9v2.9h-2.9z" fill="#09f500"/>
<path d="M527.3 348.8h2.9v2.9h-2.9z" fill="#0bf400"/>
<path d="M529.9 348.8h2.9v2.9h-2.9z" fill="#0af400"/>
<path d="M532.5 348.8h2.9v2.9h-2.9z" fill="#08f500"/>
<path d="M535.1 348.8h2.9v2.9h-2.9z" fill="#08f500"/>
<path d="M537.7 348.8h2.9v2.9h-2.9z" fill="#0af400"/>
<path d="M540.3 348.8h2.9v2.9h-2.9z" fill="#11f400"/>
<path d="M542.9 348.8h2.9v2.9h-2.9z" fill="#1ef300"/>
<path d="M545.5 348.8h2.9v2.9h-2.9z" fill="#30f300"/>
<path d="M548.1 348.8h2.9v2.9h-2.9z" fill="#48f300"/>
<path d="M550.7 348.8h2.9v2.9h-2.9z" fill="#63f400"/>
<path d="M553.3 348.8h2.9v2.9h-2.9z" fill="#7cf500"/>
<path d="M555.9 348.8h2.9v2.9h-2.9z" fill="#8df600"/>
<path d="M558.5 348.8h2.9v2.9h-2.9z" fill="#9af700"/>
<path d="M561.1 348.8h2.9v2.9h-2.9z" fill="#a4f700"/>
<path d="M563.7 348.8h2.9v2.9h-2.9z" fill="#adf800"/>
<path d="M566.3 348.8h2.9v2.9h-2.9z" fill="#baf800"/>
<path d="M568.9 348.8h2.9v2.9h-2.9z" fill="#caf700"/>
<path d="M571.5 348.8h2.9v2.9h-2.9z" fill="#dbf600"/>
<path d="M574.1 348.8h2.9v2.9h-2.9z" fill="#eaf500"/>
<path d="M576.7 348.8h2.9v2.9h-2.9z" fill="#f1f400"/>
<path d="M579.3 348.8h2.9v2.9h-2.9z" fill="#f2f300"/>
<path d="M581.9 348.8h2.9v2.9h-2.9z" fill="#ebf500"/>
<path d="M584.5 348.8h2.9v2.9h-2.9z" fill="#d2f600"/>
<path d="M587.1 348.8h2.9v2.9h-2.9z" fill="#adf800"/>
<path d="M589.7 348.8h2.9v2.9h-2.9z" fill="#86f600"/>
<path d="M592.3 348.8h2.9v2.9h-2.9z" fill="#63f400"/>
<path d="M594.9 348.8h2.9v2.9h-2.9z" fill="#52f300"/>
<path d="M597.5 348.8h2.9v2.9h-2.9z" fill="#55f300"/>
<path d="M600.1 348.8h2.9v2.9h-2.9z" fill="#5bf400"/>
<path d="M602.7 348.8h2.9v2.9h-2.9z" fill="#5af300"/>
<path d="M605.3 348.8h2.9v2.9h-2.9z" fill="#50f300"/>
<path d="M607.9 348.8h2.9v2.9h-2.9z" fill="#43f200"/>
<path d="M610.5 348.8h2.9v2.9h-2.9z" fill="#38f200"/>
<path d="M613.1 348.8h2.9v2.9h-2.9z" fill="#30f300"/>
<path d="M615.7 348.8h2.9v2.9h-2.9z" fill="#2df300"/>
<path d="M618.3 348.8h2.9v2.9h-2.9z" fill="#2ff300"/>
<path d="M620.9 348.8h2.9v2.9h-2.9z" fill="#36f200"/>
<path d="M623.5 348.8h2.9v2.9h-2.9z" fill="#42f200"/>
<path d="M626.1 348.8h2.9v2.9h-2.9z" fill="#52f300"/>
<path d="M628.7 348.8h2.9v2.9h-2.9z" fill="#61f400"/>
<path d="M631.3 348.8h2.9v2.9h-2.9z" fill="#6df400"/>
<path d="M633.9 348.8h2.9v2.9h-2.9z" fill="#75f500"/>
<path d="M636.5 348.8h2.9v2.9h-2.9z" fill="#78f500"/>
<path d="M639.1 348.8h2.9v2.9h-2.9z" fill="#78f500"/>
<path d="M641.7 348.8h2.9v2.9h-2.9z" fill="#77f500"/>
<path d="M644.3 348.8h2.9v2.9h-2.9z" fill="#73f500"/>
<path d="M646.9 348.8h2.9v2.9h-2.9z" fill="#6ff500"/>
<path d="M649.5 348.8h2.9v2.9h-2.9z" fill="#69f400"/>
<path d="M652.1 348.8h2.9v2.9h-2.9z" fill="#63f400"/>
<path d="M654.7 348.8h2.9v2.9h-2.9z" fill="#5df400"/>
<path d="M657.3 348.8h2.9v2.9h-2.9z" fill="#57f300"/>
<path d="M659.9 348.8h2.9v2.9h-2.9z" fill="#52f300"/>
<path d="M662.5 348.8h2.9v2.9h-2.9z" fill="#4ef300"/>
<path d="M665.1 348.8h2.9v2.9h-2.9z" fill="#4bf300"/>
<path d="M498.7 351.4h2.9v2.9h-2.9z" fill="#6cf400"/>
<path d="M501.3 351.4h2.9v2.9h-2.9z" fill="#5ef400"/>
<path d="M503.9 351.4h2.9v2.9h-2.9z" fill="#4ff300"/>
<path d="M506.5 351.4h2.9v2.9h-2.9z" fill="#3ef200"/>
<path d="M509.1 351.4h2.9v2.9h-2.9z" fill="#2ef300"/>
<path d="M511.7 351.4h2.9v2.9h-2.9z" fill="#1ef300"/>
<path d="M514.3 351.4h2.9v2.9h-2.9z" fill="#11f400"/>
<path d="M516.9 351.4h2.9v2.9h-2.9z" fill="#08f500"/>
<path d="M519.5 351.4h2.9v2.9h-2.9z" fill="#04f500"/>
<path d="M522.1 351.4h2.9v2.9h-2.9z" fill="#05f500"/>
<path d="M524.7 351.4h2.9v2.9h-2.9z" fill="#07f500"/>
<path d="M527.3 351.4h2.9v2.9h-2.9z" fill="#08f500"/>
<path d="M529.9 351.4h2.9v2.9h-2.9z" fill="#06f500"/>
<path d="M532.5 351.4h2.9v2.9h-2.9z" fill="#04f500"/>
<path d="M535.1 351.4h2.9v2.9h-2.9z" fill="#02f500"/>
<path d="M537.7 351.4h2.9v2.9h-2.9z" fill="#04f500"/>
<path d="M540.3 351.4h2.9v2.9h-2.9z" fill="#09f500"/>
<path d="M542.9 351.4h2.9v2.9h-2.9z" fill="#13f400"/>
<path d="M545.5 351.4h2.9v2.9h-2.9z" fill="#22f300"/>
<path d="M548.1 351.4h2.9v2.9h-2.9z" fill="#32f200"/>
<path d="M550.7 351.4h2.9v2.9h-2.9z" fill="#46f200"/>
<path d="M553.3 351.4h2.9v2.9h-2.9z" fill="#59f300"/>
<path d="M555.9 351.4h2.9v2.9h-2.9z" fill="#6af400"/>
<path d="M558.5 351.4h2.9v2.9h-2.9z" fill="#78f500"/>
<path d="M561.1 351.4h2.9v2.9h-2.9z" fill="#82f600"/>
<path d="M563.7 351.4h2.9v2.9h-2.9z" fill="#8cf600"/>
<path d="M566.3 351.4h2.9v2.9h-2.9z" fill="#98f700"/>
<path d="M568.9 351.4h2.9v2.9h-2.9z" fill="#a8f800"/>
<path d="M571.5 351.4h2.9v2.9h-2.9z" fill="#b9f800"/>
<path d="M574.1 351.4h2.9v2.9h-2.9z" fill="#c9f700"/>
<path d="M576.7 351.4h2.9v2.9h-2.9z" fill="#d4f600"/>
<path d="M579.3 351.4h2.9v2.9h-2.9z" fill="#d7f600"/>
<path d="M581.9 351.4h2.9v2.9h-2.9z" fill="#d1f600"/>
<path d="M584.5 351.4h2.9v2.9h-2.9z" fill="#bcf700"/>
<path d="M587.1 351.4h2.9v2.9h-2.9z" fill="#9bf700"/>
<path d="M589.7 351.4h2.9v2.9h-2.9z" fill="#71f500"/>
<path d="M592.3 351.4h2.9v2.9h-2.9z" fill="#44f200"/>
<path d="M594.9 351.4h2.9v2.9h-2.9z" fill="#30f300"/>
<path d="M597.5 351.4h2.9v2.9h-2.9z" fill="#31f300"/>
<path d="M600.1 351.4h2.9v2.9h-2.9z" fill="#38f200"/>
<path d="M602.7 351.4h2.9v2.9h-2.9z" fill="#3af200"/>
<path d="M605.3 351.4h2.9v2.9h-2.9z" fill="#36f200"/>
<path d="M607.9 351.4h2.9v2.9h-2.9z" fill="#2ff300"/>
<path d="M610.5 351.4h2.9v2.9h-2.9z" fill="#27f300"/>
<path d="M613.1 351.4h2.9v2.9h-2.9z" fill="#22f300"/>
<path d="M615.7 351.4h2.9v2.9h-2.9z" fill="#21f300"/>
<path d="M618.3 351.4h2.9v2.9h-2.9z" fill="#25f300"/>
<path d="M620.9 351.4h2.9v2.9h-2.9z" fill="#2ff300"/>
<path d="M623.5 351.4h2.9v2.9h-2.9z" fill="#3cf200"/>
<path d="M626.1 351.4h2.9v2.9h-2.9z" fill="#4ff300"/>
<path d="M628.7 351.4h2.9v2.9h-2.9z" fill="#60f400"/>
<path d="M631.3 351.4h2.9v2.9h-2.9z" fill="#6ef500"/>
<path d="M633.9 351.4h2.9v2.9h-2.9z" fill="#78f500"/>
<path d="M636.5 351.4h2.9v2.9h-2.9z" fill="#7cf500"/>
<path d="M639.1 351.4h2.9v2.9h-2.9z" fill="#7ef500"/>
<path d="M641.7 351.4h2.9v2.9h-2.9z" fill="#7ef500"/>
<path d="M644.3 351.4h2.9v2.9h-2.9z" fill="#7df500"/>
<path d="M646.9 351.4h2.9v2.9h-2.9z" fill="#7bf500"/>
<path d="M649.5 351.4h2.9v2.9h-2.9z" fill="#77f500"/>
<path d="M652.1 351.4h2.9v2.9h-2.9z" fill="#72f500"/>
<path d="M654.7 351.4h2.9v2.9h-2.9z" fill="#6df400"/>
<path d="M657.3 351.4h2.9v2.9h-2.9z" fill="#67f400"/>
<path d="M659.9 351.4h2.9v2.9h-2.9z" fill="#61f400"/>
<path d="M662.5 351.4h2.9v2.9h-2.9z" fill="#5bf400"/>
<path d="M665.1 351.4h2.9v2.9h-2.9z" fill="#57f300"/>
<path d="M498.7 354h2.9v2.9h-2.9z" fill="#6bf400"/>
<path d="M501.3 354h2.9v2.9h-2.9z" fill="#5ef400"/>
<path d="M503.9 354h2.9v2.9h-2.9z" fill="#4ff300"/>
<path d="M506.5 354h2.9v2.9h-2.9z" fill="#3ff200"/>
<path d="M509.1 354h2.9v2.9h-2.9z" fill="#30f300"/>
<path d="M511.7 354h2.9v2.9h-2.9z" fill="#22f300"/>
<path d="M514.3 354h2.9v2.9h-2.9z" fill="#16f400"/>
<path d="M516.9 354h2.9v2.9h-2.9z" fill="#0df400"/>
<path d="M519.5 354h2.9v2.9h-2.9z" fill="#09f500"/>
<path d="M522.1 354h2.9v2.9h-2.9z" fill="#09f500"/>
<path d="M524.7 354h2.9v2.9h-2.9z" fill="#09f500"/>
<path d="M527.3 354h2.9v2.9h-2.9z" fill="#07f500"/>
<path d="M529.9 354h2.9v2.9h-2.9z" fill="#03f500"/>
<path d="M532.5 354h2.9v2.9h-2.9z" fill="#00f504"/>
<path d="M535.1 354h2.9v2.9h-2.9z" fill="#00f509"/>
<path d="M537.7 354h2.9v2.9h-2.9z" fill="#00f508"/>
<path d="M540.3 354h2.9v2.9h-2.9z" fill="#00f500"/>
<path d="M542.9 354h2.9v2.9h-2.9z" fill="#09f500"/>
<path d="M545.5 354h2.9v2.9h-2.9z" fill="#14f400"/>
<path d="M548.1 354h2.9v2.9h-2.9z" fill="#21f300"/>
<path d="M550.7 354h2.9v2.9h-2.9z" fill="#2ff300"/>
<path d="M553.3 354h2.9v2.9h-2.9z" fill="#3cf200"/>
<path d="M555.9 354h2.9v2.9h-2.9z" fill="#4af300"/>
<path d="M558.5 354h2.9v2.9h-2.9z" fill="#57f300"/>
<path d="M561.1 354h2.9v2.9h-2.9z" fill="#64f400"/>
<path d="M563.7 354h2.9v2.9h-2.9z" fill="#73f500"/>
<path d="M566.3 354h2.9v2.9h-2.9z" fill="#81f600"/>
<path d="M568.9 354h2.9v2.9h-2.9z" fill="#91f600"/>
<path d="M571.5 354h2.9v2.9h-2.9z" fill="#a1f700"/>
<path d="M574.1 354h2.9v2.9h-2.9z" fill="#aff800"/>
<path d="M576.7 354h2.9v2.9h-2.9z" fill="#baf800"/>
<path d="M579.3 354h2.9v2.9h-2.9z" fill="#bff700"/>
<path d="M581.9 354h2.9v2.9h-2.9z" fill="#bef700"/>
<path d="M584.5 354h2.9v2.9h-2.9z" fill="#b1f800"/>
<path d="M587.1 354h2.9v2.9h-2.9z" fill="#98f700"/>
<path d="M589.7 354h2.9v2.9h-2.9z" fill="#71f500"/>
<path d="M592.3 354h2.9v2.9h-2.9z" fill="#42f200"/>
<path d="M594.9 354h2.9v2.9h-2.9z" fill="#27f300"/>
<path d="M597.5 354h2.9v2.9h-2.9z" fill="#1ef400"/>
<path d="M600.1 354h2.9v2.9h-2.9z" fill="#1ef300"/>
<path d="M602.7 354h2.9v2.9h-2.9z" fill="#1ff300"/>
<path d="M605.3 354h2.9v2.9h-2.9z" fill="#1cf400"/>
<path d="M607.9 354h2.9v2.9h-2.9z" fill="#18f400"/>
<path d="M610.5 354h2.9v2.9h-2.9z" fill="#14f400"/>
<path d="M613.1 354h2.9v2.9h-2.9z" fill="#11f400"/>
<path d="M615.7 354h2.9v2.9h-2.9z" fill="#13f400"/>
<path d="M618.3 354h2.9v2.9h-2.9z" fill="#1af400"/>
<path d="M620.9 354h2.9v2.9h-2.9z" fill="#25f300"/>
<path d="M623.5 354h2.9v2.9h-2.9z" fill="#35f200"/>
<path d="M626.1 354h2.9v2.9h-2.9z" fill="#48f300"/>
<path d="M628.7 354h2.9v2.9h-2.9z" fill="#5cf400"/>
<path d="M631.3 354h2.9v2.9h-2.9z" fill="#6cf400"/>
<path d="M633.9 354h2.9v2.9h-2.9z" fill="#77f500"/>
<path d="M636.5 354h2.9v2.9h-2.9z" fill="#7df500"/>
<path d="M639.1 354h2.9v2.9h-2.9z" fill="#81f500"/>
<path d="M641.7 354h2.9v2.9h-2.9z" fill="#83f600"/>
<path d="M644.3 354h2.9v2.9h-2.9z" fill="#84f600"/>
<path d="M646.9 354h2.9v2.9h-2.9z" fill="#84f600"/>
<path d="M649.5 354h2.9v2.9h-2.9z" fill="#82f600"/>
<path d="M652.1 354h2.9v2.9h-2.9z" fill="#7ff500"/>
<path d="M654.7 354h2.9v2.9h-2.9z" fill="#7af500"/>
<path d="M657.3 354h2.9v2.9h-2.9z" fill="#74f500"/>
<path d="M659.9 354h2.9v2.9h-2.9z" fill="#6ef400"/>
<path d="M662.5 354h2.9v2.9h-2.9z" fill="#67f400"/>
<path d="M665.1 354h2.9v2.9h-2.9z" fill="#62f400"/>
<path d="M498.7 356.6h2.9v2.9h-2.9z" fill="#6df400"/>
<path d="M501.3 356.6h2.9v2.9h-2.9z" fill="#61f400"/>
<path d="M503.9 356.6h2.9v2.9h-2.9z" fill="#53f300"/>
<path d="M506.5 356.6h2.9v2.9h-2.9z" fill="#43f200"/>
<path d="M509.1 356.6h2.9v2.9h-2.9z" fill="#35f200"/>
<path d="M511.7 356.6h2.9v2.9h-2.9z" fill="#28f300"/>
<path d="M514.3 356.6h2.9v2.9h-2.9z" fill="#1df400"/>
<path d="M516.9 356.6h2.9v2.9h-2.9z" fill="#15f400"/>
<path d="M519.5 356.6h2.9v2.9h-2.9z" fill="#10f400"/>
<path d="M522.1 356.6h2.9v2.9h-2.9z" fill="#0cf400"/>
<path d="M524.7 356.6h2.9v2.9h-2.9z" fill="#09f500"/>
<path d="M527.3 356.6h2.9v2.9h-2.9z" fill="#04f500"/>
<path d="M529.9 356.6h2.9v2.9h-2.9z" fill="#00f505"/>
<path d="M532.5 356.6h2.9v2.9h-2.9z" fill="#00f512"/>
<path d="M535.1 356.6h2.9v2.9h-2.9z" fill="#00f519"/>
<path d="M537.7 356.6h2.9v2.9h-2.9z" fill="#00f519"/>
<path d="M540.3 356.6h2.9v2.9h-2.9z" fill="#00f511"/>
<path d="M542.9 356.6h2.9v2.9h-2.9z" fill="#00f502"/>
<path d="M545.5 356.6h2.9v2.9h-2.9z" fill="#08f500"/>
<path d="M548.1 356.6h2.9v2.9h-2.9z" fill="#13f400"/>
<path d="M550.7 356.6h2.9v2.9h-2.9z" fill="#1ef400"/>
<path d="M553.3 356.6h2.9v2.9h-2.9z" fill="#29f300"/>
<path d="M555.9 356.6h2.9v2.9h-2.9z" fill="#34f200"/>
<path d="M558.5 356.6h2.9v2.9h-2.9z" fill="#3ff200"/>
<path d="M561.1 356.6h2.9v2.9h-2.9z" fill="#4df300"/>
<path d="M563.7 356.6h2.9v2.9h-2.9z" fill="#5cf400"/>
<path d="M566.3 356.6h2.9v2.9h-2.9z" fill="#6ef400"/>
<path d="M568.9 356.6h2.9v2.9h-2.9z" fill="#7ff500"/>
<path d="M571.5 356.6h2.9v2.9h-2.9z" fill="#8ef600"/>
<path d="M574.1 356.6h2.9v2.9h-2.9z" fill="#9af700"/>
<path d="M576.7 356.6h2.9v2.9h-2.9z" fill="#a3f700"/>
<path d="M579.3 356.6h2.9v2.9h-2.9z" fill="#a9f800"/>
<path d="M581.9 356.6h2.9v2.9h-2.9z" fill="#abf800"/>
<path d="M584.5 356.6h2.9v2.9h-2.9z" fill="#a6f700"/>
<path d="M587.1 356.6h2.9v2.9h-2.9z" fill="#95f700"/>
<path d="M589.7 356.6h2.9v2.9h-2.9z" fill="#77f500"/>
<path d="M592.3 356.6h2.9v2.9h-2.9z" fill="#4bf300"/>
<path d="M594.9 356.6h2.9v2.9h-2.9z" fill="#29f300"/>
<path d="M597.5 356.6h2.9v2.9h-2.9z" fill="#16f400"/>
<path d="M600.1 356.6h2.9v2.9h-2.9z" fill="#0df400"/>
<path d="M602.7 356.6h2.9v2.9h-2.9z" fill="#09f500"/>
<path d="M605.3 356.6h2.9v2.9h-2.9z" fill="#05f500"/>
<path d="M607.9 356.6h2.9v2.9h-2.9z" fill="#02f500"/>
<path d="M610.5 356.6h2.9v2.9h-2.9z" fill="#01f500"/>
<path d="M613.1 356.6h2.9v2.9h-2.9z" fill="#02f500"/>
<path d="M615.7 356.6h2.9v2.9h-2.9z" fill="#06f500"/>
<path d="M618.3 356.6h2.9v2.9h-2.9z" fill="#0ff400"/>
<path d="M620.9 356.6h2.9v2.9h-2.9z" fill="#1df400"/>
<path d="M623.5 356.6h2.9v2.9h-2.9z" fill="#2ef300"/>
<path d="M626.1 356.6h2.9v2.9h-2.9z" fill="#41f200"/>
<path d="M628.7 356.6h2.9v2.9h-2.9z" fill="#56f300"/>
<path d="M631.3 356.6h2.9v2.9h-2.9z" fill="#67f400"/>
<path d="M633.9 356.6h2.9v2.9h-2.9z" fill="#75f500"/>
<path d="M636.5 356.6h2.9v2.9h-2.9z" fill="#7ef500"/>
<path d="M639.1 356.6h2.9v2.9h-2.9z" fill="#83f600"/>
<path d="M641.7 356.6h2.9v2.9h-2.9z" fill="#88f600"/>
<path d="M644.3 356.6h2.9v2.9h-2.9z" fill="#8bf600"/>
<path d="M646.9 356.6h2.9v2.9h-2.9z" fill="#8cf600"/>
<path d="M649.5 356.6h2.9v2.9h-2.9z" fill="#8bf600"/>
<path d="M652.1 356.6h2.9v2.9h-2.9z" fill="#88f600"/>
<path d="M654.7 356.6h2.9v2.9h-2.9z" fill="#84f600"/>
<path d="M657.3 356.6h2.9v2.9h-2.9z" fill="#7ef500"/>
<path d="M659.9 356.6h2.9v2.9h-2.9z" fill="#79f500"/>
<path d="M662.5 356.6h2.9v2.9h-2.9z" fill="#72f500"/>
<path d="M665.1 356.6h2.9v2.9h-2.9z" fill="#6cf400"/>
<path d="M498.7 359.2h2.9v2.9h-2.9z" fill="#71f500"/>
<path d="M501.3 359.2h2.9v2.9h-2.9z" fill="#66f400"/>
<path d="M503.9 359.2h2.9v2.9h-2.9z" fill="#58f300"/>
<path d="M506.5 359.2h2.9v2.9h-2.9z" fill="#4af300"/>
<path d="M509.1 359.2h2.9v2.9h-2.9z" fill="#3cf200"/>
<path d="M511.7 359.2h2.9v2.9h-2.9z" fill="#30f300"/>
<path d="M514.3 359.2h2.9v2.9h-2.9z" fill="#25f300"/>
<path d="M516.9 359.2h2.9v2.9h-2.9z" fill="#1cf400"/>
<path d="M519.5 359.2h2.9v2.9h-2.9z" fill="#15f400"/>
<path d="M522.1 359.2h2.9v2.9h-2.9z" fill="#0ef400"/>
<path d="M524.7 359.2h2.9v2.9h-2.9z" fill="#08f500"/>
<path d="M527.3 359.2h2.9v2.9h-2.9z" fill="#00f500"/>
<path d="M529.9 359.2h2.9v2.9h-2.9z" fill="#00f512"/>
<path d="M532.5 359.2h2.9v2.9h-2.9z" fill="#00f521"/>
<path d="M535.1 359.2h2.9v2.9h-2.9z" fill="#00f529"/>
<path d="M537.7 359.2h2.9v2.9h-2.9z" fill="#00f529"/>
<path d="M540.3 359.2h2.9v2.9h-2.9z" fill="#00f520"/>
<path d="M542.9 359.2h2.9v2.9h-2.9z" fill="#00f512"/>
<path d="M545.5 359.2h2.9v2.9h-2.9z" fill="#00f501"/>
<path d="M548.1 359.2h2.9v2.9h-2.9z" fill="#09f500"/>
<path d="M550.7 359.2h2.9v2.9h-2.9z" fill="#12f400"/>
<path d="M553.3 359.2h2.9v2.9h-2.9z" fill="#1bf400"/>
<path d="M555.9 359.2h2.9v2.9h-2.9z" fill="#25f300"/>
<path d="M558.5 359.2h2.9v2.9h-2.9z" fill="#30f300"/>
<path d="M561.1 359.2h2.9v2.9h-2.9z" fill="#3bf200"/>
<path d="M563.7 359.2h2.9v2.9h-2.9z" fill="#4af300"/>
<path d="M566.3 359.2h2.9v2.9h-2.9z" fill="#5bf400"/>
<path d="M568.9 359.2h2.9v2.9h-2.9z" fill="#6df400"/>
<path d="M571.5 359.2h2.9v2.9h-2.9z" fill="#7cf500"/>
<path d="M574.1 359.2h2.9v2.9h-2.9z" fill="#87f600"/>
<path d="M576.7 359.2h2.9v2.9h-2.9z" fill="#8ff600"/>
<path d="M579.3 359.2h2.9v2.9h-2.9z" fill="#95f700"/>
<path d="M581.9 359.2h2.9v2.9h-2.9z" fill="#98f700"/>
<path d="M584.5 359.2h2.9v2.9h-2.9z" fill="#96f700"/>
<path d="M587.1 359.2h2.9v2.9h-2.9z" fill="#8bf600"/>
<path d="M589.7 359.2h2.9v2.9h-2.9z" fill="#72f500"/>
<path d="M592.3 359.2h2.9v2.9h-2.9z" fill="#4cf300"/>
<path d="M594.9 359.2h2.9v2.9h-2.9z" fill="#2af300"/>
<path d="M597.5 359.2h2.9v2.9h-2.9z" fill="#12f400"/>
<path d="M600.1 359.2h2.9v2.9h-2.9z" fill="#02f500"/>
<path d="M602.7 359.2h2.9v2.9h-2.9z" fill="#00f510"/>
<path d="M605.3 359.2h2.9v2.9h-2.9z" fill="#00f51b"/>
<path d="M607.9 359.2h2.9v2.9h-2.9z" fill="#00f520"/>
<path d="M610.5 359.2h2.9v2.9h-2.9z" fill="#00f51e"/>
<path d="M613.1 359.2h2.9v2.9h-2.9z" fill="#00f516"/>
<path d="M615.7 359.2h2.9v2.9h-2.9z" fill="#00f507"/>
<path d="M618.3 359.2h2.9v2.9h-2.9z" fill="#08f500"/>
<path d="M620.9 359.2h2.9v2.9h-2.9z" fill="#17f400"/>
<path d="M623.5 359.2h2.9v2.9h-2.9z" fill="#29f300"/>
<path d="M626.1 359.2h2.9v2.9h-2.9z" fill="#3df200"/>
<path d="M628.7 359.2h2.9v2.9h-2.9z" fill="#52f300"/>
<path d="M631.3 359.2h2.9v2.9h-2.9z" fill="#64f400"/>
<path d="M633.9 359.2h2.9v2.9h-2.9z" fill="#74f500"/>
<path d="M636.5 359.2h2.9v2.9h-2.9z" fill="#7ef500"/>
<path d="M639.1 359.2h2.9v2.9h-2.9z" fill="#86f600"/>
<path d="M641.7 359.2h2.9v2.9h-2.9z" fill="#8cf600"/>
<path d="M644.3 359.2h2.9v2.9h-2.9z" fill="#90f600"/>
<path d="M646.9 359.2h2.9v2.9h-2.9z" fill="#93f600"/>
<path d="M649.5 359.2h2.9v2.9h-2.9z" fill="#93f600"/>
<path d="M652.1 359.2h2.9v2.9h-2.9z" fill="#90f600"/>
<path d="M654.7 359.2h2.9v2.9h-2.9z" fill="#8bf600"/>
<path d="M657.3 359.2h2.9v2.9h-2.9z" fill="#86f600"/>
<path d="M659.9 359.2h2.9v2.9h-2.9z" fill="#80f500"/>
<path d="M662.5 359.2h2.9v2.9h-2.9z" fill="#7af500"/>
<path d="M665.1 359.2h2.9v2.9h-2.9z" fill="#73f500"/>
<path d="M498.7 361.8h2.9v2.9h-2.9z" fill="#77f500"/>
<path d="M501.3 361.8h2.9v2.9h-2.9z" fill="#6cf400"/>
<path d="M503.9 361.8h2.9v2.9h-2.9z" fill="#60f400"/>
<path d="M506.5 361.8h2.9v2.9h-2.9z" fill="#52f300"/>
<path d="M509.1 361.8h2.9v2.9h-2.9z" fill="#44f200"/>
<path d="M511.7 361.8h2.9v2.9h-2.9z" fill="#37f200"/>
<path d="M514.3 361.8h2.9v2.9h-2.9z" fill="#2cf300"/>
<path d="M516.9 361.8h2.9v2.9h-2.9z" fill="#22f300"/>
<path d="M519.5 361.8h2.9v2.9h-2.9z" fill="#18f400"/>
<path d="M522.1 361.8h2.9v2.9h-2.9z" fill="#0ff400"/>
<path d="M524.7 361.8h2.9v2.9h-2.9z" fill="#06f500"/>
<path d="M527.3 361.8h2.9v2.9h-2.9z" fill="#00f508"/>
<path d="M529.9 361.8h2.9v2.9h-2.9z" fill="#00f51c"/>
<path d="M532.5 361.8h2.9v2.9h-2.9z" fill="#00f52c"/>
<path d="M535.1 361.8h2.9v2.9h-2.9z" fill="#00f534"/>
<path d="M537.7 361.8h2.9v2.9h-2.9z" fill="#00f532"/>
<path d="M540.3 361.8h2.9v2.9h-2.9z" fill="#00f528"/>
<path d="M542.9 361.8h2.9v2.9h-2.9z" fill="#00f51a"/>
<path d="M545.5 361.8h2.9v2.9h-2.9z" fill="#00f50a"/>
<path d="M548.1 361.8h2.9v2.9h-2.9z" fill="#03f500"/>
<path d="M550.7 361.8h2.9v2.9h-2.9z" fill="#0bf400"/>
<path d="M553.3 361.8h2.9v2.9h-2.9z" fill="#13f400"/>
<path d="M555.9 361.8h2.9v2.9h-2.9z" fill="#1bf400"/>
<path d="M558.5 361.8h2.9v2.9h-2.9z" fill="#25f300"/>
<path d="M561.1 361.8h2.9v2.9h-2.9z" fill="#2ff300"/>
<path d="M563.7 361.8h2.9v2.9h-2.9z" fill="#3cf200"/>
<path d="M566.3 361.8h2.9v2.9h-2.9z" fill="#4bf300"/>
<path d="M568.9 361.8h2.9v2.9h-2.9z" fill="#5cf400"/>
<path d="M571.5 361.8h2.9v2.9h-2.9z" fill="#6cf400"/>
<path d="M574.1 361.8h2.9v2.9h-2.9z" fill="#7af500"/>
<path d="M576.7 361.8h2.9v2.9h-2.9z" fill="#82f600"/>
<path d="M579.3 361.8h2.9v2.9h-2.9z" fill="#87f600"/>
<path d="M581.9 361.8h2.9v2.9h-2.9z" fill="#89f600"/>
<path d="M584.5 361.8h2.9v2.9h-2.9z" fill="#87f600"/>
<path d="M587.1 361.8h2.9v2.9h-2.9z" fill="#7df500"/>
<path d="M589.7 361.8h2.9v2.9h-2.9z" fill="#66f400"/>
<path d="M592.3 361.8h2.9v2.9h-2.9z" fill="#44f200"/>
<path d="M594.9 361.8h2.9v2.9h-2.9z" fill="#26f300"/>
<path d="M597.5 361.8h2.9v2.9h-2.9z" fill="#0cf400"/>
<path d="M600.1 361.8h2.9v2.9h-2.9z" fill="#00f50e"/>
<path d="M602.7 361.8h2.9v2.9h-2.9z" fill="#00f529"/>
<path d="M605.3 361.8h2.9v2.9h-2.9z" fill="#00f537"/>
<path d="M607.9 361.8h2.9v2.9h-2.9z" fill="#00f53a"/>
<path d="M610.5 361.8h2.9v2.9h-2.9z" fill="#00f534"/>
<path d="M613.1 361.8h2.9v2.9h-2.9z" fill="#00f526"/>
<path d="M615.7 361.8h2.9v2.9h-2.9z" fill="#00f511"/>
<path d="M618.3 361.8h2.9v2.9h-2.9z" fill="#05f500"/>
<path d="M620.9 361.8h2.9v2.9h-2.9z" fill="#16f400"/>
<path d="M623.5 361.8h2.9v2.9h-2.9z" fill="#28f300"/>
<path d="M626.1 361.8h2.9v2.9h-2.9z" fill="#3cf200"/>
<path d="M628.7 361.8h2.9v2.9h-2.9z" fill="#51f300"/>
<path d="M631.3 361.8h2.9v2.9h-2.9z" fill="#65f400"/>
<path d="M633.9 361.8h2.9v2.9h-2.9z" fill="#75f500"/>
<path d="M636.5 361.8h2.9v2.9h-2.9z" fill="#81f500"/>
<path d="M639.1 361.8h2.9v2.9h-2.9z" fill="#8af600"/>
<path d="M641.7 361.8h2.9v2.9h-2.9z" fill="#91f600"/>
<path d="M644.3 361.8h2.9v2.9h-2.9z" fill="#95f700"/>
<path d="M646.9 361.8h2.9v2.9h-2.9z" fill="#98f700"/>
<path d="M649.5 361.8h2.9v2.9h-2.9z" fill="#98f700"/>
<path d="M652.1 361.8h2.9v2.9h-2.9z" fill="#95f700"/>
<path d="M654.7 361.8h2.9v2.9h-2.9z" fill="#91f600"/>
<path d="M657.3 361.8h2.9v2.9h-2.9z" fill="#8bf600"/>
<path d="M659.9 361.8h2.9v2.9h-2.9z" fill="#84f600"/>
<path d="M662.5 361.8h2.9v2.9h-2.9z" fill="#7ff500"/>
<path d="M665.1 361.8h2.9v2.9h-2.9z" fill="#79f500"/>
<path d="M498.7 364.4h2.9v2.9h-2.9z" fill="#7df500"/>
<path d="M501.3 364.4h2.9v2.9h-2.9z" fill="#74f500"/>
<path d="M503.9 364.4h2.9v2.9h-2.9z" fill="#68f400"/>
<path d="M506.5 364.4h2.9v2.9h-2.9z" fill="#5bf400"/>
<path d="M509.1 364.4h2.9v2.9h-2.9z" fill="#4ef300"/>
<path d="M511.7 364.4h2.9v2.9h-2.9z" fill="#40f200"/>
<path d="M514.3 364.4h2.9v2.9h-2.9z" fill="#33f200"/>
<path d="M516.9 364.4h2.9v2.9h-2.9z" fill="#27f300"/>
<path d="M519.5 364.4h2.9v2.9h-2.9z" fill="#1cf400"/>
<path d="M522.1 364.4h2.9v2.9h-2.9z" fill="#11f400"/>
<path d="M524.7 364.4h2.9v2.9h-2.9z" fill="#06f500"/>
<path d="M527.3 364.4h2.9v2.9h-2.9z" fill="#00f50b"/>
<path d="M529.9 364.4h2.9v2.9h-2.9z" fill="#00f51f"/>
<path d="M532.5 364.4h2.9v2.9h-2.9z" fill="#00f52e"/>
<path d="M535.1 364.4h2.9v2.9h-2.9z" fill="#00f535"/>
<path d="M537.7 364.4h2.9v2.9h-2.9z" fill="#00f532"/>
<path d="M540.3 364.4h2.9v2.9h-2.9z" fill="#00f527"/>
<path d="M542.9 364.4h2.9v2.9h-2.9z" fill="#00f51a"/>
<path d="M545.5 364.4h2.9v2.9h-2.9z" fill="#00f50c"/>
<path d="M548.1 364.4h2.9v2.9h-2.9z" fill="#01f500"/>
<path d="M550.7 364.4h2.9v2.9h-2.9z" fill="#07f500"/>
<path d="M553.3 364.4h2.9v2.9h-2.9z" fill="#0ef400"/>
<path d="M555.9 364.4h2.9v2.9h-2.9z" fill="#15f400"/>
<path d="M558.5 364.4h2.9v2.9h-2.9z" fill="#1df400"/>
<path d="M561.1 364.4h2.9v2.9h-2.9z" fill="#26f300"/>
<path d="M563.7 364.4h2.9v2.9h-2.9z" fill="#31f300"/>
<path d="M566.3 364.4h2.9v2.9h-2.9z" fill="#3ff200"/>
<path d="M568.9 364.4h2.9v2.9h-2.9z" fill="#50f300"/>
<path d="M571.5 364.4h2.9v2.9h-2.9z" fill="#61f400"/>
<path d="M574.1 364.4h2.9v2.9h-2.9z" fill="#71f500"/>
<path d="M576.7 364.4h2.9v2.9h-2.9z" fill="#7df500"/>
<path d="M579.3 364.4h2.9v2.9h-2.9z" fill="#83f600"/>
<path d="M581.9 364.4h2.9v2.9h-2.9z" fill="#84f600"/>
<path d="M584.5 364.4h2.9v2.9h-2.9z" fill="#7ff500"/>
<path d="M587.1 364.4h2.9v2.9h-2.9z" fill="#71f500"/>
<path d="M589.7 364.4h2.9v2.9h-2.9z" fill="#58f300"/>
<path d="M592.3 364.4h2.9v2.9h-2.9z" fill="#39f200"/>
<path d="M594.9 364.4h2.9v2.9h-2.9z" fill="#1ef400"/>
<path d="M597.5 364.4h2.9v2.9h-2.9z" fill="#05f500"/>
<path d="M600.1 364.4h2.9v2.9h-2.9z" fill="#00f51e"/>
<path d="M602.7 364.4h2.9v2.9h-2.9z" fill="#00f539"/>
<path d="M605.3 364.4h2.9v2.9h-2.9z" fill="#00f546"/>
<path d="M607.9 364.4h2.9v2.9h-2.9z" fill="#00f547"/>
<path d="M610.5 364.4h2.9v2.9h-2.9z" fill="#00f53e"/>
<path d="M613.1 364.4h2.9v2.9h-2.9z" fill="#00f52b"/>
<path d="M615.7 364.4h2.9v2.9h-2.9z" fill="#00f512"/>
<path d="M618.3 364.4h2.9v2.9h-2.9z" fill="#06f500"/>
<path d="M620.9 364.4h2.9v2.9h-2.9z" fill="#18f400"/>
<path d="M623.5 364.4h2.9v2.9h-2.9z" fill="#2bf300"/>
<path d="M626.1 364.4h2.9v2.9h-2.9z" fill="#3ff200"/>
<path d="M628.7 364.4h2.9v2.9h-2.9z" fill="#54f300"/>
<path d="M631.3 364.4h2.9v2.9h-2.9z" fill="#68f400"/>
<path d="M633.9 364.4h2.9v2.9h-2.9z" fill="#79f500"/>
<path d="M636.5 364.4h2.9v2.9h-2.9z" fill="#85f600"/>
<path d="M639.1 364.4h2.9v2.9h-2.9z" fill="#8ef600"/>
<path d="M641.7 364.4h2.9v2.9h-2.9z" fill="#95f700"/>
<path d="M644.3 364.4h2.9v2.9h-2.9z" fill="#9af700"/>
<path d="M646.9 364.4h2.9v2.9h-2.9z" fill="#9cf700"/>
<path d="M649.5 364.4h2.9v2.9h-2.9z" fill="#9bf700"/>
<path d="M652.1 364.4h2.9v2.9h-2.9z" fill="#98f700"/>
<path d="M654.7 364.4h2.9v2.9h-2.9z" fill="#93f600"/>
<path d="M657.3 364.4h2.9v2.9h-2.9z" fill="#8df600"/>
<path d="M659.9 364.4h2.9v2.9h-2.9z" fill="#87f600"/>
<path d="M662.5 364.4h2.9v2.9h-2.9z" fill="#82f600"/>
<path d="M665.1 364.4h2.9v2.9h-2.9z" fill="#7df500"/>
<path d="M498.7 367h2.9v2.9h-2.9z" fill="#83f600"/>
<path d="M501.3 367h2.9v2.9h-2.9z" fill="#7cf500"/>
<path d="M503.9 367h2.9v2.9h-2.9z" fill="#71f500"/>
<path d="M506.5 367h2.9v2.9h-2.9z" fill="#65f400"/>
<path d="M509.1 367h2.9v2.9h-2.9z" fill="#57f300"/>
<path d="M511.7 367h2.9v2.9h-2.9z" fill="#49f300"/>
<path d="M514.3 367h2.9v2.9h-2.9z" fill="#3af200"/>
<path d="M516.9 367h2.9v2.9h-2.9z" fill="#2ef300"/>
<path d="M519.5 367h2.9v2.9h-2.9z" fill="#21f300"/>
<path d="M522.1 367h2.9v2.9h-2.9z" fill="#14f400"/>
<path d="M524.7 367h2.9v2.9h-2.9z" fill="#08f500"/>
<path d="M527.3 367h2.9v2.9h-2.9z" fill="#00f506"/>
<path d="M529.9 367h2.9v2.9h-2.9z" fill="#00f519"/>
<path d="M532.5 367h2.9v2.9h-2.9z" fill="#00f526"/>
<path d="M535.1 367h2.9v2.9h-2.9z" fill="#00f52b"/>
<path d="M537.7 367h2.9v2.9h-2.9z" fill="#00f527"/>
<path d="M540.3 367h2.9v2.9h-2.9z" fill="#00f51e"/>
<path d="M542.9 367h2.9v2.9h-2.9z" fill="#00f512"/>
<path d="M545.5 367h2.9v2.9h-2.9z" fill="#00f507"/>
<path d="M548.1 367h2.9v2.9h-2.9z" fill="#02f500"/>
<path d="M550.7 367h2.9v2.9h-2.9z" fill="#06f500"/>
<path d="M553.3 367h2.9v2.9h-2.9z" fill="#0bf400"/>
<path d="M555.9 367h2.9v2.9h-2.9z" fill="#11f400"/>
<path d="M558.5 367h2.9v2.9h-2.9z" fill="#17f400"/>
<path d="M561.1 367h2.9v2.9h-2.9z" fill="#1ff300"/>
<path d="M563.7 367h2.9v2.9h-2.9z" fill="#29f300"/>
<path d="M566.3 367h2.9v2.9h-2.9z" fill="#36f200"/>
<path d="M568.9 367h2.9v2.9h-2.9z" fill="#47f300"/>
<path d="M571.5 367h2.9v2.9h-2.9z" fill="#5bf400"/>
<path d="M574.1 367h2.9v2.9h-2.9z" fill="#6ff500"/>
<path d="M576.7 367h2.9v2.9h-2.9z" fill="#7ef500"/>
<path d="M579.3 367h2.9v2.9h-2.9z" fill="#86f600"/>
<path d="M581.9 367h2.9v2.9h-2.9z" fill="#86f600"/>
<path d="M584.5 367h2.9v2.9h-2.9z" fill="#7df500"/>
<path d="M587.1 367h2.9v2.9h-2.9z" fill="#69f400"/>
<path d="M589.7 367h2.9v2.9h-2.9z" fill="#4df300"/>
<path d="M592.3 367h2.9v2.9h-2.9z" fill="#2ff300"/>
<path d="M594.9 367h2.9v2.9h-2.9z" fill="#15f400"/>
<path d="M597.5 367h2.9v2.9h-2.9z" fill="#00f503"/>
<path d="M600.1 367h2.9v2.9h-2.9z" fill="#00f527"/>
<path d="M602.7 367h2.9v2.9h-2.9z" fill="#00f53f"/>
<path d="M605.3 367h2.9v2.9h-2.9z" fill="#00f549"/>
<path d="M607.9 367h2.9v2.9h-2.9z" fill="#00f548"/>
<path d="M610.5 367h2.9v2.9h-2.9z" fill="#00f53c"/>
<path d="M613.1 367h2.9v2.9h-2.9z" fill="#00f527"/>
<path d="M615.7 367h2.9v2.9h-2.9z" fill="#00f50b"/>
<path d="M618.3 367h2.9v2.9h-2.9z" fill="#0bf400"/>
<path d="M620.9 367h2.9v2.9h-2.9z" fill="#1df400"/>
<path d="M623.5 367h2.9v2.9h-2.9z" fill="#30f300"/>
<path d="M626.1 367h2.9v2.9h-2.9z" fill="#45f200"/>
<path d="M628.7 367h2.9v2.9h-2.9z" fill="#5bf400"/>
<path d="M631.3 367h2.9v2.9h-2.9z" fill="#6ff500"/>
<path d="M633.9 367h2.9v2.9h-2.9z" fill="#7ff500"/>
<path d="M636.5 367h2.9v2.9h-2.9z" fill="#8af600"/>
<path d="M639.1 367h2.9v2.9h-2.9z" fill="#93f600"/>
<path d="M641.7 367h2.9v2.9h-2.9z" fill="#9af700"/>
<path d="M644.3 367h2.9v2.9h-2.9z" fill="#9df700"/>
<path d="M646.9 367h2.9v2.9h-2.9z" fill="#9ef700"/>
<path d="M649.5 367h2.9v2.9h-2.9z" fill="#9df700"/>
<path d="M652.1 367h2.9v2.9h-2.9z" fill="#99f700"/>
<path d="M654.7 367h2.9v2.9h-2.9z" fill="#94f600"/>
<path d="M657.3 367h2.9v2.9h-2.9z" fill="#8ef600"/>
<path d="M659.9 367h2.9v2.9h-2.9z" fill="#88f600"/>
<path d="M662.5 367h2.9v2.9h-2.9z" fill="#83f600"/>
<path d="M665.1 367h2.9v2.9h-2.9z" fill="#7ff500"/>
<path d="M498.7 369.6h2.9v2.9h-2.9z" fill="#8af600"/>
<path d="M501.3 369.6h2.9v2.9h-2.9z" fill="#83f600"/>
<path d="M503.9 369.6h2.9v2.9h-2.9z" fill="#7bf500"/>
<path d="M506.5 369.6h2.9v2.9h-2.9z" fill="#6ff500"/>
<path d="M509.1 369.6h2.9v2.9h-2.9z" fill="#61f400"/>
<path d="M511.7 369.6h2.9v2.9h-2.9z" fill="#53f300"/>
<path d="M514.3 369.6h2.9v2.9h-2.9z" fill="#43f200"/>
<path d="M516.9 369.6h2.9v2.9h-2.9z" fill="#34f200"/>
<path d="M519.5 369.6h2.9v2.9h-2.9z" fill="#27f300"/>
<path d="M522.1 369.6h2.9v2.9h-2.9z" fill="#1af400"/>
<path d="M524.7 369.6h2.9v2.9h-2.9z" fill="#0df400"/>
<path d="M527.3 369.6h2.9v2.9h-2.9z" fill="#03f500"/>
<path d="M529.9 369.6h2.9v2.9h-2.9z" fill="#00f50c"/>
<path d="M532.5 369.6h2.9v2.9h-2.9z" fill="#00f517"/>
<path d="M535.1 369.6h2.9v2.9h-2.9z" fill="#00f51b"/>
<path d="M537.7 369.6h2.9v2.9h-2.9z" fill="#00f518"/>
<path d="M540.3 369.6h2.9v2.9h-2.9z" fill="#00f510"/>
<path d="M542.9 369.6h2.9v2.9h-2.9z" fill="#00f506"/>
<path d="M545.5 369.6h2.9v2.9h-2.9z" fill="#01f500"/>
<path d="M548.1 369.6h2.9v2.9h-2.9z" fill="#04f500"/>
<path d="M550.7 369.6h2.9v2.9h-2.9z" fill="#08f500"/>
<path d="M553.3 369.6h2.9v2.9h-2.9z" fill="#0bf400"/>
<path d="M555.9 369.6h2.9v2.9h-2.9z" fill="#0ff400"/>
<path d="M558.5 369.6h2.9v2.9h-2.9z" fill="#15f400"/>
<path d="M561.1 369.6h2.9v2.9h-2.9z" fill="#1bf400"/>
<path d="M563.7 369.6h2.9v2.9h-2.9z" fill="#24f300"/>
<path d="M566.3 369.6h2.9v2.9h-2.9z" fill="#30f300"/>
<path d="M568.9 369.6h2.9v2.9h-2.9z" fill="#41f200"/>
<path d="M571.5 369.6h2.9v2.9h-2.9z" fill="#58f300"/>
<path d="M574.1 369.6h2.9v2.9h-2.9z" fill="#6ff500"/>
<path d="M576.7 369.6h2.9v2.9h-2.9z" fill="#80f500"/>
<path d="M579.3 369.6h2.9v2.9h-2.9z" fill="#89f600"/>
<path d="M581.9 369.6h2.9v2.9h-2.9z" fill="#88f600"/>
<path d="M584.5 369.6h2.9v2.9h-2.9z" fill="#7df500"/>
<path d="M587.1 369.6h2.9v2.9h-2.9z" fill="#65f400"/>
<path d="M589.7 369.6h2.9v2.9h-2.9z" fill="#45f200"/>
<path d="M592.3 369.6h2.9v2.9h-2.9z" fill="#28f300"/>
<path d="M594.9 369.6h2.9v2.9h-2.9z" fill="#0ff400"/>
<path d="M597.5 369.6h2.9v2.9h-2.9z" fill="#00f50c"/>
<path d="M600.1 369.6h2.9v2.9h-2.9z" fill="#00f52a"/>
<path d="M602.7 369.6h2.9v2.9h-2.9z" fill="#00f53d"/>
<path d="M605.3 369.6h2.9v2.9h-2.9z" fill="#00f543"/>
<path d="M607.9 369.6h2.9v2.9h-2.9z" fill="#00f53f"/>
<path d="M610.5 369.6h2.9v2.9h-2.9z" fill="#00f531"/>
<path d="M613.1 369.6h2.9v2.9h-2.9z" fill="#00f51a"/>
<path d="M615.7 369.6h2.9v2.9h-2.9z" fill="#02f500"/>
<path d="M618.3 369.6h2.9v2.9h-2.9z" fill="#12f400"/>
<path d="M620.9 369.6h2.9v2.9h-2.9z" fill="#25f300"/>
<path d="M623.5 369.6h2.9v2.9h-2.9z" fill="#38f200"/>
<path d="M626.1 369.6h2.9v2.9h-2.9z" fill="#4ef300"/>
<path d="M628.7 369.6h2.9v2.9h-2.9z" fill="#64f400"/>
<path d="M631.3 369.6h2.9v2.9h-2.9z" fill="#78f500"/>
<path d="M633.9 369.6h2.9v2.9h-2.9z" fill="#86f600"/>
<path d="M636.5 369.6h2.9v2.9h-2.9z" fill="#91f600"/>
<path d="M639.1 369.6h2.9v2.9h-2.9z" fill="#9af700"/>
<path d="M641.7 369.6h2.9v2.9h-2.9z" fill="#9ff700"/>
<path d="M644.3 369.6h2.9v2.9h-2.9z" fill="#a1f700"/>
<path d="M646.9 369.6h2.9v2.9h-2.9z" fill="#a0f700"/>
<path d="M649.5 369.6h2.9v2.9h-2.9z" fill="#9ef700"/>
<path d="M652.1 369.6h2.9v2.9h-2.9z" fill="#99f700"/>
<path d="M654.7 369.6h2.9v2.9h-2.9z" fill="#93f600"/>
<path d="M657.3 369.6h2.9v2.9h-2.9z" fill="#8ef600"/>
<path d="M659.9 369.6h2.9v2.9h-2.9z" fill="#89f600"/>
<path d="M662.5 369.6h2.9v2.9h-2.9z" fill="#84f600"/>
<path d="M665.1 369.6h2.9v2.9h-2.9z" fill="#81f500"/>
<path d="M498.7 372.2h2.9v2.9h-2.9z" fill="#91f600"/>
<path d="M501.3 372.2h2.9v2.9h-2.9z" fill="#8bf600"/>
<path d="M503.9 372.2h2.9v2.9h-2.9z" fill="#83f600"/>
<path d="M506.5 372.2h2.9v2.9h-2.9z" fill="#7af500"/>
<path d="M509.1 372.2h2.9v2.9h-2.9z" fill="#6cf400"/>
<path d="M511.7 372.2h2.9v2.9h-2.9z" fill="#5df400"/>
<path d="M514.3 372.2h2.9v2.9h-2.9z" fill="#4df300"/>
<path d="M516.9 372.2h2.9v2.9h-2.9z" fill="#3cf200"/>
<path d="M519.5 372.2h2.9v2.9h-2.9z" fill="#2ef300"/>
<path d="M522.1 372.2h2.9v2.9h-2.9z" fill="#20f300"/>
<path d="M524.7 372.2h2.9v2.9h-2.9z" fill="#14f400"/>
<path d="M527.3 372.2h2.9v2.9h-2.9z" fill="#0af500"/>
<path d="M529.9 372.2h2.9v2.9h-2.9z" fill="#02f500"/>
<path d="M532.5 372.2h2.9v2.9h-2.9z" fill="#00f506"/>
<path d="M535.1 372.2h2.9v2.9h-2.9z" fill="#00f50a"/>
<path d="M537.7 372.2h2.9v2.9h-2.9z" fill="#00f508"/>
<path d="M540.3 372.2h2.9v2.9h-2.9z" fill="#00f502"/>
<path d="M542.9 372.2h2.9v2.9h-2.9z" fill="#02f500"/>
<path d="M545.5 372.2h2.9v2.9h-2.9z" fill="#05f500"/>
<path d="M548.1 372.2h2.9v2.9h-2.9z" fill="#07f500"/>
<path d="M550.7 372.2h2.9v2.9h-2.9z" fill="#0af500"/>
<path d="M553.3 372.2h2.9v2.9h-2.9z" fill="#0df400"/>
<path d="M555.9 372.2h2.9v2.9h-2.9z" fill="#10f400"/>
<path d="M558.5 372.2h2.9v2.9h-2.9z" fill="#15f400"/>
<path d="M561.1 372.2h2.9v2.9h-2.9z" fill="#1bf400"/>
<path d="M563.7 372.2h2.9v2.9h-2.9z" fill="#23f300"/>
<path d="M566.3 372.2h2.9v2.9h-2.9z" fill="#2ff300"/>
<path d="M568.9 372.2h2.9v2.9h-2.9z" fill="#40f200"/>
<path d="M571.5 372.2h2.9v2.9h-2.9z" fill="#58f300"/>
<path d="M574.1 372.2h2.9v2.9h-2.9z" fill="#71f500"/>
<path d="M576.7 372.2h2.9v2.9h-2.9z" fill="#83f600"/>
<path d="M579.3 372.2h2.9v2.9h-2.9z" fill="#8bf600"/>
<path d="M581.9 372.2h2.9v2.9h-2.9z" fill="#89f600"/>
<path d="M584.5 372.2h2.9v2.9h-2.9z" fill="#7cf500"/>
<path d="M587.1 372.2h2.9v2.9h-2.9z" fill="#62f400"/>
<path d="M589.7 372.2h2.9v2.9h-2.9z" fill="#41f200"/>
<path d="M592.3 372.2h2.9v2.9h-2.9z" fill="#24f300"/>
<path d="M594.9 372.2h2.9v2.9h-2.9z" fill="#0cf400"/>
<path d="M597.5 372.2h2.9v2.9h-2.9z" fill="#00f50c"/>
<path d="M600.1 372.2h2.9v2.9h-2.9z" fill="#00f525"/>
<path d="M602.7 372.2h2.9v2.9h-2.9z" fill="#00f533"/>
<path d="M605.3 372.2h2.9v2.9h-2.9z" fill="#00f536"/>
<path d="M607.9 372.2h2.9v2.9h-2.9z" fill="#00f52f"/>
<path d="M610.5 372.2h2.9v2.9h-2.9z" fill="#00f51f"/>
<path d="M613.1 372.2h2.9v2.9h-2.9z" fill="#00f507"/>
<path d="M615.7 372.2h2.9v2.9h-2.9z" fill="#0bf400"/>
<path d="M618.3 372.2h2.9v2.9h-2.9z" fill="#1cf400"/>
<path d="M620.9 372.2h2.9v2.9h-2.9z" fill="#2ff300"/>
<path d="M623.5 372.2h2.9v2.9h-2.9z" fill="#43f200"/>
<path d="M626.1 372.2h2.9v2.9h-2.9z" fill="#5af300"/>
<path d="M628.7 372.2h2.9v2.9h-2.9z" fill="#70f500"/>
<path d="M631.3 372.2h2.9v2.9h-2.9z" fill="#81f500"/>
<path d="M633.9 372.2h2.9v2.9h-2.9z" fill="#8ff600"/>
<path d="M636.5 372.2h2.9v2.9h-2.9z" fill="#99f700"/>
<path d="M639.1 372.2h2.9v2.9h-2.9z" fill="#a1f700"/>
<path d="M641.7 372.2h2.9v2.9h-2.9z" fill="#a4f700"/>
<path d="M644.3 372.2h2.9v2.9h-2.9z" fill="#a5f700"/>
<path d="M646.9 372.2h2.9v2.9h-2.9z" fill="#a3f700"/>
<path d="M649.5 372.2h2.9v2.9h-2.9z" fill="#9ff700"/>
<path d="M652.1 372.2h2.9v2.9h-2.9z" fill="#99f700"/>
<path d="M654.7 372.2h2.9v2.9h-2.9z" fill="#93f600"/>
<path d="M657.3 372.2h2.9v2.9h-2.9z" fill="#8ef600"/>
<path d="M659.9 372.2h2.9v2.9h-2.9z" fill="#89f600"/>
<path d="M662.5 372.2h2.9v2.9h-2.9z" fill="#85f600"/>
<path d="M665.1 372.2h2.9v2.9h-2.9z" fill="#82f600"/>
<path d="M498.7 374.8h2.9v2.9h-2.9z" fill="#99f700"/>
<path d="M501.3 374.8h2.9v2.9h-2.9z" fill="#93f600"/>
<path d="M503.9 374.8h2.9v2.9h-2.9z" fill="#8cf600"/>
<path d="M506.5 374.8h2.9v2.9h-2.9z" fill="#83f600"/>
<path d="M509.1 374.8h2.9v2.9h-2.9z" fill="#77f500"/>
<path d="M511.7 374.8h2.9v2.9h-2.9z" fill="#68f400"/>
<path d="M514.3 374.8h2.9v2.9h-2.9z" fill="#57f300"/>
<path d="M516.9 374.8h2.9v2.9h-2.9z" fill="#46f200"/>
<path d="M519.5 374.8h2.9v2.9h-2.9z" fill="#36f200"/>
<path d="M522.1 374.8h2.9v2.9h-2.9z" fill="#28f300"/>
<path d="M524.7 374.8h2.9v2.9h-2.9z" fill="#1cf400"/>
<path d="M527.3 374.8h2.9v2.9h-2.9z" fill="#12f400"/>
<path d="M529.9 374.8h2.9v2.9h-2.9z" fill="#0af400"/>
<path d="M532.5 374.8h2.9v2.9h-2.9z" fill="#05f500"/>
<path d="M535.1 374.8h2.9v2.9h-2.9z" fill="#03f500"/>
<path d="M537.7 374.8h2.9v2.9h-2.9z" fill="#03f500"/>
<path d="M540.3 374.8h2.9v2.9h-2.9z" fill="#04f500"/>
<path d="M542.9 374.8h2.9v2.9h-2.9z" fill="#06f500"/>
<path d="M545.5 374.8h2.9v2.9h-2.9z" fill="#08f500"/>
<path d="M548.1 374.8h2.9v2.9h-2.9z" fill="#0af400"/>
<path d="M550.7 374.8h2.9v2.9h-2.9z" fill="#0df400"/>
<path d="M553.3 374.8h2.9v2.9h-2.9z" fill="#10f400"/>
<path d="M555.9 374.8h2.9v2.9h-2.9z" fill="#14f400"/>
<path d="M558.5 374.8h2.9v2.9h-2.9z" fill="#19f400"/>
<path d="M561.1 374.8h2.9v2.9h-2.9z" fill="#1ff300"/>
<path d="M563.7 374.8h2.9v2.9h-2.9z" fill="#28f300"/>
<path d="M566.3 374.8h2.9v2.9h-2.9z" fill="#34f200"/>
<path d="M568.9 374.8h2.9v2.9h-2.9z" fill="#46f200"/>
<path d="M571.5 374.8h2.9v2.9h-2.9z" fill="#5df400"/>
<path d="M574.1 374.8h2.9v2.9h-2.9z" fill="#75f500"/>
<path d="M576.7 374.8h2.9v2.9h-2.9z" fill="#86f600"/>
<path d="M579.3 374.8h2.9v2.9h-2.9z" fill="#8ef600"/>
<path d="M581.9 374.8h2.9v2.9h-2.9z" fill="#8bf600"/>
<path d="M584.5 374.8h2.9v2.9h-2.9z" fill="#7df500"/>
<path d="M587.1 374.8h2.9v2.9h-2.9z" fill="#63f400"/>
<path d="M589.7 374.8h2.9v2.9h-2.9z" fill="#43f200"/>
<path d="M592.3 374.8h2.9v2.9h-2.9z" fill="#26f300"/>
<path d="M594.9 374.8h2.9v2.9h-2.9z" fill="#0ff400"/>
<path d="M597.5 374.8h2.9v2.9h-2.9z" fill="#00f504"/>
<path d="M600.1 374.8h2.9v2.9h-2.9z" fill="#00f519"/>
<path d="M602.7 374.8h2.9v2.9h-2.9z" fill="#00f523"/>
<path d="M605.3 374.8h2.9v2.9h-2.9z" fill="#00f524"/>
<path d="M607.9 374.8h2.9v2.9h-2.9z" fill="#00f51b"/>
<path d="M610.5 374.8h2.9v2.9h-2.9z" fill="#00f509"/>
<path d="M613.1 374.8h2.9v2.9h-2.9z" fill="#07f500"/>
<path d="M615.7 374.8h2.9v2.9h-2.9z" fill="#16f400"/>
<path d="M618.3 374.8h2.9v2.9h-2.9z" fill="#27f300"/>
<path d="M620.9 374.8h2.9v2.9h-2.9z" fill="#3af200"/>
<path d="M623.5 374.8h2.9v2.9h-2.9z" fill="#50f300"/>
<path d="M626.1 374.8h2.9v2.9h-2.9z" fill="#67f400"/>
<path d="M628.7 374.8h2.9v2.9h-2.9z" fill="#7bf500"/>
<path d="M631.3 374.8h2.9v2.9h-2.9z" fill="#8bf600"/>
<path d="M633.9 374.8h2.9v2.9h-2.9z" fill="#98f700"/>
<path d="M636.5 374.8h2.9v2.9h-2.9z" fill="#a2f700"/>
<path d="M639.1 374.8h2.9v2.9h-2.9z" fill="#a8f800"/>
<path d="M641.7 374.8h2.9v2.9h-2.9z" fill="#abf800"/>
<path d="M644.3 374.8h2.9v2.9h-2.9z" fill="#aaf800"/>
<path d="M646.9 374.8h2.9v2.9h-2.9z" fill="#a6f700"/>
<path d="M649.5 374.8h2.9v2.9h-2.9z" fill="#a1f700"/>
<path d="M652.1 374.8h2.9v2.9h-2.9z" fill="#9bf700"/>
<path d="M654.7 374.8h2.9v2.9h-2.9z" fill="#95f700"/>
<path d="M657.3 374.8h2.9v2.9h-2.9z" fill="#8ff600"/>
<path d="M659.9 374.8h2.9v2.9h-2.9z" fill="#8bf600"/>
<path d="M662.5 374.8h2.9v2.9h-2.9z" fill="#87f600"/>
<path d="M665.1 374.8h2.9v2.9h-2.9z" fill="#84f600"/>
<path d="M498.7 377.4h2.9v2.9h-2.9z" fill="#a0f700"/>
<path d="M501.3 377.4h2.9v2.9h-2.9z" fill="#9bf700"/>
<path d="M503.9 377.4h2.9v2.9h-2.9z" fill="#94f700"/>
<path d="M506.5 377.4h2.9v2.9h-2.9z" fill="#8bf600"/>
<path d="M509.1 377.4h2.9v2.9h-2.9z" fill="#80f500"/>
<path d="M511.7 377.4h2.9v2.9h-2.9z" fill="#72f500"/>
<path d="M514.3 377.4h2.9v2.9h-2.9z" fill="#61f400"/>
<path d="M516.9 377.4h2.9v2.9h-2.9z" fill="#4ff300"/>
<path d="M519.5 377.4h2.9v2.9h-2.9z" fill="#3ef200"/>
<path d="M522.1 377.4h2.9v2.9h-2.9z" fill="#30f300"/>
<path d="M524.7 377.4h2.9v2.9h-2.9z" fill="#23f300"/>
<path d="M527.3 377.4h2.9v2.9h-2.9z" fill="#19f400"/>
<path d="M529.9 377.4h2.9v2.9h-2.9z" fill="#12f400"/>
<path d="M532.5 377.4h2.9v2.9h-2.9z" fill="#0cf400"/>
<path d="M535.1 377.4h2.9v2.9h-2.9z" fill="#09f500"/>
<path d="M537.7 377.4h2.9v2.9h-2.9z" fill="#08f500"/>
<path d="M540.3 377.4h2.9v2.9h-2.9z" fill="#09f500"/>
<path d="M542.9 377.4h2.9v2.9h-2.9z" fill="#0af500"/>
<path d="M545.5 377.4h2.9v2.9h-2.9z" fill="#0bf400"/>
<path d="M548.1 377.4h2.9v2.9h-2.9z" fill="#0ef400"/>
<path d="M550.7 377.4h2.9v2.9h-2.9z" fill="#11f400"/>
<path d="M553.3 377.4h2.9v2.9h-2.9z" fill="#15f400"/>
<path d="M555.9 377.4h2.9v2.9h-2.9z" fill="#1af400"/>
<path d="M558.5 377.4h2.9v2.9h-2.9z" fill="#20f300"/>
<path d="M561.1 377.4h2.9v2.9h-2.9z" fill="#27f300"/>
<path d="M563.7 377.4h2.9v2.9h-2.9z" fill="#30f300"/>
<path d="M566.3 377.4h2.9v2.9h-2.9z" fill="#3df200"/>
<path d="M568.9 377.4h2.9v2.9h-2.9z" fill="#4ff300"/>
<path d="M571.5 377.4h2.9v2.9h-2.9z" fill="#66f400"/>
<path d="M574.1 377.4h2.9v2.9h-2.9z" fill="#7bf500"/>
<path d="M576.7 377.4h2.9v2.9h-2.9z" fill="#8af600"/>
<path d="M579.3 377.4h2.9v2.9h-2.9z" fill="#91f600"/>
<path d="M581.9 377.4h2.9v2.9h-2.9z" fill="#8ef600"/>
<path d="M584.5 377.4h2.9v2.9h-2.9z" fill="#80f500"/>
<path d="M587.1 377.4h2.9v2.9h-2.9z" fill="#67f400"/>
<path d="M589.7 377.4h2.9v2.9h-2.9z" fill="#47f300"/>
<path d="M592.3 377.4h2.9v2.9h-2.9z" fill="#2bf300"/>
<path d="M594.9 377.4h2.9v2.9h-2.9z" fill="#15f400"/>
<path d="M597.5 377.4h2.9v2.9h-2.9z" fill="#06f500"/>
<path d="M600.1 377.4h2.9v2.9h-2.9z" fill="#00f508"/>
<path d="M602.7 377.4h2.9v2.9h-2.9z" fill="#00f511"/>
<path d="M605.3 377.4h2.9v2.9h-2.9z" fill="#00f50f"/>
<path d="M607.9 377.4h2.9v2.9h-2.9z" fill="#00f505"/>
<path d="M610.5 377.4h2.9v2.9h-2.9z" fill="#07f500"/>
<path d="M613.1 377.4h2.9v2.9h-2.9z" fill="#13f400"/>
<path d="M615.7 377.4h2.9v2.9h-2.9z" fill="#22f300"/>
<path d="M618.3 377.4h2.9v2.9h-2.9z" fill="#34f200"/>
<path d="M620.9 377.4h2.9v2.9h-2.9z" fill="#48f300"/>
<path d="M623.5 377.4h2.9v2.9h-2.9z" fill="#5ef400"/>
<path d="M626.1 377.4h2.9v2.9h-2.9z" fill="#74f500"/>
<path d="M628.7 377.4h2.9v2.9h-2.9z" fill="#86f600"/>
<path d="M631.3 377.4h2.9v2.9h-2.9z" fill="#95f700"/>
<path d="M633.9 377.4h2.9v2.9h-2.9z" fill="#a1f700"/>
<path d="M636.5 377.4h2.9v2.9h-2.9z" fill="#aaf800"/>
<path d="M639.1 377.4h2.9v2.9h-2.9z" fill="#aff800"/>
<path d="M641.7 377.4h2.9v2.9h-2.9z" fill="#b0f800"/>
<path d="M644.3 377.4h2.9v2.9h-2.9z" fill="#aef800"/>
<path d="M646.9 377.4h2.9v2.9h-2.9z" fill="#aaf800"/>
<path d="M649.5 377.4h2.9v2.9h-2.9z" fill="#a4f700"/>
<path d="M652.1 377.4h2.9v2.9h-2.9z" fill="#9df700"/>
<path d="M654.7 377.4h2.9v2.9h-2.9z" fill="#97f700"/>
<path d="M657.3 377.4h2.9v2.9h-2.9z" fill="#91f600"/>
<path d="M659.9 377.4h2.9v2.9h-2.9z" fill="#8df600"/>
<path d="M662.5 377.4h2.9v2.9h-2.9z" fill="#89f600"/>
<path d="M665.1 377.4h2.9v2.9h-2.9z" fill="#87f600"/>
<path d="M498.7 380h2.9v2.9h-2.9z" fill="#a6f700"/>
<path d="M501.3 380h2.9v2.9h-2.9z" fill="#a2f700"/>
<path d="M503.9 380h2.9v2.9h-2.9z" fill="#9cf700"/>
<path d="M506.5 380h2.9v2.9h-2.9z" fill="#93f600"/>
<path d="M509.1 380h2.9v2.9h-2.9z" fill="#88f600"/>
<path d="M511.7 380h2.9v2.9h-2.9z" fill="#7bf500"/>
<path d="M514.3 380h2.9v2.9h-2.9z" fill="#6af400"/>
<path d="M516.9 380h2.9v2.9h-2.9z" fill="#58f300"/>
<path d="M519.5 380h2.9v2.9h-2.9z" fill="#46f300"/>
<path d="M522.1 380h2.9v2.9h-2.9z" fill="#37f200"/>
<path d="M524.7 380h2.9v2.9h-2.9z" fill="#2af300"/>
<path d="M527.3 380h2.9v2.9h-2.9z" fill="#20f300"/>
<path d="M529.9 380h2.9v2.9h-2.9z" fill="#18f400"/>
<path d="M532.5 380h2.9v2.9h-2.9z" fill="#12f400"/>
<path d="M535.1 380h2.9v2.9h-2.9z" fill="#0ff400"/>
<path d="M537.7 380h2.9v2.9h-2.9z" fill="#0df400"/>
<path d="M540.3 380h2.9v2.9h-2.9z" fill="#0cf400"/>
<path d="M542.9 380h2.9v2.9h-2.9z" fill="#0df400"/>
<path d="M545.5 380h2.9v2.9h-2.9z" fill="#0ff400"/>
<path d="M548.1 380h2.9v2.9h-2.9z" fill="#12f400"/>
<path d="M550.7 380h2.9v2.9h-2.9z" fill="#16f400"/>
<path d="M553.3 380h2.9v2.9h-2.9z" fill="#1bf400"/>
<path d="M555.9 380h2.9v2.9h-2.9z" fill="#21f300"/>
<path d="M558.5 380h2.9v2.9h-2.9z" fill="#28f300"/>
<path d="M561.1 380h2.9v2.9h-2.9z" fill="#30f300"/>
<path d="M563.7 380h2.9v2.9h-2.9z" fill="#3af200"/>
<path d="M566.3 380h2.9v2.9h-2.9z" fill="#48f300"/>
<path d="M568.9 380h2.9v2.9h-2.9z" fill="#5af300"/>
<path d="M571.5 380h2.9v2.9h-2.9z" fill="#6ef400"/>
<path d="M574.1 380h2.9v2.9h-2.9z" fill="#80f500"/>
<path d="M576.7 380h2.9v2.9h-2.9z" fill="#8df600"/>
<path d="M579.3 380h2.9v2.9h-2.9z" fill="#93f600"/>
<path d="M581.9 380h2.9v2.9h-2.9z" fill="#8ff600"/>
<path d="M584.5 380h2.9v2.9h-2.9z" fill="#82f600"/>
<path d="M587.1 380h2.9v2.9h-2.9z" fill="#6af400"/>
<path d="M589.7 380h2.9v2.9h-2.9z" fill="#4cf300"/>
<path d="M592.3 380h2.9v2.9h-2.9z" fill="#31f300"/>
<path d="M594.9 380h2.9v2.9h-2.9z" fill="#1cf400"/>
<path d="M597.5 380h2.9v2.9h-2.9z" fill="#0df400"/>
<path d="M600.1 380h2.9v2.9h-2.9z" fill="#04f500"/>
<path d="M602.7 380h2.9v2.9h-2.9z" fill="#01f500"/>
<path d="M605.3 380h2.9v2.9h-2.9z" fill="#02f500"/>
<path d="M607.9 380h2.9v2.9h-2.9z" fill="#08f500"/>
<path d="M610.5 380h2.9v2.9h-2.9z" fill="#12f400"/>
<path d="M613.1 380h2.9v2.9h-2.9z" fill="#1ff300"/>
<path d="M615.7 380h2.9v2.9h-2.9z" fill="#2ff300"/>
<path d="M618.3 380h2.9v2.9h-2.9z" fill="#41f200"/>
<path d="M620.9 380h2.9v2.9h-2.9z" fill="#56f300"/>
<path d="M623.5 380h2.9v2.9h-2.9z" fill="#6cf400"/>
<path d="M626.1 380h2.9v2.9h-2.9z" fill="#7ff500"/>
<path d="M628.7 380h2.9v2.9h-2.9z" fill="#8ff600"/>
<path d="M631.3 380h2.9v2.9h-2.9z" fill="#9df700"/>
<path d="M633.9 380h2.9v2.9h-2.9z" fill="#a9f800"/>
<path d="M636.5 380h2.9v2.9h-2.9z" fill="#b1f800"/>
<path d="M639.1 380h2.9v2.9h-2.9z" fill="#b5f800"/>
<path d="M641.7 380h2.9v2.9h-2.9z" fill="#b5f800"/>
<path d="M644.3 380h2.9v2.9h-2.9z" fill="#b2f800"/>
<path d="M646.9 380h2.9v2.9h-2.9z" fill="#acf800"/>
<path d="M649.5 380h2.9v2.9h-2.9z" fill="#a6f700"/>
<path d="M652.1 380h2.9v2.9h-2.9z" fill="#a0f700"/>
<path d="M654.7 380h2.9v2.9h-2.9z" fill="#9af700"/>
<path d="M657.3 380h2.9v2.9h-2.9z" fill="#94f700"/>
<path d="M659.9 380h2.9v2.9h-2.9z" fill="#90f600"/>
<path d="M662.5 380h2.9v2.9h-2.9z" fill="#8cf600"/>
<path d="M665.1 380h2.9v2.9h-2.9z" fill="#8af600"/>
<path d="M498.7 382.6h2.9v2.9h-2.9z" fill="#aaf800"/>
<path d="M501.3 382.6h2.9v2.9h-2.9z" fill="#a7f800"/>
<path d="M503.9 382.6h2.9v2.9h-2.9z" fill="#a2f700"/>
<path d="M506.5 382.6h2.9v2.9h-2.9z" fill="#99f700"/>
<path d="M509.1 382.6h2.9v2.9h-2.9z" fill="#8ef600"/>
<path d="M511.7 382.6h2.9v2.9h-2.9z" fill="#81f500"/>
<path d="M514.3 382.6h2.9v2.9h-2.9z" fill="#71f500"/>
<path d="M516.9 382.6h2.9v2.9h-2.9z" fill="#5ef400"/>
<path d="M519.5 382.6h2.9v2.9h-2.9z" fill="#4df300"/>
<path d="M522.1 382.6h2.9v2.9h-2.9z" fill="#3cf200"/>
<path d="M524.7 382.6h2.9v2.9h-2.9z" fill="#30f300"/>
<path d="M527.3 382.6h2.9v2.9h-2.9z" fill="#26f300"/>
<path d="M529.9 382.6h2.9v2.9h-2.9z" fill="#1df400"/>
<path d="M532.5 382.6h2.9v2.9h-2.9z" fill="#17f400"/>
<path d="M535.1 382.6h2.9v2.9h-2.9z" fill="#13f400"/>
<path d="M537.7 382.6h2.9v2.9h-2.9z" fill="#11f400"/>
<path d="M540.3 382.6h2.9v2.9h-2.9z" fill="#10f400"/>
<path d="M542.9 382.6h2.9v2.9h-2.9z" fill="#10f400"/>
<path d="M545.5 382.6h2.9v2.9h-2.9z" fill="#12f400"/>
<path d="M548.1 382.6h2.9v2.9h-2.9z" fill="#16f400"/>
<path d="M550.7 382.6h2.9v2.9h-2.9z" fill="#1bf400"/>
<path d="M553.3 382.6h2.9v2.9h-2.9z" fill="#21f300"/>
<path d="M555.9 382.6h2.9v2.9h-2.9z" fill="#29f300"/>
<path d="M558.5 382.6h2.9v2.9h-2.9z" fill="#31f300"/>
<path d="M561.1 382.6h2.9v2.9h-2.9z" fill="#39f200"/>
<path d="M563.7 382.6h2.9v2.9h-2.9z" fill="#44f200"/>
<path d="M566.3 382.6h2.9v2.9h-2.9z" fill="#51f300"/>
<path d="M568.9 382.6h2.9v2.9h-2.9z" fill="#60f400"/>
<path d="M571.5 382.6h2.9v2.9h-2.9z" fill="#72f500"/>
<path d="M574.1 382.6h2.9v2.9h-2.9z" fill="#81f500"/>
<path d="M576.7 382.6h2.9v2.9h-2.9z" fill="#8cf600"/>
<path d="M579.3 382.6h2.9v2.9h-2.9z" fill="#90f600"/>
<path d="M581.9 382.6h2.9v2.9h-2.9z" fill="#8cf600"/>
<path d="M584.5 382.6h2.9v2.9h-2.9z" fill="#7ef500"/>
<path d="M587.1 382.6h2.9v2.9h-2.9z" fill="#67f400"/>
<path d="M589.7 382.6h2.9v2.9h-2.9z" fill="#4cf300"/>
<path d="M592.3 382.6h2.9v2.9h-2.9z" fill="#33f200"/>
<path d="M594.9 382.6h2.9v2.9h-2.9z" fill="#20f300"/>
<path d="M597.5 382.6h2.9v2.9h-2.9z" fill="#13f400"/>
<path d="M600.1 382.6h2.9v2.9h-2.9z" fill="#0bf400"/>
<path d="M602.7 382.6h2.9v2.9h-2.9z" fill="#08f500"/>
<path d="M605.3 382.6h2.9v2.9h-2.9z" fill="#0bf400"/>
<path d="M607.9 382.6h2.9v2.9h-2.9z" fill="#12f400"/>
<path d="M610.5 382.6h2.9v2.9h-2.9z" fill="#1cf400"/>
<path d="M613.1 382.6h2.9v2.9h-2.9z" fill="#2af300"/>
<path d="M615.7 382.6h2.9v2.9h-2.9z" fill="#3af200"/>
<path d="M618.3 382.6h2.9v2.9h-2.9z" fill="#4ff300"/>
<path d="M620.9 382.6h2.9v2.9h-2.9z" fill="#64f400"/>
<path d="M623.5 382.6h2.9v2.9h-2.9z" fill="#79f500"/>
<path d="M626.1 382.6h2.9v2.9h-2.9z" fill="#89f600"/>
<path d="M628.7 382.6h2.9v2.9h-2.9z" fill="#98f700"/>
<path d="M631.3 382.6h2.9v2.9h-2.9z" fill="#a5f700"/>
<path d="M633.9 382.6h2.9v2.9h-2.9z" fill="#aef800"/>
<path d="M636.5 382.6h2.9v2.9h-2.9z" fill="#b6f800"/>
<path d="M639.1 382.6h2.9v2.9h-2.9z" fill="#b9f800"/>
<path d="M641.7 382.6h2.9v2.9h-2.9z" fill="#b8f800"/>
<path d="M644.3 382.6h2.9v2.9h-2.9z" fill="#b4f800"/>
<path d="M646.9 382.6h2.9v2.9h-2.9z" fill="#aff800"/>
<path d="M649.5 382.6h2.9v2.9h-2.9z" fill="#a9f800"/>
<path d="M652.1 382.6h2.9v2.9h-2.9z" fill="#a2f700"/>
<path d="M654.7 382.6h2.9v2.9h-2.9z" fill="#9cf700"/>
<path d="M657.3 382.6h2.9v2.9h-2.9z" fill="#97f700"/>
<path d="M659.9 382.6h2.9v2.9h-2.9z" fill="#93f600"/>
<path d="M662.5 382.6h2.9v2.9h-2.9z" fill="#8ff600"/>
<path d="M665.1 382.6h2.9v2.9h-2.9z" fill="#8df600"/>
<path d="M498.7 385.2h2.9v2.9h-2.9z" fill="#acf800"/>
<path d="M501.3 385.2h2.9v2.9h-2.9z" fill="#a9f800"/>
<path d="M503.9 385.2h2.9v2.9h-2.9z" fill="#a4f700"/>
<path d="M506.5 385.2h2.9v2.9h-2.9z" fill="#9cf700"/>
<path d="M509.1 385.2h2.9v2.9h-2.9z" fill="#91f600"/>
<path d="M511.7 385.2h2.9v2.9h-2.9z" fill="#84f600"/>
<path d="M514.3 385.2h2.9v2.9h-2.9z" fill="#75f500"/>
<path d="M516.9 385.2h2.9v2.9h-2.9z" fill="#63f400"/>
<path d="M519.5 385.2h2.9v2.9h-2.9z" fill="#52f300"/>
<path d="M522.1 385.2h2.9v2.9h-2.9z" fill="#41f200"/>
<path d="M524.7 385.2h2.9v2.9h-2.9z" fill="#34f200"/>
<path d="M527.3 385.2h2.9v2.9h-2.9z" fill="#2af300"/>
<path d="M529.9 385.2h2.9v2.9h-2.9z" fill="#21f300"/>
<path d="M532.5 385.2h2.9v2.9h-2.9z" fill="#1bf400"/>
<path d="M535.1 385.2h2.9v2.9h-2.9z" fill="#16f400"/>
<path d="M537.7 385.2h2.9v2.9h-2.9z" fill="#14f400"/>
<path d="M540.3 385.2h2.9v2.9h-2.9z" fill="#13f400"/>
<path d="M542.9 385.2h2.9v2.9h-2.9z" fill="#13f400"/>
<path d="M545.5 385.2h2.9v2.9h-2.9z" fill="#16f400"/>
<path d="M548.1 385.2h2.9v2.9h-2.9z" fill="#1af400"/>
<path d="M550.7 385.2h2.9v2.9h-2.9z" fill="#1ff300"/>
<path d="M553.3 385.2h2.9v2.9h-2.9z" fill="#27f300"/>
<path d="M555.9 385.2h2.9v2.9h-2.9z" fill="#2ff300"/>
<path d="M558.5 385.2h2.9v2.9h-2.9z" fill="#37f200"/>
<path d="M561.1 385.2h2.9v2.9h-2.9z" fill="#3ff200"/>
<path d="M563.7 385.2h2.9v2.9h-2.9z" fill="#49f300"/>
<path d="M566.3 385.2h2.9v2.9h-2.9z" fill="#54f300"/>
<path d="M568.9 385.2h2.9v2.9h-2.9z" fill="#60f400"/>
<path d="M571.5 385.2h2.9v2.9h-2.9z" fill="#6ef500"/>
<path d="M574.1 385.2h2.9v2.9h-2.9z" fill="#7bf500"/>
<path d="M576.7 385.2h2.9v2.9h-2.9z" fill="#83f600"/>
<path d="M579.3 385.2h2.9v2.9h-2.9z" fill="#85f600"/>
<path d="M581.9 385.2h2.9v2.9h-2.9z" fill="#81f500"/>
<path d="M584.5 385.2h2.9v2.9h-2.9z" fill="#73f500"/>
<path d="M587.1 385.2h2.9v2.9h-2.9z" fill="#5ef400"/>
<path d="M589.7 385.2h2.9v2.9h-2.9z" fill="#45f200"/>
<path d="M592.3 385.2h2.9v2.9h-2.9z" fill="#30f300"/>
<path d="M594.9 385.2h2.9v2.9h-2.9z" fill="#20f300"/>
<path d="M597.5 385.2h2.9v2.9h-2.9z" fill="#15f400"/>
<path d="M600.1 385.2h2.9v2.9h-2.9z" fill="#0ff400"/>
<path d="M602.7 385.2h2.9v2.9h-2.9z" fill="#0ef400"/>
<path d="M605.3 385.2h2.9v2.9h-2.9z" fill="#11f400"/>
<path d="M607.9 385.2h2.9v2.9h-2.9z" fill="#19f400"/>
<path d="M610.5 385.2h2.9v2.9h-2.9z" fill="#25f300"/>
<path d="M613.1 385.2h2.9v2.9h-2.9z" fill="#34f200"/>
<path d="M615.7 385.2h2.9v2.9h-2.9z" fill="#46f300"/>
<path d="M618.3 385.2h2.9v2.9h-2.9z" fill="#5cf400"/>
<path d="M620.9 385.2h2.9v2.9h-2.9z" fill="#72f500"/>
<path d="M623.5 385.2h2.9v2.9h-2.9z" fill="#84f600"/>
<path d="M626.1 385.2h2.9v2.9h-2.9z" fill="#93f600"/>
<path d="M628.7 385.2h2.9v2.9h-2.9z" fill="#a0f700"/>
<path d="M631.3 385.2h2.9v2.9h-2.9z" fill="#abf800"/>
<path d="M633.9 385.2h2.9v2.9h-2.9z" fill="#b4f800"/>
<path d="M636.5 385.2h2.9v2.9h-2.9z" fill="#b9f800"/>
<path d="M639.1 385.2h2.9v2.9h-2.9z" fill="#bbf700"/>
<path d="M641.7 385.2h2.9v2.9h-2.9z" fill="#baf800"/>
<path d="M644.3 385.2h2.9v2.9h-2.9z" fill="#b6f800"/>
<path d="M646.9 385.2h2.9v2.9h-2.9z" fill="#b0f800"/>
<path d="M649.5 385.2h2.9v2.9h-2.9z" fill="#aaf800"/>
<path d="M652.1 385.2h2.9v2.9h-2.9z" fill="#a4f700"/>
<path d="M654.7 385.2h2.9v2.9h-2.9z" fill="#9ff700"/>
<path d="M657.3 385.2h2.9v2.9h-2.9z" fill="#9af700"/>
<path d="M659.9 385.2h2.9v2.9h-2.9z" fill="#96f700"/>
<path d="M662.5 385.2h2.9v2.9h-2.9z" fill="#92f600"/>
<path d="M665.1 385.2h2.9v2.9h-2.9z" fill="#90f600"/>
<path d="M498.7 387.8h2.9v2.9h-2.9z" fill="#aaf800"/>
<path d="M501.3 387.8h2.9v2.9h-2.9z" fill="#a8f800"/>
<path d="M503.9 387.8h2.9v2.9h-2.9z" fill="#a3f700"/>
<path d="M506.5 387.8h2.9v2.9h-2.9z" fill="#9bf700"/>
<path d="M509.1 387.8h2.9v2.9h-2.9z" fill="#90f600"/>
<path d="M511.7 387.8h2.9v2.9h-2.9z" fill="#84f600"/>
<path d="M514.3 387.8h2.9v2.9h-2.9z" fill="#76f500"/>
<path d="M516.9 387.8h2.9v2.9h-2.9z" fill="#65f400"/>
<path d="M519.5 387.8h2.9v2.9h-2.9z" fill="#54f300"/>
<path d="M522.1 387.8h2.9v2.9h-2.9z" fill="#45f200"/>
<path d="M524.7 387.8h2.9v2.9h-2.9z" fill="#37f200"/>
<path d="M527.3 387.8h2.9v2.9h-2.9z" fill="#2df300"/>
<path d="M529.9 387.8h2.9v2.9h-2.9z" fill="#24f300"/>
<path d="M532.5 387.8h2.9v2.9h-2.9z" fill="#1ef400"/>
<path d="M535.1 387.8h2.9v2.9h-2.9z" fill="#19f400"/>
<path d="M537.7 387.8h2.9v2.9h-2.9z" fill="#16f400"/>
<path d="M540.3 387.8h2.9v2.9h-2.9z" fill="#15f400"/>
<path d="M542.9 387.8h2.9v2.9h-2.9z" fill="#16f400"/>
<path d="M545.5 387.8h2.9v2.9h-2.9z" fill="#18f400"/>
<path d="M548.1 387.8h2.9v2.9h-2.9z" fill="#1cf400"/>
<path d="M550.7 387.8h2.9v2.9h-2.9z" fill="#21f300"/>
<path d="M553.3 387.8h2.9v2.9h-2.9z" fill="#28f300"/>
<path d="M555.9 387.8h2.9v2.9h-2.9z" fill="#30f300"/>
<path d="M558.5 387.8h2.9v2.9h-2.9z" fill="#38f200"/>
<path d="M561.1 387.8h2.9v2.9h-2.9z" fill="#40f200"/>
<path d="M563.7 387.8h2.9v2.9h-2.9z" fill="#48f300"/>
<path d="M566.3 387.8h2.9v2.9h-2.9z" fill="#50f300"/>
<path d="M568.9 387.8h2.9v2.9h-2.9z" fill="#5af300"/>
<path d="M571.5 387.8h2.9v2.9h-2.9z" fill="#64f400"/>
<path d="M574.1 387.8h2.9v2.9h-2.9z" fill="#6df400"/>
<path d="M576.7 387.8h2.9v2.9h-2.9z" fill="#73f500"/>
<path d="M579.3 387.8h2.9v2.9h-2.9z" fill="#74f500"/>
<path d="M581.9 387.8h2.9v2.9h-2.9z" fill="#6df400"/>
<path d="M584.5 387.8h2.9v2.9h-2.9z" fill="#60f400"/>
<path d="M587.1 387.8h2.9v2.9h-2.9z" fill="#4df300"/>
<path d="M589.7 387.8h2.9v2.9h-2.9z" fill="#39f200"/>
<path d="M592.3 387.8h2.9v2.9h-2.9z" fill="#29f300"/>
<path d="M594.9 387.8h2.9v2.9h-2.9z" fill="#1cf400"/>
<path d="M597.5 387.8h2.9v2.9h-2.9z" fill="#13f400"/>
<path d="M600.1 387.8h2.9v2.9h-2.9z" fill="#10f400"/>
<path d="M602.7 387.8h2.9v2.9h-2.9z" fill="#10f400"/>
<path d="M605.3 387.8h2.9v2.9h-2.9z" fill="#16f400"/>
<path d="M607.9 387.8h2.9v2.9h-2.9z" fill="#1ff300"/>
<path d="M610.5 387.8h2.9v2.9h-2.9z" fill="#2cf300"/>
<path d="M613.1 387.8h2.9v2.9h-2.9z" fill="#3cf200"/>
<path d="M615.7 387.8h2.9v2.9h-2.9z" fill="#51f300"/>
<path d="M618.3 387.8h2.9v2.9h-2.9z" fill="#68f400"/>
<path d="M620.9 387.8h2.9v2.9h-2.9z" fill="#7df500"/>
<path d="M623.5 387.8h2.9v2.9h-2.9z" fill="#8df600"/>
<path d="M626.1 387.8h2.9v2.9h-2.9z" fill="#9cf700"/>
<path d="M628.7 387.8h2.9v2.9h-2.9z" fill="#a8f800"/>
<path d="M631.3 387.8h2.9v2.9h-2.9z" fill="#b1f800"/>
<path d="M633.9 387.8h2.9v2.9h-2.9z" fill="#b9f800"/>
<path d="M636.5 387.8h2.9v2.9h-2.9z" fill="#bdf700"/>
<path d="M639.1 387.8h2.9v2.9h-2.9z" fill="#bef700"/>
<path d="M641.7 387.8h2.9v2.9h-2.9z" fill="#bcf700"/>
<path d="M644.3 387.8h2.9v2.9h-2.9z" fill="#b7f800"/>
<path d="M646.9 387.8h2.9v2.9h-2.9z" fill="#b1f800"/>
<path d="M649.5 387.8h2.9v2.9h-2.9z" fill="#abf800"/>
<path d="M652.1 387.8h2.9v2.9h-2.9z" fill="#a6f700"/>
<path d="M654.7 387.8h2.9v2.9h-2.9z" fill="#a0f700"/>
<path d="M657.3 387.8h2.9v2.9h-2.9z" fill="#9cf700"/>
<path d="M659.9 387.8h2.9v2.9h-2.9z" fill="#98f700"/>
<path d="M662.5 387.8h2.9v2.9h-2.9z" fill="#95f700"/>
<path d="M665.1 387.8h2.9v2.9h-2.9z" fill="#93f600"/>
<path d="M498.7 390.4h2.9v2.9h-2.9z" fill="#a7f800"/>
<path d="M501.3 390.4h2.9v2.9h-2.9z" fill="#a4f700"/>
<path d="M503.9 390.4h2.9v2.9h-2.9z" fill="#9ff700"/>
<path d="M506.5 390.4h2.9v2.9h-2.9z" fill="#97f700"/>
<path d="M509.1 390.4h2.9v2.9h-2.9z" fill="#8df600"/>
<path d="M511.7 390.4h2.9v2.9h-2.9z" fill="#82f600"/>
<path d="M514.3 390.4h2.9v2.9h-2.9z" fill="#75f500"/>
<path d="M516.9 390.4h2.9v2.9h-2.9z" fill="#65f400"/>
<path d="M519.5 390.4h2.9v2.9h-2.9z" fill="#55f300"/>
<path d="M522.1 390.4h2.9v2.9h-2.9z" fill="#46f300"/>
<path d="M524.7 390.4h2.9v2.9h-2.9z" fill="#39f200"/>
<path d="M527.3 390.4h2.9v2.9h-2.9z" fill="#2ff300"/>
<path d="M529.9 390.4h2.9v2.9h-2.9z" fill="#26f300"/>
<path d="M532.5 390.4h2.9v2.9h-2.9z" fill="#20f300"/>
<path d="M535.1 390.4h2.9v2.9h-2.9z" fill="#1bf400"/>
<path d="M537.7 390.4h2.9v2.9h-2.9z" fill="#18f400"/>
<path d="M540.3 390.4h2.9v2.9h-2.9z" fill="#17f400"/>
<path d="M542.9 390.4h2.9v2.9h-2.9z" fill="#17f400"/>
<path d="M545.5 390.4h2.9v2.9h-2.9z" fill="#19f400"/>
<path d="M548.1 390.4h2.9v2.9h-2.9z" fill="#1cf400"/>
<path d="M550.7 390.4h2.9v2.9h-2.9z" fill="#20f300"/>
<path d="M553.3 390.4h2.9v2.9h-2.9z" fill="#26f300"/>
<path d="M555.9 390.4h2.9v2.9h-2.9z" fill="#2df300"/>
<path d="M558.5 390.4h2.9v2.9h-2.9z" fill="#34f200"/>
<path d="M561.1 390.4h2.9v2.9h-2.9z" fill="#3af200"/>
<path d="M563.7 390.4h2.9v2.9h-2.9z" fill="#40f200"/>
<path d="M566.3 390.4h2.9v2.9h-2.9z" fill="#46f200"/>
<path d="M568.9 390.4h2.9v2.9h-2.9z" fill="#4df300"/>
<path d="M571.5 390.4h2.9v2.9h-2.9z" fill="#53f300"/>
<path d="M574.1 390.4h2.9v2.9h-2.9z" fill="#59f300"/>
<path d="M576.7 390.4h2.9v2.9h-2.9z" fill="#5cf400"/>
<path d="M579.3 390.4h2.9v2.9h-2.9z" fill="#5af400"/>
<path d="M581.9 390.4h2.9v2.9h-2.9z" fill="#54f300"/>
<path d="M584.5 390.4h2.9v2.9h-2.9z" fill="#48f300"/>
<path d="M587.1 390.4h2.9v2.9h-2.9z" fill="#39f200"/>
<path d="M589.7 390.4h2.9v2.9h-2.9z" fill="#2bf300"/>
<path d="M592.3 390.4h2.9v2.9h-2.9z" fill="#1ff300"/>
<path d="M594.9 390.4h2.9v2.9h-2.9z" fill="#15f400"/>
<path d="M597.5 390.4h2.9v2.9h-2.9z" fill="#0ff400"/>
<path d="M600.1 390.4h2.9v2.9h-2.9z" fill="#0ef400"/>
<path d="M602.7 390.4h2.9v2.9h-2.9z" fill="#11f400"/>
<path d="M605.3 390.4h2.9v2.9h-2.9z" fill="#18f400"/>
<path d="M607.9 390.4h2.9v2.9h-2.9z" fill="#23f300"/>
<path d="M610.5 390.4h2.9v2.9h-2.9z" fill="#31f300"/>
<path d="M613.1 390.4h2.9v2.9h-2.9z" fill="#43f200"/>
<path d="M615.7 390.4h2.9v2.9h-2.9z" fill="#5af300"/>
<path d="M618.3 390.4h2.9v2.9h-2.9z" fill="#72f500"/>
<path d="M620.9 390.4h2.9v2.9h-2.9z" fill="#85f600"/>
<path d="M623.5 390.4h2.9v2.9h-2.9z" fill="#96f700"/>
<path d="M626.1 390.4h2.9v2.9h-2.9z" fill="#a4f700"/>
<path d="M628.7 390.4h2.9v2.9h-2.9z" fill="#aff800"/>
<path d="M631.3 390.4h2.9v2.9h-2.9z" fill="#b8f800"/>
<path d="M633.9 390.4h2.9v2.9h-2.9z" fill="#bef700"/>
<path d="M636.5 390.4h2.9v2.9h-2.9z" fill="#c1f700"/>
<path d="M639.1 390.4h2.9v2.9h-2.9z" fill="#c1f700"/>
<path d="M641.7 390.4h2.9v2.9h-2.9z" fill="#bef700"/>
<path d="M644.3 390.4h2.9v2.9h-2.9z" fill="#b9f800"/>
<path d="M646.9 390.4h2.9v2.9h-2.9z" fill="#b3f800"/>
<path d="M649.5 390.4h2.9v2.9h-2.9z" fill="#adf800"/>
<path d="M652.1 390.4h2.9v2.9h-2.9z" fill="#a7f800"/>
<path d="M654.7 390.4h2.9v2.9h-2.9z" fill="#a2f700"/>
<path d="M657.3 390.4h2.9v2.9h-2.9z" fill="#9ef700"/>
<path d="M659.9 390.4h2.9v2.9h-2.9z" fill="#9af700"/>
<path d="M662.5 390.4h2.9v2.9h-2.9z" fill="#98f700"/>
<path d="M665.1 390.4h2.9v2.9h-2.9z" fill="#96f700"/>
<path d="M498.7 393h2.9v2.9h-2.9z" fill="#a2f700"/>
<path d="M501.3 393h2.9v2.9h-2.9z" fill="#9ef700"/>
<path d="M503.9 393h2.9v2.9h-2.9z" fill="#99f700"/>
<path d="M506.5 393h2.9v2.9h-2.9z" fill="#92f600"/>
<path d="M509.1 393h2.9v2.9h-2.9z" fill="#89f600"/>
<path d="M511.7 393h2.9v2.9h-2.9z" fill="#7ff500"/>
<path d="M514.3 393h2.9v2.9h-2.9z" fill="#72f500"/>
<path d="M516.9 393h2.9v2.9h-2.9z" fill="#64f400"/>
<path d="M519.5 393h2.9v2.9h-2.9z" fill="#55f300"/>
<path d="M522.1 393h2.9v2.9h-2.9z" fill="#47f300"/>
<path d="M524.7 393h2.9v2.9h-2.9z" fill="#3bf200"/>
<path d="M527.3 393h2.9v2.9h-2.9z" fill="#31f300"/>
<path d="M529.9 393h2.9v2.9h-2.9z" fill="#29f300"/>
<path d="M532.5 393h2.9v2.9h-2.9z" fill="#23f300"/>
<path d="M535.1 393h2.9v2.9h-2.9z" fill="#1ef400"/>
<path d="M537.7 393h2.9v2.9h-2.9z" fill="#1bf400"/>
<path d="M540.3 393h2.9v2.9h-2.9z" fill="#19f400"/>
<path d="M542.9 393h2.9v2.9h-2.9z" fill="#18f400"/>
<path d="M545.5 393h2.9v2.9h-2.9z" fill="#18f400"/>
<path d="M548.1 393h2.9v2.9h-2.9z" fill="#1af400"/>
<path d="M550.7 393h2.9v2.9h-2.9z" fill="#1cf400"/>
<path d="M553.3 393h2.9v2.9h-2.9z" fill="#20f300"/>
<path d="M555.9 393h2.9v2.9h-2.9z" fill="#25f300"/>
<path d="M558.5 393h2.9v2.9h-2.9z" fill="#2af300"/>
<path d="M561.1 393h2.9v2.9h-2.9z" fill="#2ff300"/>
<path d="M563.7 393h2.9v2.9h-2.9z" fill="#33f200"/>
<path d="M566.3 393h2.9v2.9h-2.9z" fill="#37f200"/>
<path d="M568.9 393h2.9v2.9h-2.9z" fill="#3bf200"/>
<path d="M571.5 393h2.9v2.9h-2.9z" fill="#3ff200"/>
<path d="M574.1 393h2.9v2.9h-2.9z" fill="#42f200"/>
<path d="M576.7 393h2.9v2.9h-2.9z" fill="#43f200"/>
<path d="M579.3 393h2.9v2.9h-2.9z" fill="#40f200"/>
<path d="M581.9 393h2.9v2.9h-2.9z" fill="#3af200"/>
<path d="M584.5 393h2.9v2.9h-2.9z" fill="#32f200"/>
<path d="M587.1 393h2.9v2.9h-2.9z" fill="#28f300"/>
<path d="M589.7 393h2.9v2.9h-2.9z" fill="#1df400"/>
<path d="M592.3 393h2.9v2.9h-2.9z" fill="#13f400"/>
<path d="M594.9 393h2.9v2.9h-2.9z" fill="#0df400"/>
<path d="M597.5 393h2.9v2.9h-2.9z" fill="#0af400"/>
<path d="M600.1 393h2.9v2.9h-2.9z" fill="#0cf400"/>
<path d="M602.7 393h2.9v2.9h-2.9z" fill="#11f400"/>
<path d="M605.3 393h2.9v2.9h-2.9z" fill="#19f400"/>
<path d="M607.9 393h2.9v2.9h-2.9z" fill="#25f300"/>
<path d="M610.5 393h2.9v2.9h-2.9z" fill="#34f200"/>
<path d="M613.1 393h2.9v2.9h-2.9z" fill="#48f300"/>
<path d="M615.7 393h2.9v2.9h-2.9z" fill="#60f400"/>
<path d="M618.3 393h2.9v2.9h-2.9z" fill="#79f500"/>
<path d="M620.9 393h2.9v2.9h-2.9z" fill="#8cf600"/>
<path d="M623.5 393h2.9v2.9h-2.9z" fill="#9df700"/>
<path d="M626.1 393h2.9v2.9h-2.9z" fill="#abf800"/>
<path d="M628.7 393h2.9v2.9h-2.9z" fill="#b6f800"/>
<path d="M631.3 393h2.9v2.9h-2.9z" fill="#bef700"/>
<path d="M633.9 393h2.9v2.9h-2.9z" fill="#c3f700"/>
<path d="M636.5 393h2.9v2.9h-2.9z" fill="#c5f700"/>
<path d="M639.1 393h2.9v2.9h-2.9z" fill="#c5f700"/>
<path d="M641.7 393h2.9v2.9h-2.9z" fill="#c1f700"/>
<path d="M644.3 393h2.9v2.9h-2.9z" fill="#bcf700"/>
<path d="M646.9 393h2.9v2.9h-2.9z" fill="#b5f800"/>
<path d="M649.5 393h2.9v2.9h-2.9z" fill="#aff800"/>
<path d="M652.1 393h2.9v2.9h-2.9z" fill="#a9f800"/>
<path d="M654.7 393h2.9v2.9h-2.9z" fill="#a4f700"/>
<path d="M657.3 393h2.9v2.9h-2.9z" fill="#a0f700"/>
<path d="M659.9 393h2.9v2.9h-2.9z" fill="#9df700"/>
<path d="M662.5 393h2.9v2.9h-2.9z" fill="#9af700"/>
<path d="M665.1 393h2.9v2.9h-2.9z" fill="#98f700"/>
<path d="M498.7 395.6h2.9v2.9h-2.9z" fill="#9cf700"/>
<path d="M501.3 395.6h2.9v2.9h-2.9z" fill="#98f700"/>
<path d="M503.9 395.6h2.9v2.9h-2.9z" fill="#93f600"/>
<path d="M506.5 395.6h2.9v2.9h-2.9z" fill="#8cf600"/>
<path d="M509.1 395.6h2.9v2.9h-2.9z" fill="#84f600"/>
<path d="M511.7 395.6h2.9v2.9h-2.9z" fill="#7bf500"/>
<path d="M514.3 395.6h2.9v2.9h-2.9z" fill="#6ff500"/>
<path d="M516.9 395.6h2.9v2.9h-2.9z" fill="#62f400"/>
<path d="M519.5 395.6h2.9v2.9h-2.9z" fill="#55f300"/>
<path d="M522.1 395.6h2.9v2.9h-2.9z" fill="#49f300"/>
<path d="M524.7 395.6h2.9v2.9h-2.9z" fill="#3df200"/>
<path d="M527.3 395.6h2.9v2.9h-2.9z" fill="#34f200"/>
<path d="M529.9 395.6h2.9v2.9h-2.9z" fill="#2cf300"/>
<path d="M532.5 395.6h2.9v2.9h-2.9z" fill="#26f300"/>
<path d="M535.1 395.6h2.9v2.9h-2.9z" fill="#22f300"/>
<path d="M537.7 395.6h2.9v2.9h-2.9z" fill="#1ef300"/>
<path d="M540.3 395.6h2.9v2.9h-2.9z" fill="#1cf400"/>
<path d="M542.9 395.6h2.9v2.9h-2.9z" fill="#19f400"/>
<path d="M545.5 395.6h2.9v2.9h-2.9z" fill="#18f400"/>
<path d="M548.1 395.6h2.9v2.9h-2.9z" fill="#17f400"/>
<path d="M550.7 395.6h2.9v2.9h-2.9z" fill="#17f400"/>
<path d="M553.3 395.6h2.9v2.9h-2.9z" fill="#18f400"/>
<path d="M555.9 395.6h2.9v2.9h-2.9z" fill="#1af400"/>
<path d="M558.5 395.6h2.9v2.9h-2.9z" fill="#1df400"/>
<path d="M561.1 395.6h2.9v2.9h-2.9z" fill="#21f300"/>
<path d="M563.7 395.6h2.9v2.9h-2.9z" fill="#24f300"/>
<path d="M566.3 395.6h2.9v2.9h-2.9z" fill="#28f300"/>
<path d="M568.9 395.6h2.9v2.9h-2.9z" fill="#2bf300"/>
<path d="M571.5 395.6h2.9v2.9h-2.9z" fill="#2df300"/>
<path d="M574.1 395.6h2.9v2.9h-2.9z" fill="#2ef300"/>
<path d="M576.7 395.6h2.9v2.9h-2.9z" fill="#2ef300"/>
<path d="M579.3 395.6h2.9v2.9h-2.9z" fill="#2bf300"/>
<path d="M581.9 395.6h2.9v2.9h-2.9z" fill="#27f300"/>
<path d="M584.5 395.6h2.9v2.9h-2.9z" fill="#20f300"/>
<path d="M587.1 395.6h2.9v2.9h-2.9z" fill="#19f400"/>
<path d="M589.7 395.6h2.9v2.9h-2.9z" fill="#11f400"/>
<path d="M592.3 395.6h2.9v2.9h-2.9z" fill="#0af400"/>
<path d="M594.9 395.6h2.9v2.9h-2.9z" fill="#07f500"/>
<path d="M597.5 395.6h2.9v2.9h-2.9z" fill="#07f500"/>
<path d="M600.1 395.6h2.9v2.9h-2.9z" fill="#0af500"/>
<path d="M602.7 395.6h2.9v2.9h-2.9z" fill="#10f400"/>
<path d="M605.3 395.6h2.9v2.9h-2.9z" fill="#1af400"/>
<path d="M607.9 395.6h2.9v2.9h-2.9z" fill="#27f300"/>
<path d="M610.5 395.6h2.9v2.9h-2.9z" fill="#37f200"/>
<path d="M613.1 395.6h2.9v2.9h-2.9z" fill="#4cf300"/>
<path d="M615.7 395.6h2.9v2.9h-2.9z" fill="#65f400"/>
<path d="M618.3 395.6h2.9v2.9h-2.9z" fill="#7ef500"/>
<path d="M620.9 395.6h2.9v2.9h-2.9z" fill="#92f600"/>
<path d="M623.5 395.6h2.9v2.9h-2.9z" fill="#a3f700"/>
<path d="M626.1 395.6h2.9v2.9h-2.9z" fill="#b1f800"/>
<path d="M628.7 395.6h2.9v2.9h-2.9z" fill="#bdf700"/>
<path d="M631.3 395.6h2.9v2.9h-2.9z" fill="#c5f700"/>
<path d="M633.9 395.6h2.9v2.9h-2.9z" fill="#caf700"/>
<path d="M636.5 395.6h2.9v2.9h-2.9z" fill="#cbf700"/>
<path d="M639.1 395.6h2.9v2.9h-2.9z" fill="#caf700"/>
<path d="M641.7 395.6h2.9v2.9h-2.9z" fill="#c7f700"/>
<path d="M644.3 395.6h2.9v2.9h-2.9z" fill="#c1f700"/>
<path d="M646.9 395.6h2.9v2.9h-2.9z" fill="#b9f800"/>
<path d="M649.5 395.6h2.9v2.9h-2.9z" fill="#b2f800"/>
<path d="M652.1 395.6h2.9v2.9h-2.9z" fill="#acf800"/>
<path d="M654.7 395.6h2.9v2.9h-2.9z" fill="#a7f700"/>
<path d="M657.3 395.6h2.9v2.9h-2.9z" fill="#a3f700"/>
<path d="M659.9 395.6h2.9v2.9h-2.9z" fill="#9ff700"/>
<path d="M662.5 395.6h2.9v2.9h-2.9z" fill="#9df700"/>
<path d="M665.1 395.6h2.9v2.9h-2.9z" fill="#9bf700"/>
<path d="M498.7 398.2h2.9v2.9h-2.9z" fill="#96f700"/>
<path d="M501.3 398.2h2.9v2.9h-2.9z" fill="#92f600"/>
<path d="M503.9 398.2h2.9v2.9h-2.9z" fill="#8df600"/>
<path d="M506.5 398.2h2.9v2.9h-2.9z" fill="#86f600"/>
<path d="M509.1 398.2h2.9v2.9h-2.9z" fill="#7ff500"/>
<path d="M511.7 398.2h2.9v2.9h-2.9z" fill="#76f500"/>
<path d="M514.3 398.2h2.9v2.9h-2.9z" fill="#6bf400"/>
<path d="M516.9 398.2h2.9v2.9h-2.9z" fill="#60f400"/>
<path d="M519.5 398.2h2.9v2.9h-2.9z" fill="#55f300"/>
<path d="M522.1 398.2h2.9v2.9h-2.9z" fill="#4af300"/>
<path d="M524.7 398.2h2.9v2.9h-2.9z" fill="#40f200"/>
<path d="M527.3 398.2h2.9v2.9h-2.9z" fill="#38f200"/>
<path d="M529.9 398.2h2.9v2.9h-2.9z" fill="#31f300"/>
<path d="M532.5 398.2h2.9v2.9h-2.9z" fill="#2cf300"/>
<path d="M535.1 398.2h2.9v2.9h-2.9z" fill="#27f300"/>
<path d="M537.7 398.2h2.9v2.9h-2.9z" fill="#23f300"/>
<path d="M540.3 398.2h2.9v2.9h-2.9z" fill="#20f300"/>
<path d="M542.9 398.2h2.9v2.9h-2.9z" fill="#1cf400"/>
<path d="M545.5 398.2h2.9v2.9h-2.9z" fill="#19f400"/>
<path d="M548.1 398.2h2.9v2.9h-2.9z" fill="#15f400"/>
<path d="M550.7 398.2h2.9v2.9h-2.9z" fill="#12f400"/>
<path d="M553.3 398.2h2.9v2.9h-2.9z" fill="#11f400"/>
<path d="M555.9 398.2h2.9v2.9h-2.9z" fill="#10f400"/>
<path d="M558.5 398.2h2.9v2.9h-2.9z" fill="#11f400"/>
<path d="M561.1 398.2h2.9v2.9h-2.9z" fill="#13f400"/>
<path d="M563.7 398.2h2.9v2.9h-2.9z" fill="#16f400"/>
<path d="M566.3 398.2h2.9v2.9h-2.9z" fill="#19f400"/>
<path d="M568.9 398.2h2.9v2.9h-2.9z" fill="#1bf400"/>
<path d="M571.5 398.2h2.9v2.9h-2.9z" fill="#1cf400"/>
<path d="M574.1 398.2h2.9v2.9h-2.9z" fill="#1df400"/>
<path d="M576.7 398.2h2.9v2.9h-2.9z" fill="#1cf400"/>
<path d="M579.3 398.2h2.9v2.9h-2.9z" fill="#1af400"/>
<path d="M581.9 398.2h2.9v2.9h-2.9z" fill="#17f400"/>
<path d="M584.5 398.2h2.9v2.9h-2.9z" fill="#12f400"/>
<path d="M587.1 398.2h2.9v2.9h-2.9z" fill="#0ef400"/>
<path d="M589.7 398.2h2.9v2.9h-2.9z" fill="#09f500"/>
<path d="M592.3 398.2h2.9v2.9h-2.9z" fill="#05f500"/>
<path d="M594.9 398.2h2.9v2.9h-2.9z" fill="#04f500"/>
<path d="M597.5 398.2h2.9v2.9h-2.9z" fill="#06f500"/>
<path d="M600.1 398.2h2.9v2.9h-2.9z" fill="#0bf400"/>
<path d="M602.7 398.2h2.9v2.9h-2.9z" fill="#12f400"/>
<path d="M605.3 398.2h2.9v2.9h-2.9z" fill="#1cf400"/>
<path d="M607.9 398.2h2.9v2.9h-2.9z" fill="#2af300"/>
<path d="M610.5 398.2h2.9v2.9h-2.9z" fill="#3af200"/>
<path d="M613.1 398.2h2.9v2.9h-2.9z" fill="#50f300"/>
<path d="M615.7 398.2h2.9v2.9h-2.9z" fill="#6af400"/>
<path d="M618.3 398.2h2.9v2.9h-2.9z" fill="#82f600"/>
<path d="M620.9 398.2h2.9v2.9h-2.9z" fill="#97f700"/>
<path d="M623.5 398.2h2.9v2.9h-2.9z" fill="#a8f800"/>
<path d="M626.1 398.2h2.9v2.9h-2.9z" fill="#b8f800"/>
<path d="M628.7 398.2h2.9v2.9h-2.9z" fill="#c4f700"/>
<path d="M631.3 398.2h2.9v2.9h-2.9z" fill="#cdf700"/>
<path d="M633.9 398.2h2.9v2.9h-2.9z" fill="#d2f600"/>
<path d="M636.5 398.2h2.9v2.9h-2.9z" fill="#d4f600"/>
<path d="M639.1 398.2h2.9v2.9h-2.9z" fill="#d3f600"/>
<path d="M641.7 398.2h2.9v2.9h-2.9z" fill="#cef700"/>
<path d="M644.3 398.2h2.9v2.9h-2.9z" fill="#c7f700"/>
<path d="M646.9 398.2h2.9v2.9h-2.9z" fill="#bff700"/>
<path d="M649.5 398.2h2.9v2.9h-2.9z" fill="#b7f800"/>
<path d="M652.1 398.2h2.9v2.9h-2.9z" fill="#aff800"/>
<path d="M654.7 398.2h2.9v2.9h-2.9z" fill="#aaf800"/>
<path d="M657.3 398.2h2.9v2.9h-2.9z" fill="#a6f700"/>
<path d="M659.9 398.2h2.9v2.9h-2.9z" fill="#a2f700"/>
<path d="M662.5 398.2h2.9v2.9h-2.9z" fill="#a0f700"/>
<path d="M665.1 398.2h2.9v2.9h-2.9z" fill="#9ef700"/>
<path d="M498.7 400.8h2.9v2.9h-2.9z" fill="#90f600"/>
<path d="M501.3 400.8h2.9v2.9h-2.9z" fill="#8cf600"/>
<path d="M503.9 400.8h2.9v2.9h-2.9z" fill="#87f600"/>
<path d="M506.5 400.8h2.9v2.9h-2.9z" fill="#80f500"/>
<path d="M509.1 400.8h2.9v2.9h-2.9z" fill="#7af500"/>
<path d="M511.7 400.8h2.9v2.9h-2.9z" fill="#71f500"/>
<path d="M514.3 400.8h2.9v2.9h-2.9z" fill="#67f400"/>
<path d="M516.9 400.8h2.9v2.9h-2.9z" fill="#5ef400"/>
<path d="M519.5 400.8h2.9v2.9h-2.9z" fill="#55f300"/>
<path d="M522.1 400.8h2.9v2.9h-2.9z" fill="#4df300"/>
<path d="M524.7 400.8h2.9v2.9h-2.9z" fill="#45f200"/>
<path d="M527.3 400.8h2.9v2.9h-2.9z" fill="#3ef200"/>
<path d="M529.9 400.8h2.9v2.9h-2.9z" fill="#38f200"/>
<path d="M532.5 400.8h2.9v2.9h-2.9z" fill="#33f200"/>
<path d="M535.1 400.8h2.9v2.9h-2.9z" fill="#2ff300"/>
<path d="M537.7 400.8h2.9v2.9h-2.9z" fill="#2bf300"/>
<path d="M540.3 400.8h2.9v2.9h-2.9z" fill="#26f300"/>
<path d="M542.9 400.8h2.9v2.9h-2.9z" fill="#21f300"/>
<path d="M545.5 400.8h2.9v2.9h-2.9z" fill="#1cf400"/>
<path d="M548.1 400.8h2.9v2.9h-2.9z" fill="#16f400"/>
<path d="M550.7 400.8h2.9v2.9h-2.9z" fill="#11f400"/>
<path d="M553.3 400.8h2.9v2.9h-2.9z" fill="#0cf400"/>
<path d="M555.9 400.8h2.9v2.9h-2.9z" fill="#09f500"/>
<path d="M558.5 400.8h2.9v2.9h-2.9z" fill="#08f500"/>
<path d="M561.1 400.8h2.9v2.9h-2.9z" fill="#08f500"/>
<path d="M563.7 400.8h2.9v2.9h-2.9z" fill="#0af500"/>
<path d="M566.3 400.8h2.9v2.9h-2.9z" fill="#0cf400"/>
<path d="M568.9 400.8h2.9v2.9h-2.9z" fill="#0df400"/>
<path d="M571.5 400.8h2.9v2.9h-2.9z" fill="#0ff400"/>
<path d="M574.1 400.8h2.9v2.9h-2.9z" fill="#0ff400"/>
<path d="M576.7 400.8h2.9v2.9h-2.9z" fill="#0ef400"/>
<path d="M579.3 400.8h2.9v2.9h-2.9z" fill="#0df400"/>
<path d="M581.9 400.8h2.9v2.9h-2.9z" fill="#0cf400"/>
<path d="M584.5 400.8h2.9v2.9h-2.9z" fill="#0af500"/>
<path d="M587.1 400.8h2.9v2.9h-2.9z" fill="#08f500"/>
<path d="M589.7 400.8h2.9v2.9h-2.9z" fill="#06f500"/>
<path d="M592.3 400.8h2.9v2.9h-2.9z" fill="#05f500"/>
<path d="M594.9 400.8h2.9v2.9h-2.9z" fill="#06f500"/>
<path d="M597.5 400.8h2.9v2.9h-2.9z" fill="#09f500"/>
<path d="M600.1 400.8h2.9v2.9h-2.9z" fill="#0ef400"/>
<path d="M602.7 400.8h2.9v2.9h-2.9z" fill="#16f400"/>
<path d="M605.3 400.8h2.9v2.9h-2.9z" fill="#21f300"/>
<path d="M607.9 400.8h2.9v2.9h-2.9z" fill="#2ef300"/>
<path d="M610.5 400.8h2.9v2.9h-2.9z" fill="#3ff200"/>
<path d="M613.1 400.8h2.9v2.9h-2.9z" fill="#57f300"/>
<path d="M615.7 400.8h2.9v2.9h-2.9z" fill="#71f500"/>
<path d="M618.3 400.8h2.9v2.9h-2.9z" fill="#88f600"/>
<path d="M620.9 400.8h2.9v2.9h-2.9z" fill="#9df700"/>
<path d="M623.5 400.8h2.9v2.9h-2.9z" fill="#aff800"/>
<path d="M626.1 400.8h2.9v2.9h-2.9z" fill="#c1f700"/>
<path d="M628.7 400.8h2.9v2.9h-2.9z" fill="#cef700"/>
<path d="M631.3 400.8h2.9v2.9h-2.9z" fill="#d8f600"/>
<path d="M633.9 400.8h2.9v2.9h-2.9z" fill="#def600"/>
<path d="M636.5 400.8h2.9v2.9h-2.9z" fill="#e0f600"/>
<path d="M639.1 400.8h2.9v2.9h-2.9z" fill="#def600"/>
<path d="M641.7 400.8h2.9v2.9h-2.9z" fill="#d8f600"/>
<path d="M644.3 400.8h2.9v2.9h-2.9z" fill="#d0f700"/>
<path d="M646.9 400.8h2.9v2.9h-2.9z" fill="#c6f700"/>
<path d="M649.5 400.8h2.9v2.9h-2.9z" fill="#bdf700"/>
<path d="M652.1 400.8h2.9v2.9h-2.9z" fill="#b4f800"/>
<path d="M654.7 400.8h2.9v2.9h-2.9z" fill="#aef800"/>
<path d="M657.3 400.8h2.9v2.9h-2.9z" fill="#a9f800"/>
<path d="M659.9 400.8h2.9v2.9h-2.9z" fill="#a5f700"/>
<path d="M662.5 400.8h2.9v2.9h-2.9z" fill="#a3f700"/>
<path d="M665.1 400.8h2.9v2.9h-2.9z" fill="#a1f700"/>
<path d="M498.7 403.4h2.9v2.9h-2.9z" fill="#8bf600"/>
<path d="M501.3 403.4h2.9v2.9h-2.9z" fill="#86f600"/>
<path d="M503.9 403.4h2.9v2.9h-2.9z" fill="#81f500"/>
<path d="M506.5 403.4h2.9v2.9h-2.9z" fill="#7bf500"/>
<path d="M509.1 403.4h2.9v2.9h-2.9z" fill="#74f500"/>
<path d="M511.7 403.4h2.9v2.9h-2.9z" fill="#6cf400"/>
<path d="M514.3 403.4h2.9v2.9h-2.9z" fill="#64f400"/>
<path d="M516.9 403.4h2.9v2.9h-2.9z" fill="#5df400"/>
<path d="M519.5 403.4h2.9v2.9h-2.9z" fill="#56f300"/>
<path d="M522.1 403.4h2.9v2.9h-2.9z" fill="#50f300"/>
<path d="M524.7 403.4h2.9v2.9h-2.9z" fill="#4bf300"/>
<path d="M527.3 403.4h2.9v2.9h-2.9z" fill="#46f300"/>
<path d="M529.9 403.4h2.9v2.9h-2.9z" fill="#42f200"/>
<path d="M532.5 403.4h2.9v2.9h-2.9z" fill="#3df200"/>
<path d="M535.1 403.4h2.9v2.9h-2.9z" fill="#39f200"/>
<path d="M537.7 403.4h2.9v2.9h-2.9z" fill="#35f200"/>
<path d="M540.3 403.4h2.9v2.9h-2.9z" fill="#30f300"/>
<path d="M542.9 403.4h2.9v2.9h-2.9z" fill="#2af300"/>
<path d="M545.5 403.4h2.9v2.9h-2.9z" fill="#23f300"/>
<path d="M548.1 403.4h2.9v2.9h-2.9z" fill="#1bf400"/>
<path d="M550.7 403.4h2.9v2.9h-2.9z" fill="#13f400"/>
<path d="M553.3 403.4h2.9v2.9h-2.9z" fill="#0cf400"/>
<path d="M555.9 403.4h2.9v2.9h-2.9z" fill="#06f500"/>
<path d="M558.5 403.4h2.9v2.9h-2.9z" fill="#03f500"/>
<path d="M561.1 403.4h2.9v2.9h-2.9z" fill="#02f500"/>
<path d="M563.7 403.4h2.9v2.9h-2.9z" fill="#02f500"/>
<path d="M566.3 403.4h2.9v2.9h-2.9z" fill="#03f500"/>
<path d="M568.9 403.4h2.9v2.9h-2.9z" fill="#04f500"/>
<path d="M571.5 403.4h2.9v2.9h-2.9z" fill="#05f500"/>
<path d="M574.1 403.4h2.9v2.9h-2.9z" fill="#06f500"/>
<path d="M576.7 403.4h2.9v2.9h-2.9z" fill="#06f500"/>
<path d="M579.3 403.4h2.9v2.9h-2.9z" fill="#06f500"/>
<path d="M581.9 403.4h2.9v2.9h-2.9z" fill="#06f500"/>
<path d="M584.5 403.4h2.9v2.9h-2.9z" fill="#07f500"/>
<path d="M587.1 403.4h2.9v2.9h-2.9z" fill="#08f500"/>
<path d="M589.7 403.4h2.9v2.9h-2.9z" fill="#09f500"/>
<path d="M592.3 403.4h2.9v2.9h-2.9z" fill="#0af500"/>
<path d="M594.9 403.4h2.9v2.9h-2.9z" fill="#0cf400"/>
<path d="M597.5 403.4h2.9v2.9h-2.9z" fill="#10f400"/>
<path d="M600.1 403.4h2.9v2.9h-2.9z" fill="#15f400"/>
<path d="M602.7 403.4h2.9v2.9h-2.9z" fill="#1df400"/>
<path d="M605.3 403.4h2.9v2.9h-2.9z" fill="#28f300"/>
<path d="M607.9 403.4h2.9v2.9h-2.9z" fill="#36f200"/>
<path d="M610.5 403.4h2.9v2.9h-2.9z" fill="#49f300"/>
<path d="M613.1 403.4h2.9v2.9h-2.9z" fill="#60f400"/>
<path d="M615.7 403.4h2.9v2.9h-2.9z" fill="#7af500"/>
<path d="M618.3 403.4h2.9v2.9h-2.9z" fill="#91f600"/>
<path d="M620.9 403.4h2.9v2.9h-2.9z" fill="#a6f700"/>
<path d="M623.5 403.4h2.9v2.9h-2.9z" fill="#bbf700"/>
<path d="M626.1 403.4h2.9v2.9h-2.9z" fill="#cef700"/>
<path d="M628.7 403.4h2.9v2.9h-2.9z" fill="#ddf600"/>
<path d="M631.3 403.4h2.9v2.9h-2.9z" fill="#e8f500"/>
<path d="M633.9 403.4h2.9v2.9h-2.9z" fill="#eef500"/>
<path d="M636.5 403.4h2.9v2.9h-2.9z" fill="#f0f500"/>
<path d="M639.1 403.4h2.9v2.9h-2.9z" fill="#ecf500"/>
<path d="M641.7 403.4h2.9v2.9h-2.9z" fill="#e4f600"/>
<path d="M644.3 403.4h2.9v2.9h-2.9z" fill="#d9f600"/>
<path d="M646.9 403.4h2.9v2.9h-2.9z" fill="#cef700"/>
<path d="M649.5 403.4h2.9v2.9h-2.9z" fill="#c3f700"/>
<path d="M652.1 403.4h2.9v2.9h-2.9z" fill="#b9f800"/>
<path d="M654.7 403.4h2.9v2.9h-2.9z" fill="#b1f800"/>
<path d="M657.3 403.4h2.9v2.9h-2.9z" fill="#acf800"/>
<path d="M659.9 403.4h2.9v2.9h-2.9z" fill="#a8f800"/>
<path d="M662.5 403.4h2.9v2.9h-2.9z" fill="#a6f700"/>
<path d="M665.1 403.4h2.9v2.9h-2.9z" fill="#a5f700"/>
<path d="M498.7 406h2.9v2.9h-2.9z" fill="#86f600"/>
<path d="M501.3 406h2.9v2.9h-2.9z" fill="#82f600"/>
<path d="M503.9 406h2.9v2.9h-2.9z" fill="#7cf500"/>
<path d="M506.5 406h2.9v2.9h-2.9z" fill="#76f500"/>
<path d="M509.1 406h2.9v2.9h-2.9z" fill="#6ef500"/>
<path d="M511.7 406h2.9v2.9h-2.9z" fill="#67f400"/>
<path d="M514.3 406h2.9v2.9h-2.9z" fill="#61f400"/>
<path d="M516.9 406h2.9v2.9h-2.9z" fill="#5cf400"/>
<path d="M519.5 406h2.9v2.9h-2.9z" fill="#58f300"/>
<path d="M522.1 406h2.9v2.9h-2.9z" fill="#55f300"/>
<path d="M524.7 406h2.9v2.9h-2.9z" fill="#52f300"/>
<path d="M527.3 406h2.9v2.9h-2.9z" fill="#50f300"/>
<path d="M529.9 406h2.9v2.9h-2.9z" fill="#4df300"/>
<path d="M532.5 406h2.9v2.9h-2.9z" fill="#4bf300"/>
<path d="M535.1 406h2.9v2.9h-2.9z" fill="#47f300"/>
<path d="M537.7 406h2.9v2.9h-2.9z" fill="#42f200"/>
<path d="M540.3 406h2.9v2.9h-2.9z" fill="#3cf200"/>
<path d="M542.9 406h2.9v2.9h-2.9z" fill="#35f200"/>
<path d="M545.5 406h2.9v2.9h-2.9z" fill="#2df300"/>
<path d="M548.1 406h2.9v2.9h-2.9z" fill="#24f300"/>
<path d="M550.7 406h2.9v2.9h-2.9z" fill="#1af400"/>
<path d="M553.3 406h2.9v2.9h-2.9z" fill="#11f400"/>
<path d="M555.9 406h2.9v2.9h-2.9z" fill="#09f500"/>
<path d="M558.5 406h2.9v2.9h-2.9z" fill="#03f500"/>
<path d="M561.1 406h2.9v2.9h-2.9z" fill="#00f500"/>
<path d="M563.7 406h2.9v2.9h-2.9z" fill="#00f503"/>
<path d="M566.3 406h2.9v2.9h-2.9z" fill="#00f502"/>
<path d="M568.9 406h2.9v2.9h-2.9z" fill="#00f500"/>
<path d="M571.5 406h2.9v2.9h-2.9z" fill="#02f500"/>
<path d="M574.1 406h2.9v2.9h-2.9z" fill="#03f500"/>
<path d="M576.7 406h2.9v2.9h-2.9z" fill="#05f500"/>
<path d="M579.3 406h2.9v2.9h-2.9z" fill="#06f500"/>
<path d="M581.9 406h2.9v2.9h-2.9z" fill="#08f500"/>
<path d="M584.5 406h2.9v2.9h-2.9z" fill="#0bf400"/>
<path d="M587.1 406h2.9v2.9h-2.9z" fill="#0ef400"/>
<path d="M589.7 406h2.9v2.9h-2.9z" fill="#11f400"/>
<path d="M592.3 406h2.9v2.9h-2.9z" fill="#13f400"/>
<path d="M594.9 406h2.9v2.9h-2.9z" fill="#16f400"/>
<path d="M597.5 406h2.9v2.9h-2.9z" fill="#1af400"/>
<path d="M600.1 406h2.9v2.9h-2.9z" fill="#20f300"/>
<path d="M602.7 406h2.9v2.9h-2.9z" fill="#27f300"/>
<path d="M605.3 406h2.9v2.9h-2.9z" fill="#32f300"/>
<path d="M607.9 406h2.9v2.9h-2.9z" fill="#41f200"/>
<path d="M610.5 406h2.9v2.9h-2.9z" fill="#55f300"/>
<path d="M613.1 406h2.9v2.9h-2.9z" fill="#6ef400"/>
<path d="M615.7 406h2.9v2.9h-2.9z" fill="#86f600"/>
<path d="M618.3 406h2.9v2.9h-2.9z" fill="#9cf700"/>
<path d="M620.9 406h2.9v2.9h-2.9z" fill="#b3f800"/>
<path d="M623.5 406h2.9v2.9h-2.9z" fill="#caf700"/>
<path d="M626.1 406h2.9v2.9h-2.9z" fill="#dff600"/>
<path d="M628.7 406h2.9v2.9h-2.9z" fill="#eff500"/>
<path d="M631.3 406h2.9v2.9h-2.9z" fill="#f5f000"/>
<path d="M633.9 406h2.9v2.9h-2.9z" fill="#f7ee00"/>
<path d="M636.5 406h2.9v2.9h-2.9z" fill="#f7ee00"/>
<path d="M639.1 406h2.9v2.9h-2.9z" fill="#f4f100"/>
<path d="M641.7 406h2.9v2.9h-2.9z" fill="#eff500"/>
<path d="M644.3 406h2.9v2.9h-2.9z" fill="#e2f600"/>
<path d="M646.9 406h2.9v2.9h-2.9z" fill="#d4f600"/>
<path d="M649.5 406h2.9v2.9h-2.9z" fill="#c7f700"/>
<path d="M652.1 406h2.9v2.9h-2.9z" fill="#bcf700"/>
<path d="M654.7 406h2.9v2.9h-2.9z" fill="#b4f800"/>
<path d="M657.3 406h2.9v2.9h-2.9z" fill="#aef800"/>
<path d="M659.9 406h2.9v2.9h-2.9z" fill="#aaf800"/>
<path d="M662.5 406h2.9v2.9h-2.9z" fill="#a8f800"/>
<path d="M665.1 406h2.9v2.9h-2.9z" fill="#a8f800"/>
<path d="M498.7 408.6h2.9v2.9h-2.9z" fill="#82f600"/>
<path d="M501.3 408.6h2.9v2.9h-2.9z" fill="#7df500"/>
<path d="M503.9 408.6h2.9v2.9h-2.9z" fill="#78f500"/>
<path d="M506.5 408.6h2.9v2.9h-2.9z" fill="#71f500"/>
<path d="M509.1 408.6h2.9v2.9h-2.9z" fill="#69f400"/>
<path d="M511.7 408.6h2.9v2.9h-2.9z" fill="#63f400"/>
<path d="M514.3 408.6h2.9v2.9h-2.9z" fill="#5ef400"/>
<path d="M516.9 408.6h2.9v2.9h-2.9z" fill="#5bf400"/>
<path d="M519.5 408.6h2.9v2.9h-2.9z" fill="#5af300"/>
<path d="M522.1 408.6h2.9v2.9h-2.9z" fill="#5af400"/>
<path d="M524.7 408.6h2.9v2.9h-2.9z" fill="#5bf400"/>
<path d="M527.3 408.6h2.9v2.9h-2.9z" fill="#5bf400"/>
<path d="M529.9 408.6h2.9v2.9h-2.9z" fill="#5bf400"/>
<path d="M532.5 408.6h2.9v2.9h-2.9z" fill="#5af400"/>
<path d="M535.1 408.6h2.9v2.9h-2.9z" fill="#58f300"/>
<path d="M537.7 408.6h2.9v2.9h-2.9z" fill="#54f300"/>
<path d="M540.3 408.6h2.9v2.9h-2.9z" fill="#4ef300"/>
<path d="M542.9 408.6h2.9v2.9h-2.9z" fill="#46f200"/>
<path d="M545.5 408.6h2.9v2.9h-2.9z" fill="#3cf200"/>
<path d="M548.1 408.6h2.9v2.9h-2.9z" fill="#31f300"/>
<path d="M550.7 408.6h2.9v2.9h-2.9z" fill="#26f300"/>
<path d="M553.3 408.6h2.9v2.9h-2.9z" fill="#1bf400"/>
<path d="M555.9 408.6h2.9v2.9h-2.9z" fill="#11f400"/>
<path d="M558.5 408.6h2.9v2.9h-2.9z" fill="#09f500"/>
<path d="M561.1 408.6h2.9v2.9h-2.9z" fill="#04f500"/>
<path d="M563.7 408.6h2.9v2.9h-2.9z" fill="#01f500"/>
<path d="M566.3 408.6h2.9v2.9h-2.9z" fill="#01f500"/>
<path d="M568.9 408.6h2.9v2.9h-2.9z" fill="#03f500"/>
<path d="M571.5 408.6h2.9v2.9h-2.9z" fill="#05f500"/>
<path d="M574.1 408.6h2.9v2.9h-2.9z" fill="#07f500"/>
<path d="M576.7 408.6h2.9v2.9h-2.9z" fill="#0af400"/>
<path d="M579.3 408.6h2.9v2.9h-2.9z" fill="#0df400"/>
<path d="M581.9 408.6h2.9v2.9h-2.9z" fill="#11f400"/>
<path d="M584.5 408.6h2.9v2.9h-2.9z" fill="#16f400"/>
<path d="M587.1 408.6h2.9v2.9h-2.9z" fill="#1bf400"/>
<path d="M589.7 408.6h2.9v2.9h-2.9z" fill="#1ff300"/>
<path d="M592.3 408.6h2.9v2.9h-2.9z" fill="#22f300"/>
<path d="M594.9 408.6h2.9v2.9h-2.9z" fill="#25f300"/>
<path d="M597.5 408.6h2.9v2.9h-2.9z" fill="#28f300"/>
<path d="M600.1 408.6h2.9v2.9h-2.9z" fill="#2df300"/>
<path d="M602.7 408.6h2.9v2.9h-2.9z" fill="#34f200"/>
<path d="M605.3 408.6h2.9v2.9h-2.9z" fill="#3ff200"/>
<path d="M607.9 408.6h2.9v2.9h-2.9z" fill="#50f300"/>
<path d="M610.5 408.6h2.9v2.9h-2.9z" fill="#65f400"/>
<path d="M613.1 408.6h2.9v2.9h-2.9z" fill="#7df500"/>
<path d="M615.7 408.6h2.9v2.9h-2.9z" fill="#93f600"/>
<path d="M618.3 408.6h2.9v2.9h-2.9z" fill="#aaf800"/>
<path d="M620.9 408.6h2.9v2.9h-2.9z" fill="#c3f700"/>
<path d="M623.5 408.6h2.9v2.9h-2.9z" fill="#dbf600"/>
<path d="M626.1 408.6h2.9v2.9h-2.9z" fill="#f0f500"/>
<path d="M628.7 408.6h2.9v2.9h-2.9z" fill="#f7ee00"/>
<path d="M631.3 408.6h2.9v2.9h-2.9z" fill="#fce900"/>
<path d="M633.9 408.6h2.9v2.9h-2.9z" fill="#ffe600"/>
<path d="M636.5 408.6h2.9v2.9h-2.9z" fill="#fde800"/>
<path d="M639.1 408.6h2.9v2.9h-2.9z" fill="#f9ec00"/>
<path d="M641.7 408.6h2.9v2.9h-2.9z" fill="#f3f200"/>
<path d="M644.3 408.6h2.9v2.9h-2.9z" fill="#e7f500"/>
<path d="M646.9 408.6h2.9v2.9h-2.9z" fill="#d7f600"/>
<path d="M649.5 408.6h2.9v2.9h-2.9z" fill="#caf700"/>
<path d="M652.1 408.6h2.9v2.9h-2.9z" fill="#bef700"/>
<path d="M654.7 408.6h2.9v2.9h-2.9z" fill="#b5f800"/>
<path d="M657.3 408.6h2.9v2.9h-2.9z" fill="#aff800"/>
<path d="M659.9 408.6h2.9v2.9h-2.9z" fill="#acf800"/>
<path d="M662.5 408.6h2.9v2.9h-2.9z" fill="#abf800"/>
<path d="M665.1 408.6h2.9v2.9h-2.9z" fill="#abf800"/>
<path d="M498.7 411.2h2.9v2.9h-2.9z" fill="#7ff500"/>
<path d="M501.3 411.2h2.9v2.9h-2.9z" fill="#7af500"/>
<path d="M503.9 411.2h2.9v2.9h-2.9z" fill="#74f500"/>
<path d="M506.5 411.2h2.9v2.9h-2.9z" fill="#6df400"/>
<path d="M509.1 411.2h2.9v2.9h-2.9z" fill="#66f400"/>
<path d="M511.7 411.2h2.9v2.9h-2.9z" fill="#60f400"/>
<path d="M514.3 411.2h2.9v2.9h-2.9z" fill="#5cf400"/>
<path d="M516.9 411.2h2.9v2.9h-2.9z" fill="#5bf400"/>
<path d="M519.5 411.2h2.9v2.9h-2.9z" fill="#5df400"/>
<path d="M522.1 411.2h2.9v2.9h-2.9z" fill="#61f400"/>
<path d="M524.7 411.2h2.9v2.9h-2.9z" fill="#65f400"/>
<path d="M527.3 411.2h2.9v2.9h-2.9z" fill="#69f400"/>
<path d="M529.9 411.2h2.9v2.9h-2.9z" fill="#6bf400"/>
<path d="M532.5 411.2h2.9v2.9h-2.9z" fill="#6cf400"/>
<path d="M535.1 411.2h2.9v2.9h-2.9z" fill="#6bf400"/>
<path d="M537.7 411.2h2.9v2.9h-2.9z" fill="#68f400"/>
<path d="M540.3 411.2h2.9v2.9h-2.9z" fill="#63f400"/>
<path d="M542.9 411.2h2.9v2.9h-2.9z" fill="#5bf400"/>
<path d="M545.5 411.2h2.9v2.9h-2.9z" fill="#51f300"/>
<path d="M548.1 411.2h2.9v2.9h-2.9z" fill="#44f200"/>
<path d="M550.7 411.2h2.9v2.9h-2.9z" fill="#37f200"/>
<path d="M553.3 411.2h2.9v2.9h-2.9z" fill="#2af300"/>
<path d="M555.9 411.2h2.9v2.9h-2.9z" fill="#1ef300"/>
<path d="M558.5 411.2h2.9v2.9h-2.9z" fill="#14f400"/>
<path d="M561.1 411.2h2.9v2.9h-2.9z" fill="#0df400"/>
<path d="M563.7 411.2h2.9v2.9h-2.9z" fill="#09f500"/>
<path d="M566.3 411.2h2.9v2.9h-2.9z" fill="#09f500"/>
<path d="M568.9 411.2h2.9v2.9h-2.9z" fill="#0bf400"/>
<path d="M571.5 411.2h2.9v2.9h-2.9z" fill="#0ef400"/>
<path d="M574.1 411.2h2.9v2.9h-2.9z" fill="#12f400"/>
<path d="M576.7 411.2h2.9v2.9h-2.9z" fill="#16f400"/>
<path d="M579.3 411.2h2.9v2.9h-2.9z" fill="#1bf400"/>
<path d="M581.9 411.2h2.9v2.9h-2.9z" fill="#21f300"/>
<path d="M584.5 411.2h2.9v2.9h-2.9z" fill="#27f300"/>
<path d="M587.1 411.2h2.9v2.9h-2.9z" fill="#2df300"/>
<path d="M589.7 411.2h2.9v2.9h-2.9z" fill="#32f300"/>
<path d="M592.3 411.2h2.9v2.9h-2.9z" fill="#35f200"/>
<path d="M594.9 411.2h2.9v2.9h-2.9z" fill="#38f200"/>
<path d="M597.5 411.2h2.9v2.9h-2.9z" fill="#3af200"/>
<path d="M600.1 411.2h2.9v2.9h-2.9z" fill="#3ff200"/>
<path d="M602.7 411.2h2.9v2.9h-2.9z" fill="#46f200"/>
<path d="M605.3 411.2h2.9v2.9h-2.9z" fill="#51f300"/>
<path d="M607.9 411.2h2.9v2.9h-2.9z" fill="#62f400"/>
<path d="M610.5 411.2h2.9v2.9h-2.9z" fill="#78f500"/>
<path d="M613.1 411.2h2.9v2.9h-2.9z" fill="#8cf600"/>
<path d="M615.7 411.2h2.9v2.9h-2.9z" fill="#a2f700"/>
<path d="M618.3 411.2h2.9v2.9h-2.9z" fill="#baf800"/>
<path d="M620.9 411.2h2.9v2.9h-2.9z" fill="#d3f600"/>
<path d="M623.5 411.2h2.9v2.9h-2.9z" fill="#ebf500"/>
<path d="M626.1 411.2h2.9v2.9h-2.9z" fill="#f6ef00"/>
<path d="M628.7 411.2h2.9v2.9h-2.9z" fill="#fde800"/>
<path d="M631.3 411.2h2.9v2.9h-2.9z" fill="#ffe200"/>
<path d="M633.9 411.2h2.9v2.9h-2.9z" fill="#ffe100"/>
<path d="M636.5 411.2h2.9v2.9h-2.9z" fill="#ffe400"/>
<path d="M639.1 411.2h2.9v2.9h-2.9z" fill="#fbea00"/>
<path d="M641.7 411.2h2.9v2.9h-2.9z" fill="#f4f100"/>
<path d="M644.3 411.2h2.9v2.9h-2.9z" fill="#e8f500"/>
<path d="M646.9 411.2h2.9v2.9h-2.9z" fill="#d7f600"/>
<path d="M649.5 411.2h2.9v2.9h-2.9z" fill="#c9f700"/>
<path d="M652.1 411.2h2.9v2.9h-2.9z" fill="#bef700"/>
<path d="M654.7 411.2h2.9v2.9h-2.9z" fill="#b6f800"/>
<path d="M657.3 411.2h2.9v2.9h-2.9z" fill="#b1f800"/>
<path d="M659.9 411.2h2.9v2.9h-2.9z" fill="#aef800"/>
<path d="M662.5 411.2h2.9v2.9h-2.9z" fill="#aef800"/>
<path d="M665.1 411.2h2.9v2.9h-2.9z" fill="#aff800"/>
<path d="M498.7 413.8h2.9v2.9h-2.9z" fill="#7ef500"/>
<path d="M501.3 413.8h2.9v2.9h-2.9z" fill="#79f500"/>
<path d="M503.9 413.8h2.9v2.9h-2.9z" fill="#72f500"/>
<path d="M506.5 413.8h2.9v2.9h-2.9z" fill="#6bf400"/>
<path d="M509.1 413.8h2.9v2.9h-2.9z" fill="#64f400"/>
<path d="M511.7 413.8h2.9v2.9h-2.9z" fill="#5ff400"/>
<path d="M514.3 413.8h2.9v2.9h-2.9z" fill="#5cf400"/>
<path d="M516.9 413.8h2.9v2.9h-2.9z" fill="#5ef400"/>
<path d="M519.5 413.8h2.9v2.9h-2.9z" fill="#63f400"/>
<path d="M522.1 413.8h2.9v2.9h-2.9z" fill="#6bf400"/>
<path d="M524.7 413.8h2.9v2.9h-2.9z" fill="#72f500"/>
<path d="M527.3 413.8h2.9v2.9h-2.9z" fill="#78f500"/>
<path d="M529.9 413.8h2.9v2.9h-2.9z" fill="#7cf500"/>
<path d="M532.5 413.8h2.9v2.9h-2.9z" fill="#7ef500"/>
<path d="M535.1 413.8h2.9v2.9h-2.9z" fill="#7ff500"/>
<path d="M537.7 413.8h2.9v2.9h-2.9z" fill="#7ef500"/>
<path d="M540.3 413.8h2.9v2.9h-2.9z" fill="#7af500"/>
<path d="M542.9 413.8h2.9v2.9h-2.9z" fill="#74f500"/>
<path d="M545.5 413.8h2.9v2.9h-2.9z" fill="#69f400"/>
<path d="M548.1 413.8h2.9v2.9h-2.9z" fill="#5cf400"/>
<path d="M550.7 413.8h2.9v2.9h-2.9z" fill="#4df300"/>
<path d="M553.3 413.8h2.9v2.9h-2.9z" fill="#3df200"/>
<path d="M555.9 413.8h2.9v2.9h-2.9z" fill="#30f300"/>
<path d="M558.5 413.8h2.9v2.9h-2.9z" fill="#25f300"/>
<path d="M561.1 413.8h2.9v2.9h-2.9z" fill="#1cf400"/>
<path d="M563.7 413.8h2.9v2.9h-2.9z" fill="#18f400"/>
<path d="M566.3 413.8h2.9v2.9h-2.9z" fill="#17f400"/>
<path d="M568.9 413.8h2.9v2.9h-2.9z" fill="#19f400"/>
<path d="M571.5 413.8h2.9v2.9h-2.9z" fill="#1cf400"/>
<path d="M574.1 413.8h2.9v2.9h-2.9z" fill="#21f300"/>
<path d="M576.7 413.8h2.9v2.9h-2.9z" fill="#27f300"/>
<path d="M579.3 413.8h2.9v2.9h-2.9z" fill="#2df300"/>
<path d="M581.9 413.8h2.9v2.9h-2.9z" fill="#35f200"/>
<path d="M584.5 413.8h2.9v2.9h-2.9z" fill="#3cf200"/>
<path d="M587.1 413.8h2.9v2.9h-2.9z" fill="#44f200"/>
<path d="M589.7 413.8h2.9v2.9h-2.9z" fill="#4af300"/>
<path d="M592.3 413.8h2.9v2.9h-2.9z" fill="#4ef300"/>
<path d="M594.9 413.8h2.9v2.9h-2.9z" fill="#51f300"/>
<path d="M597.5 413.8h2.9v2.9h-2.9z" fill="#54f300"/>
<path d="M600.1 413.8h2.9v2.9h-2.9z" fill="#58f300"/>
<path d="M602.7 413.8h2.9v2.9h-2.9z" fill="#5ef400"/>
<path d="M605.3 413.8h2.9v2.9h-2.9z" fill="#68f400"/>
<path d="M607.9 413.8h2.9v2.9h-2.9z" fill="#78f500"/>
<path d="M610.5 413.8h2.9v2.9h-2.9z" fill="#89f600"/>
<path d="M613.1 413.8h2.9v2.9h-2.9z" fill="#9df700"/>
<path d="M615.7 413.8h2.9v2.9h-2.9z" fill="#b3f800"/>
<path d="M618.3 413.8h2.9v2.9h-2.9z" fill="#ccf700"/>
<path d="M620.9 413.8h2.9v2.9h-2.9z" fill="#e3f600"/>
<path d="M623.5 413.8h2.9v2.9h-2.9z" fill="#f3f200"/>
<path d="M626.1 413.8h2.9v2.9h-2.9z" fill="#faeb00"/>
<path d="M628.7 413.8h2.9v2.9h-2.9z" fill="#ffe500"/>
<path d="M631.3 413.8h2.9v2.9h-2.9z" fill="#ffe100"/>
<path d="M633.9 413.8h2.9v2.9h-2.9z" fill="#ffe100"/>
<path d="M636.5 413.8h2.9v2.9h-2.9z" fill="#ffe600"/>
<path d="M639.1 413.8h2.9v2.9h-2.9z" fill="#f9ec00"/>
<path d="M641.7 413.8h2.9v2.9h-2.9z" fill="#f2f300"/>
<path d="M644.3 413.8h2.9v2.9h-2.9z" fill="#e3f600"/>
<path d="M646.9 413.8h2.9v2.9h-2.9z" fill="#d4f600"/>
<path d="M649.5 413.8h2.9v2.9h-2.9z" fill="#c7f700"/>
<path d="M652.1 413.8h2.9v2.9h-2.9z" fill="#bdf700"/>
<path d="M654.7 413.8h2.9v2.9h-2.9z" fill="#b6f800"/>
<path d="M657.3 413.8h2.9v2.9h-2.9z" fill="#b2f800"/>
<path d="M659.9 413.8h2.9v2.9h-2.9z" fill="#b1f800"/>
<path d="M662.5 413.8h2.9v2.9h-2.9z" fill="#b2f800"/>
<path d="M665.1 413.8h2.9v2.9h-2.9z" fill="#b4f800"/>
<path d="M498.7 416.4h2.9v2.9h-2.9z" fill="#7df500"/>
<path d="M501.3 416.4h2.9v2.9h-2.9z" fill="#79f500"/>
<path d="M503.9 416.4h2.9v2.9h-2.9z" fill="#73f500"/>
<path d="M506.5 416.4h2.9v2.9h-2.9z" fill="#6cf400"/>
<path d="M509.1 416.4h2.9v2.9h-2.9z" fill="#66f400"/>
<path d="M511.7 416.4h2.9v2.9h-2.9z" fill="#62f400"/>
<path d="M514.3 416.4h2.9v2.9h-2.9z" fill="#61f400"/>
<path d="M516.9 416.4h2.9v2.9h-2.9z" fill="#65f400"/>
<path d="M519.5 416.4h2.9v2.9h-2.9z" fill="#6df400"/>
<path d="M522.1 416.4h2.9v2.9h-2.9z" fill="#77f500"/>
<path d="M524.7 416.4h2.9v2.9h-2.9z" fill="#7ff500"/>
<path d="M527.3 416.4h2.9v2.9h-2.9z" fill="#85f600"/>
<path d="M529.9 416.4h2.9v2.9h-2.9z" fill="#8af600"/>
<path d="M532.5 416.4h2.9v2.9h-2.9z" fill="#8ef600"/>
<path d="M535.1 416.4h2.9v2.9h-2.9z" fill="#90f600"/>
<path d="M537.7 416.4h2.9v2.9h-2.9z" fill="#91f600"/>
<path d="M540.3 416.4h2.9v2.9h-2.9z" fill="#8ff600"/>
<path d="M542.9 416.4h2.9v2.9h-2.9z" fill="#8af600"/>
<path d="M545.5 416.4h2.9v2.9h-2.9z" fill="#82f600"/>
<path d="M548.1 416.4h2.9v2.9h-2.9z" fill="#76f500"/>
<path d="M550.7 416.4h2.9v2.9h-2.9z" fill="#67f400"/>
<path d="M553.3 416.4h2.9v2.9h-2.9z" fill="#56f300"/>
<path d="M555.9 416.4h2.9v2.9h-2.9z" fill="#46f300"/>
<path d="M558.5 416.4h2.9v2.9h-2.9z" fill="#39f200"/>
<path d="M561.1 416.4h2.9v2.9h-2.9z" fill="#30f300"/>
<path d="M563.7 416.4h2.9v2.9h-2.9z" fill="#2bf300"/>
<path d="M566.3 416.4h2.9v2.9h-2.9z" fill="#29f300"/>
<path d="M568.9 416.4h2.9v2.9h-2.9z" fill="#2af300"/>
<path d="M571.5 416.4h2.9v2.9h-2.9z" fill="#2ef300"/>
<path d="M574.1 416.4h2.9v2.9h-2.9z" fill="#33f200"/>
<path d="M576.7 416.4h2.9v2.9h-2.9z" fill="#3af200"/>
<path d="M579.3 416.4h2.9v2.9h-2.9z" fill="#42f200"/>
<path d="M581.9 416.4h2.9v2.9h-2.9z" fill="#4cf300"/>
<path d="M584.5 416.4h2.9v2.9h-2.9z" fill="#56f300"/>
<path d="M587.1 416.4h2.9v2.9h-2.9z" fill="#5ff400"/>
<path d="M589.7 416.4h2.9v2.9h-2.9z" fill="#66f400"/>
<path d="M592.3 416.4h2.9v2.9h-2.9z" fill="#6bf400"/>
<path d="M594.9 416.4h2.9v2.9h-2.9z" fill="#6ff500"/>
<path d="M597.5 416.4h2.9v2.9h-2.9z" fill="#73f500"/>
<path d="M600.1 416.4h2.9v2.9h-2.9z" fill="#77f500"/>
<path d="M602.7 416.4h2.9v2.9h-2.9z" fill="#7cf500"/>
<path d="M605.3 416.4h2.9v2.9h-2.9z" fill="#84f600"/>
<path d="M607.9 416.4h2.9v2.9h-2.9z" fill="#90f600"/>
<path d="M610.5 416.4h2.9v2.9h-2.9z" fill="#a0f700"/>
<path d="M613.1 416.4h2.9v2.9h-2.9z" fill="#b2f800"/>
<path d="M615.7 416.4h2.9v2.9h-2.9z" fill="#c7f700"/>
<path d="M618.3 416.4h2.9v2.9h-2.9z" fill="#dcf600"/>
<path d="M620.9 416.4h2.9v2.9h-2.9z" fill="#eff500"/>
<path d="M623.5 416.4h2.9v2.9h-2.9z" fill="#f6ef00"/>
<path d="M626.1 416.4h2.9v2.9h-2.9z" fill="#fce900"/>
<path d="M628.7 416.4h2.9v2.9h-2.9z" fill="#ffe600"/>
<path d="M631.3 416.4h2.9v2.9h-2.9z" fill="#ffe400"/>
<path d="M633.9 416.4h2.9v2.9h-2.9z" fill="#ffe600"/>
<path d="M636.5 416.4h2.9v2.9h-2.9z" fill="#fbea00"/>
<path d="M639.1 416.4h2.9v2.9h-2.9z" fill="#f5f000"/>
<path d="M641.7 416.4h2.9v2.9h-2.9z" fill="#ecf500"/>
<path d="M644.3 416.4h2.9v2.9h-2.9z" fill="#ddf600"/>
<path d="M646.9 416.4h2.9v2.9h-2.9z" fill="#d0f700"/>
<path d="M649.5 416.4h2.9v2.9h-2.9z" fill="#c5f700"/>
<path d="M652.1 416.4h2.9v2.9h-2.9z" fill="#bdf700"/>
<path d="M654.7 416.4h2.9v2.9h-2.9z" fill="#b8f800"/>
<path d="M657.3 416.4h2.9v2.9h-2.9z" fill="#b6f800"/>
<path d="M659.9 416.4h2.9v2.9h-2.9z" fill="#b6f800"/>
<path d="M662.5 416.4h2.9v2.9h-2.9z" fill="#b8f800"/>
<path d="M665.1 416.4h2.9v2.9h-2.9z" fill="#bcf700"/>
<path d="M498.7 419h2.9v2.9h-2.9z" fill="#7ef500"/>
<path d="M501.3 419h2.9v2.9h-2.9z" fill="#7bf500"/>
<path d="M503.9 419h2.9v2.9h-2.9z" fill="#76f500"/>
<path d="M506.5 419h2.9v2.9h-2.9z" fill="#71f500"/>
<path d="M509.1 419h2.9v2.9h-2.9z" fill="#6cf400"/>
<path d="M511.7 419h2.9v2.9h-2.9z" fill="#69f400"/>
<path d="M514.3 419h2.9v2.9h-2.9z" fill="#6af400"/>
<path d="M516.9 419h2.9v2.9h-2.9z" fill="#70f500"/>
<path d="M519.5 419h2.9v2.9h-2.9z" fill="#7af500"/>
<path d="M522.1 419h2.9v2.9h-2.9z" fill="#82f600"/>
<path d="M524.7 419h2.9v2.9h-2.9z" fill="#8af600"/>
<path d="M527.3 419h2.9v2.9h-2.9z" fill="#91f600"/>
<path d="M529.9 419h2.9v2.9h-2.9z" fill="#97f700"/>
<path d="M532.5 419h2.9v2.9h-2.9z" fill="#9df700"/>
<path d="M535.1 419h2.9v2.9h-2.9z" fill="#a1f700"/>
<path d="M537.7 419h2.9v2.9h-2.9z" fill="#a4f700"/>
<path d="M540.3 419h2.9v2.9h-2.9z" fill="#a4f700"/>
<path d="M542.9 419h2.9v2.9h-2.9z" fill="#a0f700"/>
<path d="M545.5 419h2.9v2.9h-2.9z" fill="#98f700"/>
<path d="M548.1 419h2.9v2.9h-2.9z" fill="#8df600"/>
<path d="M550.7 419h2.9v2.9h-2.9z" fill="#80f500"/>
<path d="M553.3 419h2.9v2.9h-2.9z" fill="#71f500"/>
<path d="M555.9 419h2.9v2.9h-2.9z" fill="#60f400"/>
<path d="M558.5 419h2.9v2.9h-2.9z" fill="#53f300"/>
<path d="M561.1 419h2.9v2.9h-2.9z" fill="#48f300"/>
<path d="M563.7 419h2.9v2.9h-2.9z" fill="#41f200"/>
<path d="M566.3 419h2.9v2.9h-2.9z" fill="#3ef200"/>
<path d="M568.9 419h2.9v2.9h-2.9z" fill="#3ff200"/>
<path d="M571.5 419h2.9v2.9h-2.9z" fill="#42f200"/>
<path d="M574.1 419h2.9v2.9h-2.9z" fill="#48f300"/>
<path d="M576.7 419h2.9v2.9h-2.9z" fill="#50f300"/>
<path d="M579.3 419h2.9v2.9h-2.9z" fill="#59f300"/>
<path d="M581.9 419h2.9v2.9h-2.9z" fill="#64f400"/>
<path d="M584.5 419h2.9v2.9h-2.9z" fill="#6ff500"/>
<path d="M587.1 419h2.9v2.9h-2.9z" fill="#79f500"/>
<path d="M589.7 419h2.9v2.9h-2.9z" fill="#7ff500"/>
<path d="M592.3 419h2.9v2.9h-2.9z" fill="#85f600"/>
<path d="M594.9 419h2.9v2.9h-2.9z" fill="#8bf600"/>
<path d="M597.5 419h2.9v2.9h-2.9z" fill="#90f600"/>
<path d="M600.1 419h2.9v2.9h-2.9z" fill="#96f700"/>
<path d="M602.7 419h2.9v2.9h-2.9z" fill="#9cf700"/>
<path d="M605.3 419h2.9v2.9h-2.9z" fill="#a5f700"/>
<path d="M607.9 419h2.9v2.9h-2.9z" fill="#aff800"/>
<path d="M610.5 419h2.9v2.9h-2.9z" fill="#bdf700"/>
<path d="M613.1 419h2.9v2.9h-2.9z" fill="#ccf700"/>
<path d="M615.7 419h2.9v2.9h-2.9z" fill="#dbf600"/>
<path d="M618.3 419h2.9v2.9h-2.9z" fill="#ebf500"/>
<path d="M620.9 419h2.9v2.9h-2.9z" fill="#f4f100"/>
<path d="M623.5 419h2.9v2.9h-2.9z" fill="#f8ed00"/>
<path d="M626.1 419h2.9v2.9h-2.9z" fill="#fbea00"/>
<path d="M628.7 419h2.9v2.9h-2.9z" fill="#fde800"/>
<path d="M631.3 419h2.9v2.9h-2.9z" fill="#fde800"/>
<path d="M633.9 419h2.9v2.9h-2.9z" fill="#faeb00"/>
<path d="M636.5 419h2.9v2.9h-2.9z" fill="#f6ef00"/>
<path d="M639.1 419h2.9v2.9h-2.9z" fill="#f0f500"/>
<path d="M641.7 419h2.9v2.9h-2.9z" fill="#e3f600"/>
<path d="M644.3 419h2.9v2.9h-2.9z" fill="#d7f600"/>
<path d="M646.9 419h2.9v2.9h-2.9z" fill="#cdf700"/>
<path d="M649.5 419h2.9v2.9h-2.9z" fill="#c5f700"/>
<path d="M652.1 419h2.9v2.9h-2.9z" fill="#c0f700"/>
<path d="M654.7 419h2.9v2.9h-2.9z" fill="#bdf700"/>
<path d="M657.3 419h2.9v2.9h-2.9z" fill="#bdf700"/>
<path d="M659.9 419h2.9v2.9h-2.9z" fill="#bff700"/>
<path d="M662.5 419h2.9v2.9h-2.9z" fill="#c2f700"/>
<path d="M665.1 419h2.9v2.9h-2.9z" fill="#c6f700"/>
<path d="M498.7 421.6h2.9v2.9h-2.9z" fill="#81f500"/>
<path d="M501.3 421.6h2.9v2.9h-2.9z" fill="#7ef500"/>
<path d="M503.9 421.6h2.9v2.9h-2.9z" fill="#7bf500"/>
<path d="M506.5 421.6h2.9v2.9h-2.9z" fill="#77f500"/>
<path d="M509.1 421.6h2.9v2.9h-2.9z" fill="#73f500"/>
<path d="M511.7 421.6h2.9v2.9h-2.9z" fill="#72f500"/>
<path d="M514.3 421.6h2.9v2.9h-2.9z" fill="#74f500"/>
<path d="M516.9 421.6h2.9v2.9h-2.9z" fill="#7af500"/>
<path d="M519.5 421.6h2.9v2.9h-2.9z" fill="#82f600"/>
<path d="M522.1 421.6h2.9v2.9h-2.9z" fill="#8bf600"/>
<path d="M524.7 421.6h2.9v2.9h-2.9z" fill="#93f600"/>
<path d="M527.3 421.6h2.9v2.9h-2.9z" fill="#9af700"/>
<path d="M529.9 421.6h2.9v2.9h-2.9z" fill="#a2f700"/>
<path d="M532.5 421.6h2.9v2.9h-2.9z" fill="#aaf800"/>
<path d="M535.1 421.6h2.9v2.9h-2.9z" fill="#b1f800"/>
<path d="M537.7 421.6h2.9v2.9h-2.9z" fill="#b6f800"/>
<path d="M540.3 421.6h2.9v2.9h-2.9z" fill="#b8f800"/>
<path d="M542.9 421.6h2.9v2.9h-2.9z" fill="#b4f800"/>
<path d="M545.5 421.6h2.9v2.9h-2.9z" fill="#acf800"/>
<path d="M548.1 421.6h2.9v2.9h-2.9z" fill="#a1f700"/>
<path d="M550.7 421.6h2.9v2.9h-2.9z" fill="#94f600"/>
<path d="M553.3 421.6h2.9v2.9h-2.9z" fill="#86f600"/>
<path d="M555.9 421.6h2.9v2.9h-2.9z" fill="#7af500"/>
<path d="M558.5 421.6h2.9v2.9h-2.9z" fill="#6cf400"/>
<path d="M561.1 421.6h2.9v2.9h-2.9z" fill="#62f400"/>
<path d="M563.7 421.6h2.9v2.9h-2.9z" fill="#5bf400"/>
<path d="M566.3 421.6h2.9v2.9h-2.9z" fill="#57f300"/>
<path d="M568.9 421.6h2.9v2.9h-2.9z" fill="#57f300"/>
<path d="M571.5 421.6h2.9v2.9h-2.9z" fill="#5af300"/>
<path d="M574.1 421.6h2.9v2.9h-2.9z" fill="#5ff400"/>
<path d="M576.7 421.6h2.9v2.9h-2.9z" fill="#66f400"/>
<path d="M579.3 421.6h2.9v2.9h-2.9z" fill="#6ff500"/>
<path d="M581.9 421.6h2.9v2.9h-2.9z" fill="#79f500"/>
<path d="M584.5 421.6h2.9v2.9h-2.9z" fill="#81f600"/>
<path d="M587.1 421.6h2.9v2.9h-2.9z" fill="#8af600"/>
<path d="M589.7 421.6h2.9v2.9h-2.9z" fill="#92f600"/>
<path d="M592.3 421.6h2.9v2.9h-2.9z" fill="#9bf700"/>
<path d="M594.9 421.6h2.9v2.9h-2.9z" fill="#a4f700"/>
<path d="M597.5 421.6h2.9v2.9h-2.9z" fill="#adf800"/>
<path d="M600.1 421.6h2.9v2.9h-2.9z" fill="#b9f800"/>
<path d="M602.7 421.6h2.9v2.9h-2.9z" fill="#c5f700"/>
<path d="M605.3 421.6h2.9v2.9h-2.9z" fill="#d0f600"/>
<path d="M607.9 421.6h2.9v2.9h-2.9z" fill="#daf600"/>
<path d="M610.5 421.6h2.9v2.9h-2.9z" fill="#e1f600"/>
<path d="M613.1 421.6h2.9v2.9h-2.9z" fill="#e7f500"/>
<path d="M615.7 421.6h2.9v2.9h-2.9z" fill="#edf500"/>
<path d="M618.3 421.6h2.9v2.9h-2.9z" fill="#f2f300"/>
<path d="M620.9 421.6h2.9v2.9h-2.9z" fill="#f5f000"/>
<path d="M623.5 421.6h2.9v2.9h-2.9z" fill="#f8ed00"/>
<path d="M626.1 421.6h2.9v2.9h-2.9z" fill="#faeb00"/>
<path d="M628.7 421.6h2.9v2.9h-2.9z" fill="#faeb00"/>
<path d="M631.3 421.6h2.9v2.9h-2.9z" fill="#f9ec00"/>
<path d="M633.9 421.6h2.9v2.9h-2.9z" fill="#f6ef00"/>
<path d="M636.5 421.6h2.9v2.9h-2.9z" fill="#f2f300"/>
<path d="M639.1 421.6h2.9v2.9h-2.9z" fill="#e8f500"/>
<path d="M641.7 421.6h2.9v2.9h-2.9z" fill="#ddf600"/>
<path d="M644.3 421.6h2.9v2.9h-2.9z" fill="#d3f600"/>
<path d="M646.9 421.6h2.9v2.9h-2.9z" fill="#ccf700"/>
<path d="M649.5 421.6h2.9v2.9h-2.9z" fill="#c8f700"/>
<path d="M652.1 421.6h2.9v2.9h-2.9z" fill="#c6f700"/>
<path d="M654.7 421.6h2.9v2.9h-2.9z" fill="#c6f700"/>
<path d="M657.3 421.6h2.9v2.9h-2.9z" fill="#c8f700"/>
<path d="M659.9 421.6h2.9v2.9h-2.9z" fill="#cbf700"/>
<path d="M662.5 421.6h2.9v2.9h-2.9z" fill="#cff700"/>
<path d="M665.1 421.6h2.9v2.9h-2.9z" fill="#d3f600"/>
<path d="M498.7 424.2h2.9v2.9h-2.9z" fill="#84f600"/>
<path d="M501.3 424.2h2.9v2.9h-2.9z" fill="#82f600"/>
<path d="M503.9 424.2h2.9v2.9h-2.9z" fill="#80f500"/>
<path d="M506.5 424.2h2.9v2.9h-2.9z" fill="#7df500"/>
<path d="M509.1 424.2h2.9v2.9h-2.9z" fill="#7bf500"/>
<path d="M511.7 424.2h2.9v2.9h-2.9z" fill="#7af500"/>
<path d="M514.3 424.2h2.9v2.9h-2.9z" fill="#7bf500"/>
<path d="M516.9 424.2h2.9v2.9h-2.9z" fill="#80f500"/>
<path d="M519.5 424.2h2.9v2.9h-2.9z" fill="#87f600"/>
<path d="M522.1 424.2h2.9v2.9h-2.9z" fill="#90f600"/>
<path d="M524.7 424.2h2.9v2.9h-2.9z" fill="#98f700"/>
<path d="M527.3 424.2h2.9v2.9h-2.9z" fill="#a1f700"/>
<path d="M529.9 424.2h2.9v2.9h-2.9z" fill="#aaf800"/>
<path d="M532.5 424.2h2.9v2.9h-2.9z" fill="#b5f800"/>
<path d="M535.1 424.2h2.9v2.9h-2.9z" fill="#bff700"/>
<path d="M537.7 424.2h2.9v2.9h-2.9z" fill="#c7f700"/>
<path d="M540.3 424.2h2.9v2.9h-2.9z" fill="#caf700"/>
<path d="M542.9 424.2h2.9v2.9h-2.9z" fill="#c8f700"/>
<path d="M545.5 424.2h2.9v2.9h-2.9z" fill="#bff700"/>
<path d="M548.1 424.2h2.9v2.9h-2.9z" fill="#b3f800"/>
<path d="M550.7 424.2h2.9v2.9h-2.9z" fill="#a6f700"/>
<path d="M553.3 424.2h2.9v2.9h-2.9z" fill="#98f700"/>
<path d="M555.9 424.2h2.9v2.9h-2.9z" fill="#8cf600"/>
<path d="M558.5 424.2h2.9v2.9h-2.9z" fill="#82f600"/>
<path d="M561.1 424.2h2.9v2.9h-2.9z" fill="#7af500"/>
<path d="M563.7 424.2h2.9v2.9h-2.9z" fill="#73f500"/>
<path d="M566.3 424.2h2.9v2.9h-2.9z" fill="#6ff500"/>
<path d="M568.9 424.2h2.9v2.9h-2.9z" fill="#6ef500"/>
<path d="M571.5 424.2h2.9v2.9h-2.9z" fill="#70f500"/>
<path d="M574.1 424.2h2.9v2.9h-2.9z" fill="#74f500"/>
<path d="M576.7 424.2h2.9v2.9h-2.9z" fill="#79f500"/>
<path d="M579.3 424.2h2.9v2.9h-2.9z" fill="#7ff500"/>
<path d="M581.9 424.2h2.9v2.9h-2.9z" fill="#87f600"/>
<path d="M584.5 424.2h2.9v2.9h-2.9z" fill="#8ff600"/>
<path d="M587.1 424.2h2.9v2.9h-2.9z" fill="#98f700"/>
<path d="M589.7 424.2h2.9v2.9h-2.9z" fill="#a1f700"/>
<path d="M592.3 424.2h2.9v2.9h-2.9z" fill="#acf800"/>
<path d="M594.9 424.2h2.9v2.9h-2.9z" fill="#baf800"/>
<path d="M597.5 424.2h2.9v2.9h-2.9z" fill="#cbf700"/>
<path d="M600.1 424.2h2.9v2.9h-2.9z" fill="#ddf600"/>
<path d="M602.7 424.2h2.9v2.9h-2.9z" fill="#eff500"/>
<path d="M605.3 424.2h2.9v2.9h-2.9z" fill="#f5f000"/>
<path d="M607.9 424.2h2.9v2.9h-2.9z" fill="#f8ed00"/>
<path d="M610.5 424.2h2.9v2.9h-2.9z" fill="#f8ed00"/>
<path d="M613.1 424.2h2.9v2.9h-2.9z" fill="#f6ef00"/>
<path d="M615.7 424.2h2.9v2.9h-2.9z" fill="#f5f000"/>
<path d="M618.3 424.2h2.9v2.9h-2.9z" fill="#f4f100"/>
<path d="M620.9 424.2h2.9v2.9h-2.9z" fill="#f5f000"/>
<path d="M623.5 424.2h2.9v2.9h-2.9z" fill="#f6ef00"/>
<path d="M626.1 424.2h2.9v2.9h-2.9z" fill="#f7ee00"/>
<path d="M628.7 424.2h2.9v2.9h-2.9z" fill="#f7ee00"/>
<path d="M631.3 424.2h2.9v2.9h-2.9z" fill="#f5f000"/>
<path d="M633.9 424.2h2.9v2.9h-2.9z" fill="#f3f200"/>
<path d="M636.5 424.2h2.9v2.9h-2.9z" fill="#eef500"/>
<path d="M639.1 424.2h2.9v2.9h-2.9z" fill="#e4f600"/>
<path d="M641.7 424.2h2.9v2.9h-2.9z" fill="#daf600"/>
<path d="M644.3 424.2h2.9v2.9h-2.9z" fill="#d3f600"/>
<path d="M646.9 424.2h2.9v2.9h-2.9z" fill="#cff700"/>
<path d="M649.5 424.2h2.9v2.9h-2.9z" fill="#cff700"/>
<path d="M652.1 424.2h2.9v2.9h-2.9z" fill="#d0f700"/>
<path d="M654.7 424.2h2.9v2.9h-2.9z" fill="#d3f600"/>
<path d="M657.3 424.2h2.9v2.9h-2.9z" fill="#d6f600"/>
<path d="M659.9 424.2h2.9v2.9h-2.9z" fill="#daf600"/>
<path d="M662.5 424.2h2.9v2.9h-2.9z" fill="#dff600"/>
<path d="M665.1 424.2h2.9v2.9h-2.9z" fill="#e3f600"/>
<path d="M498.7 426.8h2.9v2.9h-2.9z" fill="#86f600"/>
<path d="M501.3 426.8h2.9v2.9h-2.9z" fill="#86f600"/>
<path d="M503.9 426.8h2.9v2.9h-2.9z" fill="#85f600"/>
<path d="M506.5 426.8h2.9v2.9h-2.9z" fill="#83f600"/>
<path d="M509.1 426.8h2.9v2.9h-2.9z" fill="#81f500"/>
<path d="M511.7 426.8h2.9v2.9h-2.9z" fill="#80f500"/>
<path d="M514.3 426.8h2.9v2.9h-2.9z" fill="#80f500"/>
<path d="M516.9 426.8h2.9v2.9h-2.9z" fill="#84f600"/>
<path d="M519.5 426.8h2.9v2.9h-2.9z" fill="#8bf600"/>
<path d="M522.1 426.8h2.9v2.9h-2.9z" fill="#93f600"/>
<path d="M524.7 426.8h2.9v2.9h-2.9z" fill="#9cf700"/>
<path d="M527.3 426.8h2.9v2.9h-2.9z" fill="#a6f700"/>
<path d="M529.9 426.8h2.9v2.9h-2.9z" fill="#b1f800"/>
<path d="M532.5 426.8h2.9v2.9h-2.9z" fill="#bdf700"/>
<path d="M535.1 426.8h2.9v2.9h-2.9z" fill="#c9f700"/>
<path d="M537.7 426.8h2.9v2.9h-2.9z" fill="#d3f600"/>
<path d="M540.3 426.8h2.9v2.9h-2.9z" fill="#d7f600"/>
<path d="M542.9 426.8h2.9v2.9h-2.9z" fill="#d5f600"/>
<path d="M545.5 426.8h2.9v2.9h-2.9z" fill="#cef700"/>
<path d="M548.1 426.8h2.9v2.9h-2.9z" fill="#c2f700"/>
<path d="M550.7 426.8h2.9v2.9h-2.9z" fill="#b4f800"/>
<path d="M553.3 426.8h2.9v2.9h-2.9z" fill="#a7f800"/>
<path d="M555.9 426.8h2.9v2.9h-2.9z" fill="#9bf700"/>
<path d="M558.5 426.8h2.9v2.9h-2.9z" fill="#92f600"/>
<path d="M561.1 426.8h2.9v2.9h-2.9z" fill="#8bf600"/>
<path d="M563.7 426.8h2.9v2.9h-2.9z" fill="#86f600"/>
<path d="M566.3 426.8h2.9v2.9h-2.9z" fill="#83f600"/>
<path d="M568.9 426.8h2.9v2.9h-2.9z" fill="#82f600"/>
<path d="M571.5 426.8h2.9v2.9h-2.9z" fill="#83f600"/>
<path d="M574.1 426.8h2.9v2.9h-2.9z" fill="#84f600"/>
<path d="M576.7 426.8h2.9v2.9h-2.9z" fill="#87f600"/>
<path d="M579.3 426.8h2.9v2.9h-2.9z" fill="#8cf600"/>
<path d="M581.9 426.8h2.9v2.9h-2.9z" fill="#92f600"/>
<path d="M584.5 426.8h2.9v2.9h-2.9z" fill="#99f700"/>
<path d="M587.1 426.8h2.9v2.9h-2.9z" fill="#a1f700"/>
<path d="M589.7 426.8h2.9v2.9h-2.9z" fill="#acf800"/>
<path d="M592.3 426.8h2.9v2.9h-2.9z" fill="#baf800"/>
<path d="M594.9 426.8h2.9v2.9h-2.9z" fill="#cbf700"/>
<path d="M597.5 426.8h2.9v2.9h-2.9z" fill="#e0f600"/>
<path d="M600.1 426.8h2.9v2.9h-2.9z" fill="#f3f200"/>
<path d="M602.7 426.8h2.9v2.9h-2.9z" fill="#fce900"/>
<path d="M605.3 426.8h2.9v2.9h-2.9z" fill="#ffe000"/>
<path d="M607.9 426.8h2.9v2.9h-2.9z" fill="#ffdd00"/>
<path d="M610.5 426.8h2.9v2.9h-2.9z" fill="#ffe100"/>
<path d="M613.1 426.8h2.9v2.9h-2.9z" fill="#fee700"/>
<path d="M615.7 426.8h2.9v2.9h-2.9z" fill="#f8ed00"/>
<path d="M618.3 426.8h2.9v2.9h-2.9z" fill="#f5f000"/>
<path d="M620.9 426.8h2.9v2.9h-2.9z" fill="#f3f200"/>
<path d="M623.5 426.8h2.9v2.9h-2.9z" fill="#f3f200"/>
<path d="M626.1 426.8h2.9v2.9h-2.9z" fill="#f3f200"/>
<path d="M628.7 426.8h2.9v2.9h-2.9z" fill="#f3f200"/>
<path d="M631.3 426.8h2.9v2.9h-2.9z" fill="#f2f300"/>
<path d="M633.9 426.8h2.9v2.9h-2.9z" fill="#f0f500"/>
<path d="M636.5 426.8h2.9v2.9h-2.9z" fill="#ebf500"/>
<path d="M639.1 426.8h2.9v2.9h-2.9z" fill="#e3f600"/>
<path d="M641.7 426.8h2.9v2.9h-2.9z" fill="#dcf600"/>
<path d="M644.3 426.8h2.9v2.9h-2.9z" fill="#d7f600"/>
<path d="M646.9 426.8h2.9v2.9h-2.9z" fill="#d6f600"/>
<path d="M649.5 426.8h2.9v2.9h-2.9z" fill="#d8f600"/>
<path d="M652.1 426.8h2.9v2.9h-2.9z" fill="#dcf600"/>
<path d="M654.7 426.8h2.9v2.9h-2.9z" fill="#e2f600"/>
<path d="M657.3 426.8h2.9v2.9h-2.9z" fill="#e7f500"/>
<path d="M659.9 426.8h2.9v2.9h-2.9z" fill="#ecf500"/>
<path d="M662.5 426.8h2.9v2.9h-2.9z" fill="#f0f500"/>
<path d="M665.1 426.8h2.9v2.9h-2.9z" fill="#f1f400"/>
<path d="M498.7 429.4h2.9v2.9h-2.9z" fill="#89f600"/>
<path d="M501.3 429.4h2.9v2.9h-2.9z" fill="#89f600"/>
<path d="M503.9 429.4h2.9v2.9h-2.9z" fill="#89f600"/>
<path d="M506.5 429.4h2.9v2.9h-2.9z" fill="#88f600"/>
<path d="M509.1 429.4h2.9v2.9h-2.9z" fill="#86f600"/>
<path d="M511.7 429.4h2.9v2.9h-2.9z" fill="#85f600"/>
<path d="M514.3 429.4h2.9v2.9h-2.9z" fill="#86f600"/>
<path d="M516.9 429.4h2.9v2.9h-2.9z" fill="#89f600"/>
<path d="M519.5 429.4h2.9v2.9h-2.9z" fill="#8ff600"/>
<path d="M522.1 429.4h2.9v2.9h-2.9z" fill="#98f700"/>
<path d="M524.7 429.4h2.9v2.9h-2.9z" fill="#a1f700"/>
<path d="M527.3 429.4h2.9v2.9h-2.9z" fill="#acf800"/>
<path d="M529.9 429.4h2.9v2.9h-2.9z" fill="#b8f800"/>
<path d="M532.5 429.4h2.9v2.9h-2.9z" fill="#c5f700"/>
<path d="M535.1 429.4h2.9v2.9h-2.9z" fill="#d1f600"/>
<path d="M537.7 429.4h2.9v2.9h-2.9z" fill="#dbf600"/>
<path d="M540.3 429.4h2.9v2.9h-2.9z" fill="#e0f600"/>
<path d="M542.9 429.4h2.9v2.9h-2.9z" fill="#def600"/>
<path d="M545.5 429.4h2.9v2.9h-2.9z" fill="#d7f600"/>
<path d="M548.1 429.4h2.9v2.9h-2.9z" fill="#cbf700"/>
<path d="M550.7 429.4h2.9v2.9h-2.9z" fill="#bef700"/>
<path d="M553.3 429.4h2.9v2.9h-2.9z" fill="#b1f800"/>
<path d="M555.9 429.4h2.9v2.9h-2.9z" fill="#a7f700"/>
<path d="M558.5 429.4h2.9v2.9h-2.9z" fill="#9ef700"/>
<path d="M561.1 429.4h2.9v2.9h-2.9z" fill="#98f700"/>
<path d="M563.7 429.4h2.9v2.9h-2.9z" fill="#95f700"/>
<path d="M566.3 429.4h2.9v2.9h-2.9z" fill="#93f600"/>
<path d="M568.9 429.4h2.9v2.9h-2.9z" fill="#92f600"/>
<path d="M571.5 429.4h2.9v2.9h-2.9z" fill="#92f600"/>
<path d="M574.1 429.4h2.9v2.9h-2.9z" fill="#93f600"/>
<path d="M576.7 429.4h2.9v2.9h-2.9z" fill="#94f600"/>
<path d="M579.3 429.4h2.9v2.9h-2.9z" fill="#96f700"/>
<path d="M581.9 429.4h2.9v2.9h-2.9z" fill="#9af700"/>
<path d="M584.5 429.4h2.9v2.9h-2.9z" fill="#9ff700"/>
<path d="M587.1 429.4h2.9v2.9h-2.9z" fill="#a7f800"/>
<path d="M589.7 429.4h2.9v2.9h-2.9z" fill="#b1f800"/>
<path d="M592.3 429.4h2.9v2.9h-2.9z" fill="#c0f700"/>
<path d="M594.9 429.4h2.9v2.9h-2.9z" fill="#d2f600"/>
<path d="M597.5 429.4h2.9v2.9h-2.9z" fill="#e7f500"/>
<path d="M600.1 429.4h2.9v2.9h-2.9z" fill="#f7ee00"/>
<path d="M602.7 429.4h2.9v2.9h-2.9z" fill="#ffe400"/>
<path d="M605.3 429.4h2.9v2.9h-2.9z" fill="#ffda00"/>
<path d="M607.9 429.4h2.9v2.9h-2.9z" fill="#ffd700"/>
<path d="M610.5 429.4h2.9v2.9h-2.9z" fill="#ffdc00"/>
<path d="M613.1 429.4h2.9v2.9h-2.9z" fill="#ffe500"/>
<path d="M615.7 429.4h2.9v2.9h-2.9z" fill="#f9ec00"/>
<path d="M618.3 429.4h2.9v2.9h-2.9z" fill="#f4f100"/>
<path d="M620.9 429.4h2.9v2.9h-2.9z" fill="#f1f400"/>
<path d="M623.5 429.4h2.9v2.9h-2.9z" fill="#f0f500"/>
<path d="M626.1 429.4h2.9v2.9h-2.9z" fill="#f0f500"/>
<path d="M628.7 429.4h2.9v2.9h-2.9z" fill="#f0f500"/>
<path d="M631.3 429.4h2.9v2.9h-2.9z" fill="#f0f500"/>
<path d="M633.9 429.4h2.9v2.9h-2.9z" fill="#eff500"/>
<path d="M636.5 429.4h2.9v2.9h-2.9z" fill="#ebf500"/>
<path d="M639.1 429.4h2.9v2.9h-2.9z" fill="#e6f500"/>
<path d="M641.7 429.4h2.9v2.9h-2.9z" fill="#e1f600"/>
<path d="M644.3 429.4h2.9v2.9h-2.9z" fill="#dff600"/>
<path d="M646.9 429.4h2.9v2.9h-2.9z" fill="#e0f600"/>
<path d="M649.5 429.4h2.9v2.9h-2.9z" fill="#e4f600"/>
<path d="M652.1 429.4h2.9v2.9h-2.9z" fill="#ebf500"/>
<path d="M654.7 429.4h2.9v2.9h-2.9z" fill="#f1f400"/>
<path d="M657.3 429.4h2.9v2.9h-2.9z" fill="#f3f200"/>
<path d="M659.9 429.4h2.9v2.9h-2.9z" fill="#f6ef00"/>
<path d="M662.5 429.4h2.9v2.9h-2.9z" fill="#f7ee00"/>
<path d="M665.1 429.4h2.9v2.9h-2.9z" fill="#f9ec00"/>
<path d="M498.7 432h2.9v2.9h-2.9z" fill="#8af600"/>
<path d="M501.3 432h2.9v2.9h-2.9z" fill="#8bf600"/>
<path d="M503.9 432h2.9v2.9h-2.9z" fill="#8cf600"/>
<path d="M506.5 432h2.9v2.9h-2.9z" fill="#8cf600"/>
<path d="M509.1 432h2.9v2.9h-2.9z" fill="#8cf600"/>
<path d="M511.7 432h2.9v2.9h-2.9z" fill="#8cf600"/>
<path d="M514.3 432h2.9v2.9h-2.9z" fill="#8ef600"/>
<path d="M516.9 432h2.9v2.9h-2.9z" fill="#92f600"/>
<path d="M519.5 432h2.9v2.9h-2.9z" fill="#9af700"/>
<path d="M522.1 432h2.9v2.9h-2.9z" fill="#a3f700"/>
<path d="M524.7 432h2.9v2.9h-2.9z" fill="#adf800"/>
<path d="M527.3 432h2.9v2.9h-2.9z" fill="#b8f800"/>
<path d="M529.9 432h2.9v2.9h-2.9z" fill="#c3f700"/>
<path d="M532.5 432h2.9v2.9h-2.9z" fill="#cff700"/>
<path d="M535.1 432h2.9v2.9h-2.9z" fill="#dbf600"/>
<path d="M537.7 432h2.9v2.9h-2.9z" fill="#e3f600"/>
<path d="M540.3 432h2.9v2.9h-2.9z" fill="#e7f500"/>
<path d="M542.9 432h2.9v2.9h-2.9z" fill="#e4f600"/>
<path d="M545.5 432h2.9v2.9h-2.9z" fill="#dcf600"/>
<path d="M548.1 432h2.9v2.9h-2.9z" fill="#d1f600"/>
<path d="M550.7 432h2.9v2.9h-2.9z" fill="#c4f700"/>
<path d="M553.3 432h2.9v2.9h-2.9z" fill="#b8f800"/>
<path d="M555.9 432h2.9v2.9h-2.9z" fill="#aef800"/>
<path d="M558.5 432h2.9v2.9h-2.9z" fill="#a7f700"/>
<path d="M561.1 432h2.9v2.9h-2.9z" fill="#a2f700"/>
<path d="M563.7 432h2.9v2.9h-2.9z" fill="#a1f700"/>
<path d="M566.3 432h2.9v2.9h-2.9z" fill="#a1f700"/>
<path d="M568.9 432h2.9v2.9h-2.9z" fill="#a1f700"/>
<path d="M571.5 432h2.9v2.9h-2.9z" fill="#a0f700"/>
<path d="M574.1 432h2.9v2.9h-2.9z" fill="#9ff700"/>
<path d="M576.7 432h2.9v2.9h-2.9z" fill="#9ef700"/>
<path d="M579.3 432h2.9v2.9h-2.9z" fill="#9ef700"/>
<path d="M581.9 432h2.9v2.9h-2.9z" fill="#9ff700"/>
<path d="M584.5 432h2.9v2.9h-2.9z" fill="#a2f700"/>
<path d="M587.1 432h2.9v2.9h-2.9z" fill="#a8f800"/>
<path d="M589.7 432h2.9v2.9h-2.9z" fill="#b1f800"/>
<path d="M592.3 432h2.9v2.9h-2.9z" fill="#bdf700"/>
<path d="M594.9 432h2.9v2.9h-2.9z" fill="#cef700"/>
<path d="M597.5 432h2.9v2.9h-2.9z" fill="#e1f600"/>
<path d="M600.1 432h2.9v2.9h-2.9z" fill="#f3f200"/>
<path d="M602.7 432h2.9v2.9h-2.9z" fill="#fce900"/>
<path d="M605.3 432h2.9v2.9h-2.9z" fill="#ffe200"/>
<path d="M607.9 432h2.9v2.9h-2.9z" fill="#ffdf00"/>
<path d="M610.5 432h2.9v2.9h-2.9z" fill="#ffe200"/>
<path d="M613.1 432h2.9v2.9h-2.9z" fill="#fce900"/>
<path d="M615.7 432h2.9v2.9h-2.9z" fill="#f6ef00"/>
<path d="M618.3 432h2.9v2.9h-2.9z" fill="#f1f400"/>
<path d="M620.9 432h2.9v2.9h-2.9z" fill="#edf500"/>
<path d="M623.5 432h2.9v2.9h-2.9z" fill="#eaf500"/>
<path d="M626.1 432h2.9v2.9h-2.9z" fill="#e9f500"/>
<path d="M628.7 432h2.9v2.9h-2.9z" fill="#eaf500"/>
<path d="M631.3 432h2.9v2.9h-2.9z" fill="#ecf500"/>
<path d="M633.9 432h2.9v2.9h-2.9z" fill="#eef500"/>
<path d="M636.5 432h2.9v2.9h-2.9z" fill="#edf500"/>
<path d="M639.1 432h2.9v2.9h-2.9z" fill="#ecf500"/>
<path d="M641.7 432h2.9v2.9h-2.9z" fill="#e9f500"/>
<path d="M644.3 432h2.9v2.9h-2.9z" fill="#e9f500"/>
<path d="M646.9 432h2.9v2.9h-2.9z" fill="#ebf500"/>
<path d="M649.5 432h2.9v2.9h-2.9z" fill="#f0f500"/>
<path d="M652.1 432h2.9v2.9h-2.9z" fill="#f4f100"/>
<path d="M654.7 432h2.9v2.9h-2.9z" fill="#f7ee00"/>
<path d="M657.3 432h2.9v2.9h-2.9z" fill="#faeb00"/>
<path d="M659.9 432h2.9v2.9h-2.9z" fill="#fde800"/>
<path d="M662.5 432h2.9v2.9h-2.9z" fill="#ffe600"/>
<path d="M665.1 432h2.9v2.9h-2.9z" fill="#ffe500"/>
<path d="M498.7 434.6h2.9v2.9h-2.9z" fill="#8af600"/>
<path d="M501.3 434.6h2.9v2.9h-2.9z" fill="#8df600"/>
<path d="M503.9 434.6h2.9v2.9h-2.9z" fill="#8ff600"/>
<path d="M506.5 434.6h2.9v2.9h-2.9z" fill="#92f600"/>
<path d="M509.1 434.6h2.9v2.9h-2.9z" fill="#94f700"/>
<path d="M511.7 434.6h2.9v2.9h-2.9z" fill="#97f700"/>
<path d="M514.3 434.6h2.9v2.9h-2.9z" fill="#9df700"/>
<path d="M516.9 434.6h2.9v2.9h-2.9z" fill="#a4f700"/>
<path d="M519.5 434.6h2.9v2.9h-2.9z" fill="#aff800"/>
<path d="M522.1 434.6h2.9v2.9h-2.9z" fill="#bbf700"/>
<path d="M524.7 434.6h2.9v2.9h-2.9z" fill="#c7f700"/>
<path d="M527.3 434.6h2.9v2.9h-2.9z" fill="#d0f600"/>
<path d="M529.9 434.6h2.9v2.9h-2.9z" fill="#d9f600"/>
<path d="M532.5 434.6h2.9v2.9h-2.9z" fill="#e2f600"/>
<path d="M535.1 434.6h2.9v2.9h-2.9z" fill="#eaf500"/>
<path d="M537.7 434.6h2.9v2.9h-2.9z" fill="#eff500"/>
<path d="M540.3 434.6h2.9v2.9h-2.9z" fill="#eff500"/>
<path d="M542.9 434.6h2.9v2.9h-2.9z" fill="#eaf500"/>
<path d="M545.5 434.6h2.9v2.9h-2.9z" fill="#e1f600"/>
<path d="M548.1 434.6h2.9v2.9h-2.9z" fill="#d4f600"/>
<path d="M550.7 434.6h2.9v2.9h-2.9z" fill="#c7f700"/>
<path d="M553.3 434.6h2.9v2.9h-2.9z" fill="#baf800"/>
<path d="M555.9 434.6h2.9v2.9h-2.9z" fill="#aff800"/>
<path d="M558.5 434.6h2.9v2.9h-2.9z" fill="#aaf800"/>
<path d="M561.1 434.6h2.9v2.9h-2.9z" fill="#a7f800"/>
<path d="M563.7 434.6h2.9v2.9h-2.9z" fill="#a8f800"/>
<path d="M566.3 434.6h2.9v2.9h-2.9z" fill="#abf800"/>
<path d="M568.9 434.6h2.9v2.9h-2.9z" fill="#adf800"/>
<path d="M571.5 434.6h2.9v2.9h-2.9z" fill="#acf800"/>
<path d="M574.1 434.6h2.9v2.9h-2.9z" fill="#aaf800"/>
<path d="M576.7 434.6h2.9v2.9h-2.9z" fill="#a6f700"/>
<path d="M579.3 434.6h2.9v2.9h-2.9z" fill="#a3f700"/>
<path d="M581.9 434.6h2.9v2.9h-2.9z" fill="#a2f700"/>
<path d="M584.5 434.6h2.9v2.9h-2.9z" fill="#a3f700"/>
<path d="M587.1 434.6h2.9v2.9h-2.9z" fill="#a6f700"/>
<path d="M589.7 434.6h2.9v2.9h-2.9z" fill="#acf800"/>
<path d="M592.3 434.6h2.9v2.9h-2.9z" fill="#b5f800"/>
<path d="M594.9 434.6h2.9v2.9h-2.9z" fill="#c0f700"/>
<path d="M597.5 434.6h2.9v2.9h-2.9z" fill="#cff700"/>
<path d="M600.1 434.6h2.9v2.9h-2.9z" fill="#def600"/>
<path d="M602.7 434.6h2.9v2.9h-2.9z" fill="#edf500"/>
<path d="M605.3 434.6h2.9v2.9h-2.9z" fill="#f4f100"/>
<path d="M607.9 434.6h2.9v2.9h-2.9z" fill="#f6ef00"/>
<path d="M610.5 434.6h2.9v2.9h-2.9z" fill="#f5f000"/>
<path d="M613.1 434.6h2.9v2.9h-2.9z" fill="#f3f200"/>
<path d="M615.7 434.6h2.9v2.9h-2.9z" fill="#eff500"/>
<path d="M618.3 434.6h2.9v2.9h-2.9z" fill="#e8f500"/>
<path d="M620.9 434.6h2.9v2.9h-2.9z" fill="#e4f600"/>
<path d="M623.5 434.6h2.9v2.9h-2.9z" fill="#e2f600"/>
<path d="M626.1 434.6h2.9v2.9h-2.9z" fill="#e2f600"/>
<path d="M628.7 434.6h2.9v2.9h-2.9z" fill="#e4f600"/>
<path d="M631.3 434.6h2.9v2.9h-2.9z" fill="#e8f500"/>
<path d="M633.9 434.6h2.9v2.9h-2.9z" fill="#ecf500"/>
<path d="M636.5 434.6h2.9v2.9h-2.9z" fill="#eff500"/>
<path d="M639.1 434.6h2.9v2.9h-2.9z" fill="#f0f500"/>
<path d="M641.7 434.6h2.9v2.9h-2.9z" fill="#f0f500"/>
<path d="M644.3 434.6h2.9v2.9h-2.9z" fill="#f1f400"/>
<path d="M646.9 434.6h2.9v2.9h-2.9z" fill="#f3f200"/>
<path d="M649.5 434.6h2.9v2.9h-2.9z" fill="#f6ef00"/>
<path d="M652.1 434.6h2.9v2.9h-2.9z" fill="#faeb00"/>
<path d="M654.7 434.6h2.9v2.9h-2.9z" fill="#fde800"/>
<path d="M657.3 434.6h2.9v2.9h-2.9z" fill="#ffe300"/>
<path d="M659.9 434.6h2.9v2.9h-2.9z" fill="#ffdf00"/>
<path d="M662.5 434.6h2.9v2.9h-2.9z" fill="#ffdd00"/>
<path d="M665.1 434.6h2.9v2.9h-2.9z" fill="#ffdb00"/>
<path d="M498.7 437.2h2.9v2.9h-2.9z" fill="#8af600"/>
<path d="M501.3 437.2h2.9v2.9h-2.9z" fill="#8ef600"/>
<path d="M503.9 437.2h2.9v2.9h-2.9z" fill="#92f600"/>
<path d="M506.5 437.2h2.9v2.9h-2.9z" fill="#97f700"/>
<path d="M509.1 437.2h2.9v2.9h-2.9z" fill="#9ef700"/>
<path d="M511.7 437.2h2.9v2.9h-2.9z" fill="#a7f700"/>
<path d="M514.3 437.2h2.9v2.9h-2.9z" fill="#b2f800"/>
<path d="M516.9 437.2h2.9v2.9h-2.9z" fill="#c2f700"/>
<path d="M519.5 437.2h2.9v2.9h-2.9z" fill="#d3f600"/>
<path d="M522.1 437.2h2.9v2.9h-2.9z" fill="#e3f600"/>
<path d="M524.7 437.2h2.9v2.9h-2.9z" fill="#f0f500"/>
<path d="M527.3 437.2h2.9v2.9h-2.9z" fill="#f3f200"/>
<path d="M529.9 437.2h2.9v2.9h-2.9z" fill="#f6ef00"/>
<path d="M532.5 437.2h2.9v2.9h-2.9z" fill="#f8ed00"/>
<path d="M535.1 437.2h2.9v2.9h-2.9z" fill="#f9ec00"/>
<path d="M537.7 437.2h2.9v2.9h-2.9z" fill="#f8ed00"/>
<path d="M540.3 437.2h2.9v2.9h-2.9z" fill="#f5f000"/>
<path d="M542.9 437.2h2.9v2.9h-2.9z" fill="#f1f400"/>
<path d="M545.5 437.2h2.9v2.9h-2.9z" fill="#e5f600"/>
<path d="M548.1 437.2h2.9v2.9h-2.9z" fill="#d6f600"/>
<path d="M550.7 437.2h2.9v2.9h-2.9z" fill="#c6f700"/>
<path d="M553.3 437.2h2.9v2.9h-2.9z" fill="#b7f800"/>
<path d="M555.9 437.2h2.9v2.9h-2.9z" fill="#acf800"/>
<path d="M558.5 437.2h2.9v2.9h-2.9z" fill="#a6f700"/>
<path d="M561.1 437.2h2.9v2.9h-2.9z" fill="#a6f700"/>
<path d="M563.7 437.2h2.9v2.9h-2.9z" fill="#aaf800"/>
<path d="M566.3 437.2h2.9v2.9h-2.9z" fill="#b1f800"/>
<path d="M568.9 437.2h2.9v2.9h-2.9z" fill="#b6f800"/>
<path d="M571.5 437.2h2.9v2.9h-2.9z" fill="#b7f800"/>
<path d="M574.1 437.2h2.9v2.9h-2.9z" fill="#b4f800"/>
<path d="M576.7 437.2h2.9v2.9h-2.9z" fill="#adf800"/>
<path d="M579.3 437.2h2.9v2.9h-2.9z" fill="#a7f800"/>
<path d="M581.9 437.2h2.9v2.9h-2.9z" fill="#a3f700"/>
<path d="M584.5 437.2h2.9v2.9h-2.9z" fill="#a1f700"/>
<path d="M587.1 437.2h2.9v2.9h-2.9z" fill="#a2f700"/>
<path d="M589.7 437.2h2.9v2.9h-2.9z" fill="#a5f700"/>
<path d="M592.3 437.2h2.9v2.9h-2.9z" fill="#a9f800"/>
<path d="M594.9 437.2h2.9v2.9h-2.9z" fill="#aef800"/>
<path d="M597.5 437.2h2.9v2.9h-2.9z" fill="#b5f800"/>
<path d="M600.1 437.2h2.9v2.9h-2.9z" fill="#bdf700"/>
<path d="M602.7 437.2h2.9v2.9h-2.9z" fill="#c5f700"/>
<path d="M605.3 437.2h2.9v2.9h-2.9z" fill="#cdf700"/>
<path d="M607.9 437.2h2.9v2.9h-2.9z" fill="#d3f600"/>
<path d="M610.5 437.2h2.9v2.9h-2.9z" fill="#d7f600"/>
<path d="M613.1 437.2h2.9v2.9h-2.9z" fill="#d9f600"/>
<path d="M615.7 437.2h2.9v2.9h-2.9z" fill="#d9f600"/>
<path d="M618.3 437.2h2.9v2.9h-2.9z" fill="#d8f600"/>
<path d="M620.9 437.2h2.9v2.9h-2.9z" fill="#d9f600"/>
<path d="M623.5 437.2h2.9v2.9h-2.9z" fill="#daf600"/>
<path d="M626.1 437.2h2.9v2.9h-2.9z" fill="#dcf600"/>
<path d="M628.7 437.2h2.9v2.9h-2.9z" fill="#dff600"/>
<path d="M631.3 437.2h2.9v2.9h-2.9z" fill="#e4f600"/>
<path d="M633.9 437.2h2.9v2.9h-2.9z" fill="#eaf500"/>
<path d="M636.5 437.2h2.9v2.9h-2.9z" fill="#eff500"/>
<path d="M639.1 437.2h2.9v2.9h-2.9z" fill="#f1f400"/>
<path d="M641.7 437.2h2.9v2.9h-2.9z" fill="#f3f200"/>
<path d="M644.3 437.2h2.9v2.9h-2.9z" fill="#f4f100"/>
<path d="M646.9 437.2h2.9v2.9h-2.9z" fill="#f7ee00"/>
<path d="M649.5 437.2h2.9v2.9h-2.9z" fill="#fbea00"/>
<path d="M652.1 437.2h2.9v2.9h-2.9z" fill="#ffe600"/>
<path d="M654.7 437.2h2.9v2.9h-2.9z" fill="#ffe000"/>
<path d="M657.3 437.2h2.9v2.9h-2.9z" fill="#ffdb00"/>
<path d="M659.9 437.2h2.9v2.9h-2.9z" fill="#ffd600"/>
<path d="M662.5 437.2h2.9v2.9h-2.9z" fill="#ffd300"/>
<path d="M665.1 437.2h2.9v2.9h-2.9z" fill="#ffd100"/>
<path d="M498.7 439.8h2.9v2.9h-2.9z" fill="#8af600"/>
<path d="M501.3 439.8h2.9v2.9h-2.9z" fill="#8ff600"/>
<path d="M503.9 439.8h2.9v2.9h-2.9z" fill="#95f700"/>
<path d="M506.5 439.8h2.9v2.9h-2.9z" fill="#9df700"/>
<path d="M509.1 439.8h2.9v2.9h-2.9z" fill="#a8f800"/>
<path d="M511.7 439.8h2.9v2.9h-2.9z" fill="#b8f800"/>
<path d="M514.3 439.8h2.9v2.9h-2.9z" fill="#cdf700"/>
<path d="M516.9 439.8h2.9v2.9h-2.9z" fill="#e6f500"/>
<path d="M519.5 439.8h2.9v2.9h-2.9z" fill="#f6ef00"/>
<path d="M522.1 439.8h2.9v2.9h-2.9z" fill="#ffe600"/>
<path d="M524.7 439.8h2.9v2.9h-2.9z" fill="#ffde00"/>
<path d="M527.3 439.8h2.9v2.9h-2.9z" fill="#ffd900"/>
<path d="M529.9 439.8h2.9v2.9h-2.9z" fill="#ffd700"/>
<path d="M532.5 439.8h2.9v2.9h-2.9z" fill="#ffd700"/>
<path d="M535.1 439.8h2.9v2.9h-2.9z" fill="#ffda00"/>
<path d="M537.7 439.8h2.9v2.9h-2.9z" fill="#ffdf00"/>
<path d="M540.3 439.8h2.9v2.9h-2.9z" fill="#fde800"/>
<path d="M542.9 439.8h2.9v2.9h-2.9z" fill="#f6ef00"/>
<path d="M545.5 439.8h2.9v2.9h-2.9z" fill="#ebf500"/>
<path d="M548.1 439.8h2.9v2.9h-2.9z" fill="#d7f600"/>
<path d="M550.7 439.8h2.9v2.9h-2.9z" fill="#c3f700"/>
<path d="M553.3 439.8h2.9v2.9h-2.9z" fill="#b0f800"/>
<path d="M555.9 439.8h2.9v2.9h-2.9z" fill="#a1f700"/>
<path d="M558.5 439.8h2.9v2.9h-2.9z" fill="#9af700"/>
<path d="M561.1 439.8h2.9v2.9h-2.9z" fill="#9cf700"/>
<path d="M563.7 439.8h2.9v2.9h-2.9z" fill="#a4f700"/>
<path d="M566.3 439.8h2.9v2.9h-2.9z" fill="#b0f800"/>
<path d="M568.9 439.8h2.9v2.9h-2.9z" fill="#bbf700"/>
<path d="M571.5 439.8h2.9v2.9h-2.9z" fill="#bff700"/>
<path d="M574.1 439.8h2.9v2.9h-2.9z" fill="#bcf700"/>
<path d="M576.7 439.8h2.9v2.9h-2.9z" fill="#b4f800"/>
<path d="M579.3 439.8h2.9v2.9h-2.9z" fill="#acf800"/>
<path d="M581.9 439.8h2.9v2.9h-2.9z" fill="#a5f700"/>
<path d="M584.5 439.8h2.9v2.9h-2.9z" fill="#a0f700"/>
<path d="M587.1 439.8h2.9v2.9h-2.9z" fill="#9ef700"/>
<path d="M589.7 439.8h2.9v2.9h-2.9z" fill="#9df700"/>
<path d="M592.3 439.8h2.9v2.9h-2.9z" fill="#9cf700"/>
<path d="M594.9 439.8h2.9v2.9h-2.9z" fill="#9cf700"/>
<path d="M597.5 439.8h2.9v2.9h-2.9z" fill="#9df700"/>
<path d="M600.1 439.8h2.9v2.9h-2.9z" fill="#9ef700"/>
<path d="M602.7 439.8h2.9v2.9h-2.9z" fill="#a0f700"/>
<path d="M605.3 439.8h2.9v2.9h-2.9z" fill="#a4f700"/>
<path d="M607.9 439.8h2.9v2.9h-2.9z" fill="#aaf800"/>
<path d="M610.5 439.8h2.9v2.9h-2.9z" fill="#b1f800"/>
<path d="M613.1 439.8h2.9v2.9h-2.9z" fill="#baf800"/>
<path d="M615.7 439.8h2.9v2.9h-2.9z" fill="#c1f700"/>
<path d="M618.3 439.8h2.9v2.9h-2.9z" fill="#c8f700"/>
<path d="M620.9 439.8h2.9v2.9h-2.9z" fill="#cef700"/>
<path d="M623.5 439.8h2.9v2.9h-2.9z" fill="#d2f600"/>
<path d="M626.1 439.8h2.9v2.9h-2.9z" fill="#d7f600"/>
<path d="M628.7 439.8h2.9v2.9h-2.9z" fill="#dbf600"/>
<path d="M631.3 439.8h2.9v2.9h-2.9z" fill="#e1f600"/>
<path d="M633.9 439.8h2.9v2.9h-2.9z" fill="#e7f500"/>
<path d="M636.5 439.8h2.9v2.9h-2.9z" fill="#edf500"/>
<path d="M639.1 439.8h2.9v2.9h-2.9z" fill="#f1f400"/>
<path d="M641.7 439.8h2.9v2.9h-2.9z" fill="#f3f200"/>
<path d="M644.3 439.8h2.9v2.9h-2.9z" fill="#f6ef00"/>
<path d="M646.9 439.8h2.9v2.9h-2.9z" fill="#faeb00"/>
<path d="M649.5 439.8h2.9v2.9h-2.9z" fill="#ffe600"/>
<path d="M652.1 439.8h2.9v2.9h-2.9z" fill="#ffdf00"/>
<path d="M654.7 439.8h2.9v2.9h-2.9z" fill="#ffd800"/>
<path d="M657.3 439.8h2.9v2.9h-2.9z" fill="#ffd100"/>
<path d="M659.9 439.8h2.9v2.9h-2.9z" fill="#ffc800"/>
<path d="M662.5 439.8h2.9v2.9h-2.9z" fill="#ffc200"/>
<path d="M665.1 439.8h2.9v2.9h-2.9z" fill="#ffbf00"/>
<path d="M498.7 442.4h2.9v2.9h-2.9z" fill="#89f600"/>
<path d="M501.3 442.4h2.9v2.9h-2.9z" fill="#8ff600"/>
<path d="M503.9 442.4h2.9v2.9h-2.9z" fill="#97f700"/>
<path d="M506.5 442.4h2.9v2.9h-2.9z" fill="#a1f700"/>
<path d="M509.1 442.4h2.9v2.9h-2.9z" fill="#b0f800"/>
<path d="M511.7 442.4h2.9v2.9h-2.9z" fill="#c7f700"/>
<path d="M514.3 442.4h2.9v2.9h-2.9z" fill="#e4f600"/>
<path d="M516.9 442.4h2.9v2.9h-2.9z" fill="#f9ec00"/>
<path d="M519.5 442.4h2.9v2.9h-2.9z" fill="#ffdc00"/>
<path d="M522.1 442.4h2.9v2.9h-2.9z" fill="#ffca00"/>
<path d="M524.7 442.4h2.9v2.9h-2.9z" fill="#ffb800"/>
<path d="M527.3 442.4h2.9v2.9h-2.9z" fill="#ffad00"/>
<path d="M529.9 442.4h2.9v2.9h-2.9z" fill="#ffa900"/>
<path d="M532.5 442.4h2.9v2.9h-2.9z" fill="#ffab00"/>
<path d="M535.1 442.4h2.9v2.9h-2.9z" fill="#ffb600"/>
<path d="M537.7 442.4h2.9v2.9h-2.9z" fill="#ffc800"/>
<path d="M540.3 442.4h2.9v2.9h-2.9z" fill="#ffdb00"/>
<path d="M542.9 442.4h2.9v2.9h-2.9z" fill="#fbea00"/>
<path d="M545.5 442.4h2.9v2.9h-2.9z" fill="#f0f500"/>
<path d="M548.1 442.4h2.9v2.9h-2.9z" fill="#d8f600"/>
<path d="M550.7 442.4h2.9v2.9h-2.9z" fill="#bff700"/>
<path d="M553.3 442.4h2.9v2.9h-2.9z" fill="#a5f700"/>
<path d="M555.9 442.4h2.9v2.9h-2.9z" fill="#90f600"/>
<path d="M558.5 442.4h2.9v2.9h-2.9z" fill="#85f600"/>
<path d="M561.1 442.4h2.9v2.9h-2.9z" fill="#88f600"/>
<path d="M563.7 442.4h2.9v2.9h-2.9z" fill="#97f700"/>
<path d="M566.3 442.4h2.9v2.9h-2.9z" fill="#abf800"/>
<path d="M568.9 442.4h2.9v2.9h-2.9z" fill="#bcf700"/>
<path d="M571.5 442.4h2.9v2.9h-2.9z" fill="#c5f700"/>
<path d="M574.1 442.4h2.9v2.9h-2.9z" fill="#c3f700"/>
<path d="M576.7 442.4h2.9v2.9h-2.9z" fill="#bcf700"/>
<path d="M579.3 442.4h2.9v2.9h-2.9z" fill="#b1f800"/>
<path d="M581.9 442.4h2.9v2.9h-2.9z" fill="#a8f800"/>
<path d="M584.5 442.4h2.9v2.9h-2.9z" fill="#a0f700"/>
<path d="M587.1 442.4h2.9v2.9h-2.9z" fill="#9bf700"/>
<path d="M589.7 442.4h2.9v2.9h-2.9z" fill="#96f700"/>
<path d="M592.3 442.4h2.9v2.9h-2.9z" fill="#91f600"/>
<path d="M594.9 442.4h2.9v2.9h-2.9z" fill="#8cf600"/>
<path d="M597.5 442.4h2.9v2.9h-2.9z" fill="#87f600"/>
<path d="M600.1 442.4h2.9v2.9h-2.9z" fill="#83f600"/>
<path d="M602.7 442.4h2.9v2.9h-2.9z" fill="#82f600"/>
<path d="M605.3 442.4h2.9v2.9h-2.9z" fill="#84f600"/>
<path d="M607.9 442.4h2.9v2.9h-2.9z" fill="#8af600"/>
<path d="M610.5 442.4h2.9v2.9h-2.9z" fill="#94f600"/>
<path d="M613.1 442.4h2.9v2.9h-2.9z" fill="#a0f700"/>
<path d="M615.7 442.4h2.9v2.9h-2.9z" fill="#acf800"/>
<path d="M618.3 442.4h2.9v2.9h-2.9z" fill="#b9f800"/>
<path d="M620.9 442.4h2.9v2.9h-2.9z" fill="#c4f700"/>
<path d="M623.5 442.4h2.9v2.9h-2.9z" fill="#cdf700"/>
<path d="M626.1 442.4h2.9v2.9h-2.9z" fill="#d3f600"/>
<path d="M628.7 442.4h2.9v2.9h-2.9z" fill="#d9f600"/>
<path d="M631.3 442.4h2.9v2.9h-2.9z" fill="#def600"/>
<path d="M633.9 442.4h2.9v2.9h-2.9z" fill="#e3f600"/>
<path d="M636.5 442.4h2.9v2.9h-2.9z" fill="#e9f500"/>
<path d="M639.1 442.4h2.9v2.9h-2.9z" fill="#f0f500"/>
<path d="M641.7 442.4h2.9v2.9h-2.9z" fill="#f3f200"/>
<path d="M644.3 442.4h2.9v2.9h-2.9z" fill="#f7ee00"/>
<path d="M646.9 442.4h2.9v2.9h-2.9z" fill="#fce900"/>
<path d="M649.5 442.4h2.9v2.9h-2.9z" fill="#ffe100"/>
<path d="M652.1 442.4h2.9v2.9h-2.9z" fill="#ffd800"/>
<path d="M654.7 442.4h2.9v2.9h-2.9z" fill="#ffcc00"/>
<path d="M657.3 442.4h2.9v2.9h-2.9z" fill="#ffbf00"/>
<path d="M659.9 442.4h2.9v2.9h-2.9z" fill="#ffb500"/>
<path d="M662.5 442.4h2.9v2.9h-2.9z" fill="#ffb000"/>
<path d="M665.1 442.4h2.9v2.9h-2.9z" fill="#ffae00"/>
<path d="M498.7 445h2.9v2.9h-2.9z" fill="#88f600"/>
<path d="M501.3 445h2.9v2.9h-2.9z" fill="#8ef600"/>
<path d="M503.9 445h2.9v2.9h-2.9z" fill="#97f700"/>
<path d="M506.5 445h2.9v2.9h-2.9z" fill="#a3f700"/>
<path d="M509.1 445h2.9v2.9h-2.9z" fill="#b4f800"/>
<path d="M511.7 445h2.9v2.9h-2.9z" fill="#cef700"/>
<path d="M514.3 445h2.9v2.9h-2.9z" fill="#f0f500"/>
<path d="M516.9 445h2.9v2.9h-2.9z" fill="#ffe300"/>
<path d="M519.5 445h2.9v2.9h-2.9z" fill="#ffca00"/>
<path d="M522.1 445h2.9v2.9h-2.9z" fill="#ffa900"/>
<path d="M524.7 445h2.9v2.9h-2.9z" fill="#ff9300"/>
<path d="M527.3 445h2.9v2.9h-2.9z" fill="#ff8600"/>
<path d="M529.9 445h2.9v2.9h-2.9z" fill="#ff8100"/>
<path d="M532.5 445h2.9v2.9h-2.9z" fill="#ff8300"/>
<path d="M535.1 445h2.9v2.9h-2.9z" fill="#ff8e00"/>
<path d="M537.7 445h2.9v2.9h-2.9z" fill="#ffa700"/>
<path d="M540.3 445h2.9v2.9h-2.9z" fill="#ffcb00"/>
<path d="M542.9 445h2.9v2.9h-2.9z" fill="#ffe400"/>
<path d="M545.5 445h2.9v2.9h-2.9z" fill="#f2f300"/>
<path d="M548.1 445h2.9v2.9h-2.9z" fill="#daf600"/>
<path d="M550.7 445h2.9v2.9h-2.9z" fill="#bcf700"/>
<path d="M553.3 445h2.9v2.9h-2.9z" fill="#99f700"/>
<path d="M555.9 445h2.9v2.9h-2.9z" fill="#79f500"/>
<path d="M558.5 445h2.9v2.9h-2.9z" fill="#63f400"/>
<path d="M561.1 445h2.9v2.9h-2.9z" fill="#69f400"/>
<path d="M563.7 445h2.9v2.9h-2.9z" fill="#84f600"/>
<path d="M566.3 445h2.9v2.9h-2.9z" fill="#a2f700"/>
<path d="M568.9 445h2.9v2.9h-2.9z" fill="#bbf700"/>
<path d="M571.5 445h2.9v2.9h-2.9z" fill="#c9f700"/>
<path d="M574.1 445h2.9v2.9h-2.9z" fill="#caf700"/>
<path d="M576.7 445h2.9v2.9h-2.9z" fill="#c2f700"/>
<path d="M579.3 445h2.9v2.9h-2.9z" fill="#b7f800"/>
<path d="M581.9 445h2.9v2.9h-2.9z" fill="#abf800"/>
<path d="M584.5 445h2.9v2.9h-2.9z" fill="#a2f700"/>
<path d="M587.1 445h2.9v2.9h-2.9z" fill="#99f700"/>
<path d="M589.7 445h2.9v2.9h-2.9z" fill="#91f600"/>
<path d="M592.3 445h2.9v2.9h-2.9z" fill="#88f600"/>
<path d="M594.9 445h2.9v2.9h-2.9z" fill="#7ef500"/>
<path d="M597.5 445h2.9v2.9h-2.9z" fill="#74f500"/>
<path d="M600.1 445h2.9v2.9h-2.9z" fill="#69f400"/>
<path d="M602.7 445h2.9v2.9h-2.9z" fill="#63f400"/>
<path d="M605.3 445h2.9v2.9h-2.9z" fill="#63f400"/>
<path d="M607.9 445h2.9v2.9h-2.9z" fill="#6bf400"/>
<path d="M610.5 445h2.9v2.9h-2.9z" fill="#7af500"/>
<path d="M613.1 445h2.9v2.9h-2.9z" fill="#8af600"/>
<path d="M615.7 445h2.9v2.9h-2.9z" fill="#9cf700"/>
<path d="M618.3 445h2.9v2.9h-2.9z" fill="#acf800"/>
<path d="M620.9 445h2.9v2.9h-2.9z" fill="#bcf700"/>
<path d="M623.5 445h2.9v2.9h-2.9z" fill="#c8f700"/>
<path d="M626.1 445h2.9v2.9h-2.9z" fill="#d0f600"/>
<path d="M628.7 445h2.9v2.9h-2.9z" fill="#d6f600"/>
<path d="M631.3 445h2.9v2.9h-2.9z" fill="#dbf600"/>
<path d="M633.9 445h2.9v2.9h-2.9z" fill="#dff600"/>
<path d="M636.5 445h2.9v2.9h-2.9z" fill="#e5f600"/>
<path d="M639.1 445h2.9v2.9h-2.9z" fill="#ebf500"/>
<path d="M641.7 445h2.9v2.9h-2.9z" fill="#f2f300"/>
<path d="M644.3 445h2.9v2.9h-2.9z" fill="#f6ef00"/>
<path d="M646.9 445h2.9v2.9h-2.9z" fill="#fde800"/>
<path d="M649.5 445h2.9v2.9h-2.9z" fill="#ffde00"/>
<path d="M652.1 445h2.9v2.9h-2.9z" fill="#ffd100"/>
<path d="M654.7 445h2.9v2.9h-2.9z" fill="#ffbc00"/>
<path d="M657.3 445h2.9v2.9h-2.9z" fill="#ffac00"/>
<path d="M659.9 445h2.9v2.9h-2.9z" fill="#ffa200"/>
<path d="M662.5 445h2.9v2.9h-2.9z" fill="#ff9d00"/>
<path d="M665.1 445h2.9v2.9h-2.9z" fill="#ff9e00"/>
<path d="M498.7 447.6h2.9v2.9h-2.9z" fill="#86f600"/>
<path d="M501.3 447.6h2.9v2.9h-2.9z" fill="#8df600"/>
<path d="M503.9 447.6h2.9v2.9h-2.9z" fill="#95f700"/>
<path d="M506.5 447.6h2.9v2.9h-2.9z" fill="#a1f700"/>
<path d="M509.1 447.6h2.9v2.9h-2.9z" fill="#b3f800"/>
<path d="M511.7 447.6h2.9v2.9h-2.9z" fill="#cff700"/>
<path d="M514.3 447.6h2.9v2.9h-2.9z" fill="#f2f300"/>
<path d="M516.9 447.6h2.9v2.9h-2.9z" fill="#ffdf00"/>
<path d="M519.5 447.6h2.9v2.9h-2.9z" fill="#ffbb00"/>
<path d="M522.1 447.6h2.9v2.9h-2.9z" fill="#ff9600"/>
<path d="M524.7 447.6h2.9v2.9h-2.9z" fill="#ff7d00"/>
<path d="M527.3 447.6h2.9v2.9h-2.9z" fill="#ff7000"/>
<path d="M529.9 447.6h2.9v2.9h-2.9z" fill="#ff6900"/>
<path d="M532.5 447.6h2.9v2.9h-2.9z" fill="#ff6900"/>
<path d="M535.1 447.6h2.9v2.9h-2.9z" fill="#ff7200"/>
<path d="M537.7 447.6h2.9v2.9h-2.9z" fill="#ff8b00"/>
<path d="M540.3 447.6h2.9v2.9h-2.9z" fill="#ffb800"/>
<path d="M542.9 447.6h2.9v2.9h-2.9z" fill="#ffe100"/>
<path d="M545.5 447.6h2.9v2.9h-2.9z" fill="#f2f300"/>
<path d="M548.1 447.6h2.9v2.9h-2.9z" fill="#daf600"/>
<path d="M550.7 447.6h2.9v2.9h-2.9z" fill="#bbf800"/>
<path d="M553.3 447.6h2.9v2.9h-2.9z" fill="#8df600"/>
<path d="M555.9 447.6h2.9v2.9h-2.9z" fill="#57f300"/>
<path d="M558.5 447.6h2.9v2.9h-2.9z" fill="#37f200"/>
<path d="M561.1 447.6h2.9v2.9h-2.9z" fill="#41f200"/>
<path d="M563.7 447.6h2.9v2.9h-2.9z" fill="#6cf400"/>
<path d="M566.3 447.6h2.9v2.9h-2.9z" fill="#99f700"/>
<path d="M568.9 447.6h2.9v2.9h-2.9z" fill="#baf800"/>
<path d="M571.5 447.6h2.9v2.9h-2.9z" fill="#ccf700"/>
<path d="M574.1 447.6h2.9v2.9h-2.9z" fill="#cef700"/>
<path d="M576.7 447.6h2.9v2.9h-2.9z" fill="#c6f700"/>
<path d="M579.3 447.6h2.9v2.9h-2.9z" fill="#baf800"/>
<path d="M581.9 447.6h2.9v2.9h-2.9z" fill="#aef800"/>
<path d="M584.5 447.6h2.9v2.9h-2.9z" fill="#a3f700"/>
<path d="M587.1 447.6h2.9v2.9h-2.9z" fill="#98f700"/>
<path d="M589.7 447.6h2.9v2.9h-2.9z" fill="#8ef600"/>
<path d="M592.3 447.6h2.9v2.9h-2.9z" fill="#81f600"/>
<path d="M594.9 447.6h2.9v2.9h-2.9z" fill="#73f500"/>
<path d="M597.5 447.6h2.9v2.9h-2.9z" fill="#61f400"/>
<path d="M600.1 447.6h2.9v2.9h-2.9z" fill="#50f300"/>
<path d="M602.7 447.6h2.9v2.9h-2.9z" fill="#45f200"/>
<path d="M605.3 447.6h2.9v2.9h-2.9z" fill="#42f200"/>
<path d="M607.9 447.6h2.9v2.9h-2.9z" fill="#4bf300"/>
<path d="M610.5 447.6h2.9v2.9h-2.9z" fill="#5df400"/>
<path d="M613.1 447.6h2.9v2.9h-2.9z" fill="#77f500"/>
<path d="M615.7 447.6h2.9v2.9h-2.9z" fill="#8df600"/>
<path d="M618.3 447.6h2.9v2.9h-2.9z" fill="#a2f700"/>
<path d="M620.9 447.6h2.9v2.9h-2.9z" fill="#b4f800"/>
<path d="M623.5 447.6h2.9v2.9h-2.9z" fill="#c2f700"/>
<path d="M626.1 447.6h2.9v2.9h-2.9z" fill="#ccf700"/>
<path d="M628.7 447.6h2.9v2.9h-2.9z" fill="#d2f600"/>
<path d="M631.3 447.6h2.9v2.9h-2.9z" fill="#d6f600"/>
<path d="M633.9 447.6h2.9v2.9h-2.9z" fill="#daf600"/>
<path d="M636.5 447.6h2.9v2.9h-2.9z" fill="#dff600"/>
<path d="M639.1 447.6h2.9v2.9h-2.9z" fill="#e6f500"/>
<path d="M641.7 447.6h2.9v2.9h-2.9z" fill="#eff500"/>
<path d="M644.3 447.6h2.9v2.9h-2.9z" fill="#f5f000"/>
<path d="M646.9 447.6h2.9v2.9h-2.9z" fill="#fde800"/>
<path d="M649.5 447.6h2.9v2.9h-2.9z" fill="#ffdb00"/>
<path d="M652.1 447.6h2.9v2.9h-2.9z" fill="#ffc700"/>
<path d="M654.7 447.6h2.9v2.9h-2.9z" fill="#ffae00"/>
<path d="M657.3 447.6h2.9v2.9h-2.9z" fill="#ff9b00"/>
<path d="M659.9 447.6h2.9v2.9h-2.9z" fill="#ff9100"/>
<path d="M662.5 447.6h2.9v2.9h-2.9z" fill="#ff8e00"/>
<path d="M665.1 447.6h2.9v2.9h-2.9z" fill="#ff9000"/>
<path d="M498.7 450.2h2.9v2.9h-2.9z" fill="#84f600"/>
<path d="M501.3 450.2h2.9v2.9h-2.9z" fill="#8bf600"/>
<path d="M503.9 450.2h2.9v2.9h-2.9z" fill="#93f600"/>
<path d="M506.5 450.2h2.9v2.9h-2.9z" fill="#9ff700"/>
<path d="M509.1 450.2h2.9v2.9h-2.9z" fill="#b0f800"/>
<path d="M511.7 450.2h2.9v2.9h-2.9z" fill="#ccf700"/>
<path d="M514.3 450.2h2.9v2.9h-2.9z" fill="#f1f400"/>
<path d="M516.9 450.2h2.9v2.9h-2.9z" fill="#ffde00"/>
<path d="M519.5 450.2h2.9v2.9h-2.9z" fill="#ffb700"/>
<path d="M522.1 450.2h2.9v2.9h-2.9z" fill="#ff8e00"/>
<path d="M524.7 450.2h2.9v2.9h-2.9z" fill="#ff7400"/>
<path d="M527.3 450.2h2.9v2.9h-2.9z" fill="#ff6600"/>
<path d="M529.9 450.2h2.9v2.9h-2.9z" fill="#ff5d00"/>
<path d="M532.5 450.2h2.9v2.9h-2.9z" fill="#ff5900"/>
<path d="M535.1 450.2h2.9v2.9h-2.9z" fill="#ff6200"/>
<path d="M537.7 450.2h2.9v2.9h-2.9z" fill="#ff7c00"/>
<path d="M540.3 450.2h2.9v2.9h-2.9z" fill="#ffae00"/>
<path d="M542.9 450.2h2.9v2.9h-2.9z" fill="#ffe000"/>
<path d="M545.5 450.2h2.9v2.9h-2.9z" fill="#f1f400"/>
<path d="M548.1 450.2h2.9v2.9h-2.9z" fill="#d9f600"/>
<path d="M550.7 450.2h2.9v2.9h-2.9z" fill="#b9f800"/>
<path d="M553.3 450.2h2.9v2.9h-2.9z" fill="#83f600"/>
<path d="M555.9 450.2h2.9v2.9h-2.9z" fill="#3bf200"/>
<path d="M558.5 450.2h2.9v2.9h-2.9z" fill="#17f400"/>
<path d="M561.1 450.2h2.9v2.9h-2.9z" fill="#24f300"/>
<path d="M563.7 450.2h2.9v2.9h-2.9z" fill="#57f300"/>
<path d="M566.3 450.2h2.9v2.9h-2.9z" fill="#90f600"/>
<path d="M568.9 450.2h2.9v2.9h-2.9z" fill="#b7f800"/>
<path d="M571.5 450.2h2.9v2.9h-2.9z" fill="#cbf700"/>
<path d="M574.1 450.2h2.9v2.9h-2.9z" fill="#cdf700"/>
<path d="M576.7 450.2h2.9v2.9h-2.9z" fill="#c5f700"/>
<path d="M579.3 450.2h2.9v2.9h-2.9z" fill="#baf800"/>
<path d="M581.9 450.2h2.9v2.9h-2.9z" fill="#aef800"/>
<path d="M584.5 450.2h2.9v2.9h-2.9z" fill="#a3f700"/>
<path d="M587.1 450.2h2.9v2.9h-2.9z" fill="#98f700"/>
<path d="M589.7 450.2h2.9v2.9h-2.9z" fill="#8cf600"/>
<path d="M592.3 450.2h2.9v2.9h-2.9z" fill="#7ef500"/>
<path d="M594.9 450.2h2.9v2.9h-2.9z" fill="#6af400"/>
<path d="M597.5 450.2h2.9v2.9h-2.9z" fill="#53f300"/>
<path d="M600.1 450.2h2.9v2.9h-2.9z" fill="#3cf200"/>
<path d="M602.7 450.2h2.9v2.9h-2.9z" fill="#2ef300"/>
<path d="M605.3 450.2h2.9v2.9h-2.9z" fill="#28f300"/>
<path d="M607.9 450.2h2.9v2.9h-2.9z" fill="#2ff300"/>
<path d="M610.5 450.2h2.9v2.9h-2.9z" fill="#42f200"/>
<path d="M613.1 450.2h2.9v2.9h-2.9z" fill="#61f400"/>
<path d="M615.7 450.2h2.9v2.9h-2.9z" fill="#81f500"/>
<path d="M618.3 450.2h2.9v2.9h-2.9z" fill="#9af700"/>
<path d="M620.9 450.2h2.9v2.9h-2.9z" fill="#adf800"/>
<path d="M623.5 450.2h2.9v2.9h-2.9z" fill="#bcf700"/>
<path d="M626.1 450.2h2.9v2.9h-2.9z" fill="#c5f700"/>
<path d="M628.7 450.2h2.9v2.9h-2.9z" fill="#cbf700"/>
<path d="M631.3 450.2h2.9v2.9h-2.9z" fill="#cff700"/>
<path d="M633.9 450.2h2.9v2.9h-2.9z" fill="#d4f600"/>
<path d="M636.5 450.2h2.9v2.9h-2.9z" fill="#d9f600"/>
<path d="M639.1 450.2h2.9v2.9h-2.9z" fill="#e1f600"/>
<path d="M641.7 450.2h2.9v2.9h-2.9z" fill="#ebf500"/>
<path d="M644.3 450.2h2.9v2.9h-2.9z" fill="#f4f100"/>
<path d="M646.9 450.2h2.9v2.9h-2.9z" fill="#fce900"/>
<path d="M649.5 450.2h2.9v2.9h-2.9z" fill="#ffda00"/>
<path d="M652.1 450.2h2.9v2.9h-2.9z" fill="#ffc200"/>
<path d="M654.7 450.2h2.9v2.9h-2.9z" fill="#ffa500"/>
<path d="M657.3 450.2h2.9v2.9h-2.9z" fill="#ff9000"/>
<path d="M659.9 450.2h2.9v2.9h-2.9z" fill="#ff8600"/>
<path d="M662.5 450.2h2.9v2.9h-2.9z" fill="#ff8500"/>
<path d="M665.1 450.2h2.9v2.9h-2.9z" fill="#ff8900"/>
<path d="M498.7 452.8h2.9v2.9h-2.9z" fill="#82f600"/>
<path d="M501.3 452.8h2.9v2.9h-2.9z" fill="#89f600"/>
<path d="M503.9 452.8h2.9v2.9h-2.9z" fill="#92f600"/>
<path d="M506.5 452.8h2.9v2.9h-2.9z" fill="#9ef700"/>
<path d="M509.1 452.8h2.9v2.9h-2.9z" fill="#aef800"/>
<path d="M511.7 452.8h2.9v2.9h-2.9z" fill="#c9f700"/>
<path d="M514.3 452.8h2.9v2.9h-2.9z" fill="#f0f500"/>
<path d="M516.9 452.8h2.9v2.9h-2.9z" fill="#ffe000"/>
<path d="M519.5 452.8h2.9v2.9h-2.9z" fill="#ffb900"/>
<path d="M522.1 452.8h2.9v2.9h-2.9z" fill="#ff9000"/>
<path d="M524.7 452.8h2.9v2.9h-2.9z" fill="#ff7500"/>
<path d="M527.3 452.8h2.9v2.9h-2.9z" fill="#ff6600"/>
<path d="M529.9 452.8h2.9v2.9h-2.9z" fill="#ff5c00"/>
<path d="M532.5 452.8h2.9v2.9h-2.9z" fill="#ff5800"/>
<path d="M535.1 452.8h2.9v2.9h-2.9z" fill="#ff6100"/>
<path d="M537.7 452.8h2.9v2.9h-2.9z" fill="#ff7c00"/>
<path d="M540.3 452.8h2.9v2.9h-2.9z" fill="#ffaf00"/>
<path d="M542.9 452.8h2.9v2.9h-2.9z" fill="#ffe100"/>
<path d="M545.5 452.8h2.9v2.9h-2.9z" fill="#eff500"/>
<path d="M548.1 452.8h2.9v2.9h-2.9z" fill="#d5f600"/>
<path d="M550.7 452.8h2.9v2.9h-2.9z" fill="#b3f800"/>
<path d="M553.3 452.8h2.9v2.9h-2.9z" fill="#7ef500"/>
<path d="M555.9 452.8h2.9v2.9h-2.9z" fill="#34f200"/>
<path d="M558.5 452.8h2.9v2.9h-2.9z" fill="#11f400"/>
<path d="M561.1 452.8h2.9v2.9h-2.9z" fill="#1df400"/>
<path d="M563.7 452.8h2.9v2.9h-2.9z" fill="#4ff300"/>
<path d="M566.3 452.8h2.9v2.9h-2.9z" fill="#89f600"/>
<path d="M568.9 452.8h2.9v2.9h-2.9z" fill="#aef800"/>
<path d="M571.5 452.8h2.9v2.9h-2.9z" fill="#c2f700"/>
<path d="M574.1 452.8h2.9v2.9h-2.9z" fill="#c4f700"/>
<path d="M576.7 452.8h2.9v2.9h-2.9z" fill="#bef700"/>
<path d="M579.3 452.8h2.9v2.9h-2.9z" fill="#b4f800"/>
<path d="M581.9 452.8h2.9v2.9h-2.9z" fill="#abf800"/>
<path d="M584.5 452.8h2.9v2.9h-2.9z" fill="#a1f700"/>
<path d="M587.1 452.8h2.9v2.9h-2.9z" fill="#98f700"/>
<path d="M589.7 452.8h2.9v2.9h-2.9z" fill="#8cf600"/>
<path d="M592.3 452.8h2.9v2.9h-2.9z" fill="#7ef500"/>
<path d="M594.9 452.8h2.9v2.9h-2.9z" fill="#68f400"/>
<path d="M597.5 452.8h2.9v2.9h-2.9z" fill="#4cf300"/>
<path d="M600.1 452.8h2.9v2.9h-2.9z" fill="#32f200"/>
<path d="M602.7 452.8h2.9v2.9h-2.9z" fill="#1ff300"/>
<path d="M605.3 452.8h2.9v2.9h-2.9z" fill="#16f400"/>
<path d="M607.9 452.8h2.9v2.9h-2.9z" fill="#1cf400"/>
<path d="M610.5 452.8h2.9v2.9h-2.9z" fill="#30f300"/>
<path d="M613.1 452.8h2.9v2.9h-2.9z" fill="#50f300"/>
<path d="M615.7 452.8h2.9v2.9h-2.9z" fill="#76f500"/>
<path d="M618.3 452.8h2.9v2.9h-2.9z" fill="#91f600"/>
<path d="M620.9 452.8h2.9v2.9h-2.9z" fill="#a6f700"/>
<path d="M623.5 452.8h2.9v2.9h-2.9z" fill="#b3f800"/>
<path d="M626.1 452.8h2.9v2.9h-2.9z" fill="#bcf700"/>
<path d="M628.7 452.8h2.9v2.9h-2.9z" fill="#c2f700"/>
<path d="M631.3 452.8h2.9v2.9h-2.9z" fill="#c7f700"/>
<path d="M633.9 452.8h2.9v2.9h-2.9z" fill="#ccf700"/>
<path d="M636.5 452.8h2.9v2.9h-2.9z" fill="#d3f600"/>
<path d="M639.1 452.8h2.9v2.9h-2.9z" fill="#dcf600"/>
<path d="M641.7 452.8h2.9v2.9h-2.9z" fill="#e7f500"/>
<path d="M644.3 452.8h2.9v2.9h-2.9z" fill="#f3f200"/>
<path d="M646.9 452.8h2.9v2.9h-2.9z" fill="#fce900"/>
<path d="M649.5 452.8h2.9v2.9h-2.9z" fill="#ffda00"/>
<path d="M652.1 452.8h2.9v2.9h-2.9z" fill="#ffc100"/>
<path d="M654.7 452.8h2.9v2.9h-2.9z" fill="#ffa400"/>
<path d="M657.3 452.8h2.9v2.9h-2.9z" fill="#ff8f00"/>
<path d="M659.9 452.8h2.9v2.9h-2.9z" fill="#ff8600"/>
<path d="M662.5 452.8h2.9v2.9h-2.9z" fill="#ff8500"/>
<path d="M665.1 452.8h2.9v2.9h-2.9z" fill="#ff8900"/>
<path d="M498.7 455.4h2.9v2.9h-2.9z" fill="#81f500"/>
<path d="M501.3 455.4h2.9v2.9h-2.9z" fill="#87f600"/>
<path d="M503.9 455.4h2.9v2.9h-2.9z" fill="#90f600"/>
<path d="M506.5 455.4h2.9v2.9h-2.9z" fill="#9df700"/>
<path d="M509.1 455.4h2.9v2.9h-2.9z" fill="#aef800"/>
<path d="M511.7 455.4h2.9v2.9h-2.9z" fill="#c9f700"/>
<path d="M514.3 455.4h2.9v2.9h-2.9z" fill="#edf500"/>
<path d="M516.9 455.4h2.9v2.9h-2.9z" fill="#ffe300"/>
<path d="M519.5 455.4h2.9v2.9h-2.9z" fill="#ffc200"/>
<path d="M522.1 455.4h2.9v2.9h-2.9z" fill="#ff9b00"/>
<path d="M524.7 455.4h2.9v2.9h-2.9z" fill="#ff7f00"/>
<path d="M527.3 455.4h2.9v2.9h-2.9z" fill="#ff6e00"/>
<path d="M529.9 455.4h2.9v2.9h-2.9z" fill="#ff6600"/>
<path d="M532.5 455.4h2.9v2.9h-2.9z" fill="#ff6500"/>
<path d="M535.1 455.4h2.9v2.9h-2.9z" fill="#ff7000"/>
<path d="M537.7 455.4h2.9v2.9h-2.9z" fill="#ff8c00"/>
<path d="M540.3 455.4h2.9v2.9h-2.9z" fill="#ffbb00"/>
<path d="M542.9 455.4h2.9v2.9h-2.9z" fill="#ffe300"/>
<path d="M545.5 455.4h2.9v2.9h-2.9z" fill="#eef500"/>
<path d="M548.1 455.4h2.9v2.9h-2.9z" fill="#d0f700"/>
<path d="M550.7 455.4h2.9v2.9h-2.9z" fill="#aef800"/>
<path d="M553.3 455.4h2.9v2.9h-2.9z" fill="#81f500"/>
<path d="M555.9 455.4h2.9v2.9h-2.9z" fill="#46f300"/>
<path d="M558.5 455.4h2.9v2.9h-2.9z" fill="#28f300"/>
<path d="M561.1 455.4h2.9v2.9h-2.9z" fill="#31f300"/>
<path d="M563.7 455.4h2.9v2.9h-2.9z" fill="#59f300"/>
<path d="M566.3 455.4h2.9v2.9h-2.9z" fill="#87f600"/>
<path d="M568.9 455.4h2.9v2.9h-2.9z" fill="#a5f700"/>
<path d="M571.5 455.4h2.9v2.9h-2.9z" fill="#b4f800"/>
<path d="M574.1 455.4h2.9v2.9h-2.9z" fill="#b7f800"/>
<path d="M576.7 455.4h2.9v2.9h-2.9z" fill="#b3f800"/>
<path d="M579.3 455.4h2.9v2.9h-2.9z" fill="#acf800"/>
<path d="M581.9 455.4h2.9v2.9h-2.9z" fill="#a5f700"/>
<path d="M584.5 455.4h2.9v2.9h-2.9z" fill="#9ef700"/>
<path d="M587.1 455.4h2.9v2.9h-2.9z" fill="#97f700"/>
<path d="M589.7 455.4h2.9v2.9h-2.9z" fill="#8df600"/>
<path d="M592.3 455.4h2.9v2.9h-2.9z" fill="#7ff500"/>
<path d="M594.9 455.4h2.9v2.9h-2.9z" fill="#69f400"/>
<path d="M597.5 455.4h2.9v2.9h-2.9z" fill="#4df300"/>
<path d="M600.1 455.4h2.9v2.9h-2.9z" fill="#32f300"/>
<path d="M602.7 455.4h2.9v2.9h-2.9z" fill="#1df400"/>
<path d="M605.3 455.4h2.9v2.9h-2.9z" fill="#12f400"/>
<path d="M607.9 455.4h2.9v2.9h-2.9z" fill="#15f400"/>
<path d="M610.5 455.4h2.9v2.9h-2.9z" fill="#28f300"/>
<path d="M613.1 455.4h2.9v2.9h-2.9z" fill="#45f200"/>
<path d="M615.7 455.4h2.9v2.9h-2.9z" fill="#6af400"/>
<path d="M618.3 455.4h2.9v2.9h-2.9z" fill="#87f600"/>
<path d="M620.9 455.4h2.9v2.9h-2.9z" fill="#9bf700"/>
<path d="M623.5 455.4h2.9v2.9h-2.9z" fill="#a8f800"/>
<path d="M626.1 455.4h2.9v2.9h-2.9z" fill="#b1f800"/>
<path d="M628.7 455.4h2.9v2.9h-2.9z" fill="#b7f800"/>
<path d="M631.3 455.4h2.9v2.9h-2.9z" fill="#bef700"/>
<path d="M633.9 455.4h2.9v2.9h-2.9z" fill="#c5f700"/>
<path d="M636.5 455.4h2.9v2.9h-2.9z" fill="#cdf700"/>
<path d="M639.1 455.4h2.9v2.9h-2.9z" fill="#d8f600"/>
<path d="M641.7 455.4h2.9v2.9h-2.9z" fill="#e5f600"/>
<path d="M644.3 455.4h2.9v2.9h-2.9z" fill="#f3f200"/>
<path d="M646.9 455.4h2.9v2.9h-2.9z" fill="#fce900"/>
<path d="M649.5 455.4h2.9v2.9h-2.9z" fill="#ffdb00"/>
<path d="M652.1 455.4h2.9v2.9h-2.9z" fill="#ffc500"/>
<path d="M654.7 455.4h2.9v2.9h-2.9z" fill="#ffab00"/>
<path d="M657.3 455.4h2.9v2.9h-2.9z" fill="#ff9900"/>
<path d="M659.9 455.4h2.9v2.9h-2.9z" fill="#ff8f00"/>
<path d="M662.5 455.4h2.9v2.9h-2.9z" fill="#ff8d00"/>
<path d="M665.1 455.4h2.9v2.9h-2.9z" fill="#ff9100"/>
<path d="M498.7 458h2.9v2.9h-2.9z" fill="#7ff500"/>
<path d="M501.3 458h2.9v2.9h-2.9z" fill="#86f600"/>
<path d="M503.9 458h2.9v2.9h-2.9z" fill="#8ff600"/>
<path d="M506.5 458h2.9v2.9h-2.9z" fill="#9cf700"/>
<path d="M509.1 458h2.9v2.9h-2.9z" fill="#adf800"/>
<path d="M511.7 458h2.9v2.9h-2.9z" fill="#c7f700"/>
<path d="M514.3 458h2.9v2.9h-2.9z" fill="#e8f500"/>
<path d="M516.9 458h2.9v2.9h-2.9z" fill="#fde800"/>
<path d="M519.5 458h2.9v2.9h-2.9z" fill="#ffd200"/>
<path d="M522.1 458h2.9v2.9h-2.9z" fill="#ffae00"/>
<path d="M524.7 458h2.9v2.9h-2.9z" fill="#ff9200"/>
<path d="M527.3 458h2.9v2.9h-2.9z" fill="#ff8100"/>
<path d="M529.9 458h2.9v2.9h-2.9z" fill="#ff7900"/>
<path d="M532.5 458h2.9v2.9h-2.9z" fill="#ff7b00"/>
<path d="M535.1 458h2.9v2.9h-2.9z" fill="#ff8900"/>
<path d="M537.7 458h2.9v2.9h-2.9z" fill="#ffa600"/>
<path d="M540.3 458h2.9v2.9h-2.9z" fill="#ffce00"/>
<path d="M542.9 458h2.9v2.9h-2.9z" fill="#fde800"/>
<path d="M545.5 458h2.9v2.9h-2.9z" fill="#ebf500"/>
<path d="M548.1 458h2.9v2.9h-2.9z" fill="#cef700"/>
<path d="M550.7 458h2.9v2.9h-2.9z" fill="#aff800"/>
<path d="M553.3 458h2.9v2.9h-2.9z" fill="#8ef600"/>
<path d="M555.9 458h2.9v2.9h-2.9z" fill="#6bf400"/>
<path d="M558.5 458h2.9v2.9h-2.9z" fill="#54f300"/>
<path d="M561.1 458h2.9v2.9h-2.9z" fill="#59f300"/>
<path d="M563.7 458h2.9v2.9h-2.9z" fill="#73f500"/>
<path d="M566.3 458h2.9v2.9h-2.9z" fill="#8df600"/>
<path d="M568.9 458h2.9v2.9h-2.9z" fill="#a2f700"/>
<path d="M571.5 458h2.9v2.9h-2.9z" fill="#acf800"/>
<path d="M574.1 458h2.9v2.9h-2.9z" fill="#adf800"/>
<path d="M576.7 458h2.9v2.9h-2.9z" fill="#aaf800"/>
<path d="M579.3 458h2.9v2.9h-2.9z" fill="#a5f700"/>
<path d="M581.9 458h2.9v2.9h-2.9z" fill="#a0f700"/>
<path d="M584.5 458h2.9v2.9h-2.9z" fill="#9bf700"/>
<path d="M587.1 458h2.9v2.9h-2.9z" fill="#95f700"/>
<path d="M589.7 458h2.9v2.9h-2.9z" fill="#8cf600"/>
<path d="M592.3 458h2.9v2.9h-2.9z" fill="#81f500"/>
<path d="M594.9 458h2.9v2.9h-2.9z" fill="#6ff500"/>
<path d="M597.5 458h2.9v2.9h-2.9z" fill="#56f300"/>
<path d="M600.1 458h2.9v2.9h-2.9z" fill="#3cf200"/>
<path d="M602.7 458h2.9v2.9h-2.9z" fill="#29f300"/>
<path d="M605.3 458h2.9v2.9h-2.9z" fill="#1ef400"/>
<path d="M607.9 458h2.9v2.9h-2.9z" fill="#1ef300"/>
<path d="M610.5 458h2.9v2.9h-2.9z" fill="#2bf300"/>
<path d="M613.1 458h2.9v2.9h-2.9z" fill="#42f200"/>
<path d="M615.7 458h2.9v2.9h-2.9z" fill="#5ff400"/>
<path d="M618.3 458h2.9v2.9h-2.9z" fill="#7bf500"/>
<path d="M620.9 458h2.9v2.9h-2.9z" fill="#8ef600"/>
<path d="M623.5 458h2.9v2.9h-2.9z" fill="#9cf700"/>
<path d="M626.1 458h2.9v2.9h-2.9z" fill="#a6f700"/>
<path d="M628.7 458h2.9v2.9h-2.9z" fill="#adf800"/>
<path d="M631.3 458h2.9v2.9h-2.9z" fill="#b6f800"/>
<path d="M633.9 458h2.9v2.9h-2.9z" fill="#bff700"/>
<path d="M636.5 458h2.9v2.9h-2.9z" fill="#caf700"/>
<path d="M639.1 458h2.9v2.9h-2.9z" fill="#d6f600"/>
<path d="M641.7 458h2.9v2.9h-2.9z" fill="#e5f600"/>
<path d="M644.3 458h2.9v2.9h-2.9z" fill="#f3f200"/>
<path d="M646.9 458h2.9v2.9h-2.9z" fill="#fbea00"/>
<path d="M649.5 458h2.9v2.9h-2.9z" fill="#ffde00"/>
<path d="M652.1 458h2.9v2.9h-2.9z" fill="#ffce00"/>
<path d="M654.7 458h2.9v2.9h-2.9z" fill="#ffb900"/>
<path d="M657.3 458h2.9v2.9h-2.9z" fill="#ffa900"/>
<path d="M659.9 458h2.9v2.9h-2.9z" fill="#ffa000"/>
<path d="M662.5 458h2.9v2.9h-2.9z" fill="#ff9e00"/>
<path d="M665.1 458h2.9v2.9h-2.9z" fill="#ffa000"/>
<path d="M498.7 460.6h2.9v2.9h-2.9z" fill="#7df500"/>
<path d="M501.3 460.6h2.9v2.9h-2.9z" fill="#84f600"/>
<path d="M503.9 460.6h2.9v2.9h-2.9z" fill="#8df600"/>
<path d="M506.5 460.6h2.9v2.9h-2.9z" fill="#99f700"/>
<path d="M509.1 460.6h2.9v2.9h-2.9z" fill="#a9f800"/>
<path d="M511.7 460.6h2.9v2.9h-2.9z" fill="#c1f700"/>
<path d="M514.3 460.6h2.9v2.9h-2.9z" fill="#def600"/>
<path d="M516.9 460.6h2.9v2.9h-2.9z" fill="#f6ef00"/>
<path d="M519.5 460.6h2.9v2.9h-2.9z" fill="#ffde00"/>
<path d="M522.1 460.6h2.9v2.9h-2.9z" fill="#ffca00"/>
<path d="M524.7 460.6h2.9v2.9h-2.9z" fill="#ffb200"/>
<path d="M527.3 460.6h2.9v2.9h-2.9z" fill="#ffa100"/>
<path d="M529.9 460.6h2.9v2.9h-2.9z" fill="#ff9a00"/>
<path d="M532.5 460.6h2.9v2.9h-2.9z" fill="#ff9d00"/>
<path d="M535.1 460.6h2.9v2.9h-2.9z" fill="#ffac00"/>
<path d="M537.7 460.6h2.9v2.9h-2.9z" fill="#ffc500"/>
<path d="M540.3 460.6h2.9v2.9h-2.9z" fill="#ffdc00"/>
<path d="M542.9 460.6h2.9v2.9h-2.9z" fill="#f9ec00"/>
<path d="M545.5 460.6h2.9v2.9h-2.9z" fill="#e9f500"/>
<path d="M548.1 460.6h2.9v2.9h-2.9z" fill="#cff700"/>
<path d="M550.7 460.6h2.9v2.9h-2.9z" fill="#b7f800"/>
<path d="M553.3 460.6h2.9v2.9h-2.9z" fill="#a0f700"/>
<path d="M555.9 460.6h2.9v2.9h-2.9z" fill="#8df600"/>
<path d="M558.5 460.6h2.9v2.9h-2.9z" fill="#83f600"/>
<path d="M561.1 460.6h2.9v2.9h-2.9z" fill="#84f600"/>
<path d="M563.7 460.6h2.9v2.9h-2.9z" fill="#8ff600"/>
<path d="M566.3 460.6h2.9v2.9h-2.9z" fill="#9df700"/>
<path d="M568.9 460.6h2.9v2.9h-2.9z" fill="#a8f800"/>
<path d="M571.5 460.6h2.9v2.9h-2.9z" fill="#acf800"/>
<path d="M574.1 460.6h2.9v2.9h-2.9z" fill="#abf800"/>
<path d="M576.7 460.6h2.9v2.9h-2.9z" fill="#a6f700"/>
<path d="M579.3 460.6h2.9v2.9h-2.9z" fill="#a1f700"/>
<path d="M581.9 460.6h2.9v2.9h-2.9z" fill="#9cf700"/>
<path d="M584.5 460.6h2.9v2.9h-2.9z" fill="#97f700"/>
<path d="M587.1 460.6h2.9v2.9h-2.9z" fill="#92f600"/>
<path d="M589.7 460.6h2.9v2.9h-2.9z" fill="#8cf600"/>
<path d="M592.3 460.6h2.9v2.9h-2.9z" fill="#83f600"/>
<path d="M594.9 460.6h2.9v2.9h-2.9z" fill="#77f500"/>
<path d="M597.5 460.6h2.9v2.9h-2.9z" fill="#65f400"/>
<path d="M600.1 460.6h2.9v2.9h-2.9z" fill="#52f300"/>
<path d="M602.7 460.6h2.9v2.9h-2.9z" fill="#41f200"/>
<path d="M605.3 460.6h2.9v2.9h-2.9z" fill="#36f200"/>
<path d="M607.9 460.6h2.9v2.9h-2.9z" fill="#33f200"/>
<path d="M610.5 460.6h2.9v2.9h-2.9z" fill="#38f200"/>
<path d="M613.1 460.6h2.9v2.9h-2.9z" fill="#46f300"/>
<path d="M615.7 460.6h2.9v2.9h-2.9z" fill="#5af400"/>
<path d="M618.3 460.6h2.9v2.9h-2.9z" fill="#71f500"/>
<path d="M620.9 460.6h2.9v2.9h-2.9z" fill="#84f600"/>
<path d="M623.5 460.6h2.9v2.9h-2.9z" fill="#93f600"/>
<path d="M626.1 460.6h2.9v2.9h-2.9z" fill="#9ff700"/>
<path d="M628.7 460.6h2.9v2.9h-2.9z" fill="#a9f800"/>
<path d="M631.3 460.6h2.9v2.9h-2.9z" fill="#b2f800"/>
<path d="M633.9 460.6h2.9v2.9h-2.9z" fill="#bdf700"/>
<path d="M636.5 460.6h2.9v2.9h-2.9z" fill="#caf700"/>
<path d="M639.1 460.6h2.9v2.9h-2.9z" fill="#d8f600"/>
<path d="M641.7 460.6h2.9v2.9h-2.9z" fill="#e7f500"/>
<path d="M644.3 460.6h2.9v2.9h-2.9z" fill="#f3f200"/>
<path d="M646.9 460.6h2.9v2.9h-2.9z" fill="#fbea00"/>
<path d="M649.5 460.6h2.9v2.9h-2.9z" fill="#ffe100"/>
<path d="M652.1 460.6h2.9v2.9h-2.9z" fill="#ffd700"/>
<path d="M654.7 460.6h2.9v2.9h-2.9z" fill="#ffca00"/>
<path d="M657.3 460.6h2.9v2.9h-2.9z" fill="#ffbe00"/>
<path d="M659.9 460.6h2.9v2.9h-2.9z" fill="#ffb600"/>
<path d="M662.5 460.6h2.9v2.9h-2.9z" fill="#ffb400"/>
<path d="M665.1 460.6h2.9v2.9h-2.9z" fill="#ffb400"/>
<path d="M498.7 463.2h2.9v2.9h-2.9z" fill="#7bf500"/>
<path d="M501.3 463.2h2.9v2.9h-2.9z" fill="#81f600"/>
<path d="M503.9 463.2h2.9v2.9h-2.9z" fill="#8af600"/>
<path d="M506.5 463.2h2.9v2.9h-2.9z" fill="#95f700"/>
<path d="M509.1 463.2h2.9v2.9h-2.9z" fill="#a3f700"/>
<path d="M511.7 463.2h2.9v2.9h-2.9z" fill="#b6f800"/>
<path d="M514.3 463.2h2.9v2.9h-2.9z" fill="#cff700"/>
<path d="M516.9 463.2h2.9v2.9h-2.9z" fill="#eaf500"/>
<path d="M519.5 463.2h2.9v2.9h-2.9z" fill="#f9ec00"/>
<path d="M522.1 463.2h2.9v2.9h-2.9z" fill="#ffe100"/>
<path d="M524.7 463.2h2.9v2.9h-2.9z" fill="#ffd600"/>
<path d="M527.3 463.2h2.9v2.9h-2.9z" fill="#ffcd00"/>
<path d="M529.9 463.2h2.9v2.9h-2.9z" fill="#ffc700"/>
<path d="M532.5 463.2h2.9v2.9h-2.9z" fill="#ffc900"/>
<path d="M535.1 463.2h2.9v2.9h-2.9z" fill="#ffd200"/>
<path d="M537.7 463.2h2.9v2.9h-2.9z" fill="#ffdc00"/>
<path d="M540.3 463.2h2.9v2.9h-2.9z" fill="#fee700"/>
<path d="M542.9 463.2h2.9v2.9h-2.9z" fill="#f5f000"/>
<path d="M545.5 463.2h2.9v2.9h-2.9z" fill="#e8f500"/>
<path d="M548.1 463.2h2.9v2.9h-2.9z" fill="#d5f600"/>
<path d="M550.7 463.2h2.9v2.9h-2.9z" fill="#c3f700"/>
<path d="M553.3 463.2h2.9v2.9h-2.9z" fill="#b3f800"/>
<path d="M555.9 463.2h2.9v2.9h-2.9z" fill="#a8f800"/>
<path d="M558.5 463.2h2.9v2.9h-2.9z" fill="#a4f700"/>
<path d="M561.1 463.2h2.9v2.9h-2.9z" fill="#a6f700"/>
<path d="M563.7 463.2h2.9v2.9h-2.9z" fill="#adf800"/>
<path d="M566.3 463.2h2.9v2.9h-2.9z" fill="#b5f800"/>
<path d="M568.9 463.2h2.9v2.9h-2.9z" fill="#b8f800"/>
<path d="M571.5 463.2h2.9v2.9h-2.9z" fill="#b6f800"/>
<path d="M574.1 463.2h2.9v2.9h-2.9z" fill="#aff800"/>
<path d="M576.7 463.2h2.9v2.9h-2.9z" fill="#a7f800"/>
<path d="M579.3 463.2h2.9v2.9h-2.9z" fill="#a0f700"/>
<path d="M581.9 463.2h2.9v2.9h-2.9z" fill="#9af700"/>
<path d="M584.5 463.2h2.9v2.9h-2.9z" fill="#95f700"/>
<path d="M587.1 463.2h2.9v2.9h-2.9z" fill="#91f600"/>
<path d="M589.7 463.2h2.9v2.9h-2.9z" fill="#8cf600"/>
<path d="M592.3 463.2h2.9v2.9h-2.9z" fill="#86f600"/>
<path d="M594.9 463.2h2.9v2.9h-2.9z" fill="#7ff500"/>
<path d="M597.5 463.2h2.9v2.9h-2.9z" fill="#75f500"/>
<path d="M600.1 463.2h2.9v2.9h-2.9z" fill="#6af400"/>
<path d="M602.7 463.2h2.9v2.9h-2.9z" fill="#5ff400"/>
<path d="M605.3 463.2h2.9v2.9h-2.9z" fill="#56f300"/>
<path d="M607.9 463.2h2.9v2.9h-2.9z" fill="#4ff300"/>
<path d="M610.5 463.2h2.9v2.9h-2.9z" fill="#4ef300"/>
<path d="M613.1 463.2h2.9v2.9h-2.9z" fill="#53f300"/>
<path d="M615.7 463.2h2.9v2.9h-2.9z" fill="#60f400"/>
<path d="M618.3 463.2h2.9v2.9h-2.9z" fill="#73f500"/>
<path d="M620.9 463.2h2.9v2.9h-2.9z" fill="#86f600"/>
<path d="M623.5 463.2h2.9v2.9h-2.9z" fill="#96f700"/>
<path d="M626.1 463.2h2.9v2.9h-2.9z" fill="#a4f700"/>
<path d="M628.7 463.2h2.9v2.9h-2.9z" fill="#aef800"/>
<path d="M631.3 463.2h2.9v2.9h-2.9z" fill="#b8f800"/>
<path d="M633.9 463.2h2.9v2.9h-2.9z" fill="#c4f700"/>
<path d="M636.5 463.2h2.9v2.9h-2.9z" fill="#d1f600"/>
<path d="M639.1 463.2h2.9v2.9h-2.9z" fill="#dff600"/>
<path d="M641.7 463.2h2.9v2.9h-2.9z" fill="#edf500"/>
<path d="M644.3 463.2h2.9v2.9h-2.9z" fill="#f4f100"/>
<path d="M646.9 463.2h2.9v2.9h-2.9z" fill="#faeb00"/>
<path d="M649.5 463.2h2.9v2.9h-2.9z" fill="#ffe600"/>
<path d="M652.1 463.2h2.9v2.9h-2.9z" fill="#ffdf00"/>
<path d="M654.7 463.2h2.9v2.9h-2.9z" fill="#ffd900"/>
<path d="M657.3 463.2h2.9v2.9h-2.9z" fill="#ffd400"/>
<path d="M659.9 463.2h2.9v2.9h-2.9z" fill="#ffd000"/>
<path d="M662.5 463.2h2.9v2.9h-2.9z" fill="#ffcd00"/>
<path d="M665.1 463.2h2.9v2.9h-2.9z" fill="#ffcc00"/>
<path d="M498.7 465.8h2.9v2.9h-2.9z" fill="#79f500"/>
<path d="M501.3 465.8h2.9v2.9h-2.9z" fill="#7ff500"/>
<path d="M503.9 465.8h2.9v2.9h-2.9z" fill="#86f600"/>
<path d="M506.5 465.8h2.9v2.9h-2.9z" fill="#90f600"/>
<path d="M509.1 465.8h2.9v2.9h-2.9z" fill="#9cf700"/>
<path d="M511.7 465.8h2.9v2.9h-2.9z" fill="#aaf800"/>
<path d="M514.3 465.8h2.9v2.9h-2.9z" fill="#bcf700"/>
<path d="M516.9 465.8h2.9v2.9h-2.9z" fill="#d1f600"/>
<path d="M519.5 465.8h2.9v2.9h-2.9z" fill="#e5f600"/>
<path d="M522.1 465.8h2.9v2.9h-2.9z" fill="#f3f200"/>
<path d="M524.7 465.8h2.9v2.9h-2.9z" fill="#f9ec00"/>
<path d="M527.3 465.8h2.9v2.9h-2.9z" fill="#fde800"/>
<path d="M529.9 465.8h2.9v2.9h-2.9z" fill="#ffe600"/>
<path d="M532.5 465.8h2.9v2.9h-2.9z" fill="#ffe500"/>
<path d="M535.1 465.8h2.9v2.9h-2.9z" fill="#ffe600"/>
<path d="M537.7 465.8h2.9v2.9h-2.9z" fill="#fce900"/>
<path d="M540.3 465.8h2.9v2.9h-2.9z" fill="#f8ed00"/>
<path d="M542.9 465.8h2.9v2.9h-2.9z" fill="#f4f100"/>
<path d="M545.5 465.8h2.9v2.9h-2.9z" fill="#edf500"/>
<path d="M548.1 465.8h2.9v2.9h-2.9z" fill="#e2f600"/>
<path d="M550.7 465.8h2.9v2.9h-2.9z" fill="#d7f600"/>
<path d="M553.3 465.8h2.9v2.9h-2.9z" fill="#cdf700"/>
<path d="M555.9 465.8h2.9v2.9h-2.9z" fill="#c8f700"/>
<path d="M558.5 465.8h2.9v2.9h-2.9z" fill="#c8f700"/>
<path d="M561.1 465.8h2.9v2.9h-2.9z" fill="#cef700"/>
<path d="M563.7 465.8h2.9v2.9h-2.9z" fill="#d5f600"/>
<path d="M566.3 465.8h2.9v2.9h-2.9z" fill="#d8f600"/>
<path d="M568.9 465.8h2.9v2.9h-2.9z" fill="#d4f600"/>
<path d="M571.5 465.8h2.9v2.9h-2.9z" fill="#c9f700"/>
<path d="M574.1 465.8h2.9v2.9h-2.9z" fill="#bbf800"/>
<path d="M576.7 465.8h2.9v2.9h-2.9z" fill="#adf800"/>
<path d="M579.3 465.8h2.9v2.9h-2.9z" fill="#a2f700"/>
<path d="M581.9 465.8h2.9v2.9h-2.9z" fill="#9af700"/>
<path d="M584.5 465.8h2.9v2.9h-2.9z" fill="#95f700"/>
<path d="M587.1 465.8h2.9v2.9h-2.9z" fill="#90f600"/>
<path d="M589.7 465.8h2.9v2.9h-2.9z" fill="#8df600"/>
<path d="M592.3 465.8h2.9v2.9h-2.9z" fill="#8af600"/>
<path d="M594.9 465.8h2.9v2.9h-2.9z" fill="#86f600"/>
<path d="M597.5 465.8h2.9v2.9h-2.9z" fill="#82f600"/>
<path d="M600.1 465.8h2.9v2.9h-2.9z" fill="#7df500"/>
<path d="M602.7 465.8h2.9v2.9h-2.9z" fill="#79f500"/>
<path d="M605.3 465.8h2.9v2.9h-2.9z" fill="#71f500"/>
<path d="M607.9 465.8h2.9v2.9h-2.9z" fill="#69f400"/>
<path d="M610.5 465.8h2.9v2.9h-2.9z" fill="#64f400"/>
<path d="M613.1 465.8h2.9v2.9h-2.9z" fill="#67f400"/>
<path d="M615.7 465.8h2.9v2.9h-2.9z" fill="#74f500"/>
<path d="M618.3 465.8h2.9v2.9h-2.9z" fill="#86f600"/>
<path d="M620.9 465.8h2.9v2.9h-2.9z" fill="#9af700"/>
<path d="M623.5 465.8h2.9v2.9h-2.9z" fill="#acf800"/>
<path d="M626.1 465.8h2.9v2.9h-2.9z" fill="#bbf700"/>
<path d="M628.7 465.8h2.9v2.9h-2.9z" fill="#c5f700"/>
<path d="M631.3 465.8h2.9v2.9h-2.9z" fill="#cef700"/>
<path d="M633.9 465.8h2.9v2.9h-2.9z" fill="#d8f600"/>
<path d="M636.5 465.8h2.9v2.9h-2.9z" fill="#e3f600"/>
<path d="M639.1 465.8h2.9v2.9h-2.9z" fill="#eff500"/>
<path d="M641.7 465.8h2.9v2.9h-2.9z" fill="#f4f100"/>
<path d="M644.3 465.8h2.9v2.9h-2.9z" fill="#f7ee00"/>
<path d="M646.9 465.8h2.9v2.9h-2.9z" fill="#f9ec00"/>
<path d="M649.5 465.8h2.9v2.9h-2.9z" fill="#fbea00"/>
<path d="M652.1 465.8h2.9v2.9h-2.9z" fill="#fde800"/>
<path d="M654.7 465.8h2.9v2.9h-2.9z" fill="#ffe500"/>
<path d="M657.3 465.8h2.9v2.9h-2.9z" fill="#ffe300"/>
<path d="M659.9 465.8h2.9v2.9h-2.9z" fill="#ffe000"/>
<path d="M662.5 465.8h2.9v2.9h-2.9z" fill="#ffde00"/>
<path d="M665.1 465.8h2.9v2.9h-2.9z" fill="#ffdc00"/>
<path d="M498.7 468.4h2.9v2.9h-2.9z" fill="#77f500"/>
<path d="M501.3 468.4h2.9v2.9h-2.9z" fill="#7cf500"/>
<path d="M503.9 468.4h2.9v2.9h-2.9z" fill="#82f600"/>
<path d="M506.5 468.4h2.9v2.9h-2.9z" fill="#8af600"/>
<path d="M509.1 468.4h2.9v2.9h-2.9z" fill="#94f600"/>
<path d="M511.7 468.4h2.9v2.9h-2.9z" fill="#9ff700"/>
<path d="M514.3 468.4h2.9v2.9h-2.9z" fill="#acf800"/>
<path d="M516.9 468.4h2.9v2.9h-2.9z" fill="#baf800"/>
<path d="M519.5 468.4h2.9v2.9h-2.9z" fill="#c9f700"/>
<path d="M522.1 468.4h2.9v2.9h-2.9z" fill="#d7f600"/>
<path d="M524.7 468.4h2.9v2.9h-2.9z" fill="#e2f600"/>
<path d="M527.3 468.4h2.9v2.9h-2.9z" fill="#e9f500"/>
<path d="M529.9 468.4h2.9v2.9h-2.9z" fill="#eff500"/>
<path d="M532.5 468.4h2.9v2.9h-2.9z" fill="#f2f300"/>
<path d="M535.1 468.4h2.9v2.9h-2.9z" fill="#f4f100"/>
<path d="M537.7 468.4h2.9v2.9h-2.9z" fill="#f5f000"/>
<path d="M540.3 468.4h2.9v2.9h-2.9z" fill="#f5f000"/>
<path d="M542.9 468.4h2.9v2.9h-2.9z" fill="#f5f000"/>
<path d="M545.5 468.4h2.9v2.9h-2.9z" fill="#f4f100"/>
<path d="M548.1 468.4h2.9v2.9h-2.9z" fill="#f3f200"/>
<path d="M550.7 468.4h2.9v2.9h-2.9z" fill="#f2f300"/>
<path d="M553.3 468.4h2.9v2.9h-2.9z" fill="#f2f300"/>
<path d="M555.9 468.4h2.9v2.9h-2.9z" fill="#f2f300"/>
<path d="M558.5 468.4h2.9v2.9h-2.9z" fill="#f4f100"/>
<path d="M561.1 468.4h2.9v2.9h-2.9z" fill="#f7ee00"/>
<path d="M563.7 468.4h2.9v2.9h-2.9z" fill="#f9ec00"/>
<path d="M566.3 468.4h2.9v2.9h-2.9z" fill="#f8ed00"/>
<path d="M568.9 468.4h2.9v2.9h-2.9z" fill="#f3f200"/>
<path d="M571.5 468.4h2.9v2.9h-2.9z" fill="#e2f600"/>
<path d="M574.1 468.4h2.9v2.9h-2.9z" fill="#cbf700"/>
<path d="M576.7 468.4h2.9v2.9h-2.9z" fill="#b6f800"/>
<path d="M579.3 468.4h2.9v2.9h-2.9z" fill="#a7f700"/>
<path d="M581.9 468.4h2.9v2.9h-2.9z" fill="#9df700"/>
<path d="M584.5 468.4h2.9v2.9h-2.9z" fill="#96f700"/>
<path d="M587.1 468.4h2.9v2.9h-2.9z" fill="#92f600"/>
<path d="M589.7 468.4h2.9v2.9h-2.9z" fill="#90f600"/>
<path d="M592.3 468.4h2.9v2.9h-2.9z" fill="#8ef600"/>
<path d="M594.9 468.4h2.9v2.9h-2.9z" fill="#8cf600"/>
<path d="M597.5 468.4h2.9v2.9h-2.9z" fill="#8af600"/>
<path d="M600.1 468.4h2.9v2.9h-2.9z" fill="#88f600"/>
<path d="M602.7 468.4h2.9v2.9h-2.9z" fill="#85f600"/>
<path d="M605.3 468.4h2.9v2.9h-2.9z" fill="#7ff500"/>
<path d="M607.9 468.4h2.9v2.9h-2.9z" fill="#79f500"/>
<path d="M610.5 468.4h2.9v2.9h-2.9z" fill="#75f500"/>
<path d="M613.1 468.4h2.9v2.9h-2.9z" fill="#7cf500"/>
<path d="M615.7 468.4h2.9v2.9h-2.9z" fill="#8df600"/>
<path d="M618.3 468.4h2.9v2.9h-2.9z" fill="#a5f700"/>
<path d="M620.9 468.4h2.9v2.9h-2.9z" fill="#c1f700"/>
<path d="M623.5 468.4h2.9v2.9h-2.9z" fill="#d9f600"/>
<path d="M626.1 468.4h2.9v2.9h-2.9z" fill="#e8f500"/>
<path d="M628.7 468.4h2.9v2.9h-2.9z" fill="#f0f500"/>
<path d="M631.3 468.4h2.9v2.9h-2.9z" fill="#f2f300"/>
<path d="M633.9 468.4h2.9v2.9h-2.9z" fill="#f5f000"/>
<path d="M636.5 468.4h2.9v2.9h-2.9z" fill="#f7ee00"/>
<path d="M639.1 468.4h2.9v2.9h-2.9z" fill="#faeb00"/>
<path d="M641.7 468.4h2.9v2.9h-2.9z" fill="#fbea00"/>
<path d="M644.3 468.4h2.9v2.9h-2.9z" fill="#fbea00"/>
<path d="M646.9 468.4h2.9v2.9h-2.9z" fill="#faeb00"/>
<path d="M649.5 468.4h2.9v2.9h-2.9z" fill="#f8ed00"/>
<path d="M652.1 468.4h2.9v2.9h-2.9z" fill="#f7ee00"/>
<path d="M654.7 468.4h2.9v2.9h-2.9z" fill="#f6ef00"/>
<path d="M657.3 468.4h2.9v2.9h-2.9z" fill="#f7ee00"/>
<path d="M659.9 468.4h2.9v2.9h-2.9z" fill="#f8ed00"/>
<path d="M662.5 468.4h2.9v2.9h-2.9z" fill="#faeb00"/>
<path d="M665.1 468.4h2.9v2.9h-2.9z" fill="#fce900"/>
<path d="M498.7 471h2.9v2.9h-2.9z" fill="#76f500"/>
<path d="M501.3 471h2.9v2.9h-2.9z" fill="#7af500"/>
<path d="M503.9 471h2.9v2.9h-2.9z" fill="#7ff500"/>
<path d="M506.5 471h2.9v2.9h-2.9z" fill="#85f600"/>
<path d="M509.1 471h2.9v2.9h-2.9z" fill="#8df600"/>
<path d="M511.7 471h2.9v2.9h-2.9z" fill="#96f700"/>
<path d="M514.3 471h2.9v2.9h-2.9z" fill="#a0f700"/>
<path d="M516.9 471h2.9v2.9h-2.9z" fill="#aaf800"/>
<path d="M519.5 471h2.9v2.9h-2.9z" fill="#b5f800"/>
<path d="M522.1 471h2.9v2.9h-2.9z" fill="#c0f700"/>
<path d="M524.7 471h2.9v2.9h-2.9z" fill="#c9f700"/>
<path d="M527.3 471h2.9v2.9h-2.9z" fill="#d1f600"/>
<path d="M529.9 471h2.9v2.9h-2.9z" fill="#d9f600"/>
<path d="M532.5 471h2.9v2.9h-2.9z" fill="#e2f600"/>
<path d="M535.1 471h2.9v2.9h-2.9z" fill="#ecf500"/>
<path d="M537.7 471h2.9v2.9h-2.9z" fill="#f2f300"/>
<path d="M540.3 471h2.9v2.9h-2.9z" fill="#f6ef00"/>
<path d="M542.9 471h2.9v2.9h-2.9z" fill="#f9ec00"/>
<path d="M545.5 471h2.9v2.9h-2.9z" fill="#fce900"/>
<path d="M548.1 471h2.9v2.9h-2.9z" fill="#ffe500"/>
<path d="M550.7 471h2.9v2.9h-2.9z" fill="#ffe000"/>
<path d="M553.3 471h2.9v2.9h-2.9z" fill="#ffdc00"/>
<path d="M555.9 471h2.9v2.9h-2.9z" fill="#ffd700"/>
<path d="M558.5 471h2.9v2.9h-2.9z" fill="#ffd300"/>
<path d="M561.1 471h2.9v2.9h-2.9z" fill="#ffcf00"/>
<path d="M563.7 471h2.9v2.9h-2.9z" fill="#ffcf00"/>
<path d="M566.3 471h2.9v2.9h-2.9z" fill="#ffd600"/>
<path d="M568.9 471h2.9v2.9h-2.9z" fill="#ffe100"/>
<path d="M571.5 471h2.9v2.9h-2.9z" fill="#f6ef00"/>
<path d="M574.1 471h2.9v2.9h-2.9z" fill="#dff600"/>
<path d="M576.7 471h2.9v2.9h-2.9z" fill="#c3f700"/>
<path d="M579.3 471h2.9v2.9h-2.9z" fill="#aff800"/>
<path d="M581.9 471h2.9v2.9h-2.9z" fill="#a3f700"/>
<path d="M584.5 471h2.9v2.9h-2.9z" fill="#9bf700"/>
<path d="M587.1 471h2.9v2.9h-2.9z" fill="#97f700"/>
<path d="M589.7 471h2.9v2.9h-2.9z" fill="#94f700"/>
<path d="M592.3 471h2.9v2.9h-2.9z" fill="#93f600"/>
<path d="M594.9 471h2.9v2.9h-2.9z" fill="#91f600"/>
<path d="M597.5 471h2.9v2.9h-2.9z" fill="#90f600"/>
<path d="M600.1 471h2.9v2.9h-2.9z" fill="#8ef600"/>
<path d="M602.7 471h2.9v2.9h-2.9z" fill="#8af600"/>
<path d="M605.3 471h2.9v2.9h-2.9z" fill="#84f600"/>
<path d="M607.9 471h2.9v2.9h-2.9z" fill="#7ff500"/>
<path d="M610.5 471h2.9v2.9h-2.9z" fill="#80f500"/>
<path d="M613.1 471h2.9v2.9h-2.9z" fill="#8df600"/>
<path d="M615.7 471h2.9v2.9h-2.9z" fill="#a7f800"/>
<path d="M618.3 471h2.9v2.9h-2.9z" fill="#cef700"/>
<path d="M620.9 471h2.9v2.9h-2.9z" fill="#f2f300"/>
<path d="M623.5 471h2.9v2.9h-2.9z" fill="#fde800"/>
<path d="M626.1 471h2.9v2.9h-2.9z" fill="#ffdf00"/>
<path d="M628.7 471h2.9v2.9h-2.9z" fill="#ffdc00"/>
<path d="M631.3 471h2.9v2.9h-2.9z" fill="#ffdb00"/>
<path d="M633.9 471h2.9v2.9h-2.9z" fill="#ffdb00"/>
<path d="M636.5 471h2.9v2.9h-2.9z" fill="#ffdb00"/>
<path d="M639.1 471h2.9v2.9h-2.9z" fill="#ffdd00"/>
<path d="M641.7 471h2.9v2.9h-2.9z" fill="#ffe000"/>
<path d="M644.3 471h2.9v2.9h-2.9z" fill="#ffe500"/>
<path d="M646.9 471h2.9v2.9h-2.9z" fill="#fce900"/>
<path d="M649.5 471h2.9v2.9h-2.9z" fill="#f7ee00"/>
<path d="M652.1 471h2.9v2.9h-2.9z" fill="#f2f300"/>
<path d="M654.7 471h2.9v2.9h-2.9z" fill="#edf500"/>
<path d="M657.3 471h2.9v2.9h-2.9z" fill="#eaf500"/>
<path d="M659.9 471h2.9v2.9h-2.9z" fill="#ecf500"/>
<path d="M662.5 471h2.9v2.9h-2.9z" fill="#f1f400"/>
<path d="M665.1 471h2.9v2.9h-2.9z" fill="#f3f200"/>
<path d="M498.7 473.6h2.9v2.9h-2.9z" fill="#76f500"/>
<path d="M501.3 473.6h2.9v2.9h-2.9z" fill="#79f500"/>
<path d="M503.9 473.6h2.9v2.9h-2.9z" fill="#7df500"/>
<path d="M506.5 473.6h2.9v2.9h-2.9z" fill="#83f600"/>
<path d="M509.1 473.6h2.9v2.9h-2.9z" fill="#89f600"/>
<path d="M511.7 473.6h2.9v2.9h-2.9z" fill="#91f600"/>
<path d="M514.3 473.6h2.9v2.9h-2.9z" fill="#99f700"/>
<path d="M516.9 473.6h2.9v2.9h-2.9z" fill="#a2f700"/>
<path d="M519.5 473.6h2.9v2.9h-2.9z" fill="#abf800"/>
<path d="M522.1 473.6h2.9v2.9h-2.9z" fill="#b4f800"/>
<path d="M524.7 473.6h2.9v2.9h-2.9z" fill="#bdf700"/>
<path d="M527.3 473.6h2.9v2.9h-2.9z" fill="#c7f700"/>
<path d="M529.9 473.6h2.9v2.9h-2.9z" fill="#d1f600"/>
<path d="M532.5 473.6h2.9v2.9h-2.9z" fill="#dcf600"/>
<path d="M535.1 473.6h2.9v2.9h-2.9z" fill="#e9f500"/>
<path d="M537.7 473.6h2.9v2.9h-2.9z" fill="#f3f200"/>
<path d="M540.3 473.6h2.9v2.9h-2.9z" fill="#f9ec00"/>
<path d="M542.9 473.6h2.9v2.9h-2.9z" fill="#ffe500"/>
<path d="M545.5 473.6h2.9v2.9h-2.9z" fill="#ffdd00"/>
<path d="M548.1 473.6h2.9v2.9h-2.9z" fill="#ffd300"/>
<path d="M550.7 473.6h2.9v2.9h-2.9z" fill="#ffc200"/>
<path d="M553.3 473.6h2.9v2.9h-2.9z" fill="#ffb100"/>
<path d="M555.9 473.6h2.9v2.9h-2.9z" fill="#ffa300"/>
<path d="M558.5 473.6h2.9v2.9h-2.9z" fill="#ff9b00"/>
<path d="M561.1 473.6h2.9v2.9h-2.9z" fill="#ff9900"/>
<path d="M563.7 473.6h2.9v2.9h-2.9z" fill="#ff9f00"/>
<path d="M566.3 473.6h2.9v2.9h-2.9z" fill="#ffaf00"/>
<path d="M568.9 473.6h2.9v2.9h-2.9z" fill="#ffca00"/>
<path d="M571.5 473.6h2.9v2.9h-2.9z" fill="#ffe200"/>
<path d="M574.1 473.6h2.9v2.9h-2.9z" fill="#f2f300"/>
<path d="M576.7 473.6h2.9v2.9h-2.9z" fill="#d4f600"/>
<path d="M579.3 473.6h2.9v2.9h-2.9z" fill="#bcf700"/>
<path d="M581.9 473.6h2.9v2.9h-2.9z" fill="#adf800"/>
<path d="M584.5 473.6h2.9v2.9h-2.9z" fill="#a5f700"/>
<path d="M587.1 473.6h2.9v2.9h-2.9z" fill="#9ff700"/>
<path d="M589.7 473.6h2.9v2.9h-2.9z" fill="#9cf700"/>
<path d="M592.3 473.6h2.9v2.9h-2.9z" fill="#99f700"/>
<path d="M594.9 473.6h2.9v2.9h-2.9z" fill="#97f700"/>
<path d="M597.5 473.6h2.9v2.9h-2.9z" fill="#95f700"/>
<path d="M600.1 473.6h2.9v2.9h-2.9z" fill="#92f600"/>
<path d="M602.7 473.6h2.9v2.9h-2.9z" fill="#8df600"/>
<path d="M605.3 473.6h2.9v2.9h-2.9z" fill="#88f600"/>
<path d="M607.9 473.6h2.9v2.9h-2.9z" fill="#86f600"/>
<path d="M610.5 473.6h2.9v2.9h-2.9z" fill="#8bf600"/>
<path d="M613.1 473.6h2.9v2.9h-2.9z" fill="#9ff700"/>
<path d="M615.7 473.6h2.9v2.9h-2.9z" fill="#c4f700"/>
<path d="M618.3 473.6h2.9v2.9h-2.9z" fill="#f2f300"/>
<path d="M620.9 473.6h2.9v2.9h-2.9z" fill="#ffdf00"/>
<path d="M623.5 473.6h2.9v2.9h-2.9z" fill="#ffc900"/>
<path d="M626.1 473.6h2.9v2.9h-2.9z" fill="#ffb800"/>
<path d="M628.7 473.6h2.9v2.9h-2.9z" fill="#ffb100"/>
<path d="M631.3 473.6h2.9v2.9h-2.9z" fill="#ffb100"/>
<path d="M633.9 473.6h2.9v2.9h-2.9z" fill="#ffb600"/>
<path d="M636.5 473.6h2.9v2.9h-2.9z" fill="#ffbe00"/>
<path d="M639.1 473.6h2.9v2.9h-2.9z" fill="#ffc800"/>
<path d="M641.7 473.6h2.9v2.9h-2.9z" fill="#ffd400"/>
<path d="M644.3 473.6h2.9v2.9h-2.9z" fill="#ffdd00"/>
<path d="M646.9 473.6h2.9v2.9h-2.9z" fill="#ffe600"/>
<path d="M649.5 473.6h2.9v2.9h-2.9z" fill="#f7ee00"/>
<path d="M652.1 473.6h2.9v2.9h-2.9z" fill="#f0f500"/>
<path d="M654.7 473.6h2.9v2.9h-2.9z" fill="#e3f600"/>
<path d="M657.3 473.6h2.9v2.9h-2.9z" fill="#ddf600"/>
<path d="M659.9 473.6h2.9v2.9h-2.9z" fill="#ddf600"/>
<path d="M662.5 473.6h2.9v2.9h-2.9z" fill="#e2f600"/>
<path d="M665.1 473.6h2.9v2.9h-2.9z" fill="#e9f500"/>
<path d="M498.7 476.2h2.9v2.9h-2.9z" fill="#77f500"/>
<path d="M501.3 476.2h2.9v2.9h-2.9z" fill="#7af500"/>
<path d="M503.9 476.2h2.9v2.9h-2.9z" fill="#7ef500"/>
<path d="M506.5 476.2h2.9v2.9h-2.9z" fill="#83f600"/>
<path d="M509.1 476.2h2.9v2.9h-2.9z" fill="#89f600"/>
<path d="M511.7 476.2h2.9v2.9h-2.9z" fill="#8ff600"/>
<path d="M514.3 476.2h2.9v2.9h-2.9z" fill="#97f700"/>
<path d="M516.9 476.2h2.9v2.9h-2.9z" fill="#9ff700"/>
<path d="M519.5 476.2h2.9v2.9h-2.9z" fill="#a7f800"/>
<path d="M522.1 476.2h2.9v2.9h-2.9z" fill="#aff800"/>
<path d="M524.7 476.2h2.9v2.9h-2.9z" fill="#baf800"/>
<path d="M527.3 476.2h2.9v2.9h-2.9z" fill="#c5f700"/>
<path d="M529.9 476.2h2.9v2.9h-2.9z" fill="#d1f600"/>
<path d="M532.5 476.2h2.9v2.9h-2.9z" fill="#dff600"/>
<path d="M535.1 476.2h2.9v2.9h-2.9z" fill="#eef500"/>
<path d="M537.7 476.2h2.9v2.9h-2.9z" fill="#f6ef00"/>
<path d="M540.3 476.2h2.9v2.9h-2.9z" fill="#fee700"/>
<path d="M542.9 476.2h2.9v2.9h-2.9z" fill="#ffdc00"/>
<path d="M545.5 476.2h2.9v2.9h-2.9z" fill="#ffcf00"/>
<path d="M548.1 476.2h2.9v2.9h-2.9z" fill="#ffb900"/>
<path d="M550.7 476.2h2.9v2.9h-2.9z" fill="#ffa200"/>
<path d="M553.3 476.2h2.9v2.9h-2.9z" fill="#ff8c00"/>
<path d="M555.9 476.2h2.9v2.9h-2.9z" fill="#ff7d00"/>
<path d="M558.5 476.2h2.9v2.9h-2.9z" fill="#ff7500"/>
<path d="M561.1 476.2h2.9v2.9h-2.9z" fill="#ff7600"/>
<path d="M563.7 476.2h2.9v2.9h-2.9z" fill="#ff7f00"/>
<path d="M566.3 476.2h2.9v2.9h-2.9z" fill="#ff9200"/>
<path d="M568.9 476.2h2.9v2.9h-2.9z" fill="#ffb000"/>
<path d="M571.5 476.2h2.9v2.9h-2.9z" fill="#ffd500"/>
<path d="M574.1 476.2h2.9v2.9h-2.9z" fill="#fbea00"/>
<path d="M576.7 476.2h2.9v2.9h-2.9z" fill="#e9f500"/>
<path d="M579.3 476.2h2.9v2.9h-2.9z" fill="#d0f700"/>
<path d="M581.9 476.2h2.9v2.9h-2.9z" fill="#bef700"/>
<path d="M584.5 476.2h2.9v2.9h-2.9z" fill="#b2f800"/>
<path d="M587.1 476.2h2.9v2.9h-2.9z" fill="#abf800"/>
<path d="M589.7 476.2h2.9v2.9h-2.9z" fill="#a6f700"/>
<path d="M592.3 476.2h2.9v2.9h-2.9z" fill="#a3f700"/>
<path d="M594.9 476.2h2.9v2.9h-2.9z" fill="#a0f700"/>
<path d="M597.5 476.2h2.9v2.9h-2.9z" fill="#9df700"/>
<path d="M600.1 476.2h2.9v2.9h-2.9z" fill="#99f700"/>
<path d="M602.7 476.2h2.9v2.9h-2.9z" fill="#95f700"/>
<path d="M605.3 476.2h2.9v2.9h-2.9z" fill="#92f600"/>
<path d="M607.9 476.2h2.9v2.9h-2.9z" fill="#93f600"/>
<path d="M610.5 476.2h2.9v2.9h-2.9z" fill="#9df700"/>
<path d="M613.1 476.2h2.9v2.9h-2.9z" fill="#b6f800"/>
<path d="M615.7 476.2h2.9v2.9h-2.9z" fill="#e1f600"/>
<path d="M618.3 476.2h2.9v2.9h-2.9z" fill="#fee700"/>
<path d="M620.9 476.2h2.9v2.9h-2.9z" fill="#ffca00"/>
<path d="M623.5 476.2h2.9v2.9h-2.9z" fill="#ffa900"/>
<path d="M626.1 476.2h2.9v2.9h-2.9z" fill="#ff9600"/>
<path d="M628.7 476.2h2.9v2.9h-2.9z" fill="#ff8e00"/>
<path d="M631.3 476.2h2.9v2.9h-2.9z" fill="#ff8f00"/>
<path d="M633.9 476.2h2.9v2.9h-2.9z" fill="#ff9600"/>
<path d="M636.5 476.2h2.9v2.9h-2.9z" fill="#ffa200"/>
<path d="M639.1 476.2h2.9v2.9h-2.9z" fill="#ffb200"/>
<path d="M641.7 476.2h2.9v2.9h-2.9z" fill="#ffc400"/>
<path d="M644.3 476.2h2.9v2.9h-2.9z" fill="#ffd600"/>
<path d="M646.9 476.2h2.9v2.9h-2.9z" fill="#ffe200"/>
<path d="M649.5 476.2h2.9v2.9h-2.9z" fill="#f9ec00"/>
<path d="M652.1 476.2h2.9v2.9h-2.9z" fill="#f1f400"/>
<path d="M654.7 476.2h2.9v2.9h-2.9z" fill="#e2f600"/>
<path d="M657.3 476.2h2.9v2.9h-2.9z" fill="#d9f600"/>
<path d="M659.9 476.2h2.9v2.9h-2.9z" fill="#d8f600"/>
<path d="M662.5 476.2h2.9v2.9h-2.9z" fill="#dbf600"/>
<path d="M665.1 476.2h2.9v2.9h-2.9z" fill="#e1f600"/>
<path d="M498.7 478.8h2.9v2.9h-2.9z" fill="#7af500"/>
<path d="M501.3 478.8h2.9v2.9h-2.9z" fill="#7df500"/>
<path d="M503.9 478.8h2.9v2.9h-2.9z" fill="#80f500"/>
<path d="M506.5 478.8h2.9v2.9h-2.9z" fill="#85f600"/>
<path d="M509.1 478.8h2.9v2.9h-2.9z" fill="#8af600"/>
<path d="M511.7 478.8h2.9v2.9h-2.9z" fill="#91f600"/>
<path d="M514.3 478.8h2.9v2.9h-2.9z" fill="#98f700"/>
<path d="M516.9 478.8h2.9v2.9h-2.9z" fill="#9ff700"/>
<path d="M519.5 478.8h2.9v2.9h-2.9z" fill="#a8f800"/>
<path d="M522.1 478.8h2.9v2.9h-2.9z" fill="#b1f800"/>
<path d="M524.7 478.8h2.9v2.9h-2.9z" fill="#bcf700"/>
<path d="M527.3 478.8h2.9v2.9h-2.9z" fill="#c8f700"/>
<path d="M529.9 478.8h2.9v2.9h-2.9z" fill="#d6f600"/>
<path d="M532.5 478.8h2.9v2.9h-2.9z" fill="#e5f600"/>
<path d="M535.1 478.8h2.9v2.9h-2.9z" fill="#f3f200"/>
<path d="M537.7 478.8h2.9v2.9h-2.9z" fill="#fbea00"/>
<path d="M540.3 478.8h2.9v2.9h-2.9z" fill="#ffe000"/>
<path d="M542.9 478.8h2.9v2.9h-2.9z" fill="#ffd400"/>
<path d="M545.5 478.8h2.9v2.9h-2.9z" fill="#ffbe00"/>
<path d="M548.1 478.8h2.9v2.9h-2.9z" fill="#ffa600"/>
<path d="M550.7 478.8h2.9v2.9h-2.9z" fill="#ff8d00"/>
<path d="M553.3 478.8h2.9v2.9h-2.9z" fill="#ff7900"/>
<path d="M555.9 478.8h2.9v2.9h-2.9z" fill="#ff6a00"/>
<path d="M558.5 478.8h2.9v2.9h-2.9z" fill="#ff6300"/>
<path d="M561.1 478.8h2.9v2.9h-2.9z" fill="#ff6500"/>
<path d="M563.7 478.8h2.9v2.9h-2.9z" fill="#ff7000"/>
<path d="M566.3 478.8h2.9v2.9h-2.9z" fill="#ff8300"/>
<path d="M568.9 478.8h2.9v2.9h-2.9z" fill="#ffa000"/>
<path d="M571.5 478.8h2.9v2.9h-2.9z" fill="#ffc400"/>
<path d="M574.1 478.8h2.9v2.9h-2.9z" fill="#ffdf00"/>
<path d="M576.7 478.8h2.9v2.9h-2.9z" fill="#f7ee00"/>
<path d="M579.3 478.8h2.9v2.9h-2.9z" fill="#e6f500"/>
<path d="M581.9 478.8h2.9v2.9h-2.9z" fill="#d3f600"/>
<path d="M584.5 478.8h2.9v2.9h-2.9z" fill="#c5f700"/>
<path d="M587.1 478.8h2.9v2.9h-2.9z" fill="#bbf700"/>
<path d="M589.7 478.8h2.9v2.9h-2.9z" fill="#b4f800"/>
<path d="M592.3 478.8h2.9v2.9h-2.9z" fill="#aff800"/>
<path d="M594.9 478.8h2.9v2.9h-2.9z" fill="#abf800"/>
<path d="M597.5 478.8h2.9v2.9h-2.9z" fill="#a7f800"/>
<path d="M600.1 478.8h2.9v2.9h-2.9z" fill="#a4f700"/>
<path d="M602.7 478.8h2.9v2.9h-2.9z" fill="#a2f700"/>
<path d="M605.3 478.8h2.9v2.9h-2.9z" fill="#a2f700"/>
<path d="M607.9 478.8h2.9v2.9h-2.9z" fill="#a7f800"/>
<path d="M610.5 478.8h2.9v2.9h-2.9z" fill="#b5f800"/>
<path d="M613.1 478.8h2.9v2.9h-2.9z" fill="#d2f600"/>
<path d="M615.7 478.8h2.9v2.9h-2.9z" fill="#f4f100"/>
<path d="M618.3 478.8h2.9v2.9h-2.9z" fill="#ffdc00"/>
<path d="M620.9 478.8h2.9v2.9h-2.9z" fill="#ffba00"/>
<path d="M623.5 478.8h2.9v2.9h-2.9z" fill="#ff9b00"/>
<path d="M626.1 478.8h2.9v2.9h-2.9z" fill="#ff8700"/>
<path d="M628.7 478.8h2.9v2.9h-2.9z" fill="#ff7f00"/>
<path d="M631.3 478.8h2.9v2.9h-2.9z" fill="#ff7f00"/>
<path d="M633.9 478.8h2.9v2.9h-2.9z" fill="#ff8600"/>
<path d="M636.5 478.8h2.9v2.9h-2.9z" fill="#ff9300"/>
<path d="M639.1 478.8h2.9v2.9h-2.9z" fill="#ffa400"/>
<path d="M641.7 478.8h2.9v2.9h-2.9z" fill="#ffb800"/>
<path d="M644.3 478.8h2.9v2.9h-2.9z" fill="#ffce00"/>
<path d="M646.9 478.8h2.9v2.9h-2.9z" fill="#ffdd00"/>
<path d="M649.5 478.8h2.9v2.9h-2.9z" fill="#fce900"/>
<path d="M652.1 478.8h2.9v2.9h-2.9z" fill="#f4f100"/>
<path d="M654.7 478.8h2.9v2.9h-2.9z" fill="#e9f500"/>
<path d="M657.3 478.8h2.9v2.9h-2.9z" fill="#dff600"/>
<path d="M659.9 478.8h2.9v2.9h-2.9z" fill="#dbf600"/>
<path d="M662.5 478.8h2.9v2.9h-2.9z" fill="#dcf600"/>
<path d="M665.1 478.8h2.9v2.9h-2.9z" fill="#e0f600"/>
<path d="M498.7 481.4h2.9v2.9h-2.9z" fill="#7ef500"/>
<path d="M501.3 481.4h2.9v2.9h-2.9z" fill="#81f500"/>
<path d="M503.9 481.4h2.9v2.9h-2.9z" fill="#84f600"/>
<path d="M506.5 481.4h2.9v2.9h-2.9z" fill="#89f600"/>
<path d="M509.1 481.4h2.9v2.9h-2.9z" fill="#8ef600"/>
<path d="M511.7 481.4h2.9v2.9h-2.9z" fill="#94f700"/>
<path d="M514.3 481.4h2.9v2.9h-2.9z" fill="#9bf700"/>
<path d="M516.9 481.4h2.9v2.9h-2.9z" fill="#a3f700"/>
<path d="M519.5 481.4h2.9v2.9h-2.9z" fill="#abf800"/>
<path d="M522.1 481.4h2.9v2.9h-2.9z" fill="#b6f800"/>
<path d="M524.7 481.4h2.9v2.9h-2.9z" fill="#c1f700"/>
<path d="M527.3 481.4h2.9v2.9h-2.9z" fill="#cff700"/>
<path d="M529.9 481.4h2.9v2.9h-2.9z" fill="#ddf600"/>
<path d="M532.5 481.4h2.9v2.9h-2.9z" fill="#eef500"/>
<path d="M535.1 481.4h2.9v2.9h-2.9z" fill="#f7ee00"/>
<path d="M537.7 481.4h2.9v2.9h-2.9z" fill="#ffe600"/>
<path d="M540.3 481.4h2.9v2.9h-2.9z" fill="#ffda00"/>
<path d="M542.9 481.4h2.9v2.9h-2.9z" fill="#ffca00"/>
<path d="M545.5 481.4h2.9v2.9h-2.9z" fill="#ffb300"/>
<path d="M548.1 481.4h2.9v2.9h-2.9z" fill="#ff9b00"/>
<path d="M550.7 481.4h2.9v2.9h-2.9z" fill="#ff8400"/>
<path d="M553.3 481.4h2.9v2.9h-2.9z" fill="#ff7200"/>
<path d="M555.9 481.4h2.9v2.9h-2.9z" fill="#ff6500"/>
<path d="M558.5 481.4h2.9v2.9h-2.9z" fill="#ff5e00"/>
<path d="M561.1 481.4h2.9v2.9h-2.9z" fill="#ff6100"/>
<path d="M563.7 481.4h2.9v2.9h-2.9z" fill="#ff6c00"/>
<path d="M566.3 481.4h2.9v2.9h-2.9z" fill="#ff7e00"/>
<path d="M568.9 481.4h2.9v2.9h-2.9z" fill="#ff9800"/>
<path d="M571.5 481.4h2.9v2.9h-2.9z" fill="#ffb700"/>
<path d="M574.1 481.4h2.9v2.9h-2.9z" fill="#ffd500"/>
<path d="M576.7 481.4h2.9v2.9h-2.9z" fill="#ffe600"/>
<path d="M579.3 481.4h2.9v2.9h-2.9z" fill="#f5f000"/>
<path d="M581.9 481.4h2.9v2.9h-2.9z" fill="#e8f500"/>
<path d="M584.5 481.4h2.9v2.9h-2.9z" fill="#d9f600"/>
<path d="M587.1 481.4h2.9v2.9h-2.9z" fill="#cef700"/>
<path d="M589.7 481.4h2.9v2.9h-2.9z" fill="#c5f700"/>
<path d="M592.3 481.4h2.9v2.9h-2.9z" fill="#bff700"/>
<path d="M594.9 481.4h2.9v2.9h-2.9z" fill="#baf800"/>
<path d="M597.5 481.4h2.9v2.9h-2.9z" fill="#b6f800"/>
<path d="M600.1 481.4h2.9v2.9h-2.9z" fill="#b4f800"/>
<path d="M602.7 481.4h2.9v2.9h-2.9z" fill="#b3f800"/>
<path d="M605.3 481.4h2.9v2.9h-2.9z" fill="#b6f800"/>
<path d="M607.9 481.4h2.9v2.9h-2.9z" fill="#bff700"/>
<path d="M610.5 481.4h2.9v2.9h-2.9z" fill="#d0f600"/>
<path d="M613.1 481.4h2.9v2.9h-2.9z" fill="#ebf500"/>
<path d="M615.7 481.4h2.9v2.9h-2.9z" fill="#fde800"/>
<path d="M618.3 481.4h2.9v2.9h-2.9z" fill="#ffd400"/>
<path d="M620.9 481.4h2.9v2.9h-2.9z" fill="#ffb300"/>
<path d="M623.5 481.4h2.9v2.9h-2.9z" fill="#ff9700"/>
<path d="M626.1 481.4h2.9v2.9h-2.9z" fill="#ff8500"/>
<path d="M628.7 481.4h2.9v2.9h-2.9z" fill="#ff7d00"/>
<path d="M631.3 481.4h2.9v2.9h-2.9z" fill="#ff7c00"/>
<path d="M633.9 481.4h2.9v2.9h-2.9z" fill="#ff8200"/>
<path d="M636.5 481.4h2.9v2.9h-2.9z" fill="#ff8e00"/>
<path d="M639.1 481.4h2.9v2.9h-2.9z" fill="#ff9e00"/>
<path d="M641.7 481.4h2.9v2.9h-2.9z" fill="#ffb200"/>
<path d="M644.3 481.4h2.9v2.9h-2.9z" fill="#ffc700"/>
<path d="M646.9 481.4h2.9v2.9h-2.9z" fill="#ffd900"/>
<path d="M649.5 481.4h2.9v2.9h-2.9z" fill="#ffe500"/>
<path d="M652.1 481.4h2.9v2.9h-2.9z" fill="#f8ed00"/>
<path d="M654.7 481.4h2.9v2.9h-2.9z" fill="#f1f400"/>
<path d="M657.3 481.4h2.9v2.9h-2.9z" fill="#e8f500"/>
<path d="M659.9 481.4h2.9v2.9h-2.9z" fill="#e3f600"/>
<path d="M662.5 481.4h2.9v2.9h-2.9z" fill="#e1f600"/>
<path d="M665.1 481.4h2.9v2.9h-2.9z" fill="#e3f600"/>
</g></g>
<rect x="506.5" y="341.0" width="151.2" height="134" fill="none" stroke="#6a6a6a" stroke-width="0.9"/>
<line x1="503.5" y1="475" x2="506.5" y2="475" stroke="#3c3c3c" stroke-width="0.9"/>
<text x="503.2" y="478.3" font-size="8.9" text-anchor="end" fill="#000">−60</text>
<line x1="506.5" y1="475" x2="506.5" y2="478" stroke="#3c3c3c" stroke-width="0.9"/>
<text x="506.5" y="489" font-size="8.9" text-anchor="middle" fill="#000">−60</text>
<line x1="503.5" y1="452.67" x2="506.5" y2="452.67" stroke="#3c3c3c" stroke-width="0.9"/>
<text x="503.2" y="455.97" font-size="8.9" text-anchor="end" fill="#000">−40</text>
<line x1="531.7" y1="475" x2="531.7" y2="478" stroke="#3c3c3c" stroke-width="0.9"/>
<text x="531.7" y="489" font-size="8.9" text-anchor="middle" fill="#000">−40</text>
<line x1="503.5" y1="430.33" x2="506.5" y2="430.33" stroke="#3c3c3c" stroke-width="0.9"/>
<text x="503.2" y="433.63" font-size="8.9" text-anchor="end" fill="#000">−20</text>
<line x1="556.9" y1="475" x2="556.9" y2="478" stroke="#3c3c3c" stroke-width="0.9"/>
<text x="556.9" y="489" font-size="8.9" text-anchor="middle" fill="#000">−20</text>
<line x1="503.5" y1="408" x2="506.5" y2="408" stroke="#3c3c3c" stroke-width="0.9"/>
<text x="503.2" y="411.3" font-size="8.9" text-anchor="end" fill="#000">0</text>
<line x1="582.1" y1="475" x2="582.1" y2="478" stroke="#3c3c3c" stroke-width="0.9"/>
<text x="582.1" y="489" font-size="8.9" text-anchor="middle" fill="#000">0</text>
<line x1="503.5" y1="385.67" x2="506.5" y2="385.67" stroke="#3c3c3c" stroke-width="0.9"/>
<text x="503.2" y="388.97" font-size="8.9" text-anchor="end" fill="#000">20</text>
<line x1="607.3" y1="475" x2="607.3" y2="478" stroke="#3c3c3c" stroke-width="0.9"/>
<text x="607.3" y="489" font-size="8.9" text-anchor="middle" fill="#000">20</text>
<line x1="503.5" y1="363.33" x2="506.5" y2="363.33" stroke="#3c3c3c" stroke-width="0.9"/>
<text x="503.2" y="366.63" font-size="8.9" text-anchor="end" fill="#000">40</text>
<line x1="632.5" y1="475" x2="632.5" y2="478" stroke="#3c3c3c" stroke-width="0.9"/>
<text x="632.5" y="489" font-size="8.9" text-anchor="middle" fill="#000">40</text>
<line x1="503.5" y1="341" x2="506.5" y2="341" stroke="#3c3c3c" stroke-width="0.9"/>
<text x="503.2" y="344.3" font-size="8.9" text-anchor="end" fill="#000">60</text>
<line x1="657.7" y1="475" x2="657.7" y2="478" stroke="#3c3c3c" stroke-width="0.9"/>
<text x="657.7" y="489" font-size="8.9" text-anchor="middle" fill="#000">60</text>
<line x1="504.7" y1="463.83" x2="506.5" y2="463.83" stroke="#3c3c3c" stroke-width="0.8"/>
<line x1="519.1" y1="475" x2="519.1" y2="476.8" stroke="#3c3c3c" stroke-width="0.8"/>
<line x1="504.7" y1="441.5" x2="506.5" y2="441.5" stroke="#3c3c3c" stroke-width="0.8"/>
<line x1="544.3" y1="475" x2="544.3" y2="476.8" stroke="#3c3c3c" stroke-width="0.8"/>
<line x1="504.7" y1="419.17" x2="506.5" y2="419.17" stroke="#3c3c3c" stroke-width="0.8"/>
<line x1="569.5" y1="475" x2="569.5" y2="476.8" stroke="#3c3c3c" stroke-width="0.8"/>
<line x1="504.7" y1="396.83" x2="506.5" y2="396.83" stroke="#3c3c3c" stroke-width="0.8"/>
<line x1="594.7" y1="475" x2="594.7" y2="476.8" stroke="#3c3c3c" stroke-width="0.8"/>
<line x1="504.7" y1="374.5" x2="506.5" y2="374.5" stroke="#3c3c3c" stroke-width="0.8"/>
<line x1="619.9" y1="475" x2="619.9" y2="476.8" stroke="#3c3c3c" stroke-width="0.8"/>
<line x1="504.7" y1="352.17" x2="506.5" y2="352.17" stroke="#3c3c3c" stroke-width="0.8"/>
<line x1="645.1" y1="475" x2="645.1" y2="476.8" stroke="#3c3c3c" stroke-width="0.8"/>
<text x="589.3" y="506.5" font-size="9.4" text-anchor="middle" fill="#000">X (µm)</text>
<text transform="translate(484.8 412) rotate(-90)" font-size="9.4" text-anchor="middle">Y (µm)</text>
<linearGradient id="cbar" x1="0" x2="0" y1="0" y2="1"><stop offset="0.00" stop-color="rgb(255, 30, 0)"/><stop offset="0.07" stop-color="rgb(255, 100, 0)"/><stop offset="0.12" stop-color="rgb(255, 140, 0)"/><stop offset="0.20" stop-color="rgb(255, 210, 0)"/><stop offset="0.24" stop-color="rgb(255, 230, 0)"/><stop offset="0.28" stop-color="rgb(240, 245, 0)"/><stop offset="0.35" stop-color="rgb(176, 248, 0)"/><stop offset="0.42" stop-color="rgb(120, 245, 0)"/><stop offset="0.48" stop-color="rgb(60, 242, 0)"/><stop offset="0.55" stop-color="rgb(0, 245, 0)"/><stop offset="0.59" stop-color="rgb(0, 245, 70)"/><stop offset="0.64" stop-color="rgb(0, 245, 130)"/><stop offset="0.73" stop-color="rgb(0, 235, 255)"/><stop offset="0.85" stop-color="rgb(0, 120, 255)"/><stop offset="1.00" stop-color="rgb(0, 0, 255)"/></linearGradient>
<rect x="668.1" y="344" width="6.2" height="126.4" fill="url(#cbar)"/>
<text x="664.2" y="342.6" font-size="8.3" text-anchor="start" fill="#000">100%</text>
<text x="667.7" y="480.8" font-size="8.3" text-anchor="start" fill="#000">0%</text>
</svg>
</body></html>
